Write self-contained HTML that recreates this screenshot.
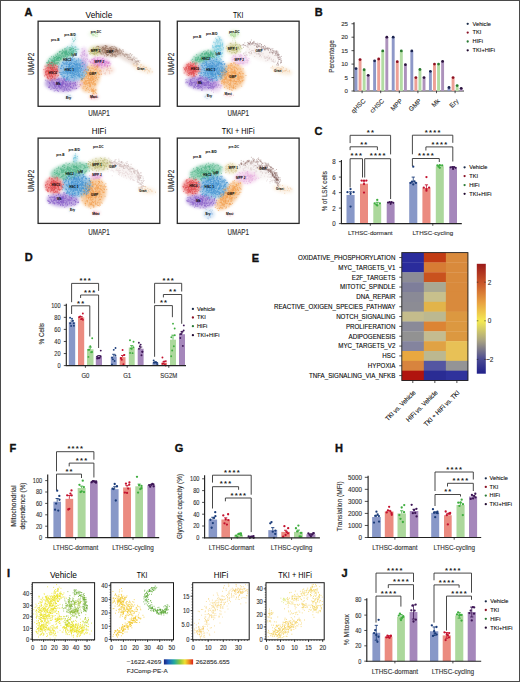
<!DOCTYPE html>
<html><head><meta charset="utf-8"><style>
html,body{margin:0;padding:0;background:#fff;width:520px;height:682px;overflow:hidden;}
svg{display:block;font-family:"Liberation Sans",sans-serif;}
</style></head><body>
<svg width="520" height="682" viewBox="0 0 520 682">
<rect x="0" y="0" width="520" height="682" fill="#fff"/>
<text x="24.60" y="16.30" font-size="11" font-weight="bold" fill="#111" stroke="#111" stroke-width="0.35">A</text>
<defs><filter id="bl" x="-50%" y="-50%" width="200%" height="200%"><feGaussianBlur stdDeviation="1.7"/></filter></defs>
<svg x="38.1" y="21.2" width="121.70000000000002" height="85.1" viewBox="38.1 21.2 121.70000000000002 85.1" overflow="hidden">
<ellipse cx="142.0" cy="68.0" rx="11.9" ry="3.8" transform="rotate(22 142.0 68.0)" fill="#f6e0c4" opacity="0.56" filter="url(#bl)"/>
<ellipse cx="126.0" cy="57.0" rx="13.0" ry="3.8" transform="rotate(30 126.0 57.0)" fill="#c8a898" opacity="0.40" filter="url(#bl)"/>
<ellipse cx="108.0" cy="51.0" rx="13.0" ry="5.6" transform="rotate(8 108.0 51.0)" fill="#c8a898" opacity="0.76" filter="url(#bl)"/>
<ellipse cx="95.0" cy="51.0" rx="6.5" ry="4.9" transform="rotate(0 95.0 51.0)" fill="#d8d4a0" opacity="0.76" filter="url(#bl)"/>
<ellipse cx="105.0" cy="70.0" rx="9.7" ry="4.9" transform="rotate(0 105.0 70.0)" fill="#f4d0c0" opacity="0.48" filter="url(#bl)"/>
<ellipse cx="84.0" cy="60.0" rx="4.3" ry="13.0" transform="rotate(0 84.0 60.0)" fill="#e4c4ec" opacity="0.72" filter="url(#bl)"/>
<ellipse cx="100.0" cy="62.5" rx="10.8" ry="5.4" transform="rotate(5 100.0 62.5)" fill="#e8a8e0" opacity="0.72" filter="url(#bl)"/>
<ellipse cx="90.5" cy="78.0" rx="9.2" ry="15.1" transform="rotate(22 90.5 78.0)" fill="#f6bc80" opacity="0.72" filter="url(#bl)"/>
<ellipse cx="94.0" cy="91.0" rx="3.2" ry="4.3" transform="rotate(0 94.0 91.0)" fill="#f6bc80" opacity="0.48" filter="url(#bl)"/>
<ellipse cx="76.0" cy="84.0" rx="6.5" ry="5.4" transform="rotate(0 76.0 84.0)" fill="#e4c4ec" opacity="0.56" filter="url(#bl)"/>
<ellipse cx="72.0" cy="50.5" rx="7.0" ry="5.4" transform="rotate(-10 72.0 50.5)" fill="#a8dce8" opacity="0.64" filter="url(#bl)"/>
<ellipse cx="54.0" cy="61.5" rx="8.6" ry="5.4" transform="rotate(-35 54.0 61.5)" fill="#78c8a4" opacity="0.76" filter="url(#bl)"/>
<ellipse cx="65.0" cy="54.0" rx="10.8" ry="5.2" transform="rotate(-20 65.0 54.0)" fill="#78c8a4" opacity="0.76" filter="url(#bl)"/>
<ellipse cx="61.0" cy="84.5" rx="16.2" ry="7.3" transform="rotate(5 61.0 84.5)" fill="#a888d8" opacity="0.76" filter="url(#bl)"/>
<ellipse cx="73.0" cy="69.5" rx="14.6" ry="11.9" transform="rotate(0 73.0 69.5)" fill="#78b4e0" opacity="0.76" filter="url(#bl)"/>
<ellipse cx="51.5" cy="71.5" rx="7.6" ry="8.6" transform="rotate(0 51.5 71.5)" fill="#ec7272" opacity="0.76" filter="url(#bl)"/>
<ellipse cx="94.0" cy="97.0" rx="4.9" ry="2.2" transform="rotate(0 94.0 97.0)" fill="#f0b0b8" opacity="0.64" filter="url(#bl)"/>
<ellipse cx="68.5" cy="97.0" rx="3.8" ry="2.4" transform="rotate(0 68.5 97.0)" fill="#d0e0ee" opacity="0.64" filter="url(#bl)"/>
<ellipse cx="74.0" cy="40.0" rx="2.2" ry="6.5" transform="rotate(20 74.0 40.0)" fill="#a8dce8" opacity="0.32" filter="url(#bl)"/>
<ellipse cx="94.0" cy="34.0" rx="5.4" ry="3.2" transform="rotate(0 94.0 34.0)" fill="#d0ecc0" opacity="0.40" filter="url(#bl)"/>
<path d="M147.6 73.0h.1M142.8 66.9h.1M136.4 65.8h.1M137.7 63.6h.1M142.9 68.6h.1M145.4 67.6h.1M142.1 67.9h.1M134.0 65.8h.1M143.1 68.2h.1M148.2 70.9h.1M146.9 69.3h.1M142.4 70.1h.1M145.5 69.6h.1M136.2 66.5h.1M141.9 69.3h.1M142.4 70.2h.1M141.6 68.2h.1M146.1 67.6h.1M140.3 66.4h.1M152.2 71.9h.1M144.9 70.3h.1M141.6 64.9h.1M147.2 69.3h.1M146.5 67.4h.1M138.9 69.1h.1M150.2 68.8h.1M135.2 65.2h.1M145.6 69.8h.1M144.2 67.0h.1M144.3 71.0h.1M140.7 64.8h.1M137.6 67.7h.1M133.2 64.3h.1M137.0 65.7h.1M140.7 67.5h.1M149.4 71.8h.1M148.9 70.5h.1M139.3 67.6h.1M143.6 66.3h.1M144.7 68.0h.1" stroke="#e8b888" stroke-width="0.8" stroke-linecap="round" opacity="0.75"/>
<path d="M128.0 54.5h.1M124.5 56.2h.1M139.6 62.3h.1M135.6 58.2h.1M131.6 59.4h.1M126.7 55.0h.1M128.2 57.5h.1M124.5 55.8h.1M125.3 53.9h.1M125.7 54.5h.1M114.5 49.8h.1M134.0 56.8h.1M120.5 49.9h.1M114.6 50.6h.1M132.2 59.5h.1M128.7 57.1h.1M115.7 51.0h.1M119.4 50.3h.1M120.8 52.6h.1M121.9 53.9h.1M116.6 49.7h.1M115.8 49.8h.1M113.4 50.2h.1M132.5 60.2h.1M129.3 57.2h.1M138.0 60.8h.1M117.5 50.4h.1M126.9 57.8h.1M112.5 54.2h.1M134.0 63.6h.1M123.1 51.5h.1M123.6 54.0h.1M137.8 61.5h.1M136.3 61.9h.1M137.2 60.3h.1M125.0 56.0h.1M117.1 50.0h.1M119.3 52.7h.1M119.1 52.2h.1M135.2 60.6h.1M115.7 55.3h.1M132.3 60.1h.1M132.0 54.5h.1M123.4 51.3h.1M126.5 54.6h.1M132.2 58.8h.1M136.5 63.9h.1M129.2 55.0h.1M120.8 55.7h.1M131.5 55.4h.1M115.2 50.7h.1M115.8 51.6h.1M133.6 58.1h.1M129.0 55.1h.1M127.7 56.4h.1M121.1 50.7h.1M135.1 62.0h.1M133.1 59.1h.1M130.7 57.8h.1M136.4 61.2h.1M137.1 63.1h.1M116.9 53.7h.1M116.2 50.0h.1M138.4 61.8h.1M118.5 51.9h.1M129.9 57.2h.1M137.0 64.6h.1M124.2 54.7h.1M139.9 60.7h.1M115.6 52.8h.1M135.3 62.0h.1M129.8 59.1h.1M120.7 53.0h.1M121.6 51.8h.1M127.4 54.3h.1M122.4 54.7h.1M122.8 49.9h.1M119.6 53.9h.1M126.9 55.3h.1M112.6 50.7h.1M127.7 55.8h.1M128.6 59.4h.1M126.2 54.1h.1M126.0 54.3h.1M138.0 64.4h.1M138.2 61.5h.1M111.7 50.5h.1M121.0 51.7h.1M137.2 61.7h.1M136.8 58.2h.1M134.2 57.9h.1M116.3 51.6h.1M130.6 57.1h.1M116.5 49.8h.1M124.2 54.8h.1M123.5 55.1h.1M121.5 52.2h.1M123.1 53.6h.1M122.5 53.6h.1M120.1 50.5h.1M122.3 52.9h.1M110.5 49.7h.1M127.5 57.9h.1M131.7 60.1h.1M125.5 56.1h.1M130.2 53.8h.1M119.6 51.6h.1M111.0 50.3h.1M116.9 48.0h.1M119.8 49.7h.1M121.7 50.9h.1M130.2 53.7h.1M136.2 61.9h.1M119.5 53.7h.1M134.4 59.6h.1M130.2 59.6h.1M116.6 50.7h.1M138.3 60.7h.1M122.9 49.9h.1M116.4 48.1h.1" stroke="#9a7c70" stroke-width="0.6" stroke-linecap="round" opacity="0.8"/>
<path d="M103.5 46.9h.1M95.0 51.2h.1M113.8 51.4h.1M110.4 48.7h.1M110.4 53.3h.1M116.6 56.3h.1M110.9 51.1h.1M103.3 48.8h.1M111.5 53.0h.1M107.5 55.3h.1M111.8 51.6h.1M106.8 51.0h.1M102.7 47.7h.1M110.3 49.8h.1M105.9 53.9h.1M106.4 54.2h.1M107.4 54.9h.1M111.4 46.9h.1M115.4 51.5h.1M96.3 49.7h.1M109.4 47.8h.1M104.2 51.9h.1M116.0 55.1h.1M114.9 54.9h.1M112.3 53.9h.1M103.5 49.4h.1M102.4 50.2h.1M107.8 50.9h.1M101.8 51.1h.1M105.6 53.2h.1M110.4 47.4h.1M99.4 50.0h.1M104.9 51.8h.1M112.8 51.7h.1M98.4 46.5h.1M111.8 48.8h.1M114.6 51.7h.1M111.4 49.2h.1M106.6 52.3h.1M103.0 48.1h.1M107.7 51.1h.1M103.0 52.1h.1M97.8 52.5h.1M100.0 47.7h.1M116.3 49.6h.1M98.1 49.8h.1M102.9 47.4h.1M104.1 48.5h.1M102.6 47.5h.1M117.8 50.6h.1M114.3 48.2h.1M111.7 48.2h.1M105.0 52.3h.1M105.6 45.5h.1M104.8 50.1h.1M111.8 48.9h.1M106.2 50.9h.1M98.2 49.3h.1M102.9 51.4h.1M107.4 50.5h.1M106.1 48.3h.1M105.4 47.3h.1M108.8 52.8h.1M111.7 50.2h.1M117.7 54.6h.1M102.4 49.8h.1M98.4 49.3h.1M111.8 54.9h.1M106.2 46.0h.1M106.5 54.4h.1M108.4 54.4h.1M112.4 55.7h.1M111.8 49.8h.1M105.6 45.8h.1M120.4 53.8h.1M104.5 48.9h.1M98.6 51.5h.1M109.1 49.5h.1M105.6 49.5h.1M114.4 51.4h.1M116.5 50.0h.1M104.5 49.2h.1M104.8 50.3h.1M113.7 55.0h.1M101.2 53.4h.1M108.0 55.2h.1M107.3 48.7h.1M112.5 53.3h.1M105.3 50.7h.1M108.7 51.9h.1M98.2 46.5h.1M108.2 51.7h.1M105.5 46.0h.1M116.1 51.3h.1M101.2 54.2h.1M114.4 54.6h.1M112.8 53.2h.1M102.2 50.3h.1M109.9 52.9h.1M111.2 48.8h.1M104.5 49.6h.1M107.2 48.6h.1M97.6 46.3h.1M109.8 51.2h.1M112.1 46.6h.1M105.2 52.9h.1M96.7 46.6h.1M97.7 52.7h.1M108.4 49.5h.1M108.9 50.9h.1M113.0 54.8h.1M113.3 52.6h.1M112.2 53.7h.1M115.6 47.2h.1M110.0 51.5h.1M109.0 50.5h.1M107.4 52.2h.1M109.1 51.5h.1M102.1 46.9h.1M104.2 45.8h.1M105.2 48.4h.1M105.4 49.1h.1M103.5 49.1h.1M102.3 48.1h.1M105.9 50.6h.1M104.0 52.6h.1M111.1 56.6h.1M100.0 51.6h.1M106.4 46.6h.1M106.8 46.5h.1M115.1 56.8h.1M115.7 48.0h.1M110.4 51.7h.1M111.0 48.7h.1M115.0 52.8h.1M105.0 51.1h.1M100.3 52.4h.1M109.0 50.8h.1M105.5 50.5h.1M108.9 50.1h.1M113.6 52.3h.1M107.8 48.7h.1M114.8 55.4h.1M112.8 46.8h.1M105.6 53.3h.1M107.8 54.3h.1M105.1 52.7h.1M105.7 50.1h.1M104.6 48.2h.1M117.5 52.0h.1M113.2 48.2h.1M95.8 48.0h.1M110.7 49.5h.1M110.9 53.5h.1M105.4 50.5h.1M103.2 53.2h.1M118.3 53.8h.1M105.3 48.8h.1M106.0 53.1h.1M103.0 54.2h.1M100.7 50.0h.1M115.2 56.7h.1M105.3 52.7h.1M94.9 49.9h.1M114.2 46.4h.1M117.7 50.2h.1M112.5 54.0h.1M110.5 47.4h.1M108.2 48.5h.1M116.2 50.8h.1M102.3 51.9h.1M115.3 51.6h.1M109.5 52.5h.1M105.5 47.5h.1M111.3 50.5h.1M99.6 52.1h.1M110.5 51.7h.1M103.6 49.8h.1M111.4 52.8h.1M103.4 48.0h.1M110.0 51.8h.1M113.5 48.7h.1M112.8 56.3h.1M113.6 52.1h.1M113.8 48.4h.1M104.6 55.9h.1M98.7 46.7h.1M113.1 50.0h.1M105.0 47.6h.1M118.2 50.8h.1M107.0 46.1h.1M112.6 51.6h.1M110.4 55.5h.1M109.3 48.1h.1M101.9 50.4h.1M116.3 49.0h.1M106.6 50.4h.1M112.2 49.3h.1M109.6 53.3h.1M107.8 50.7h.1M111.5 53.0h.1M115.9 49.3h.1M115.4 51.4h.1M101.4 48.6h.1M100.7 49.5h.1M100.7 52.0h.1M105.9 52.8h.1M100.1 49.8h.1M112.0 54.7h.1M117.7 52.2h.1M102.9 49.3h.1M115.3 49.6h.1M119.4 49.0h.1M111.6 49.4h.1M97.5 50.6h.1M100.7 53.1h.1M102.6 50.5h.1M105.1 50.9h.1M103.9 52.6h.1M111.6 51.7h.1M106.5 56.0h.1M104.0 49.3h.1M112.6 51.6h.1M98.3 49.3h.1M106.1 48.1h.1M109.6 48.2h.1M106.9 47.9h.1M117.4 51.6h.1M110.5 52.1h.1M112.2 51.2h.1" stroke="#8a6450" stroke-width="0.8" stroke-linecap="round" opacity="0.75"/>
<path d="M97.3 51.3h.1M91.1 53.1h.1M95.7 50.2h.1M91.5 50.1h.1M96.4 50.8h.1M92.0 50.2h.1M94.3 50.0h.1M94.8 52.8h.1M89.7 51.5h.1M98.3 47.9h.1M94.4 50.1h.1M91.6 53.1h.1M94.0 53.6h.1M96.2 50.4h.1M95.9 50.2h.1M90.1 54.2h.1M96.1 53.6h.1M89.6 53.4h.1M97.5 50.9h.1M88.6 51.2h.1M93.0 50.6h.1M95.2 49.0h.1M94.6 51.0h.1M99.4 50.8h.1M94.6 53.8h.1M90.3 52.4h.1M96.2 49.6h.1M94.3 54.5h.1M93.7 51.6h.1M96.3 53.7h.1M91.0 50.4h.1M96.8 52.9h.1M94.1 54.4h.1M94.8 52.6h.1M92.7 52.9h.1M92.8 53.6h.1M97.6 55.2h.1M93.7 48.4h.1M97.5 51.7h.1M93.4 48.0h.1M97.4 46.6h.1M93.6 53.4h.1M94.2 52.0h.1M96.5 52.3h.1M98.2 52.5h.1M93.9 48.2h.1M94.1 49.5h.1M96.2 53.8h.1M97.3 49.4h.1M95.6 51.0h.1M93.6 53.9h.1M96.8 51.8h.1M92.8 53.6h.1M94.4 50.9h.1M94.2 52.1h.1M95.0 54.9h.1M94.6 50.4h.1M99.3 52.7h.1M97.1 52.2h.1M94.9 51.7h.1M96.6 51.2h.1M93.6 49.7h.1M94.0 49.4h.1M92.4 50.8h.1M97.7 50.3h.1M96.4 48.0h.1M97.3 48.4h.1M97.1 49.3h.1M93.2 48.2h.1M91.2 50.5h.1M92.1 50.5h.1M98.4 49.1h.1M94.0 50.8h.1M93.1 50.9h.1M95.7 53.3h.1M92.8 50.5h.1M94.5 53.7h.1M92.0 51.4h.1M97.3 52.3h.1M92.9 48.7h.1" stroke="#b0ac60" stroke-width="0.8" stroke-linecap="round" opacity="0.75"/>
<path d="M96.7 68.8h.1M103.9 66.6h.1M108.8 70.4h.1M103.9 68.8h.1M107.1 69.4h.1M107.3 68.9h.1M109.8 66.3h.1M100.2 74.1h.1M109.7 73.7h.1M101.4 71.6h.1M109.5 72.1h.1M104.2 73.3h.1M106.9 67.1h.1M110.7 68.4h.1M100.8 72.0h.1M108.7 68.3h.1M106.1 67.0h.1M99.8 71.7h.1M109.8 70.8h.1M111.8 70.8h.1M106.3 70.0h.1M106.9 70.8h.1M100.8 69.9h.1M110.5 68.2h.1M107.7 66.1h.1M105.2 74.1h.1M105.4 72.9h.1M103.3 71.0h.1M106.7 65.1h.1M101.4 74.3h.1" stroke="#e8a898" stroke-width="0.8" stroke-linecap="round" opacity="0.75"/>
<path d="M82.3 67.2h.1M87.4 59.7h.1M86.0 62.2h.1M82.8 63.5h.1M84.9 54.1h.1M83.1 51.9h.1M83.3 59.8h.1M82.0 48.8h.1M85.3 67.6h.1M82.2 60.4h.1M88.2 61.7h.1M81.2 67.6h.1M85.4 68.5h.1M85.5 63.2h.1M86.9 58.4h.1M84.5 53.5h.1M81.7 61.3h.1M84.5 50.5h.1M84.7 66.1h.1M81.5 58.0h.1M87.4 54.9h.1M85.1 64.7h.1M84.4 60.9h.1M85.1 61.7h.1M84.3 51.1h.1M84.5 55.3h.1M86.0 60.7h.1M81.8 52.7h.1M86.1 56.1h.1M83.8 60.4h.1M86.5 55.1h.1M83.2 63.7h.1M85.2 59.1h.1M81.9 56.3h.1M80.8 64.7h.1M87.0 56.2h.1M83.1 51.3h.1M82.6 53.9h.1M84.0 70.4h.1M86.1 65.9h.1M82.1 65.0h.1M82.6 54.7h.1M85.5 59.4h.1M83.4 64.5h.1M81.7 64.1h.1M87.1 59.2h.1M83.0 66.7h.1M81.8 62.2h.1M82.9 61.8h.1M82.4 63.6h.1M85.1 70.5h.1M83.3 62.6h.1M80.5 55.3h.1M84.5 51.8h.1M83.8 54.6h.1M85.0 63.6h.1M83.1 63.9h.1M82.9 60.7h.1M85.0 63.3h.1M85.2 70.2h.1M82.7 59.1h.1M80.3 65.2h.1M81.8 56.4h.1M83.0 62.5h.1M83.4 58.3h.1M84.2 58.0h.1M84.0 54.1h.1M82.9 52.7h.1M85.7 65.4h.1M85.3 62.0h.1M82.8 63.3h.1M81.6 69.0h.1M84.5 69.3h.1M82.6 66.1h.1M87.2 65.9h.1M84.6 66.5h.1M83.1 70.6h.1M81.7 55.4h.1M84.0 55.4h.1M87.5 64.0h.1" stroke="#c898d8" stroke-width="0.8" stroke-linecap="round" opacity="0.75"/>
<path d="M96.0 66.4h.1M106.8 62.1h.1M107.5 66.1h.1M97.6 60.9h.1M101.3 65.5h.1M107.5 66.9h.1M98.0 57.8h.1M91.3 65.5h.1M105.0 65.9h.1M100.0 62.7h.1M102.3 63.9h.1M100.6 60.1h.1M93.1 62.3h.1M98.9 66.0h.1M95.1 57.1h.1M90.2 61.6h.1M108.4 62.4h.1M96.4 63.1h.1M107.4 65.9h.1M104.2 65.2h.1M98.5 62.6h.1M101.7 67.2h.1M89.1 60.2h.1M101.9 62.1h.1M99.4 61.8h.1M95.1 63.3h.1M106.5 62.2h.1M101.9 65.5h.1M96.8 62.0h.1M93.2 65.9h.1M108.6 62.7h.1M109.8 65.5h.1M90.8 62.9h.1M101.1 63.9h.1M103.5 61.7h.1M105.6 63.8h.1M109.5 63.0h.1M103.2 58.2h.1M97.1 60.3h.1M104.8 61.3h.1M105.9 61.7h.1M104.9 61.4h.1M93.9 63.5h.1M98.7 63.7h.1M92.0 59.2h.1M97.8 67.3h.1M102.4 58.5h.1M101.9 59.5h.1M104.7 65.1h.1M110.7 63.9h.1M97.3 64.3h.1M93.4 60.8h.1M95.1 60.6h.1M93.9 58.3h.1M94.4 63.0h.1M100.2 62.3h.1M102.2 64.6h.1M101.9 67.9h.1M101.3 63.6h.1M97.3 65.0h.1M104.3 60.1h.1M101.7 62.9h.1M94.0 58.6h.1M93.9 60.9h.1M98.6 61.7h.1M99.7 63.5h.1M98.0 66.3h.1M99.6 64.2h.1M98.8 65.2h.1M99.9 60.4h.1M100.9 61.7h.1M95.0 67.3h.1M101.8 61.6h.1M95.5 63.0h.1M100.0 61.9h.1M96.4 66.0h.1M101.1 62.1h.1M93.9 60.0h.1M103.8 60.9h.1M103.3 62.5h.1M101.9 63.5h.1M97.9 61.6h.1M99.5 64.1h.1M99.6 60.7h.1M100.6 62.4h.1M101.3 62.5h.1M99.6 65.6h.1M108.4 63.5h.1M107.7 65.5h.1M105.9 63.7h.1M100.9 64.6h.1M95.2 62.2h.1M94.2 64.3h.1M100.9 64.1h.1M98.5 60.4h.1M104.9 61.8h.1M98.9 62.5h.1M102.3 62.9h.1M95.0 59.4h.1M105.1 62.2h.1M99.0 60.2h.1M104.5 64.1h.1M97.7 58.0h.1M109.1 61.9h.1M94.3 60.8h.1M94.3 62.0h.1M97.5 59.3h.1M103.6 60.7h.1M90.7 62.5h.1M97.5 59.5h.1M91.8 60.0h.1M97.1 61.0h.1M97.2 65.4h.1M105.2 63.7h.1M102.9 61.6h.1M92.6 63.2h.1M107.0 61.4h.1M96.7 60.5h.1M93.3 63.3h.1M94.3 65.5h.1M108.3 63.4h.1M100.0 60.4h.1M104.5 63.1h.1M92.8 59.5h.1M102.4 61.5h.1M102.1 63.3h.1M107.2 62.9h.1M105.0 65.7h.1M106.7 62.2h.1M99.2 60.9h.1M100.9 59.6h.1M95.8 61.1h.1M98.4 64.9h.1M94.6 61.6h.1M101.4 61.9h.1M94.8 59.9h.1M97.6 60.9h.1M97.2 63.3h.1M100.0 57.3h.1M107.8 63.2h.1M97.7 65.1h.1M99.5 61.9h.1M95.4 64.4h.1M104.4 60.7h.1M96.9 65.3h.1M96.5 61.1h.1M96.2 61.6h.1M104.3 63.0h.1M104.8 64.4h.1M89.9 61.6h.1" stroke="#d070c8" stroke-width="0.8" stroke-linecap="round" opacity="0.75"/>
<path d="M94.8 67.2h.1M93.7 78.9h.1M87.2 80.6h.1M92.4 84.2h.1M88.5 76.9h.1M90.7 78.3h.1M94.8 84.4h.1M92.2 76.4h.1M95.2 80.4h.1M89.7 78.9h.1M93.1 79.3h.1M89.4 83.6h.1M88.3 75.3h.1M89.0 82.6h.1M94.0 75.8h.1M87.4 73.9h.1M86.2 83.0h.1M92.8 79.4h.1M89.7 67.8h.1M89.4 82.2h.1M92.6 77.0h.1M97.9 66.1h.1M91.1 89.6h.1M90.6 79.8h.1M87.3 83.5h.1M88.4 72.8h.1M95.8 69.4h.1M91.2 81.8h.1M91.8 74.8h.1M98.8 77.3h.1M89.0 83.5h.1M87.7 84.8h.1M89.8 79.7h.1M88.7 82.3h.1M85.6 82.8h.1M97.3 72.9h.1M88.1 67.0h.1M85.6 81.2h.1M85.8 90.3h.1M100.7 70.6h.1M89.8 75.4h.1M94.8 85.6h.1M96.3 74.2h.1M101.4 74.1h.1M93.1 71.8h.1M86.3 78.2h.1M85.2 81.0h.1M92.4 79.2h.1M90.1 86.3h.1M97.8 72.3h.1M90.7 84.8h.1M90.0 74.9h.1M93.5 84.2h.1M87.3 87.5h.1M89.6 90.7h.1M86.4 83.8h.1M84.4 70.7h.1M99.6 74.4h.1M90.8 75.5h.1M89.4 86.2h.1M97.2 79.6h.1M89.5 84.2h.1M95.8 78.0h.1M99.6 70.8h.1M95.2 69.5h.1M90.8 72.1h.1M93.1 80.3h.1M89.3 83.0h.1M94.4 74.1h.1M86.0 80.3h.1M90.6 77.2h.1M91.4 80.7h.1M80.8 85.7h.1M90.8 82.3h.1M85.8 84.5h.1M96.4 74.9h.1M96.4 75.0h.1M81.0 80.5h.1M88.0 72.8h.1M87.0 76.0h.1M88.7 78.5h.1M88.1 89.3h.1M91.0 82.0h.1M90.3 84.1h.1M93.3 81.3h.1M88.4 69.9h.1M92.5 76.4h.1M90.3 74.0h.1M84.8 84.0h.1M96.9 71.0h.1M91.3 78.2h.1M85.9 84.1h.1M91.6 79.0h.1M84.6 82.8h.1M90.7 80.2h.1M83.9 86.6h.1M87.3 67.0h.1M87.8 73.1h.1M88.7 78.7h.1M94.3 83.8h.1M91.4 77.2h.1M89.9 83.8h.1M83.0 88.2h.1M88.2 83.5h.1M85.4 86.2h.1M93.7 81.7h.1M93.8 77.0h.1M83.9 84.0h.1M87.1 72.7h.1M88.4 70.0h.1M86.7 82.8h.1M84.8 81.2h.1M85.4 69.6h.1M85.3 80.9h.1M86.5 88.6h.1M86.3 88.7h.1M94.3 81.7h.1M86.7 71.5h.1M98.9 74.7h.1M87.4 73.3h.1M95.2 80.7h.1M86.1 71.5h.1M90.1 86.5h.1M95.2 83.8h.1M94.9 72.5h.1M91.9 68.3h.1M88.9 80.4h.1M93.1 72.0h.1M90.3 84.9h.1M89.9 85.5h.1M93.3 79.4h.1M92.1 76.8h.1M90.4 70.5h.1M91.3 82.4h.1M94.1 79.1h.1M88.9 92.4h.1M89.5 73.2h.1M87.5 74.1h.1M84.8 78.2h.1M90.0 86.9h.1M96.5 77.6h.1M93.3 73.2h.1M90.5 78.7h.1M92.6 78.4h.1M83.7 82.8h.1M93.6 68.8h.1M82.0 79.7h.1M81.7 79.5h.1M95.0 83.9h.1M92.2 83.0h.1M87.6 78.5h.1M81.6 79.0h.1M92.6 80.0h.1M95.2 78.6h.1M80.1 84.4h.1M92.5 74.2h.1M89.4 74.8h.1M94.6 70.2h.1M91.9 75.9h.1M93.9 77.0h.1M95.3 73.3h.1M92.7 76.6h.1M93.7 82.1h.1M95.7 76.5h.1M88.2 76.9h.1M87.2 74.6h.1M98.2 73.1h.1M88.1 77.6h.1M89.5 74.2h.1M93.2 74.2h.1M81.2 78.7h.1M91.2 80.4h.1M92.2 80.1h.1M86.4 81.1h.1M89.9 79.0h.1M86.0 76.8h.1M92.5 72.4h.1M88.6 74.0h.1M92.2 74.0h.1M86.0 76.7h.1M84.9 78.2h.1M87.7 75.4h.1M86.6 72.6h.1M92.2 72.1h.1M88.4 72.6h.1M86.3 77.0h.1M88.2 75.9h.1M88.9 82.4h.1M89.1 74.3h.1M97.7 64.8h.1M93.0 72.3h.1M94.7 77.3h.1M84.4 83.3h.1M90.6 71.5h.1M97.3 66.3h.1M88.0 82.2h.1M83.2 82.1h.1M90.7 74.0h.1M80.4 84.4h.1M96.6 77.9h.1M96.8 66.4h.1M89.8 80.5h.1M89.2 72.7h.1M91.8 72.4h.1M82.0 80.1h.1M92.4 83.0h.1M90.6 85.7h.1M92.0 74.4h.1M84.7 79.3h.1M89.6 68.7h.1M89.6 81.9h.1M93.1 78.2h.1M92.7 78.1h.1M89.4 75.5h.1M91.1 83.3h.1M96.1 68.9h.1M88.3 80.9h.1M87.7 80.5h.1M87.9 85.7h.1M81.2 75.4h.1M92.9 83.9h.1M89.1 75.8h.1M88.0 80.2h.1M94.9 75.4h.1M93.4 82.6h.1M83.4 72.3h.1M91.7 73.5h.1M91.0 77.8h.1M90.9 76.0h.1M93.1 74.6h.1M97.2 67.5h.1M92.0 75.0h.1M88.3 79.2h.1M85.4 74.4h.1M90.7 74.4h.1M86.2 81.3h.1M93.2 71.3h.1M84.7 82.7h.1M90.0 80.5h.1M90.0 79.4h.1M90.9 70.9h.1M89.0 70.8h.1M95.7 84.7h.1M91.0 77.4h.1M82.3 80.3h.1M81.1 81.8h.1M92.2 68.2h.1M98.7 74.0h.1M89.9 76.5h.1M83.6 78.5h.1" stroke="#f09238" stroke-width="0.8" stroke-linecap="round" opacity="0.75"/>
<path d="M92.0 90.6h.1M92.3 94.1h.1M94.1 93.9h.1M93.2 91.4h.1M94.8 91.1h.1M93.6 93.2h.1M94.6 91.1h.1M92.5 91.9h.1M93.5 90.5h.1M91.8 90.3h.1M96.0 90.0h.1M92.5 90.4h.1M95.6 89.7h.1M91.6 91.5h.1M93.5 91.3h.1M91.5 88.8h.1M93.5 91.7h.1M96.6 93.7h.1M95.7 92.9h.1M95.5 92.3h.1M94.9 90.2h.1M93.3 93.6h.1M92.3 89.9h.1M93.7 91.4h.1M93.0 90.1h.1M92.8 89.5h.1M92.2 91.3h.1M93.9 92.2h.1M93.5 88.9h.1M93.2 90.4h.1" stroke="#f09238" stroke-width="0.8" stroke-linecap="round" opacity="0.75"/>
<path d="M71.6 83.8h.1M76.3 80.3h.1M72.1 86.0h.1M73.2 82.4h.1M74.2 82.4h.1M77.6 84.5h.1M82.2 83.1h.1M77.1 82.3h.1M78.8 80.3h.1M73.5 83.5h.1M81.9 84.0h.1M71.4 85.4h.1M79.2 82.3h.1M71.0 83.0h.1M75.2 83.4h.1M75.5 84.1h.1M74.6 81.0h.1M79.5 86.5h.1M72.6 81.8h.1M73.4 78.7h.1M72.1 85.1h.1M72.1 83.4h.1M75.2 82.5h.1M77.4 84.4h.1M79.7 84.8h.1M74.2 88.1h.1M76.9 85.2h.1M76.9 83.2h.1M73.2 87.1h.1M73.8 83.2h.1M78.6 86.5h.1M76.1 88.9h.1M80.1 84.5h.1M75.3 86.8h.1M71.0 85.8h.1M78.0 87.9h.1M80.2 84.8h.1M77.4 81.6h.1M77.6 82.1h.1M72.0 88.3h.1" stroke="#c898d8" stroke-width="0.8" stroke-linecap="round" opacity="0.75"/>
<path d="M77.6 49.2h.1M68.4 55.0h.1M71.3 52.2h.1M72.4 54.3h.1M75.8 49.4h.1M76.2 52.2h.1M76.0 47.2h.1M74.8 50.0h.1M72.2 46.6h.1M78.8 49.2h.1M72.8 46.6h.1M71.5 51.1h.1M71.9 47.7h.1M73.0 49.3h.1M74.4 47.2h.1M75.3 47.3h.1M68.7 52.3h.1M74.1 51.2h.1M70.1 50.1h.1M69.6 53.8h.1M65.9 48.6h.1M68.5 52.4h.1M67.6 53.3h.1M73.2 51.3h.1M71.4 54.0h.1M70.4 49.5h.1M72.0 53.9h.1M72.3 55.2h.1M76.9 52.4h.1M75.5 53.2h.1M72.5 50.1h.1M67.5 46.6h.1M72.0 47.7h.1M71.6 48.5h.1M72.7 47.9h.1M72.7 50.3h.1M70.4 50.1h.1M65.9 51.8h.1M72.2 51.1h.1M72.7 47.9h.1M76.5 51.6h.1M73.0 49.7h.1M69.5 49.4h.1M73.2 50.5h.1M74.7 50.6h.1M71.1 53.6h.1M66.9 48.0h.1M73.0 49.1h.1M66.8 47.7h.1M72.6 53.8h.1M76.5 49.4h.1M70.8 48.6h.1M78.0 49.2h.1M71.1 52.6h.1M75.7 49.9h.1M75.4 46.7h.1M73.7 51.7h.1M73.6 51.9h.1M72.8 51.8h.1M65.0 49.9h.1" stroke="#70c8c0" stroke-width="0.8" stroke-linecap="round" opacity="0.75"/>
<path d="M55.2 57.3h.1M54.0 67.6h.1M54.6 61.9h.1M57.7 64.2h.1M52.0 60.4h.1M56.9 63.7h.1M48.0 65.3h.1M52.9 62.7h.1M56.6 60.6h.1M48.5 64.6h.1M53.5 61.7h.1M57.0 58.4h.1M51.7 62.6h.1M55.1 62.9h.1M46.4 62.7h.1M55.1 63.6h.1M54.2 62.1h.1M59.9 57.7h.1M54.9 60.7h.1M57.9 60.3h.1M54.2 63.5h.1M54.8 59.5h.1M59.4 64.0h.1M48.9 61.8h.1M53.3 61.3h.1M54.7 60.9h.1M56.1 63.4h.1M55.8 60.3h.1M55.8 60.4h.1M54.9 60.2h.1M51.7 62.6h.1M56.7 59.7h.1M55.6 64.2h.1M55.6 57.7h.1M51.2 63.0h.1M57.1 62.5h.1M50.4 68.1h.1M54.5 61.8h.1M57.1 60.2h.1M56.1 63.1h.1M56.3 56.5h.1M47.3 63.0h.1M54.5 60.4h.1M52.6 60.9h.1M52.0 64.5h.1M54.3 62.2h.1M57.9 63.3h.1M60.1 55.5h.1M58.5 58.9h.1M57.1 62.8h.1M51.9 62.6h.1M58.1 60.5h.1M60.8 58.6h.1M54.3 61.0h.1M53.4 56.4h.1M58.7 59.2h.1M52.1 63.1h.1M54.1 57.9h.1M58.3 57.6h.1M54.5 60.4h.1M53.4 64.8h.1M50.8 63.5h.1M54.0 57.8h.1M54.7 58.3h.1M56.4 58.8h.1M58.2 58.4h.1M52.1 65.8h.1M59.3 60.7h.1M47.7 62.7h.1M57.7 60.4h.1M52.7 61.8h.1M51.5 56.7h.1M48.3 61.8h.1M56.9 58.4h.1M46.9 66.0h.1M51.8 60.8h.1M48.0 63.0h.1M54.3 59.9h.1M58.4 62.5h.1M50.6 59.1h.1M50.9 63.9h.1M56.2 59.4h.1M54.1 62.1h.1M59.0 60.2h.1M51.9 61.1h.1M53.0 60.3h.1M52.2 65.9h.1M53.1 58.9h.1M53.8 58.4h.1M48.5 60.4h.1M49.4 63.2h.1M54.6 60.7h.1M54.9 60.9h.1M54.1 64.9h.1M48.9 62.0h.1M60.9 57.3h.1M52.7 67.3h.1M53.5 61.2h.1M50.6 63.6h.1M56.3 59.8h.1M52.9 63.4h.1M58.1 58.7h.1M52.0 61.7h.1M54.3 59.4h.1M57.7 57.2h.1M57.2 58.7h.1M54.7 57.5h.1M51.8 60.0h.1M51.3 63.2h.1M52.9 68.2h.1M60.7 59.5h.1M53.1 60.3h.1M49.5 67.1h.1M50.0 64.1h.1M52.0 62.9h.1M59.3 57.5h.1M54.6 63.8h.1M49.5 58.7h.1M51.1 62.8h.1M52.8 65.3h.1" stroke="#3aa878" stroke-width="0.8" stroke-linecap="round" opacity="0.75"/>
<path d="M69.7 49.7h.1M65.3 54.4h.1M62.4 53.3h.1M66.6 52.3h.1M73.4 50.8h.1M65.1 54.4h.1M65.6 52.7h.1M68.3 54.8h.1M66.3 54.5h.1M58.1 55.4h.1M65.1 53.1h.1M70.3 53.0h.1M64.3 52.5h.1M62.9 54.1h.1M71.7 48.5h.1M69.0 51.6h.1M73.3 53.3h.1M61.2 56.2h.1M58.9 58.0h.1M63.4 51.9h.1M65.2 55.4h.1M66.7 53.2h.1M70.6 55.2h.1M65.9 52.6h.1M66.8 56.9h.1M70.6 49.8h.1M64.9 51.9h.1M66.1 52.5h.1M61.2 57.1h.1M64.4 53.6h.1M69.4 53.5h.1M72.2 56.0h.1M59.5 57.2h.1M57.4 59.0h.1M73.2 48.5h.1M71.2 53.5h.1M65.0 48.4h.1M59.7 54.9h.1M65.4 54.2h.1M68.9 52.9h.1M63.3 52.1h.1M61.2 54.8h.1M75.1 49.4h.1M65.4 56.4h.1M69.2 54.0h.1M66.7 57.5h.1M63.4 58.2h.1M72.5 51.9h.1M62.0 53.5h.1M64.6 49.1h.1M70.3 49.9h.1M59.6 57.2h.1M64.6 51.9h.1M70.2 49.1h.1M61.0 51.4h.1M73.6 52.3h.1M58.7 57.6h.1M61.4 53.1h.1M62.6 49.9h.1M65.9 53.7h.1M71.3 49.5h.1M57.6 54.2h.1M62.9 56.9h.1M75.9 51.5h.1M66.1 50.7h.1M57.4 53.7h.1M69.0 55.4h.1M62.9 51.4h.1M68.5 52.4h.1M60.2 51.7h.1M63.0 55.5h.1M68.0 55.2h.1M75.2 49.8h.1M69.9 50.0h.1M58.2 56.4h.1M61.8 56.7h.1M62.4 50.4h.1M64.3 52.7h.1M62.0 53.6h.1M65.1 55.9h.1M67.4 53.2h.1M59.8 51.9h.1M57.3 57.8h.1M66.9 53.6h.1M65.5 52.8h.1M72.0 52.3h.1M69.9 52.9h.1M65.5 52.6h.1M69.2 47.8h.1M71.2 51.2h.1M65.8 52.4h.1M55.7 55.1h.1M66.5 52.3h.1M66.5 51.2h.1M56.5 56.7h.1M62.3 53.0h.1M70.2 47.5h.1M65.3 53.1h.1M71.2 52.1h.1M66.8 54.0h.1M65.8 53.1h.1M64.9 56.2h.1M65.2 51.2h.1M67.3 56.8h.1M65.0 51.0h.1M61.0 58.4h.1M69.6 53.8h.1M62.6 53.0h.1M60.4 58.7h.1M69.4 58.0h.1M67.6 54.5h.1M62.1 53.9h.1M66.7 51.3h.1M70.7 54.6h.1M59.6 57.5h.1M66.4 54.1h.1M64.4 57.2h.1M66.5 55.1h.1M66.3 51.9h.1M60.9 59.7h.1M73.1 51.0h.1M71.2 55.1h.1M72.9 53.6h.1M65.0 55.8h.1M62.9 55.4h.1M59.3 51.9h.1M59.5 52.0h.1M67.5 54.8h.1M66.6 51.5h.1M63.8 51.1h.1M67.4 54.6h.1M73.2 48.5h.1M64.2 54.0h.1M66.0 49.9h.1M66.2 59.2h.1M72.0 53.2h.1M62.6 52.6h.1M65.7 52.2h.1M63.4 56.5h.1M65.5 51.6h.1" stroke="#3aa878" stroke-width="0.8" stroke-linecap="round" opacity="0.75"/>
<path d="M51.5 80.9h.1M72.9 83.6h.1M59.6 87.5h.1M72.8 88.3h.1M64.1 82.8h.1M54.2 84.5h.1M60.6 85.3h.1M66.5 90.0h.1M62.7 80.5h.1M65.8 82.0h.1M59.0 83.4h.1M66.4 88.7h.1M65.9 81.7h.1M69.1 83.6h.1M49.7 86.7h.1M75.4 82.3h.1M58.4 82.3h.1M57.2 88.2h.1M67.1 85.7h.1M62.6 82.1h.1M57.4 81.9h.1M65.3 87.2h.1M58.2 86.7h.1M54.2 91.0h.1M53.3 82.0h.1M60.2 87.2h.1M63.3 81.8h.1M65.1 87.6h.1M65.6 81.4h.1M68.1 91.3h.1M70.5 86.4h.1M67.5 84.5h.1M54.7 83.5h.1M57.8 85.1h.1M52.7 80.2h.1M61.7 84.9h.1M61.1 87.7h.1M50.0 85.7h.1M59.1 84.2h.1M69.0 85.6h.1M67.2 90.4h.1M61.2 78.4h.1M57.3 82.6h.1M62.9 81.9h.1M62.0 85.4h.1M57.0 79.6h.1M55.0 86.5h.1M55.7 88.0h.1M56.0 84.2h.1M57.8 84.1h.1M63.5 81.4h.1M54.1 79.0h.1M69.6 84.9h.1M70.4 87.5h.1M58.9 82.2h.1M62.3 81.9h.1M60.7 85.9h.1M52.1 79.8h.1M59.1 81.6h.1M60.2 85.5h.1M63.4 87.0h.1M61.5 85.5h.1M60.1 84.7h.1M60.4 84.4h.1M58.4 85.3h.1M66.7 89.5h.1M72.5 88.1h.1M56.9 79.7h.1M49.4 82.4h.1M62.1 88.0h.1M61.7 84.6h.1M51.9 86.1h.1M75.1 84.3h.1M76.5 88.4h.1M54.7 86.1h.1M62.7 85.9h.1M51.9 85.0h.1M68.0 81.1h.1M64.2 89.1h.1M63.6 82.4h.1M59.3 86.9h.1M65.2 84.5h.1M56.4 81.7h.1M60.0 80.4h.1M63.3 91.3h.1M59.5 84.2h.1M61.7 86.6h.1M58.9 86.1h.1M55.1 80.3h.1M56.5 85.8h.1M56.4 81.6h.1M63.3 77.9h.1M55.8 90.4h.1M48.4 87.2h.1M56.6 82.2h.1M57.6 90.8h.1M56.7 84.3h.1M57.5 83.3h.1M66.3 86.0h.1M62.0 82.3h.1M62.5 83.9h.1M60.6 84.7h.1M57.5 79.8h.1M64.5 78.7h.1M67.7 83.1h.1M53.9 87.3h.1M56.1 84.3h.1M54.1 85.3h.1M63.4 83.8h.1M59.8 79.1h.1M69.5 83.0h.1M60.1 82.7h.1M62.8 83.9h.1M58.2 83.2h.1M62.0 89.8h.1M52.2 87.2h.1M61.5 86.0h.1M55.6 87.4h.1M67.1 78.7h.1M56.7 83.3h.1M49.7 83.4h.1M61.5 82.8h.1M70.5 84.6h.1M67.1 85.1h.1M62.3 83.6h.1M56.3 88.8h.1M68.9 89.1h.1M56.1 82.6h.1M62.2 83.4h.1M65.0 90.3h.1M56.9 82.7h.1M49.3 87.6h.1M62.2 85.7h.1M56.0 84.1h.1M58.9 82.0h.1M64.5 89.2h.1M70.2 84.2h.1M61.5 80.1h.1M58.8 85.3h.1M56.4 83.7h.1M53.9 82.4h.1M52.0 82.1h.1M45.3 80.2h.1M57.5 83.6h.1M70.5 81.6h.1M55.3 86.7h.1M54.2 82.6h.1M76.6 88.3h.1M75.9 85.4h.1M50.2 84.7h.1M53.9 84.6h.1M63.6 86.6h.1M54.9 84.4h.1M63.3 89.2h.1M57.6 90.5h.1M65.4 86.2h.1M56.3 85.2h.1M65.8 81.5h.1M65.6 85.8h.1M59.2 81.6h.1M59.2 86.6h.1M73.5 86.0h.1M58.2 86.5h.1M67.8 87.6h.1M62.3 84.4h.1M52.4 83.8h.1M53.6 82.8h.1M70.2 83.3h.1M60.1 84.4h.1M58.3 82.4h.1M62.1 83.8h.1M63.4 83.2h.1M63.7 82.9h.1M64.3 86.9h.1M49.5 83.4h.1M58.2 84.1h.1M74.7 83.6h.1M59.6 85.1h.1M65.4 84.3h.1M54.5 88.4h.1M73.8 82.9h.1M64.8 80.4h.1M63.1 82.4h.1M65.4 83.5h.1M69.8 89.4h.1M73.6 85.3h.1M58.8 83.3h.1M56.4 83.7h.1M53.7 83.0h.1M66.7 88.3h.1M64.5 79.6h.1M67.5 83.7h.1M65.8 84.6h.1M49.1 87.3h.1M67.3 86.8h.1M66.1 85.1h.1M51.8 88.8h.1M58.7 83.2h.1M65.1 79.3h.1M59.2 86.3h.1M62.0 87.6h.1M62.4 84.8h.1M64.2 88.2h.1M63.0 84.5h.1M64.0 80.8h.1M60.1 81.9h.1M62.0 84.3h.1M68.7 84.9h.1M58.5 91.3h.1M53.6 83.9h.1M58.1 87.6h.1M60.7 88.6h.1M55.5 85.1h.1M65.3 84.9h.1M63.7 79.5h.1M64.8 83.9h.1M75.3 82.6h.1M75.4 85.1h.1M47.0 80.9h.1M63.1 86.2h.1M68.1 89.1h.1M65.8 84.4h.1M70.7 90.7h.1M63.9 83.5h.1M66.9 85.6h.1M60.8 84.9h.1M69.2 90.3h.1M68.5 86.6h.1M59.0 79.0h.1M59.4 86.1h.1M54.6 85.4h.1M55.0 84.9h.1M66.4 85.1h.1M66.4 81.7h.1M61.8 83.2h.1M61.5 84.5h.1M62.5 82.1h.1M58.3 78.3h.1M62.9 91.2h.1M57.6 82.7h.1M61.5 86.0h.1M66.6 83.2h.1M58.7 85.7h.1M64.5 80.7h.1M64.2 90.6h.1M48.2 82.0h.1M59.1 80.8h.1M50.7 89.3h.1M62.3 86.1h.1M68.5 81.1h.1M70.3 83.2h.1M68.9 85.2h.1M71.0 87.3h.1M60.6 87.9h.1M56.3 86.3h.1M51.0 83.1h.1M75.0 88.8h.1M53.6 88.4h.1M58.7 85.7h.1M58.3 86.4h.1M56.9 88.9h.1M59.1 82.3h.1M58.5 79.7h.1M65.8 88.8h.1M71.1 87.1h.1M59.6 88.9h.1M72.0 83.4h.1M52.1 82.1h.1M60.8 88.3h.1M69.1 86.5h.1" stroke="#7a4cc0" stroke-width="0.8" stroke-linecap="round" opacity="0.75"/>
<path d="M80.8 68.2h.1M72.5 57.6h.1M69.7 68.3h.1M81.0 69.1h.1M70.8 70.4h.1M70.8 59.0h.1M68.8 68.8h.1M71.8 66.1h.1M70.1 72.8h.1M63.4 68.2h.1M69.2 68.3h.1M73.5 73.4h.1M65.5 60.5h.1M74.3 70.2h.1M68.3 68.4h.1M67.6 77.2h.1M84.5 75.8h.1M65.3 73.4h.1M75.3 70.0h.1M72.1 68.1h.1M69.2 65.9h.1M76.8 65.9h.1M68.8 72.5h.1M66.8 62.4h.1M68.9 71.2h.1M69.5 66.5h.1M77.6 68.7h.1M69.2 80.0h.1M64.6 71.0h.1M72.0 65.8h.1M70.3 70.0h.1M71.4 61.9h.1M74.6 73.9h.1M63.4 59.8h.1M62.7 76.0h.1M72.3 65.6h.1M74.0 69.1h.1M72.1 75.9h.1M78.8 67.6h.1M81.4 75.1h.1M71.4 67.1h.1M70.5 64.4h.1M71.0 64.3h.1M70.4 71.7h.1M80.4 72.2h.1M77.8 75.6h.1M74.9 75.8h.1M79.1 65.8h.1M78.1 67.4h.1M80.0 76.0h.1M63.8 72.8h.1M66.6 66.7h.1M69.9 72.4h.1M77.5 69.3h.1M59.2 72.3h.1M69.1 66.3h.1M74.7 68.0h.1M79.9 67.4h.1M67.1 58.9h.1M60.6 68.3h.1M77.3 63.9h.1M77.3 67.3h.1M78.8 76.7h.1M76.1 64.4h.1M80.0 70.6h.1M73.4 71.6h.1M77.7 75.9h.1M64.2 76.2h.1M74.7 76.9h.1M72.4 74.0h.1M79.5 76.8h.1M71.0 77.5h.1M69.8 63.0h.1M67.6 62.4h.1M82.5 74.9h.1M60.7 68.3h.1M74.8 70.7h.1M69.5 65.7h.1M78.7 69.1h.1M67.1 71.0h.1M68.6 68.1h.1M78.2 68.4h.1M66.5 78.1h.1M74.4 68.6h.1M79.5 68.5h.1M66.5 77.9h.1M73.8 70.6h.1M74.2 69.3h.1M67.3 64.1h.1M61.9 74.4h.1M73.6 68.4h.1M63.2 62.1h.1M70.3 71.3h.1M71.9 69.0h.1M67.1 73.8h.1M75.0 76.6h.1M76.6 64.0h.1M68.8 68.6h.1M80.6 69.8h.1M73.0 77.3h.1M79.0 73.1h.1M61.2 68.5h.1M86.4 73.2h.1M81.6 79.6h.1M78.4 58.8h.1M75.5 68.5h.1M67.2 75.1h.1M68.2 76.6h.1M76.1 66.8h.1M67.4 79.6h.1M71.7 71.5h.1M72.9 64.9h.1M70.8 68.5h.1M61.6 65.5h.1M67.0 71.3h.1M74.0 62.8h.1M68.9 70.0h.1M67.5 60.2h.1M78.8 69.5h.1M70.8 66.9h.1M75.3 67.2h.1M73.3 75.6h.1M82.5 78.6h.1M66.3 69.3h.1M64.4 63.7h.1M63.6 67.3h.1M70.0 64.1h.1M72.3 72.3h.1M69.6 64.9h.1M78.2 68.2h.1M74.5 63.7h.1M76.8 74.0h.1M66.0 63.6h.1M70.2 72.7h.1M78.0 75.6h.1M66.8 58.8h.1M67.0 69.8h.1M75.9 62.1h.1M72.6 67.5h.1M76.0 64.6h.1M71.7 67.6h.1M74.7 69.5h.1M75.6 70.6h.1M78.5 64.2h.1M63.7 73.0h.1M69.7 65.1h.1M67.7 72.3h.1M61.7 74.3h.1M69.9 69.5h.1M82.9 70.0h.1M79.9 77.0h.1M69.2 67.3h.1M82.1 72.9h.1M67.0 69.1h.1M76.1 62.3h.1M66.5 61.4h.1M71.1 70.0h.1M71.9 68.7h.1M74.9 71.6h.1M72.6 77.5h.1M80.9 66.3h.1M57.7 69.6h.1M82.8 78.1h.1M69.9 66.3h.1M73.5 66.1h.1M66.7 66.2h.1M75.2 74.4h.1M69.5 66.2h.1M77.7 72.1h.1M64.2 76.5h.1M58.4 66.0h.1M81.1 77.4h.1M72.1 71.9h.1M73.6 63.6h.1M71.0 67.6h.1M79.6 68.3h.1M73.8 69.4h.1M70.9 75.5h.1M69.9 72.3h.1M81.4 68.6h.1M80.5 66.9h.1M75.2 61.8h.1M79.8 76.0h.1M72.8 60.8h.1M70.9 69.6h.1M74.8 70.2h.1M63.0 73.2h.1M61.2 72.7h.1M79.6 64.4h.1M65.8 64.2h.1M69.9 72.2h.1M77.4 67.2h.1M76.8 63.6h.1M72.2 59.8h.1M82.6 62.5h.1M67.0 78.7h.1M79.6 63.7h.1M75.0 64.3h.1M68.9 79.0h.1M69.5 65.0h.1M67.5 60.1h.1M68.3 66.8h.1M76.1 61.4h.1M77.6 66.0h.1M82.6 66.3h.1M73.0 58.9h.1M60.6 72.4h.1M71.0 68.4h.1M73.2 73.1h.1M77.2 73.6h.1M61.4 66.6h.1M76.0 65.0h.1M69.7 60.8h.1M65.7 80.5h.1M73.7 68.9h.1M77.1 65.2h.1M75.3 69.0h.1M77.5 64.0h.1M71.7 75.8h.1M76.6 64.5h.1M59.5 72.6h.1M75.6 66.2h.1M66.2 69.1h.1M74.6 72.9h.1M76.1 71.6h.1M68.5 71.5h.1M72.5 67.1h.1M69.1 68.0h.1M73.5 68.6h.1M71.7 72.3h.1M66.6 72.8h.1M79.8 66.3h.1M76.1 70.2h.1M75.1 65.2h.1M63.4 71.3h.1M60.8 74.4h.1M78.2 70.2h.1M77.8 71.1h.1M74.6 69.4h.1M68.4 68.4h.1M72.8 66.2h.1M72.7 62.8h.1M75.7 69.0h.1M58.3 67.7h.1M66.0 68.7h.1M84.2 64.7h.1M74.4 64.0h.1M70.4 73.5h.1M75.7 69.1h.1M79.3 75.3h.1M62.6 62.6h.1M67.7 74.5h.1M73.5 66.1h.1M70.9 64.0h.1M79.1 71.0h.1M72.3 59.7h.1M68.7 61.4h.1M69.0 73.0h.1M67.2 73.0h.1M66.5 79.7h.1M71.8 66.5h.1M78.2 74.1h.1M66.2 63.1h.1M65.0 72.7h.1M68.6 66.7h.1M75.1 64.7h.1M75.6 71.8h.1M68.4 64.5h.1M80.8 60.2h.1M74.3 79.0h.1M69.4 63.1h.1M77.1 69.4h.1M66.9 72.2h.1M71.8 77.1h.1M77.8 64.5h.1M77.6 71.6h.1M71.6 63.5h.1M77.9 70.7h.1M67.2 68.6h.1M74.8 74.7h.1M83.8 76.9h.1M69.7 75.1h.1M65.7 68.7h.1M76.4 68.0h.1M69.1 69.6h.1M82.8 72.7h.1M67.4 77.3h.1M71.2 69.6h.1M74.4 70.1h.1M66.9 66.9h.1M71.5 74.0h.1M60.7 74.1h.1M82.8 63.0h.1M72.9 66.7h.1M64.3 76.9h.1M76.1 78.0h.1M82.6 75.9h.1M72.7 73.7h.1M76.2 68.9h.1M77.6 66.8h.1M72.3 72.5h.1M79.2 71.4h.1M67.5 71.1h.1M87.2 70.0h.1M78.2 63.0h.1M75.5 71.9h.1M68.9 69.8h.1M72.1 73.3h.1M74.2 61.4h.1M63.5 63.6h.1M69.4 64.1h.1M66.0 70.6h.1M71.7 71.0h.1M78.3 72.8h.1M71.3 63.2h.1M65.9 80.0h.1M77.8 71.3h.1M78.7 65.4h.1M70.3 70.0h.1M64.1 64.4h.1M74.7 67.2h.1M61.8 65.1h.1M75.3 68.0h.1M82.0 78.9h.1M67.8 73.4h.1M72.5 65.7h.1M78.2 75.1h.1M80.8 74.2h.1M79.3 74.6h.1M68.7 65.0h.1M67.5 73.0h.1M78.8 59.9h.1M62.4 72.2h.1M66.3 71.8h.1M66.4 64.3h.1M65.6 71.2h.1M76.9 65.7h.1M70.4 67.3h.1M75.0 69.3h.1M73.8 66.2h.1M72.7 69.1h.1M72.1 70.9h.1M64.7 73.1h.1M81.5 70.3h.1M61.8 76.0h.1M71.7 70.3h.1M73.9 80.7h.1M66.3 70.0h.1M70.8 73.7h.1M78.6 75.0h.1M75.4 71.8h.1M76.0 72.7h.1M76.5 67.2h.1M74.8 63.5h.1M72.8 69.6h.1M68.6 71.5h.1M63.3 77.0h.1M74.6 58.8h.1M79.3 73.7h.1M78.1 60.9h.1M76.0 64.2h.1M78.6 74.3h.1M62.6 65.7h.1M63.3 78.2h.1M81.0 63.1h.1M78.3 72.3h.1M66.4 71.6h.1M69.8 64.2h.1M71.8 70.4h.1M80.5 71.4h.1M70.8 73.1h.1M75.7 69.8h.1M76.3 75.1h.1M73.9 75.6h.1M72.9 67.3h.1M65.1 62.8h.1M73.8 71.0h.1M68.0 64.0h.1M80.5 65.4h.1M73.4 68.8h.1M68.6 70.2h.1M74.1 71.4h.1M79.3 67.7h.1M76.4 60.4h.1M75.0 65.1h.1M73.8 63.5h.1M82.3 66.2h.1M69.0 73.5h.1M85.8 69.7h.1M70.0 67.3h.1M70.3 73.1h.1M76.8 69.6h.1M72.6 77.2h.1M88.5 70.0h.1M65.0 60.8h.1M71.2 76.0h.1M75.8 68.1h.1M76.4 71.0h.1M74.2 72.8h.1M76.9 70.1h.1M67.5 71.3h.1M65.5 71.6h.1M70.6 62.5h.1M79.6 65.5h.1M73.3 75.5h.1M64.9 69.8h.1M82.3 66.5h.1M76.6 68.3h.1M69.6 66.2h.1M73.6 69.6h.1M70.0 72.0h.1M72.1 70.9h.1M78.0 70.3h.1M71.8 63.3h.1M70.4 57.5h.1M64.0 69.5h.1M75.0 74.4h.1M72.9 59.8h.1M75.7 72.3h.1M65.9 70.9h.1M62.8 62.2h.1M73.1 72.0h.1M78.0 72.0h.1M70.6 71.5h.1M76.1 65.0h.1M73.0 74.0h.1M80.1 64.3h.1M74.3 66.9h.1M76.4 74.4h.1M69.4 70.2h.1M73.9 71.6h.1M76.5 70.9h.1M73.2 74.2h.1M66.1 66.7h.1M70.6 71.2h.1M69.0 64.4h.1M69.3 64.9h.1M74.4 74.3h.1M76.1 73.0h.1M77.3 68.4h.1" stroke="#2f86cc" stroke-width="0.8" stroke-linecap="round" opacity="0.75"/>
<path d="M45.0 66.2h.1M49.0 73.5h.1M53.0 72.8h.1M55.1 69.5h.1M51.0 72.6h.1M51.0 69.4h.1M45.6 71.5h.1M53.7 64.0h.1M51.4 73.8h.1M53.7 73.9h.1M50.2 73.7h.1M54.1 74.4h.1M49.9 72.5h.1M52.1 69.9h.1M48.9 74.0h.1M47.7 74.9h.1M46.8 70.9h.1M51.3 69.7h.1M55.7 70.5h.1M51.6 68.8h.1M45.6 72.7h.1M49.7 76.2h.1M54.5 68.0h.1M46.1 70.6h.1M53.9 70.0h.1M57.2 70.4h.1M49.8 73.0h.1M51.3 75.6h.1M50.5 67.6h.1M52.9 72.0h.1M52.8 70.9h.1M57.8 66.4h.1M47.6 67.7h.1M55.5 65.4h.1M50.1 65.0h.1M53.8 70.1h.1M46.6 75.1h.1M50.1 67.8h.1M52.6 71.5h.1M52.3 73.6h.1M57.5 71.1h.1M44.4 75.9h.1M49.3 75.8h.1M50.8 67.9h.1M49.4 62.9h.1M47.9 77.1h.1M58.4 75.3h.1M48.3 72.3h.1M53.0 71.0h.1M49.5 73.7h.1M46.5 73.0h.1M56.8 68.0h.1M47.9 70.8h.1M51.8 75.2h.1M48.4 72.3h.1M51.0 71.4h.1M53.6 65.2h.1M51.9 69.7h.1M51.1 74.3h.1M47.3 77.4h.1M56.6 72.9h.1M49.0 73.9h.1M47.9 64.9h.1M54.8 69.8h.1M47.6 71.2h.1M55.7 73.2h.1M51.1 62.5h.1M52.5 76.5h.1M52.2 68.9h.1M50.8 75.6h.1M48.6 64.5h.1M50.2 76.8h.1M53.1 67.8h.1M50.3 67.1h.1M48.2 71.2h.1M57.3 71.2h.1M50.7 71.2h.1M48.4 78.6h.1M57.6 76.0h.1M50.1 72.1h.1M45.4 72.8h.1M55.4 72.9h.1M50.1 67.5h.1M50.2 76.8h.1M49.8 70.9h.1M56.9 66.6h.1M43.8 69.6h.1M50.8 70.8h.1M56.3 69.4h.1M51.9 72.2h.1M51.5 67.6h.1M55.0 75.9h.1M45.3 69.0h.1M48.4 68.9h.1M52.7 71.1h.1M57.4 71.1h.1M51.4 78.5h.1M48.6 67.0h.1M53.6 69.1h.1M53.3 66.8h.1M55.6 73.9h.1M52.2 70.3h.1M54.2 67.7h.1M48.6 70.4h.1M51.7 69.3h.1M48.2 71.9h.1M49.2 70.7h.1M50.9 71.3h.1M48.2 67.7h.1M53.4 74.2h.1M45.3 74.2h.1M56.2 71.2h.1M52.2 67.7h.1M56.4 71.3h.1M53.6 72.9h.1M52.3 76.9h.1M49.4 75.0h.1M51.7 69.7h.1M54.0 72.0h.1M49.9 69.1h.1M55.4 69.4h.1M47.5 70.1h.1M56.1 73.6h.1M46.8 68.2h.1M47.8 78.7h.1M46.2 74.7h.1M56.1 71.5h.1M53.5 70.4h.1M52.1 71.5h.1M47.2 77.1h.1M52.5 77.3h.1M52.3 68.7h.1M55.1 68.2h.1M48.6 73.5h.1M54.7 78.2h.1M52.5 69.0h.1M53.3 72.3h.1M48.9 73.9h.1M57.0 68.9h.1M55.1 78.9h.1M46.5 71.5h.1M53.4 70.1h.1M54.4 71.4h.1M50.0 73.9h.1M49.9 65.3h.1M51.8 74.3h.1M57.8 71.3h.1M50.7 78.8h.1M50.4 67.4h.1M56.8 69.1h.1M50.1 80.2h.1M47.6 76.9h.1M47.9 71.8h.1M52.8 76.1h.1M48.5 70.9h.1M52.0 76.5h.1M47.6 73.8h.1M52.1 62.3h.1M46.8 71.1h.1M53.5 73.0h.1M48.1 74.7h.1M52.5 76.2h.1M51.3 65.2h.1M54.4 67.2h.1M51.6 65.8h.1M55.4 75.0h.1M50.2 68.5h.1M52.4 67.8h.1M55.9 65.0h.1M46.0 74.9h.1" stroke="#d8343a" stroke-width="0.8" stroke-linecap="round" opacity="0.75"/>
<path d="M94.0 97.6h.1M94.6 96.7h.1M92.5 95.5h.1M92.3 97.0h.1M96.2 97.2h.1M92.0 97.6h.1M94.5 97.8h.1M94.1 97.6h.1M91.6 98.7h.1M96.0 96.1h.1M92.6 95.8h.1M91.9 96.5h.1M93.0 96.1h.1M93.4 97.7h.1M91.1 98.0h.1M97.8 97.4h.1" stroke="#e05060" stroke-width="0.8" stroke-linecap="round" opacity="0.75"/>
<path d="M69.3 95.4h.1M68.0 96.5h.1M67.9 97.5h.1M66.6 97.0h.1M65.5 98.1h.1M68.0 97.7h.1M67.2 97.7h.1M67.7 97.0h.1M70.9 98.3h.1M67.9 97.4h.1M68.0 95.0h.1M70.3 95.3h.1M66.5 97.3h.1M71.1 97.9h.1" stroke="#a0c0dc" stroke-width="0.8" stroke-linecap="round" opacity="0.75"/>
<path d="M75.4 39.4h.1M75.0 37.2h.1M74.9 38.7h.1M74.3 40.9h.1M73.3 41.7h.1M72.4 39.5h.1M72.3 38.2h.1M74.0 40.4h.1M72.0 43.9h.1M73.9 40.6h.1M71.4 45.7h.1M73.3 41.6h.1" stroke="#70c8c0" stroke-width="0.8" stroke-linecap="round" opacity="0.75"/>
<path d="M93.1 35.7h.1M95.0 31.9h.1M95.8 32.8h.1M94.4 35.0h.1M97.2 34.7h.1M92.9 35.2h.1M93.4 34.3h.1M92.8 34.5h.1M97.0 36.6h.1M95.6 36.1h.1M91.8 34.3h.1M97.0 33.7h.1M95.5 33.5h.1M92.2 33.7h.1" stroke="#98d080" stroke-width="0.8" stroke-linecap="round" opacity="0.75"/>
<text x="51.00" y="41.00" font-size="3.2" font-weight="bold" fill="#000">pro-B</text>
<text x="64.20" y="35.80" font-size="3.2" font-weight="bold" fill="#000">pre-B/D</text>
<text x="90.80" y="32.90" font-size="3.2" font-weight="bold" fill="#000">pre-DC</text>
<text x="71.50" y="55.50" font-size="3.2" font-weight="bold" fill="#000">lyM</text>
<text x="63.00" y="60.60" font-size="3.2" font-weight="bold" fill="#000">HSC2</text>
<text x="90.80" y="51.80" font-size="3.2" font-weight="bold" fill="#000">MPP 1</text>
<text x="106.00" y="53.40" font-size="3.2" font-weight="bold" fill="#000">GMP</text>
<text x="94.60" y="63.00" font-size="3.2" font-weight="bold" fill="#000">MPP 2</text>
<text x="64.60" y="70.60" font-size="3.2" font-weight="bold" fill="#000">HSC 1</text>
<text x="48.50" y="73.70" font-size="3.2" font-weight="bold" fill="#000">HSC0</text>
<text x="56.00" y="84.50" font-size="3.2" font-weight="bold" fill="#000">Mk</text>
<text x="89.00" y="75.00" font-size="3.2" font-weight="bold" fill="#000">GMP</text>
<text x="137.00" y="70.00" font-size="3.2" font-weight="bold" fill="#000">Gran</text>
<text x="66.00" y="99.00" font-size="3.2" font-weight="bold" fill="#000">Ery</text>
<text x="90.00" y="97.50" font-size="3.2" font-weight="bold" fill="#000">Mast</text>
</svg>
<rect x="38.10" y="21.20" width="121.70" height="85.10" fill="none" stroke="#2a2a2a" stroke-width="1.3"/>
<text x="98.95" y="17.50" font-size="8.6" text-anchor="middle" font-weight="normal" textLength="26.80" lengthAdjust="spacingAndGlyphs">Vehicle</text>
<text x="98.95" y="116.30" font-size="8.6" text-anchor="middle" fill="#333" stroke="#333" stroke-width="0.155" textLength="21.60" lengthAdjust="spacingAndGlyphs">UMAP1</text>
<text x="33.90" y="63.75" font-size="8.6" text-anchor="middle" fill="#333" stroke="#333" stroke-width="0.155" textLength="22.30" lengthAdjust="spacingAndGlyphs" transform="rotate(-90 33.90 63.75)">UMAP2</text>
<svg x="177.3" y="21.2" width="121.80000000000001" height="85.1" viewBox="177.3 21.2 121.80000000000001 85.1" overflow="hidden">
<ellipse cx="282.0" cy="70.5" rx="10.8" ry="3.8" transform="rotate(15 282.0 70.5)" fill="#f6e0c4" opacity="0.56" filter="url(#bl)"/>
<ellipse cx="262.0" cy="53.0" rx="17.3" ry="7.6" transform="rotate(20 262.0 53.0)" fill="#ece0dc" opacity="0.36" filter="url(#bl)"/>
<ellipse cx="234.0" cy="34.0" rx="5.4" ry="4.3" transform="rotate(0 234.0 34.0)" fill="#d0ecc0" opacity="0.56" filter="url(#bl)"/>
<ellipse cx="233.5" cy="48.5" rx="7.6" ry="5.9" transform="rotate(0 233.5 48.5)" fill="#d8d4a0" opacity="0.68" filter="url(#bl)"/>
<ellipse cx="240.0" cy="60.0" rx="9.7" ry="5.4" transform="rotate(10 240.0 60.0)" fill="#eec4e8" opacity="0.56" filter="url(#bl)"/>
<ellipse cx="232.0" cy="76.5" rx="13.0" ry="13.5" transform="rotate(15 232.0 76.5)" fill="#f6bc80" opacity="0.76" filter="url(#bl)"/>
<ellipse cx="218.0" cy="50.0" rx="5.9" ry="13.0" transform="rotate(5 218.0 50.0)" fill="#a8dce8" opacity="0.72" filter="url(#bl)"/>
<ellipse cx="204.0" cy="57.0" rx="13.0" ry="5.4" transform="rotate(-20 204.0 57.0)" fill="#78c8a4" opacity="0.76" filter="url(#bl)"/>
<ellipse cx="216.0" cy="86.0" rx="6.5" ry="6.5" transform="rotate(0 216.0 86.0)" fill="#e4c4ec" opacity="0.56" filter="url(#bl)"/>
<ellipse cx="202.0" cy="83.0" rx="16.2" ry="7.0" transform="rotate(5 202.0 83.0)" fill="#a888d8" opacity="0.76" filter="url(#bl)"/>
<ellipse cx="212.5" cy="69.5" rx="14.0" ry="11.3" transform="rotate(0 212.5 69.5)" fill="#78b4e0" opacity="0.76" filter="url(#bl)"/>
<ellipse cx="191.8" cy="69.4" rx="8.1" ry="7.3" transform="rotate(0 191.8 69.4)" fill="#ec7272" opacity="0.76" filter="url(#bl)"/>
<ellipse cx="228.5" cy="95.0" rx="4.9" ry="2.4" transform="rotate(0 228.5 95.0)" fill="#f4d8dc" opacity="0.48" filter="url(#bl)"/>
<ellipse cx="208.0" cy="96.0" rx="4.3" ry="2.7" transform="rotate(0 208.0 96.0)" fill="#d0e0f0" opacity="0.56" filter="url(#bl)"/>
<path d="M283.8 71.3h.1M286.7 69.2h.1M280.3 68.7h.1M277.2 67.7h.1M279.7 69.4h.1M277.4 70.0h.1M287.9 71.4h.1M278.3 70.0h.1M283.1 70.9h.1M277.8 69.7h.1M273.9 71.0h.1M276.0 68.5h.1M282.0 70.9h.1M280.6 71.0h.1M280.9 69.2h.1M289.3 70.4h.1M282.0 66.6h.1M283.5 67.7h.1M284.8 71.0h.1M282.9 67.9h.1M276.1 69.5h.1M271.0 67.8h.1M272.9 68.0h.1M275.2 71.7h.1M286.6 70.6h.1M272.5 66.3h.1M281.6 68.3h.1M282.4 72.2h.1M281.4 69.3h.1M285.4 70.6h.1M285.7 70.7h.1M289.5 71.8h.1M276.2 68.9h.1M278.8 67.7h.1M280.5 71.2h.1M280.8 69.7h.1M286.0 68.9h.1M284.8 70.6h.1M282.1 69.9h.1M280.1 68.8h.1" stroke="#e8b888" stroke-width="0.8" stroke-linecap="round" opacity="0.75"/>
<path d="M253.5 42.7h.1M267.0 48.1h.1M253.4 41.8h.1M276.3 53.0h.1M250.4 42.4h.1M280.8 62.4h.1M243.4 47.3h.1M250.7 44.9h.1M263.9 47.6h.1M250.8 43.4h.1M270.6 49.9h.1M259.4 45.8h.1M277.1 51.1h.1M278.1 52.1h.1M264.4 49.9h.1M258.2 45.9h.1M280.6 59.9h.1M259.7 46.6h.1M278.4 64.1h.1M263.3 47.3h.1M249.5 43.4h.1M251.6 44.1h.1M268.8 48.3h.1M277.8 65.2h.1M252.6 42.6h.1M277.8 54.3h.1M261.7 47.1h.1M243.6 45.1h.1M275.4 53.5h.1M251.2 43.6h.1M265.3 49.0h.1M272.5 53.9h.1M278.3 61.1h.1M265.6 48.4h.1M260.8 47.0h.1M247.3 42.8h.1M267.9 47.9h.1M257.1 44.3h.1M243.2 44.4h.1M257.6 43.2h.1M242.0 45.4h.1M265.2 49.9h.1M245.7 45.4h.1M281.1 62.3h.1M250.4 42.0h.1M263.7 46.5h.1M248.6 43.9h.1M276.9 55.0h.1M275.9 52.5h.1M277.4 52.8h.1M256.6 46.6h.1M253.5 43.8h.1M279.7 59.3h.1M278.4 57.8h.1M264.8 49.6h.1M275.0 51.1h.1M279.4 56.8h.1M278.4 65.0h.1M248.0 45.7h.1M277.4 63.0h.1M256.4 46.5h.1M272.1 52.6h.1M244.7 42.9h.1M278.1 54.5h.1M274.9 55.5h.1M263.2 46.5h.1M278.0 62.1h.1M249.0 43.4h.1M270.4 49.5h.1M264.5 48.8h.1M276.7 51.9h.1M265.3 47.7h.1M275.2 51.6h.1M279.3 59.4h.1M259.1 43.7h.1M273.0 51.1h.1M276.3 51.4h.1M281.4 56.4h.1M273.4 51.3h.1M281.6 60.5h.1M278.0 55.9h.1M270.2 52.1h.1M248.0 42.4h.1M253.0 43.1h.1M252.7 42.5h.1M240.2 45.4h.1M272.6 50.0h.1M272.7 52.7h.1M266.1 48.6h.1M277.7 55.5h.1M276.1 55.7h.1M278.3 54.2h.1M249.1 44.0h.1M257.8 44.7h.1M277.3 63.8h.1M257.5 47.4h.1M255.8 43.7h.1M267.6 48.8h.1M277.9 58.2h.1M277.2 54.0h.1M280.3 58.1h.1M257.9 46.2h.1M277.2 54.4h.1M252.5 43.5h.1M256.0 44.0h.1M277.5 57.0h.1M258.4 45.8h.1M249.3 43.3h.1M281.1 58.9h.1M272.8 50.6h.1M247.3 44.7h.1M272.6 52.8h.1M278.2 57.4h.1M269.5 52.3h.1M260.3 43.6h.1M264.4 45.5h.1M276.2 50.7h.1M279.3 57.7h.1M254.6 43.2h.1M258.7 46.7h.1M277.7 63.4h.1M281.1 62.6h.1M249.7 43.7h.1M261.3 44.6h.1M275.6 54.4h.1M254.2 42.2h.1M255.2 43.8h.1M257.6 44.8h.1M249.5 44.2h.1M261.7 48.3h.1M254.1 45.3h.1M256.4 47.1h.1M247.0 46.4h.1M262.3 46.6h.1M267.1 47.9h.1M276.3 53.1h.1M276.4 64.8h.1M269.8 52.9h.1M268.5 49.3h.1M280.4 63.2h.1M262.0 48.5h.1M248.0 47.2h.1M250.4 42.7h.1M280.7 61.0h.1M278.6 55.2h.1M258.9 46.4h.1M275.9 53.6h.1M274.8 52.1h.1M252.1 43.6h.1M248.6 43.3h.1M254.0 41.3h.1M265.4 46.4h.1M248.4 43.3h.1M248.7 44.2h.1M245.3 45.7h.1M272.8 48.5h.1M272.2 52.7h.1M252.1 44.5h.1M271.5 52.0h.1M255.0 45.2h.1M261.4 44.5h.1M267.2 49.7h.1M278.2 53.8h.1M273.9 50.7h.1M243.1 44.5h.1M250.0 41.7h.1M271.0 48.7h.1M266.4 48.7h.1M279.4 54.8h.1M244.5 45.3h.1M270.8 50.8h.1M281.4 61.8h.1M263.5 48.7h.1M278.2 55.4h.1M278.8 59.4h.1M261.2 45.6h.1M274.0 52.9h.1M255.9 43.6h.1M256.5 45.1h.1M267.3 48.5h.1M276.7 51.9h.1M261.8 47.9h.1M264.1 48.9h.1M264.8 49.4h.1M268.5 50.4h.1M270.8 49.6h.1M269.2 48.3h.1M273.3 52.8h.1M278.7 57.2h.1M279.7 59.5h.1M257.1 47.2h.1M257.0 46.1h.1M280.4 57.0h.1M249.8 44.9h.1M261.3 47.0h.1M278.8 59.2h.1M278.7 54.9h.1M259.2 44.0h.1M251.3 40.0h.1M269.1 48.5h.1" stroke="#907070" stroke-width="0.6" stroke-linecap="round" opacity="0.85"/>
<path d="M250.3 53.7h.1M265.8 58.4h.1M251.7 53.9h.1M254.0 52.5h.1M249.8 55.2h.1M272.4 61.2h.1M267.0 57.6h.1M255.2 52.4h.1M256.6 53.8h.1M260.9 52.8h.1M251.5 53.5h.1M247.4 55.1h.1M258.5 53.1h.1M274.8 62.3h.1M244.2 52.8h.1M246.0 56.1h.1M259.6 53.1h.1M255.8 51.2h.1M246.0 52.7h.1M271.4 59.0h.1M267.5 60.1h.1M241.2 57.4h.1M239.5 49.6h.1M266.3 57.0h.1M259.0 53.6h.1M256.7 51.8h.1M240.1 52.3h.1M268.9 58.1h.1M273.1 60.8h.1M269.5 57.6h.1M273.8 61.9h.1M244.5 55.5h.1M240.7 56.0h.1M251.5 52.3h.1M258.0 54.0h.1M273.5 61.8h.1M254.7 56.5h.1M259.6 55.0h.1M259.8 52.1h.1M264.9 58.2h.1M246.2 54.3h.1M267.8 57.0h.1M261.3 56.9h.1M256.8 54.0h.1M249.6 49.3h.1M269.0 58.9h.1M254.8 48.9h.1M258.3 53.8h.1M250.2 51.5h.1M267.8 60.1h.1M259.1 54.5h.1M273.5 59.6h.1M261.3 52.5h.1M264.7 56.3h.1M260.9 54.3h.1M275.4 61.1h.1M263.0 53.4h.1M255.1 50.7h.1M245.9 51.8h.1M251.4 52.6h.1M265.9 60.9h.1M259.4 56.4h.1M270.0 57.1h.1M264.0 57.0h.1M260.5 55.8h.1M252.6 50.5h.1M248.9 52.3h.1M243.5 53.4h.1M271.7 61.0h.1M244.5 55.2h.1M267.2 57.9h.1M261.7 51.1h.1M269.7 58.4h.1M249.0 52.6h.1M253.5 50.8h.1M265.0 57.9h.1M258.1 53.5h.1M271.1 59.4h.1M251.4 50.7h.1M248.8 52.6h.1M269.0 58.8h.1M246.1 54.7h.1M255.0 53.1h.1M268.2 55.8h.1M262.9 55.0h.1M249.3 53.2h.1M245.1 53.3h.1M246.0 55.4h.1M243.3 54.0h.1M260.5 55.3h.1" stroke="#c0a4a4" stroke-width="0.6" stroke-linecap="round" opacity="0.7"/>
<path d="M240.7 51.5h.1M236.1 49.5h.1M234.2 39.9h.1M234.0 37.6h.1M238.4 47.9h.1M239.5 49.9h.1M232.6 38.9h.1M235.3 40.7h.1M238.8 48.2h.1M235.6 44.0h.1M237.7 45.3h.1M240.0 49.2h.1M233.9 37.9h.1M242.3 48.6h.1M235.2 48.0h.1M238.4 48.3h.1M234.8 38.4h.1M239.1 45.2h.1M233.6 36.3h.1M236.5 46.4h.1M231.2 36.6h.1M234.8 37.1h.1M235.6 41.8h.1M232.6 40.7h.1M238.8 46.1h.1M236.8 44.2h.1M235.7 42.6h.1M234.2 44.4h.1M237.3 50.4h.1M236.9 46.6h.1" stroke="#b8d890" stroke-width="0.6" stroke-linecap="round" opacity="0.7"/>
<path d="M237.5 33.2h.1M237.7 34.8h.1M232.1 35.5h.1M234.2 32.6h.1M233.6 36.5h.1M234.9 33.5h.1M236.0 31.2h.1M235.6 36.6h.1M231.2 31.8h.1M231.9 33.6h.1M232.2 34.0h.1M231.5 34.6h.1M235.4 34.9h.1M232.6 35.7h.1M230.2 32.7h.1M233.8 36.5h.1M233.1 35.2h.1M238.3 32.4h.1M234.7 35.0h.1M235.7 35.0h.1M233.7 34.1h.1M230.6 35.4h.1M234.8 32.9h.1M238.5 34.0h.1M232.4 35.2h.1M235.1 35.3h.1M233.8 35.5h.1M234.3 36.4h.1M234.8 32.4h.1M231.5 35.2h.1M236.3 31.1h.1M235.5 33.9h.1M234.7 32.4h.1M231.3 32.9h.1M232.0 33.2h.1M234.3 34.1h.1M238.7 32.2h.1M232.9 34.2h.1M235.6 32.0h.1M230.5 34.5h.1" stroke="#98d080" stroke-width="0.8" stroke-linecap="round" opacity="0.75"/>
<path d="M234.8 50.1h.1M235.8 44.4h.1M237.2 48.2h.1M240.7 47.5h.1M226.1 48.2h.1M234.2 49.4h.1M234.3 47.1h.1M227.8 48.1h.1M232.4 46.7h.1M233.7 47.7h.1M226.6 46.3h.1M230.7 47.8h.1M239.1 48.4h.1M235.4 42.8h.1M237.7 47.1h.1M235.4 45.6h.1M233.4 50.7h.1M233.4 49.1h.1M230.9 46.6h.1M234.5 48.0h.1M234.0 46.7h.1M232.2 50.5h.1M238.4 47.4h.1M231.3 48.9h.1M236.7 49.3h.1M237.2 48.0h.1M230.2 43.4h.1M236.4 49.2h.1M231.3 49.5h.1M229.6 51.3h.1M237.1 51.7h.1M232.0 52.4h.1M236.4 52.8h.1M227.7 51.0h.1M238.0 47.8h.1M236.8 48.8h.1M238.5 47.9h.1M233.7 45.4h.1M240.6 46.3h.1M230.0 46.1h.1M233.8 48.7h.1M235.0 52.7h.1M236.9 44.6h.1M234.2 48.1h.1M236.1 48.9h.1M238.1 48.9h.1M240.3 46.0h.1M237.6 51.0h.1M231.1 45.0h.1M231.3 49.6h.1M239.2 44.6h.1M232.6 45.1h.1M236.3 49.0h.1M233.7 50.5h.1M234.6 52.5h.1M232.6 47.0h.1M233.6 48.4h.1M238.0 47.5h.1M231.8 46.7h.1M230.9 43.3h.1M234.0 49.9h.1M234.1 46.5h.1M236.7 50.5h.1M234.4 50.3h.1M233.2 49.6h.1M235.4 45.3h.1M231.8 46.6h.1M234.5 48.5h.1M232.9 49.6h.1M228.4 49.1h.1M231.0 46.9h.1M238.3 47.6h.1M237.2 48.4h.1M232.5 47.5h.1M228.6 47.6h.1M234.0 52.3h.1M236.1 50.8h.1M230.4 46.5h.1M234.8 50.0h.1M229.9 51.3h.1M231.4 49.3h.1M231.9 50.5h.1M236.5 51.3h.1M230.4 48.9h.1M241.3 48.6h.1M235.2 48.9h.1M231.8 53.2h.1M238.9 46.7h.1M235.3 53.6h.1M235.2 48.8h.1" stroke="#b0ac60" stroke-width="0.8" stroke-linecap="round" opacity="0.75"/>
<path d="M244.0 62.8h.1M235.2 57.2h.1M247.2 59.9h.1M240.2 58.5h.1M248.9 58.5h.1M241.0 59.3h.1M239.3 56.9h.1M236.7 59.0h.1M241.9 55.8h.1M240.8 58.0h.1M240.0 58.9h.1M239.6 59.4h.1M242.1 60.4h.1M233.6 59.6h.1M233.1 56.3h.1M248.2 60.6h.1M239.0 60.7h.1M243.0 59.3h.1M241.3 55.2h.1M241.2 61.7h.1M232.1 60.9h.1M238.5 63.2h.1M243.3 58.8h.1M237.5 58.6h.1M243.3 58.4h.1M233.5 59.2h.1M235.9 63.5h.1M235.3 59.9h.1M239.6 56.2h.1M238.6 54.7h.1M242.1 57.9h.1M235.2 55.2h.1M245.9 62.3h.1M235.6 58.8h.1M242.4 61.9h.1M240.9 54.9h.1M247.5 61.0h.1M246.6 57.9h.1M242.9 63.9h.1M245.6 57.9h.1M238.2 63.6h.1M236.1 61.0h.1M239.8 56.2h.1M243.7 63.4h.1M242.7 61.1h.1M245.3 55.9h.1M239.1 64.2h.1M241.7 63.0h.1M238.8 60.7h.1M234.6 60.4h.1M241.4 59.3h.1M239.9 60.2h.1M240.6 62.0h.1M240.6 63.0h.1M235.0 58.7h.1M244.3 61.4h.1M233.8 58.3h.1M232.1 57.7h.1M243.7 62.3h.1M241.5 58.9h.1M242.3 63.5h.1M243.0 63.0h.1M241.8 61.5h.1M235.4 63.0h.1M235.7 57.0h.1M237.2 57.7h.1M246.0 60.5h.1M239.0 59.1h.1M239.4 63.3h.1M246.8 60.1h.1M247.3 62.8h.1M240.8 63.5h.1M240.4 60.9h.1M241.2 57.3h.1M234.9 56.7h.1M236.4 57.9h.1M237.1 62.3h.1M239.7 61.9h.1M241.9 58.2h.1M239.4 56.1h.1M232.2 59.6h.1M239.8 60.2h.1M244.9 57.4h.1M240.2 54.4h.1M235.8 60.7h.1M233.7 55.5h.1M237.8 63.8h.1M243.4 60.1h.1M242.6 60.6h.1M238.3 58.3h.1" stroke="#e0a8dc" stroke-width="0.8" stroke-linecap="round" opacity="0.75"/>
<path d="M234.6 76.3h.1M237.2 74.2h.1M237.3 75.1h.1M237.1 84.1h.1M235.1 72.9h.1M224.6 75.0h.1M233.9 72.0h.1M226.4 71.8h.1M226.8 70.8h.1M226.1 77.6h.1M229.4 75.4h.1M222.5 80.8h.1M231.6 74.0h.1M225.6 78.5h.1M235.6 73.3h.1M242.7 73.4h.1M238.5 79.2h.1M224.5 72.6h.1M235.7 74.7h.1M232.6 75.9h.1M235.3 73.0h.1M242.0 81.1h.1M240.8 77.1h.1M234.6 70.8h.1M229.7 85.5h.1M234.8 72.5h.1M227.8 79.0h.1M227.7 88.3h.1M233.2 76.9h.1M233.5 87.3h.1M224.3 69.8h.1M231.1 63.5h.1M231.1 75.6h.1M235.8 81.5h.1M234.7 81.0h.1M241.0 76.8h.1M225.9 78.1h.1M237.0 80.9h.1M234.9 83.5h.1M235.9 71.5h.1M232.0 65.1h.1M238.1 74.7h.1M229.6 89.4h.1M227.4 75.3h.1M230.2 64.2h.1M237.8 77.4h.1M230.4 81.0h.1M229.7 80.2h.1M240.3 74.3h.1M234.2 78.0h.1M223.8 84.1h.1M231.5 80.6h.1M234.4 76.2h.1M224.9 74.6h.1M224.6 83.8h.1M235.5 73.7h.1M228.1 82.5h.1M223.6 75.4h.1M234.3 71.3h.1M238.6 75.7h.1M237.7 79.2h.1M228.6 74.8h.1M239.2 72.4h.1M227.5 74.6h.1M234.2 80.9h.1M228.4 67.9h.1M231.8 74.9h.1M236.0 67.8h.1M230.9 69.0h.1M227.5 71.9h.1M222.7 71.0h.1M230.1 65.9h.1M227.1 83.4h.1M230.6 84.6h.1M238.9 79.1h.1M233.7 62.9h.1M220.0 74.5h.1M232.0 77.5h.1M227.5 73.3h.1M224.5 79.8h.1M235.6 64.6h.1M226.7 82.7h.1M227.8 68.2h.1M227.3 71.6h.1M232.7 75.5h.1M233.7 73.2h.1M233.4 85.7h.1M226.5 76.7h.1M233.4 77.9h.1M231.0 79.1h.1M231.7 72.3h.1M226.4 79.6h.1M231.9 65.0h.1M230.1 72.7h.1M235.2 83.7h.1M223.9 82.1h.1M231.5 86.0h.1M228.0 79.5h.1M233.6 86.8h.1M224.8 74.4h.1M233.0 75.5h.1M227.4 73.7h.1M229.4 87.9h.1M230.6 82.8h.1M228.8 77.1h.1M231.7 76.9h.1M223.9 74.3h.1M234.0 79.3h.1M223.8 72.5h.1M230.9 75.2h.1M225.3 78.8h.1M222.8 81.2h.1M232.6 73.9h.1M222.7 76.2h.1M236.4 68.4h.1M241.8 77.6h.1M221.5 81.3h.1M227.5 69.6h.1M225.4 68.7h.1M232.1 69.6h.1M235.1 70.7h.1M234.8 62.9h.1M228.9 75.0h.1M236.0 75.1h.1M232.0 78.4h.1M226.1 78.1h.1M234.4 73.5h.1M222.9 81.8h.1M237.7 79.0h.1M235.7 86.4h.1M230.2 79.4h.1M234.3 80.0h.1M231.9 73.4h.1M235.9 78.7h.1M240.4 81.5h.1M234.4 69.2h.1M230.8 77.8h.1M232.2 71.9h.1M230.1 85.8h.1M224.6 77.6h.1M223.1 79.8h.1M230.6 75.9h.1M234.9 73.0h.1M226.6 81.0h.1M225.4 68.7h.1M235.1 81.6h.1M228.5 70.5h.1M229.6 87.4h.1M240.7 76.7h.1M228.9 74.9h.1M221.6 75.2h.1M227.9 81.8h.1M226.8 76.9h.1M229.3 72.2h.1M243.2 73.7h.1M230.7 78.4h.1M242.1 80.9h.1M229.0 77.2h.1M240.8 82.2h.1M232.0 90.5h.1M225.1 81.8h.1M225.2 82.4h.1M233.9 81.0h.1M233.1 78.4h.1M243.7 80.2h.1M230.3 79.8h.1M237.0 79.0h.1M236.8 81.7h.1M228.4 76.5h.1M239.1 72.7h.1M233.5 72.1h.1M232.9 66.9h.1M233.6 72.8h.1M238.6 76.0h.1M241.7 86.2h.1M224.5 87.4h.1M232.0 78.9h.1M224.9 73.9h.1M230.2 67.8h.1M223.6 82.6h.1M228.9 75.3h.1M228.1 72.4h.1M229.0 74.6h.1M230.7 81.2h.1M231.6 75.2h.1M226.1 78.2h.1M234.7 74.9h.1M221.7 72.7h.1M229.9 83.5h.1M229.2 80.7h.1M239.9 83.4h.1M228.3 65.4h.1M228.2 76.1h.1M228.2 73.7h.1M221.2 71.8h.1M237.5 69.7h.1M232.3 74.9h.1M232.4 77.3h.1M225.0 76.9h.1M242.3 80.6h.1M223.8 71.2h.1M242.2 76.9h.1M234.1 67.8h.1M222.6 72.3h.1M234.3 71.8h.1M234.0 73.6h.1M220.0 70.3h.1M231.1 89.6h.1M222.4 75.0h.1M232.7 78.4h.1M229.8 84.6h.1M239.1 73.2h.1M226.6 74.2h.1M222.8 74.0h.1M236.7 73.3h.1M230.9 70.9h.1M231.4 78.5h.1M224.2 79.4h.1M225.8 74.4h.1M234.6 70.1h.1M231.2 68.6h.1M237.4 76.1h.1M221.8 77.7h.1M226.3 86.0h.1M229.7 79.2h.1M225.5 72.4h.1M229.2 80.6h.1M238.9 78.2h.1M232.1 70.0h.1M227.9 73.8h.1M234.7 87.9h.1M231.2 71.3h.1M224.7 79.1h.1M238.5 81.8h.1M240.9 78.6h.1M229.0 76.4h.1M225.1 72.6h.1M231.3 63.6h.1M230.9 79.2h.1M239.4 76.9h.1M239.4 72.8h.1M239.7 73.5h.1M233.0 67.7h.1M242.0 76.0h.1M238.2 77.1h.1M232.0 80.7h.1M224.3 76.7h.1M231.3 69.6h.1M238.1 76.7h.1M239.0 78.8h.1M230.6 72.1h.1M232.9 72.5h.1M238.2 74.2h.1M240.3 76.1h.1M232.4 72.3h.1M234.8 84.1h.1M235.6 88.7h.1M243.1 68.8h.1M234.2 70.7h.1M231.1 74.6h.1M236.5 82.8h.1M233.1 71.4h.1M233.7 77.1h.1M227.9 80.9h.1M240.8 73.3h.1M241.0 71.6h.1M231.6 65.9h.1M231.0 87.0h.1M225.8 70.3h.1M225.6 75.0h.1M240.2 69.0h.1M233.0 88.8h.1M230.1 75.4h.1M238.2 65.2h.1M225.7 77.6h.1M230.5 80.3h.1M226.3 73.5h.1M229.1 67.9h.1M232.8 87.1h.1M225.9 76.9h.1M233.1 85.0h.1M230.2 65.8h.1M235.7 72.1h.1M225.0 72.1h.1M231.2 76.9h.1M233.8 63.2h.1M218.5 75.3h.1M238.6 81.0h.1M224.0 79.9h.1M224.1 82.3h.1M232.1 81.6h.1M226.0 78.4h.1M224.8 73.8h.1M235.5 83.2h.1M235.1 67.3h.1M240.1 76.3h.1M221.5 83.2h.1M236.9 84.2h.1M233.4 81.2h.1M237.2 64.9h.1M228.5 72.5h.1M226.9 75.6h.1M230.5 80.5h.1M245.9 75.5h.1M233.6 88.4h.1M234.5 66.8h.1M229.8 83.9h.1M237.9 68.9h.1M234.0 76.2h.1M227.9 80.8h.1M243.3 77.1h.1M228.8 66.3h.1M235.2 73.7h.1M233.6 83.0h.1M222.0 83.2h.1M228.7 76.4h.1M224.5 81.1h.1M230.8 75.8h.1M235.1 72.5h.1M239.4 80.5h.1M230.2 68.2h.1M232.8 77.4h.1M232.8 69.1h.1M239.3 79.0h.1M236.8 81.5h.1M232.1 72.0h.1M222.9 79.8h.1M228.5 84.4h.1M239.6 82.0h.1M230.8 83.0h.1M242.1 78.8h.1M233.5 87.5h.1M225.4 79.3h.1M230.3 80.0h.1M237.9 77.5h.1M232.0 87.7h.1M235.7 81.6h.1M232.9 77.9h.1M238.9 77.6h.1M230.9 73.2h.1" stroke="#f09238" stroke-width="0.8" stroke-linecap="round" opacity="0.75"/>
<path d="M217.2 51.5h.1M218.2 49.4h.1M218.3 54.7h.1M218.2 51.2h.1M214.6 50.8h.1M220.7 45.6h.1M218.8 55.7h.1M218.3 51.4h.1M213.4 57.0h.1M216.3 46.9h.1M218.5 46.7h.1M213.0 48.0h.1M213.7 47.3h.1M219.4 60.9h.1M219.1 54.5h.1M213.5 42.2h.1M219.3 53.5h.1M218.7 45.6h.1M216.4 52.2h.1M222.9 49.8h.1M220.1 46.7h.1M221.5 54.7h.1M216.9 46.3h.1M220.2 50.5h.1M222.1 46.6h.1M216.6 41.8h.1M216.2 62.1h.1M211.6 51.8h.1M215.3 43.9h.1M215.7 52.5h.1M217.3 55.7h.1M220.2 46.9h.1M217.8 52.6h.1M218.0 36.3h.1M216.5 51.5h.1M219.4 38.5h.1M215.1 53.5h.1M215.2 55.1h.1M215.7 38.2h.1M216.1 45.5h.1M219.4 46.4h.1M212.6 45.6h.1M221.6 40.0h.1M214.3 48.1h.1M218.8 45.6h.1M223.0 48.1h.1M214.3 50.3h.1M218.5 49.7h.1M216.1 62.0h.1M221.8 53.1h.1M217.0 54.2h.1M220.0 51.7h.1M214.8 56.2h.1M220.1 42.7h.1M219.4 56.2h.1M220.0 48.2h.1M217.7 46.0h.1M216.3 57.0h.1M220.3 43.7h.1M218.6 57.4h.1M221.9 53.5h.1M215.9 47.9h.1M216.6 45.8h.1M214.3 50.1h.1M218.9 46.3h.1M223.4 47.8h.1M219.2 62.4h.1M216.4 61.4h.1M218.2 61.7h.1M220.8 44.5h.1M216.8 40.8h.1M216.7 45.8h.1M219.9 37.2h.1M212.9 46.9h.1M215.6 54.8h.1M217.4 45.2h.1M220.1 39.8h.1M218.3 55.9h.1M220.9 45.3h.1M222.6 52.9h.1M218.7 56.2h.1M222.3 44.5h.1M218.1 48.9h.1M217.8 53.0h.1M219.9 49.7h.1M219.6 58.2h.1M219.7 40.8h.1M212.6 47.0h.1M217.5 49.0h.1M218.2 49.4h.1M221.6 50.0h.1M216.9 46.7h.1M220.1 45.8h.1M217.2 49.0h.1M216.5 39.6h.1M214.9 42.5h.1M215.1 46.5h.1M219.2 46.8h.1M213.6 56.4h.1M218.8 36.9h.1M218.2 41.1h.1M217.0 46.6h.1M219.7 39.2h.1M217.8 55.8h.1M213.6 53.7h.1M219.1 51.5h.1M222.6 45.6h.1M216.4 51.8h.1M219.6 50.2h.1M219.0 48.5h.1M219.3 47.0h.1M219.0 46.0h.1M217.5 40.0h.1M216.0 49.3h.1M215.9 49.9h.1M221.1 49.0h.1M216.0 47.5h.1M212.2 54.6h.1M222.6 43.1h.1M220.2 50.7h.1M221.8 56.6h.1M220.2 58.6h.1M218.3 53.8h.1M214.4 61.1h.1M217.7 53.9h.1M218.8 45.5h.1M215.5 46.5h.1M217.7 43.2h.1M217.9 53.1h.1M219.4 46.5h.1M217.2 57.8h.1M220.6 48.4h.1M216.5 54.8h.1M211.8 53.1h.1M215.3 46.2h.1M216.6 54.9h.1M213.0 52.8h.1M222.7 44.0h.1M216.8 55.0h.1M216.7 50.4h.1M216.0 52.3h.1M216.9 49.2h.1M214.9 58.6h.1M215.8 59.2h.1M216.2 59.7h.1M218.0 42.2h.1M216.0 50.9h.1M220.2 54.6h.1M214.2 59.3h.1M218.7 51.7h.1" stroke="#58bcd8" stroke-width="0.8" stroke-linecap="round" opacity="0.75"/>
<path d="M201.3 60.9h.1M202.2 53.9h.1M204.3 58.0h.1M202.2 56.5h.1M204.6 53.2h.1M208.4 53.7h.1M196.5 60.7h.1M213.7 56.7h.1M196.1 57.6h.1M208.5 56.3h.1M207.6 57.6h.1M195.7 64.1h.1M197.1 60.2h.1M199.3 60.0h.1M212.2 55.7h.1M200.2 58.5h.1M203.9 56.5h.1M208.5 53.1h.1M206.6 53.4h.1M209.1 57.4h.1M206.5 59.4h.1M212.7 54.1h.1M205.0 53.4h.1M200.1 61.7h.1M208.4 53.8h.1M204.8 54.8h.1M211.0 52.7h.1M212.1 54.1h.1M198.9 61.5h.1M208.4 57.0h.1M210.4 53.4h.1M195.5 59.9h.1M206.6 57.0h.1M200.1 59.8h.1M197.2 60.1h.1M208.4 56.5h.1M206.4 52.1h.1M202.6 56.9h.1M202.4 56.6h.1M205.8 58.3h.1M209.2 54.9h.1M203.4 58.3h.1M196.1 62.2h.1M201.5 60.2h.1M206.8 57.0h.1M213.2 56.8h.1M206.9 53.5h.1M198.6 57.8h.1M201.9 56.0h.1M199.8 62.0h.1M204.0 57.0h.1M192.9 61.5h.1M207.5 58.3h.1M192.5 59.3h.1M213.1 54.1h.1M212.4 56.0h.1M211.0 53.0h.1M208.6 55.6h.1M192.5 62.2h.1M200.4 59.1h.1M202.4 53.2h.1M211.7 53.8h.1M203.6 51.7h.1M204.8 57.4h.1M206.3 52.8h.1M210.2 51.0h.1M207.7 57.1h.1M207.4 53.0h.1M205.0 51.0h.1M208.3 55.6h.1M207.9 56.4h.1M195.6 63.9h.1M206.3 59.2h.1M200.6 55.8h.1M208.1 56.6h.1M203.5 58.8h.1M207.3 56.1h.1M198.0 57.4h.1M195.5 58.0h.1M207.8 59.0h.1M200.9 59.1h.1M206.7 60.2h.1M204.9 54.6h.1M208.1 50.0h.1M202.4 58.4h.1M207.5 54.8h.1M209.6 54.8h.1M197.8 59.2h.1M209.1 56.3h.1M210.1 56.4h.1M210.6 57.0h.1M191.2 60.2h.1M206.2 52.9h.1M204.7 54.2h.1M205.9 52.9h.1M208.0 50.8h.1M196.6 54.7h.1M197.4 59.7h.1M205.3 58.9h.1M198.7 58.1h.1M209.2 55.2h.1M212.3 56.3h.1M201.7 53.6h.1M194.0 56.8h.1M206.8 53.3h.1M211.0 53.7h.1M200.4 59.5h.1M198.1 56.8h.1M202.5 60.3h.1M194.9 63.0h.1M205.8 57.1h.1M196.9 59.5h.1M210.2 55.3h.1M206.9 57.2h.1M204.0 56.5h.1M206.7 59.0h.1M206.9 51.7h.1M197.2 59.2h.1M205.6 53.3h.1M204.4 54.1h.1M214.4 57.4h.1M206.8 59.4h.1M200.1 55.6h.1M202.9 58.1h.1M202.0 58.1h.1M197.8 58.5h.1M209.2 56.2h.1M200.0 59.2h.1M208.3 54.8h.1M205.5 56.8h.1M209.9 56.0h.1M210.2 55.2h.1M207.6 54.8h.1M201.0 55.0h.1M207.6 58.2h.1M210.1 55.1h.1M206.5 56.9h.1M199.0 59.5h.1M205.7 57.8h.1M208.6 54.8h.1M210.6 55.1h.1M206.8 54.7h.1M209.8 54.7h.1M204.1 58.0h.1M203.6 60.4h.1M203.5 59.7h.1M201.9 54.7h.1M206.3 56.7h.1M205.8 55.1h.1M198.1 61.7h.1M210.6 54.1h.1M202.7 53.8h.1M205.1 53.8h.1M206.5 59.3h.1M201.3 56.9h.1M198.2 57.5h.1M199.9 60.6h.1M201.0 60.0h.1M208.9 55.0h.1M203.5 57.2h.1M202.8 62.1h.1M195.4 60.0h.1M210.7 52.4h.1M214.2 51.6h.1M207.3 59.4h.1M212.1 54.6h.1M210.6 52.1h.1M208.8 53.0h.1M204.0 55.1h.1M203.9 58.2h.1M211.7 57.6h.1M212.6 56.6h.1M204.6 61.9h.1M205.6 56.3h.1M196.0 58.1h.1M202.9 57.6h.1M195.2 60.2h.1M200.6 58.0h.1M202.7 57.3h.1M207.0 58.1h.1" stroke="#3aa878" stroke-width="0.8" stroke-linecap="round" opacity="0.75"/>
<path d="M213.1 86.3h.1M217.4 87.1h.1M215.9 83.4h.1M219.7 81.5h.1M211.7 85.9h.1M212.4 89.4h.1M220.1 85.3h.1M211.4 90.9h.1M221.0 86.2h.1M218.1 85.4h.1M215.1 84.9h.1M217.7 87.0h.1M217.0 87.4h.1M213.2 83.7h.1M217.5 81.9h.1M218.7 85.6h.1M209.6 84.7h.1M213.5 92.3h.1M213.6 88.3h.1M214.8 86.9h.1M213.2 89.8h.1M218.2 82.9h.1M219.7 87.4h.1M213.6 82.6h.1M215.9 87.1h.1M213.7 85.6h.1M218.7 80.7h.1M220.7 88.0h.1M213.0 87.0h.1M210.2 87.6h.1M218.8 84.4h.1M221.3 85.2h.1M214.5 82.6h.1M215.2 82.2h.1M216.5 83.9h.1M213.9 87.1h.1M220.7 86.0h.1M214.3 84.6h.1M217.9 81.5h.1M216.4 82.0h.1" stroke="#c898d8" stroke-width="0.8" stroke-linecap="round" opacity="0.75"/>
<path d="M197.9 87.1h.1M201.3 87.0h.1M205.8 79.7h.1M211.5 79.2h.1M194.7 83.1h.1M200.3 86.5h.1M213.8 87.2h.1M202.0 84.3h.1M206.3 85.7h.1M196.6 86.5h.1M199.1 84.7h.1M193.2 82.8h.1M194.7 82.1h.1M194.3 86.3h.1M191.1 84.2h.1M191.0 85.6h.1M213.8 83.7h.1M202.0 81.9h.1M197.9 78.0h.1M208.6 88.3h.1M209.8 77.1h.1M197.9 83.7h.1M202.3 83.5h.1M195.5 85.3h.1M210.3 87.8h.1M198.1 84.8h.1M206.9 78.8h.1M191.6 79.8h.1M209.4 87.5h.1M192.8 80.2h.1M198.0 85.8h.1M208.7 85.6h.1M192.4 82.8h.1M191.7 82.3h.1M207.5 87.4h.1M202.0 77.3h.1M204.5 85.4h.1M199.5 78.4h.1M195.4 87.8h.1M196.5 83.4h.1M196.9 83.0h.1M200.7 78.7h.1M212.1 79.5h.1M201.7 81.7h.1M198.2 86.1h.1M198.0 81.3h.1M208.7 81.0h.1M200.1 76.1h.1M201.6 85.1h.1M198.8 81.9h.1M204.0 83.3h.1M205.4 77.2h.1M195.5 84.9h.1M196.3 81.3h.1M197.9 85.4h.1M200.8 87.9h.1M198.6 82.2h.1M211.8 87.0h.1M187.3 82.4h.1M200.4 78.6h.1M201.3 87.4h.1M189.7 83.0h.1M198.2 84.1h.1M189.8 83.7h.1M201.3 82.5h.1M199.3 82.5h.1M190.6 79.5h.1M205.2 82.4h.1M201.2 81.4h.1M196.3 79.4h.1M206.6 83.7h.1M191.6 84.6h.1M208.0 83.3h.1M199.7 87.7h.1M192.2 83.4h.1M209.8 79.3h.1M195.5 83.8h.1M198.7 78.6h.1M197.9 79.4h.1M201.5 80.6h.1M205.1 80.2h.1M199.9 83.3h.1M206.9 79.7h.1M197.8 80.4h.1M210.4 85.3h.1M197.1 82.4h.1M202.8 82.3h.1M212.7 78.3h.1M208.6 82.4h.1M189.2 84.3h.1M214.6 86.3h.1M212.4 84.3h.1M209.8 84.7h.1M199.9 78.9h.1M198.0 84.6h.1M207.0 84.9h.1M203.1 85.4h.1M205.6 84.7h.1M199.1 83.6h.1M201.2 80.2h.1M204.0 79.0h.1M200.1 77.6h.1M194.6 86.2h.1M216.0 85.7h.1M199.5 75.5h.1M199.3 84.3h.1M201.6 80.9h.1M207.0 81.4h.1M204.0 82.2h.1M198.2 88.4h.1M212.5 86.3h.1M194.2 84.9h.1M204.3 85.4h.1M210.9 80.1h.1M204.3 84.1h.1M205.7 84.7h.1M199.8 86.7h.1M209.6 85.5h.1M193.2 78.1h.1M191.5 82.8h.1M205.3 85.5h.1M203.1 82.5h.1M186.0 79.7h.1M206.4 82.4h.1M210.4 83.7h.1M211.0 88.1h.1M211.8 88.3h.1M201.1 83.8h.1M208.6 88.3h.1M212.6 81.2h.1M198.0 79.8h.1M199.3 85.7h.1M205.6 84.1h.1M201.9 90.2h.1M207.2 82.1h.1M206.0 82.8h.1M200.2 81.5h.1M201.4 78.0h.1M194.9 77.2h.1M186.2 81.9h.1M200.5 77.8h.1M202.6 88.8h.1M204.6 82.9h.1M191.1 83.7h.1M207.3 77.9h.1M198.3 86.0h.1M202.9 83.5h.1M203.3 82.4h.1M208.0 85.1h.1M218.7 84.9h.1M204.9 83.5h.1M194.5 82.4h.1M202.6 76.5h.1M208.4 84.9h.1M202.0 85.0h.1M213.6 86.8h.1M198.7 85.4h.1M207.9 81.5h.1M204.3 84.6h.1M200.2 83.7h.1M198.5 80.0h.1M198.8 79.5h.1M202.3 78.7h.1M208.6 87.2h.1M190.6 81.0h.1M212.2 85.7h.1M215.0 82.3h.1M199.5 81.0h.1M194.5 78.8h.1M201.8 90.0h.1M201.3 84.1h.1M185.8 82.8h.1M200.5 80.5h.1M189.0 85.9h.1M209.7 82.3h.1M196.0 82.7h.1M195.3 76.3h.1M194.3 87.5h.1M190.5 82.0h.1M201.0 78.3h.1M206.8 84.1h.1M210.3 86.9h.1M203.4 84.3h.1M208.4 83.8h.1M204.9 80.4h.1M195.9 82.1h.1M199.0 87.9h.1M211.5 83.9h.1M208.2 82.5h.1M191.3 82.4h.1M200.6 84.9h.1M202.3 82.8h.1M202.7 86.8h.1M204.0 83.6h.1M211.7 79.6h.1M207.8 78.8h.1M193.6 86.2h.1M197.9 85.1h.1M202.1 83.1h.1M206.2 78.0h.1M206.5 80.6h.1M199.3 78.6h.1M200.6 86.4h.1M212.3 87.8h.1M201.5 82.0h.1M199.1 77.8h.1M210.6 83.5h.1M201.5 83.2h.1M203.6 77.9h.1M202.5 84.2h.1M190.8 85.3h.1M197.3 86.5h.1M200.3 80.9h.1M198.4 81.8h.1M205.0 79.7h.1M208.6 81.5h.1M195.3 84.5h.1M189.6 84.0h.1M201.5 83.5h.1M199.6 81.3h.1M205.7 85.8h.1M196.6 82.9h.1M207.6 82.0h.1M207.3 82.1h.1M216.2 84.8h.1M200.4 83.4h.1M192.7 78.3h.1M192.5 85.0h.1M208.0 83.4h.1M197.8 88.6h.1M211.1 86.5h.1M190.0 80.8h.1M190.4 81.3h.1M213.5 88.0h.1M190.8 81.1h.1M202.9 79.2h.1M210.2 79.8h.1M201.8 84.4h.1M200.1 75.9h.1M198.4 85.1h.1M199.8 81.9h.1M193.4 82.3h.1M204.9 87.7h.1M195.0 81.0h.1M199.2 81.7h.1M208.0 81.9h.1M193.5 88.0h.1M205.3 78.0h.1M213.3 82.9h.1M210.7 85.3h.1" stroke="#7a4cc0" stroke-width="0.8" stroke-linecap="round" opacity="0.75"/>
<path d="M204.5 70.3h.1M210.2 59.9h.1M219.6 69.6h.1M207.8 70.3h.1M213.9 68.9h.1M211.7 70.5h.1M209.7 70.5h.1M220.0 67.6h.1M216.4 77.2h.1M204.3 68.8h.1M222.2 61.8h.1M213.7 78.5h.1M208.9 71.6h.1M210.7 63.4h.1M212.4 75.9h.1M205.5 73.5h.1M213.4 60.6h.1M211.3 74.3h.1M217.2 69.1h.1M207.2 74.2h.1M219.6 74.4h.1M209.9 66.5h.1M210.0 77.1h.1M215.6 68.6h.1M210.2 59.1h.1M212.4 72.9h.1M219.5 68.3h.1M209.3 63.6h.1M211.3 69.0h.1M215.0 70.4h.1M214.2 67.9h.1M210.1 71.5h.1M206.2 63.6h.1M215.9 61.3h.1M213.0 66.1h.1M201.4 73.4h.1M207.1 68.2h.1M214.5 68.6h.1M205.6 62.5h.1M213.6 67.9h.1M208.3 66.5h.1M211.4 68.1h.1M205.1 70.7h.1M211.8 73.7h.1M211.8 62.7h.1M207.1 73.3h.1M206.2 64.5h.1M216.0 69.1h.1M204.1 70.3h.1M216.1 72.4h.1M215.4 74.2h.1M211.2 71.3h.1M209.3 61.1h.1M213.1 72.6h.1M207.9 77.1h.1M220.0 75.0h.1M217.3 68.2h.1M213.6 76.4h.1M214.9 66.6h.1M218.9 71.5h.1M209.7 71.1h.1M213.3 67.7h.1M209.7 66.0h.1M217.4 72.8h.1M207.7 72.5h.1M207.6 65.1h.1M210.8 72.7h.1M202.2 63.6h.1M215.2 66.2h.1M209.9 65.2h.1M211.0 68.0h.1M213.1 64.1h.1M212.4 58.6h.1M221.1 76.8h.1M217.0 68.5h.1M205.2 60.8h.1M221.7 71.5h.1M209.8 75.1h.1M215.5 74.2h.1M216.6 66.9h.1M209.5 71.0h.1M209.5 72.1h.1M208.3 73.8h.1M203.6 68.2h.1M211.6 68.8h.1M218.7 63.8h.1M210.3 65.2h.1M217.2 70.3h.1M218.5 67.4h.1M207.1 70.1h.1M220.6 70.4h.1M222.8 74.1h.1M209.6 68.3h.1M212.9 71.2h.1M215.3 73.2h.1M207.6 73.0h.1M216.4 76.7h.1M216.7 65.5h.1M212.4 65.4h.1M211.4 66.4h.1M221.0 59.7h.1M211.4 73.5h.1M211.2 64.9h.1M207.2 66.4h.1M220.7 66.4h.1M218.0 64.9h.1M202.0 65.2h.1M218.9 62.5h.1M204.0 72.5h.1M212.1 66.0h.1M219.0 74.5h.1M211.9 78.0h.1M222.4 70.2h.1M213.7 69.8h.1M215.4 73.7h.1M218.7 74.6h.1M218.4 64.1h.1M216.8 80.1h.1M219.0 68.6h.1M221.2 67.9h.1M214.2 69.5h.1M217.4 79.9h.1M210.8 57.4h.1M209.5 66.4h.1M212.8 68.2h.1M209.2 73.6h.1M213.8 64.1h.1M214.7 71.6h.1M215.0 74.4h.1M212.2 69.5h.1M221.2 68.2h.1M211.8 76.7h.1M216.2 69.5h.1M217.0 71.3h.1M199.9 64.0h.1M209.5 68.9h.1M210.3 66.5h.1M204.8 65.8h.1M209.0 65.9h.1M205.9 67.7h.1M212.2 66.6h.1M208.8 57.8h.1M208.0 71.4h.1M212.4 74.1h.1M206.8 65.1h.1M215.8 74.7h.1M213.1 73.2h.1M206.0 75.6h.1M208.0 70.8h.1M216.7 70.1h.1M205.0 65.1h.1M213.2 74.0h.1M211.1 67.4h.1M206.5 65.5h.1M210.7 76.1h.1M217.5 73.9h.1M209.8 72.0h.1M200.2 75.1h.1M216.6 64.2h.1M216.0 61.7h.1M207.9 69.9h.1M210.9 74.7h.1M219.2 73.9h.1M202.8 69.7h.1M226.5 71.8h.1M208.0 63.9h.1M209.3 77.4h.1M215.4 75.2h.1M213.3 76.5h.1M225.0 75.0h.1M221.6 66.1h.1M216.9 71.8h.1M216.9 73.6h.1M214.1 68.0h.1M217.7 72.3h.1M208.0 69.6h.1M201.3 72.3h.1M206.1 70.6h.1M210.8 61.5h.1M200.5 73.0h.1M212.7 61.1h.1M208.7 68.2h.1M211.6 60.8h.1M205.9 64.9h.1M202.9 67.2h.1M212.2 75.4h.1M224.8 63.6h.1M212.1 68.9h.1M210.3 70.1h.1M220.0 64.8h.1M212.2 62.4h.1M218.2 74.1h.1M214.2 66.2h.1M212.6 66.8h.1M211.6 75.2h.1M218.4 71.2h.1M204.6 68.7h.1M221.7 63.9h.1M212.5 80.8h.1M201.9 65.5h.1M218.0 72.6h.1M208.2 74.7h.1M214.4 68.3h.1M211.6 72.0h.1M212.7 63.3h.1M204.0 68.6h.1M215.3 76.0h.1M203.2 63.3h.1M213.9 75.5h.1M209.9 69.7h.1M213.6 66.1h.1M211.8 65.5h.1M216.9 71.4h.1M212.1 65.5h.1M212.7 74.8h.1M208.4 59.8h.1M209.8 67.0h.1M210.4 69.7h.1M206.3 62.6h.1M213.0 70.7h.1M206.8 61.4h.1M213.7 69.0h.1M220.8 63.9h.1M213.1 71.1h.1M213.6 68.2h.1M206.9 71.4h.1M209.2 68.3h.1M202.4 67.0h.1M210.6 70.7h.1M207.9 66.7h.1M217.5 67.6h.1M215.9 75.0h.1M210.6 70.9h.1M208.1 66.9h.1M215.6 68.2h.1M218.4 73.6h.1M207.9 58.5h.1M201.5 69.8h.1M206.0 72.8h.1M212.7 68.1h.1M210.5 63.6h.1M212.7 63.6h.1M222.2 71.0h.1M221.3 70.4h.1M218.5 65.2h.1M204.3 74.8h.1M216.3 80.4h.1M226.4 71.4h.1M225.7 72.1h.1M205.3 72.5h.1M209.0 77.6h.1M216.2 68.9h.1M208.9 68.8h.1M212.9 67.7h.1M210.3 72.7h.1M212.1 65.9h.1M221.4 63.3h.1M220.0 63.4h.1M211.7 65.1h.1M212.9 74.0h.1M224.2 69.0h.1M214.8 72.9h.1M208.5 64.4h.1M212.3 72.3h.1M212.2 74.1h.1M212.1 74.0h.1M204.1 63.5h.1M207.4 67.3h.1M213.7 71.3h.1M216.9 69.4h.1M208.3 66.0h.1M220.5 73.9h.1M210.9 68.7h.1M204.2 59.9h.1M207.7 73.7h.1M222.5 67.3h.1M217.2 65.0h.1M214.0 65.0h.1M215.1 73.3h.1M212.5 73.6h.1M215.0 68.8h.1M212.7 65.2h.1M204.5 65.6h.1M213.6 67.8h.1M210.9 71.6h.1M218.8 63.4h.1M217.3 64.0h.1M219.3 72.0h.1M213.7 68.3h.1M218.9 66.2h.1M210.7 67.7h.1M222.9 68.6h.1M201.1 65.8h.1M208.2 72.9h.1M211.6 72.2h.1M212.6 62.6h.1M206.1 61.8h.1M205.7 71.8h.1M207.5 69.2h.1M221.3 64.2h.1M211.7 73.3h.1M215.6 66.3h.1M208.2 70.9h.1M208.9 69.8h.1M211.4 71.7h.1M206.3 64.1h.1M210.6 80.4h.1M211.1 78.3h.1M212.0 66.9h.1M201.3 75.9h.1M210.9 68.3h.1M219.1 72.6h.1M222.4 64.6h.1M217.7 68.5h.1M214.8 78.5h.1M198.7 73.4h.1M210.1 65.4h.1M214.2 69.1h.1M226.7 66.3h.1M209.8 67.7h.1M213.1 71.1h.1M210.1 69.4h.1M216.0 63.9h.1M216.8 66.3h.1M204.7 70.7h.1M215.5 69.8h.1M209.4 67.1h.1M219.5 62.3h.1M212.8 76.0h.1M211.5 66.5h.1M211.8 68.1h.1M221.3 69.7h.1M204.6 73.2h.1M221.1 77.9h.1M203.5 75.3h.1M216.3 66.6h.1M214.7 74.5h.1M208.8 70.7h.1M216.8 59.4h.1M224.5 64.5h.1M210.3 74.4h.1M212.5 78.9h.1M216.8 65.9h.1M211.2 68.7h.1M220.9 71.4h.1M211.4 74.5h.1M216.7 59.7h.1M210.7 71.8h.1M221.9 78.4h.1M208.0 69.9h.1M224.1 63.8h.1M216.4 78.4h.1M213.9 71.7h.1M215.2 77.0h.1M206.4 70.9h.1M212.7 66.0h.1M214.0 61.1h.1M212.0 70.7h.1M210.9 73.9h.1M213.8 69.9h.1M212.5 69.3h.1M213.8 69.4h.1M208.5 75.5h.1M215.7 67.2h.1M211.2 67.1h.1M212.6 66.8h.1M203.3 72.6h.1M209.3 79.5h.1M216.0 70.2h.1M206.8 63.5h.1M209.3 65.1h.1M205.7 75.2h.1M206.7 69.7h.1M215.2 77.4h.1M214.3 65.0h.1M207.8 74.1h.1M220.7 79.3h.1M222.2 71.9h.1M218.0 61.7h.1M216.6 70.9h.1M224.1 69.6h.1M221.9 75.5h.1M207.1 75.9h.1M217.5 68.7h.1M211.7 67.1h.1M218.9 70.6h.1M219.4 76.2h.1M208.1 68.1h.1M218.0 73.3h.1M217.5 62.8h.1M217.0 65.0h.1M215.3 65.6h.1M218.8 69.3h.1M220.8 62.8h.1M207.5 66.6h.1M213.1 75.0h.1M218.9 63.8h.1M209.1 65.2h.1M208.5 77.3h.1M214.4 71.4h.1M198.4 65.9h.1M216.2 69.5h.1M207.0 67.1h.1M214.3 63.0h.1M210.8 68.9h.1M210.2 73.3h.1M207.9 70.1h.1M225.0 70.4h.1M206.1 70.9h.1M212.7 71.5h.1M213.1 78.7h.1M220.9 63.3h.1M223.6 61.5h.1M206.6 68.3h.1M220.8 77.0h.1M205.2 74.0h.1M213.8 74.6h.1M219.1 70.3h.1M218.2 73.3h.1M222.1 68.3h.1M211.0 71.5h.1M220.3 73.9h.1M211.4 76.9h.1M214.9 77.7h.1M210.2 58.4h.1M213.6 63.2h.1M214.8 64.7h.1M214.6 70.6h.1M217.2 73.1h.1M199.0 72.7h.1M216.4 57.9h.1M213.4 71.0h.1M206.1 67.6h.1M203.7 61.8h.1M210.7 61.9h.1M223.1 71.3h.1M224.9 72.8h.1M210.3 73.7h.1M208.8 77.9h.1M215.5 69.5h.1" stroke="#2f86cc" stroke-width="0.8" stroke-linecap="round" opacity="0.75"/>
<path d="M190.4 69.3h.1M193.9 71.3h.1M198.5 69.1h.1M200.2 69.5h.1M191.3 69.3h.1M189.1 67.3h.1M194.0 71.6h.1M185.8 68.6h.1M194.5 75.7h.1M191.3 69.8h.1M195.3 69.1h.1M194.8 73.0h.1M192.1 66.3h.1M190.7 74.0h.1M190.4 65.3h.1M188.9 64.2h.1M192.4 65.3h.1M194.7 70.7h.1M188.0 66.5h.1M193.5 75.0h.1M199.8 71.5h.1M192.1 76.9h.1M189.9 68.4h.1M192.7 72.0h.1M195.4 70.5h.1M190.2 69.3h.1M188.7 73.5h.1M193.9 63.9h.1M195.2 70.5h.1M190.3 71.8h.1M196.6 68.6h.1M190.0 67.3h.1M187.1 74.9h.1M188.6 63.8h.1M190.7 68.9h.1M193.8 68.8h.1M192.6 72.8h.1M188.2 66.1h.1M186.0 69.4h.1M194.0 70.4h.1M189.5 74.7h.1M189.1 69.3h.1M191.0 66.4h.1M192.5 67.5h.1M198.3 70.2h.1M196.6 74.5h.1M188.5 67.2h.1M197.9 71.7h.1M197.0 70.0h.1M188.9 73.4h.1M195.7 71.5h.1M190.8 69.9h.1M194.4 69.6h.1M190.9 69.1h.1M193.5 70.6h.1M193.5 73.0h.1M193.5 71.1h.1M194.3 73.8h.1M183.7 67.7h.1M191.1 68.3h.1M195.3 68.5h.1M185.3 70.2h.1M192.0 68.2h.1M187.2 65.1h.1M192.2 68.7h.1M187.9 68.7h.1M193.2 68.8h.1M189.8 72.6h.1M189.0 68.7h.1M193.8 74.5h.1M194.9 68.2h.1M188.6 67.6h.1M195.7 67.6h.1M190.1 64.9h.1M193.0 69.2h.1M184.3 68.7h.1M190.9 70.0h.1M187.9 72.3h.1M194.0 68.8h.1M192.2 72.2h.1M193.4 72.6h.1M194.4 66.3h.1M189.5 69.9h.1M192.1 67.5h.1M191.1 68.5h.1M185.9 67.4h.1M191.4 72.6h.1M190.9 63.9h.1M192.4 65.8h.1M196.0 67.9h.1M190.2 70.4h.1M191.6 65.7h.1M190.4 72.5h.1M190.3 62.4h.1M195.0 67.9h.1M191.9 74.2h.1M194.8 63.2h.1M191.6 72.9h.1M189.1 68.6h.1M196.0 71.2h.1M191.6 73.8h.1M190.1 73.2h.1M193.3 68.6h.1M191.6 70.1h.1M186.9 64.4h.1M192.4 71.1h.1M188.0 65.1h.1M195.7 65.8h.1M193.5 72.6h.1M185.9 67.6h.1M196.8 63.1h.1M196.7 67.2h.1M189.5 66.5h.1M190.8 66.3h.1M194.3 67.7h.1M188.4 68.9h.1M186.3 68.8h.1M191.7 73.2h.1M186.4 67.7h.1M186.8 66.3h.1M195.0 71.7h.1M184.5 69.4h.1M190.1 67.6h.1M191.7 71.2h.1M192.7 71.9h.1M190.1 66.3h.1M195.1 66.7h.1M193.5 64.7h.1M194.8 67.6h.1M188.4 75.4h.1M189.3 66.6h.1M193.0 67.3h.1M193.2 73.7h.1M193.0 66.1h.1M196.8 69.5h.1M195.9 66.6h.1M195.1 69.7h.1M194.9 69.3h.1M191.0 67.6h.1M189.0 66.3h.1M192.9 73.2h.1M191.3 74.6h.1M192.2 70.9h.1M193.9 76.4h.1M193.5 70.8h.1M191.1 65.1h.1M185.6 71.0h.1M198.4 68.0h.1M193.6 75.7h.1M197.9 68.1h.1M184.1 73.0h.1M192.8 63.8h.1M188.6 70.2h.1M193.4 66.7h.1M193.7 71.0h.1M191.7 68.4h.1M196.8 71.9h.1M190.4 69.8h.1M195.0 71.8h.1M192.5 68.1h.1M192.0 69.3h.1M194.9 68.6h.1M187.9 71.3h.1M189.3 71.0h.1M187.5 70.2h.1M188.4 68.0h.1M193.9 73.6h.1M193.6 69.7h.1M189.4 73.0h.1M190.9 65.6h.1" stroke="#d8343a" stroke-width="0.8" stroke-linecap="round" opacity="0.75"/>
<path d="M226.6 94.6h.1M233.3 95.3h.1M223.7 94.9h.1M227.4 95.5h.1M230.0 96.2h.1M231.4 95.4h.1M226.5 95.4h.1M230.7 94.3h.1" stroke="#e8a0a8" stroke-width="0.8" stroke-linecap="round" opacity="0.75"/>
<path d="M204.9 97.0h.1M209.1 95.7h.1M207.0 94.0h.1M206.9 95.5h.1M207.3 94.8h.1M206.6 94.9h.1M205.5 96.3h.1M207.7 94.7h.1M208.0 95.8h.1M210.5 96.9h.1M207.0 98.6h.1M205.1 96.8h.1" stroke="#a0c0e0" stroke-width="0.8" stroke-linecap="round" opacity="0.75"/>
<text x="193.00" y="37.50" font-size="3.2" font-weight="bold" fill="#000">pre-B</text>
<text x="206.00" y="34.50" font-size="3.2" font-weight="bold" fill="#000">pre-B/D</text>
<text x="229.00" y="32.50" font-size="3.2" font-weight="bold" fill="#000">pre-DC</text>
<text x="215.40" y="54.50" font-size="3.2" font-weight="bold" fill="#000">lyM</text>
<text x="201.50" y="60.20" font-size="3.2" font-weight="bold" fill="#000">HSC2</text>
<text x="227.70" y="49.80" font-size="3.2" font-weight="bold" fill="#000">MPP 1</text>
<text x="255.40" y="52.20" font-size="3.2" font-weight="bold" fill="#000">GMP</text>
<text x="234.60" y="61.00" font-size="3.2" font-weight="bold" fill="#000">MPP 2</text>
<text x="206.00" y="71.40" font-size="3.2" font-weight="bold" fill="#000">HSC 1</text>
<text x="190.80" y="69.80" font-size="3.2" font-weight="bold" fill="#000">HSC0</text>
<text x="197.70" y="83.70" font-size="3.2" font-weight="bold" fill="#000">Mk</text>
<text x="229.00" y="78.30" font-size="3.2" font-weight="bold" fill="#000">GMP</text>
<text x="274.00" y="72.00" font-size="3.2" font-weight="bold" fill="#000">Gran</text>
<text x="207.00" y="97.00" font-size="3.2" font-weight="bold" fill="#000">Ery</text>
<text x="224.60" y="95.00" font-size="3.2" font-weight="bold" fill="#000">Mast</text>
</svg>
<rect x="177.30" y="21.20" width="121.80" height="85.10" fill="none" stroke="#2a2a2a" stroke-width="1.3"/>
<text x="238.20" y="17.50" font-size="8.6" text-anchor="middle" font-weight="normal" textLength="10.50" lengthAdjust="spacingAndGlyphs">TKI</text>
<text x="238.20" y="116.30" font-size="8.6" text-anchor="middle" fill="#333" stroke="#333" stroke-width="0.155" textLength="21.60" lengthAdjust="spacingAndGlyphs">UMAP1</text>
<text x="174.00" y="63.75" font-size="8.6" text-anchor="middle" fill="#333" stroke="#333" stroke-width="0.155" textLength="22.30" lengthAdjust="spacingAndGlyphs" transform="rotate(-90 174.00 63.75)">UMAP2</text>
<svg x="38.1" y="138.1" width="121.70000000000002" height="85.30000000000001" viewBox="38.1 138.1 121.70000000000002 85.30000000000001" overflow="hidden">
<ellipse cx="147.0" cy="190.5" rx="9.7" ry="3.5" transform="rotate(10 147.0 190.5)" fill="#f6e0c4" opacity="0.48" filter="url(#bl)"/>
<ellipse cx="126.0" cy="171.0" rx="16.2" ry="6.5" transform="rotate(25 126.0 171.0)" fill="#ece0dc" opacity="0.36" filter="url(#bl)"/>
<ellipse cx="99.5" cy="164.5" rx="11.9" ry="6.5" transform="rotate(-5 99.5 164.5)" fill="#d8d4a0" opacity="0.72" filter="url(#bl)"/>
<ellipse cx="96.0" cy="176.5" rx="6.5" ry="3.2" transform="rotate(0 96.0 176.5)" fill="#e8a8e0" opacity="0.56" filter="url(#bl)"/>
<ellipse cx="93.5" cy="193.0" rx="12.4" ry="15.1" transform="rotate(25 93.5 193.0)" fill="#f6bc80" opacity="0.76" filter="url(#bl)"/>
<ellipse cx="75.5" cy="159.0" rx="2.7" ry="5.4" transform="rotate(0 75.5 159.0)" fill="#a8dce8" opacity="0.64" filter="url(#bl)"/>
<ellipse cx="70.0" cy="171.0" rx="20.0" ry="8.1" transform="rotate(-12 70.0 171.0)" fill="#78c8a4" opacity="0.76" filter="url(#bl)"/>
<ellipse cx="63.0" cy="200.0" rx="16.2" ry="7.0" transform="rotate(3 63.0 200.0)" fill="#a888d8" opacity="0.76" filter="url(#bl)"/>
<ellipse cx="76.7" cy="185.0" rx="14.6" ry="11.9" transform="rotate(0 76.7 185.0)" fill="#78b4e0" opacity="0.76" filter="url(#bl)"/>
<ellipse cx="54.0" cy="185.3" rx="9.2" ry="8.4" transform="rotate(0 54.0 185.3)" fill="#ec7272" opacity="0.76" filter="url(#bl)"/>
<ellipse cx="96.0" cy="213.0" rx="4.3" ry="1.9" transform="rotate(0 96.0 213.0)" fill="#f0b0b8" opacity="0.56" filter="url(#bl)"/>
<ellipse cx="71.5" cy="210.0" rx="3.2" ry="2.2" transform="rotate(0 71.5 210.0)" fill="#d8e4ee" opacity="0.48" filter="url(#bl)"/>
<path d="M147.1 192.5h.1M142.6 191.3h.1M145.9 189.9h.1M155.4 192.2h.1M146.6 191.6h.1M152.0 191.3h.1M149.9 189.4h.1M145.5 189.5h.1M141.5 187.1h.1M139.9 188.9h.1M146.3 189.9h.1M147.7 188.4h.1M146.6 190.8h.1M150.6 189.8h.1M145.8 187.0h.1M145.4 186.6h.1M140.4 191.1h.1M148.5 190.3h.1M148.9 191.7h.1M151.7 191.0h.1M144.5 189.1h.1M142.6 189.7h.1M143.2 191.6h.1M139.0 187.3h.1M143.4 186.5h.1" stroke="#e8b888" stroke-width="0.8" stroke-linecap="round" opacity="0.75"/>
<path d="M143.3 181.5h.1M118.8 159.2h.1M138.4 182.7h.1M119.2 161.0h.1M124.6 165.7h.1M145.5 189.3h.1M127.8 167.8h.1M140.1 177.2h.1M138.1 172.4h.1M127.1 161.7h.1M132.5 168.8h.1M111.3 162.1h.1M115.4 164.3h.1M119.0 163.7h.1M126.4 163.9h.1M123.4 166.5h.1M134.5 171.3h.1M137.6 171.0h.1M127.6 165.7h.1M124.3 164.3h.1M134.5 170.1h.1M136.4 171.0h.1M138.4 173.0h.1M128.6 166.3h.1M138.0 174.7h.1M108.8 158.2h.1M117.5 164.4h.1M121.9 166.2h.1M123.9 165.0h.1M125.5 165.6h.1M133.4 168.9h.1M119.0 162.0h.1M114.4 164.0h.1M112.2 163.9h.1M137.1 181.9h.1M114.7 165.0h.1M139.6 183.3h.1M112.6 162.4h.1M140.8 178.3h.1M122.0 161.8h.1M139.7 180.0h.1M122.1 163.1h.1M122.5 166.4h.1M127.8 166.1h.1M111.7 160.7h.1M138.7 189.2h.1M142.0 187.8h.1M139.3 178.8h.1M120.9 165.5h.1M110.0 161.5h.1M144.0 180.5h.1M141.1 172.8h.1M140.7 183.5h.1M139.8 177.9h.1M135.0 173.0h.1M140.4 184.3h.1M121.2 162.2h.1M139.3 179.1h.1M132.6 168.6h.1M143.0 177.0h.1M142.9 180.2h.1M142.0 182.3h.1M118.8 163.7h.1M129.6 167.9h.1M111.3 162.9h.1M114.8 161.8h.1M110.5 162.4h.1M121.2 167.0h.1M133.5 171.8h.1M125.0 166.7h.1M137.8 175.9h.1M114.8 164.6h.1M137.7 180.3h.1M134.1 172.5h.1M130.0 166.8h.1M136.4 174.9h.1M131.9 168.9h.1M124.3 168.5h.1M138.9 188.0h.1M139.9 180.5h.1M114.9 160.1h.1M141.6 180.5h.1M138.0 175.8h.1M135.3 171.0h.1M140.6 178.0h.1M113.6 161.7h.1M109.6 161.3h.1M138.9 178.0h.1M139.1 184.4h.1M110.0 160.0h.1M140.6 177.3h.1M143.1 185.8h.1M133.9 169.1h.1M116.6 165.3h.1M137.9 178.0h.1M125.2 167.9h.1M107.1 162.4h.1M127.1 165.6h.1M137.7 171.7h.1M128.8 169.4h.1M141.4 184.2h.1M141.0 175.6h.1M128.2 166.1h.1M121.3 166.3h.1M123.0 167.6h.1M141.2 188.7h.1M128.5 164.7h.1M120.7 164.4h.1M129.1 168.9h.1M123.4 168.5h.1M116.9 162.6h.1M131.4 171.9h.1M138.4 179.2h.1M139.5 174.2h.1M140.7 175.6h.1M119.2 166.2h.1M140.6 172.9h.1M120.0 164.9h.1M115.9 159.5h.1M140.8 187.3h.1M120.1 166.2h.1M115.0 164.3h.1M120.2 166.3h.1M138.8 173.9h.1M126.9 167.2h.1M135.9 170.4h.1M133.6 170.8h.1M139.8 175.9h.1M144.6 186.5h.1M125.8 162.9h.1M120.7 162.2h.1M139.9 182.2h.1M141.1 184.4h.1M111.7 162.6h.1M137.3 173.4h.1M115.1 160.9h.1M118.6 161.2h.1M114.8 162.2h.1M123.0 162.8h.1M131.7 168.5h.1M122.9 165.4h.1M138.3 173.2h.1M138.0 177.5h.1M126.1 165.7h.1M131.0 171.9h.1M123.5 167.2h.1M132.6 168.1h.1M141.6 182.1h.1M115.1 164.5h.1M139.1 177.0h.1M127.1 163.4h.1M138.3 176.2h.1M127.2 168.4h.1M133.9 171.7h.1M143.2 178.7h.1M142.6 182.7h.1M130.6 168.8h.1M141.9 185.6h.1M138.2 182.0h.1M141.7 175.9h.1M134.7 173.4h.1M129.9 169.8h.1M107.2 162.2h.1M124.3 165.4h.1M143.0 185.7h.1M137.3 172.4h.1M121.1 164.5h.1M139.9 188.2h.1M140.1 177.2h.1M137.4 170.0h.1M137.1 179.1h.1M142.8 183.6h.1M138.5 177.1h.1M111.1 162.8h.1M112.9 162.8h.1M129.9 170.9h.1M119.3 165.4h.1M128.2 169.9h.1M137.2 176.9h.1M130.8 168.7h.1M108.9 165.1h.1M113.7 163.0h.1M118.9 164.6h.1M116.9 163.0h.1M115.4 162.8h.1M107.3 162.7h.1M139.7 175.5h.1M131.0 167.1h.1M120.1 164.3h.1M114.7 161.6h.1M116.7 163.5h.1M121.4 162.2h.1M141.1 186.4h.1M121.5 161.7h.1M126.3 166.9h.1M142.2 186.6h.1M110.4 162.7h.1M112.2 163.0h.1M142.4 188.3h.1M131.1 164.3h.1" stroke="#b09090" stroke-width="0.6" stroke-linecap="round" opacity="0.75"/>
<path d="M138.0 179.5h.1M128.0 174.6h.1M118.9 170.5h.1M119.5 175.0h.1M137.5 181.9h.1M132.0 174.2h.1M134.6 180.5h.1M116.9 168.3h.1M119.2 173.8h.1M126.7 172.9h.1M125.6 176.1h.1M107.4 169.0h.1M130.4 176.5h.1M131.2 174.7h.1M130.5 179.6h.1M129.8 178.0h.1M108.0 171.8h.1M112.1 168.8h.1M111.4 167.7h.1M113.0 170.9h.1M128.0 174.7h.1M137.6 182.1h.1M122.4 170.1h.1M131.0 176.8h.1M118.3 171.8h.1M118.3 170.1h.1M116.3 169.7h.1M123.8 177.0h.1M125.3 172.3h.1M133.0 180.5h.1M125.5 175.5h.1M127.4 173.5h.1M122.1 174.8h.1M110.9 170.8h.1M108.9 167.7h.1M120.3 170.6h.1M112.2 175.8h.1M118.7 172.1h.1M118.5 174.5h.1M134.7 172.1h.1M129.6 173.9h.1M125.9 171.4h.1M133.2 179.7h.1M126.0 172.5h.1M119.4 170.8h.1M112.4 167.4h.1M124.3 173.4h.1M130.7 178.6h.1M119.6 168.6h.1M119.5 172.3h.1M122.7 173.2h.1M129.9 171.6h.1M138.8 178.4h.1M113.7 171.9h.1M123.1 173.5h.1M133.5 180.2h.1M135.5 176.9h.1M117.0 170.5h.1M111.3 169.0h.1M116.0 170.3h.1M126.3 178.1h.1M132.7 177.0h.1M117.4 170.3h.1M122.0 172.6h.1M112.1 170.5h.1M131.3 178.1h.1M108.7 169.7h.1M132.2 173.7h.1M119.2 173.3h.1M128.5 176.9h.1M125.4 175.4h.1M107.8 164.9h.1M132.5 179.3h.1M137.1 176.5h.1M120.5 172.6h.1M112.7 164.4h.1M123.9 175.2h.1M123.6 171.1h.1M137.9 180.9h.1M121.5 176.0h.1" stroke="#d0b4b8" stroke-width="0.6" stroke-linecap="round" opacity="0.6"/>
<path d="M104.9 157.9h.1M98.4 164.1h.1M93.2 163.3h.1M95.1 165.1h.1M95.9 158.4h.1M106.2 166.6h.1M95.2 167.5h.1M97.1 163.2h.1M102.5 163.3h.1M92.2 168.9h.1M97.9 166.8h.1M97.5 167.4h.1M99.1 166.1h.1M103.1 165.2h.1M100.3 165.6h.1M90.5 164.5h.1M103.3 160.6h.1M99.7 164.2h.1M103.5 165.2h.1M95.2 165.1h.1M97.8 164.4h.1M107.3 169.0h.1M95.6 161.0h.1M100.7 165.2h.1M99.5 162.6h.1M103.7 169.3h.1M100.7 163.7h.1M106.0 163.0h.1M97.7 165.6h.1M99.1 166.1h.1M101.4 165.6h.1M92.7 170.4h.1M102.7 165.1h.1M103.6 163.9h.1M91.0 165.7h.1M99.1 165.1h.1M94.7 169.0h.1M100.6 160.6h.1M92.9 165.9h.1M93.3 166.4h.1M101.2 162.6h.1M88.6 161.5h.1M101.4 162.8h.1M109.6 162.3h.1M101.8 166.4h.1M100.1 165.4h.1M105.0 163.6h.1M101.3 163.3h.1M110.6 164.1h.1M96.6 161.4h.1M99.6 163.2h.1M93.7 164.2h.1M104.3 167.3h.1M96.9 167.9h.1M96.3 166.7h.1M95.1 168.1h.1M105.9 159.6h.1M99.3 166.1h.1M90.6 165.3h.1M95.5 168.5h.1M93.6 166.0h.1M88.4 164.3h.1M106.2 163.6h.1M92.5 166.6h.1M104.8 165.4h.1M104.6 159.8h.1M109.7 165.8h.1M97.1 166.3h.1M88.5 163.6h.1M89.7 167.9h.1M98.0 161.9h.1M97.8 168.0h.1M95.4 166.6h.1M92.6 160.1h.1M96.8 163.9h.1M100.7 167.2h.1M97.1 163.6h.1M103.8 165.4h.1M99.3 165.2h.1M87.4 163.9h.1M90.7 164.2h.1M104.0 159.0h.1M104.4 162.4h.1M98.2 163.2h.1M103.2 162.2h.1M88.2 166.5h.1M98.9 166.5h.1M102.5 160.6h.1M100.7 164.8h.1M99.1 164.8h.1M101.1 162.7h.1M98.9 167.5h.1M93.7 164.8h.1M93.7 161.8h.1M97.3 165.2h.1M107.8 163.2h.1M104.8 165.7h.1M100.2 164.6h.1M93.8 165.4h.1M107.3 160.3h.1M96.9 167.5h.1M89.4 162.3h.1M101.4 167.2h.1M106.4 166.2h.1M92.4 164.5h.1M103.0 165.3h.1M89.0 166.6h.1M95.1 164.3h.1M107.5 163.3h.1M95.8 164.5h.1M96.5 170.9h.1M104.3 166.8h.1M95.6 162.9h.1M100.3 157.9h.1M104.8 160.2h.1M100.1 165.5h.1M95.3 165.9h.1M103.8 169.8h.1M102.1 169.7h.1M102.0 163.7h.1M104.1 162.5h.1M100.5 166.3h.1M105.8 164.8h.1M91.8 169.1h.1M100.4 163.5h.1M95.2 166.6h.1M101.5 166.4h.1M99.2 169.1h.1M98.2 165.8h.1M100.9 167.6h.1M95.6 163.9h.1M98.1 162.6h.1M95.6 161.2h.1M104.0 168.6h.1M94.3 167.3h.1M93.0 162.6h.1M97.8 165.0h.1M101.5 158.5h.1M92.3 165.4h.1M98.7 171.0h.1M97.8 162.7h.1M96.1 165.0h.1M98.2 161.9h.1M98.4 160.6h.1M104.9 166.3h.1M103.0 161.4h.1M88.8 164.0h.1M93.6 166.2h.1M90.4 162.5h.1M100.3 165.7h.1" stroke="#b0ac60" stroke-width="0.8" stroke-linecap="round" opacity="0.75"/>
<path d="M96.3 174.6h.1M93.9 179.5h.1M98.8 175.3h.1M101.7 176.3h.1M96.0 175.3h.1M100.5 176.7h.1M95.7 175.1h.1M92.2 176.8h.1M96.0 178.8h.1M93.3 175.9h.1M98.9 177.7h.1M94.0 178.7h.1M97.4 177.8h.1M97.0 177.9h.1M94.7 176.2h.1M99.2 177.1h.1M97.1 178.2h.1M96.7 177.1h.1M89.4 175.7h.1M98.4 175.2h.1M95.1 176.8h.1M95.6 177.8h.1M97.4 176.2h.1M99.2 176.0h.1M93.9 177.0h.1M97.9 176.3h.1M92.8 175.7h.1M96.7 177.5h.1M101.3 176.3h.1M95.3 173.3h.1M99.8 177.9h.1M96.0 175.4h.1M93.6 178.8h.1M98.3 178.4h.1M95.6 178.3h.1M91.8 178.7h.1M95.9 174.7h.1M94.8 175.0h.1M96.8 175.4h.1M92.2 176.0h.1" stroke="#dc98d8" stroke-width="0.8" stroke-linecap="round" opacity="0.75"/>
<path d="M91.7 193.7h.1M93.4 202.6h.1M90.8 204.4h.1M102.2 186.9h.1M91.8 193.9h.1M87.1 185.6h.1M97.5 192.4h.1M96.5 185.5h.1M95.0 189.3h.1M87.3 186.9h.1M92.1 189.6h.1M95.1 202.0h.1M96.7 191.7h.1M95.6 194.1h.1M97.5 187.4h.1M91.9 188.4h.1M93.6 192.6h.1M87.4 201.9h.1M93.5 194.7h.1M89.2 190.2h.1M96.1 193.6h.1M97.9 187.8h.1M98.4 187.4h.1M93.5 187.0h.1M91.2 200.3h.1M97.6 188.1h.1M91.1 199.8h.1M95.8 197.9h.1M89.3 186.7h.1M91.4 188.3h.1M94.6 193.8h.1M90.0 195.7h.1M90.8 189.2h.1M98.0 184.7h.1M93.2 182.1h.1M88.5 189.6h.1M91.8 194.8h.1M98.5 186.6h.1M99.2 206.0h.1M89.2 185.7h.1M90.4 193.1h.1M96.7 194.5h.1M95.5 200.2h.1M89.3 191.8h.1M99.7 192.2h.1M99.1 196.3h.1M101.5 197.1h.1M105.9 186.5h.1M99.6 199.3h.1M88.4 198.8h.1M89.7 197.5h.1M95.3 201.9h.1M93.1 195.8h.1M96.9 185.1h.1M97.7 185.8h.1M92.9 190.4h.1M93.8 184.9h.1M94.1 193.1h.1M98.8 200.3h.1M99.8 192.3h.1M95.6 184.4h.1M86.9 195.4h.1M92.9 191.6h.1M86.0 201.4h.1M89.9 200.0h.1M90.5 198.9h.1M92.4 182.2h.1M100.1 193.7h.1M92.3 199.1h.1M96.3 196.4h.1M89.4 185.7h.1M91.8 197.1h.1M95.1 196.5h.1M89.5 191.1h.1M101.1 189.9h.1M87.9 197.3h.1M100.5 199.4h.1M96.3 187.0h.1M95.2 187.7h.1M92.1 197.8h.1M92.0 202.3h.1M91.9 182.6h.1M97.5 202.9h.1M88.1 191.5h.1M88.0 190.3h.1M92.3 199.8h.1M92.2 182.7h.1M97.4 192.3h.1M104.1 189.2h.1M95.4 204.1h.1M96.5 192.1h.1M85.2 203.7h.1M99.9 191.4h.1M94.1 197.5h.1M98.8 188.4h.1M88.3 198.2h.1M98.1 192.6h.1M88.7 197.7h.1M98.1 194.2h.1M99.7 204.2h.1M91.5 197.6h.1M97.8 192.9h.1M98.9 191.5h.1M90.4 196.6h.1M88.1 187.9h.1M86.4 195.2h.1M85.2 203.2h.1M103.5 192.4h.1M95.4 191.2h.1M91.5 197.3h.1M106.7 189.6h.1M91.6 190.7h.1M91.5 193.2h.1M98.2 191.8h.1M90.7 208.3h.1M86.6 200.3h.1M98.3 205.5h.1M88.0 194.7h.1M92.8 184.1h.1M92.0 196.3h.1M92.8 191.9h.1M98.8 190.3h.1M93.4 199.0h.1M95.2 198.2h.1M89.2 188.9h.1M89.2 196.5h.1M84.0 189.7h.1M83.3 193.3h.1M90.7 192.1h.1M93.3 206.1h.1M88.0 191.4h.1M84.0 187.1h.1M88.0 195.6h.1M92.7 193.5h.1M88.7 188.3h.1M87.7 190.5h.1M84.6 190.9h.1M97.4 205.1h.1M93.0 205.0h.1M92.2 195.5h.1M85.3 185.4h.1M104.5 185.1h.1M95.3 193.5h.1M90.7 194.2h.1M96.9 186.1h.1M98.4 181.5h.1M101.4 196.6h.1M100.8 189.5h.1M100.1 204.0h.1M94.7 195.3h.1M97.6 189.4h.1M93.5 191.4h.1M91.0 203.7h.1M98.7 197.6h.1M97.6 192.9h.1M95.8 181.8h.1M90.5 182.6h.1M93.7 191.8h.1M92.4 201.4h.1M97.5 193.8h.1M92.0 190.2h.1M99.4 188.9h.1M86.4 188.1h.1M95.4 203.3h.1M102.3 182.5h.1M90.6 197.2h.1M93.7 207.4h.1M87.6 193.2h.1M86.1 188.0h.1M89.1 197.3h.1M99.5 182.5h.1M91.8 195.1h.1M103.2 192.1h.1M90.8 187.3h.1M99.7 193.8h.1M92.7 196.1h.1M86.1 198.0h.1M92.8 185.7h.1M93.1 184.0h.1M91.3 185.9h.1M88.0 189.1h.1M96.8 190.2h.1M96.9 188.2h.1M95.6 191.5h.1M87.6 191.0h.1M94.6 188.5h.1M91.7 196.3h.1M88.6 186.9h.1M96.8 194.5h.1M86.0 192.3h.1M87.4 201.1h.1M100.6 185.7h.1M99.1 195.7h.1M91.9 192.4h.1M97.1 188.1h.1M87.5 200.6h.1M90.0 186.8h.1M100.3 188.9h.1M91.5 194.4h.1M89.7 188.8h.1M89.4 189.5h.1M94.9 193.8h.1M93.7 195.9h.1M100.7 188.2h.1M89.4 203.2h.1M93.1 190.7h.1M95.7 188.4h.1M96.4 194.3h.1M90.4 197.3h.1M103.9 187.0h.1M91.7 190.1h.1M84.2 193.9h.1M102.1 203.2h.1M105.8 183.7h.1M95.1 183.6h.1M97.9 194.1h.1M91.2 195.6h.1M92.7 205.1h.1M97.9 202.2h.1M81.3 196.9h.1M98.5 183.6h.1M95.1 191.9h.1M90.2 198.8h.1M84.6 193.8h.1M103.0 188.7h.1M102.7 192.1h.1M86.9 197.1h.1M98.8 181.3h.1M88.1 195.8h.1M92.1 188.7h.1M93.6 193.0h.1M92.7 185.5h.1M92.2 201.8h.1M101.3 189.8h.1M105.4 187.0h.1M93.7 205.6h.1M96.8 186.8h.1M91.4 202.8h.1M90.8 204.4h.1M87.3 183.6h.1M88.8 195.9h.1M102.3 190.7h.1M86.1 196.4h.1M85.0 193.4h.1M89.5 190.5h.1M105.0 196.3h.1M96.1 188.0h.1M91.9 204.0h.1M100.7 186.3h.1M90.8 203.7h.1M88.9 189.8h.1M90.4 187.1h.1M92.3 182.1h.1M96.2 193.8h.1M93.0 184.3h.1M94.9 192.1h.1M99.4 185.4h.1M90.9 188.4h.1M92.6 189.8h.1M89.9 190.4h.1M104.3 192.2h.1M84.0 190.8h.1M86.4 195.9h.1M94.0 206.2h.1M99.3 182.7h.1M99.1 202.8h.1M99.9 196.7h.1M91.6 192.3h.1M81.0 194.8h.1M92.1 187.6h.1M98.0 188.4h.1M99.5 191.1h.1M96.1 196.8h.1M95.3 190.0h.1M85.2 184.9h.1M90.9 188.0h.1M99.5 181.4h.1M89.1 185.7h.1M88.4 197.7h.1M96.9 194.7h.1M89.7 204.8h.1M92.8 197.1h.1M95.6 189.3h.1M99.6 194.7h.1M104.5 189.6h.1M90.9 204.9h.1M89.3 193.8h.1M100.0 199.5h.1M90.3 189.1h.1M96.9 190.2h.1M91.0 192.9h.1M82.1 200.7h.1M90.5 191.6h.1M89.9 202.4h.1M85.5 205.2h.1M101.0 202.3h.1M90.3 181.6h.1M91.4 194.3h.1M93.3 202.5h.1M95.8 194.7h.1M101.6 181.3h.1M104.1 186.4h.1M85.5 183.9h.1M94.9 184.3h.1M92.2 193.2h.1M95.6 197.1h.1M90.6 192.6h.1M100.9 194.6h.1M99.1 179.3h.1M89.0 206.8h.1M98.1 193.5h.1M96.3 204.1h.1M104.1 189.1h.1M85.4 194.9h.1M95.0 197.4h.1M83.6 194.6h.1M100.1 205.4h.1M88.8 205.1h.1M84.7 191.1h.1M85.5 203.4h.1M98.0 205.2h.1M92.5 191.0h.1M98.7 193.0h.1M96.2 196.8h.1M97.3 195.8h.1M90.8 180.6h.1M101.3 185.7h.1M89.0 194.8h.1M94.1 201.3h.1M91.3 204.1h.1" stroke="#f09238" stroke-width="0.8" stroke-linecap="round" opacity="0.75"/>
<path d="M74.8 162.0h.1M73.8 158.0h.1M76.0 160.6h.1M75.2 157.4h.1M73.4 158.3h.1M75.2 157.5h.1M73.9 158.6h.1M73.7 159.8h.1M77.4 156.6h.1M75.8 157.7h.1M75.0 155.6h.1M75.6 158.9h.1M74.1 161.8h.1M74.4 157.6h.1M74.0 160.2h.1M77.0 158.7h.1M75.8 156.9h.1M75.1 155.7h.1M75.4 153.9h.1M74.8 157.8h.1" stroke="#58bcd8" stroke-width="0.8" stroke-linecap="round" opacity="0.75"/>
<path d="M66.1 172.2h.1M73.5 177.5h.1M64.1 164.8h.1M72.6 172.0h.1M62.9 175.6h.1M67.5 168.4h.1M68.0 166.4h.1M67.5 178.1h.1M81.3 170.9h.1M71.2 171.8h.1M59.3 173.9h.1M62.8 170.1h.1M83.7 165.2h.1M70.6 171.2h.1M78.8 168.2h.1M74.8 171.5h.1M67.8 169.2h.1M61.3 177.0h.1M63.0 177.0h.1M84.8 165.7h.1M60.4 169.2h.1M66.3 176.9h.1M62.0 168.6h.1M55.0 174.6h.1M75.2 175.7h.1M72.4 170.4h.1M85.2 171.3h.1M66.9 171.0h.1M69.2 170.8h.1M73.9 167.5h.1M86.4 163.8h.1M76.6 172.5h.1M79.8 174.2h.1M73.1 171.2h.1M84.4 173.0h.1M70.8 174.2h.1M59.5 174.8h.1M65.2 175.7h.1M73.9 168.0h.1M79.2 175.5h.1M63.8 179.7h.1M73.1 167.0h.1M68.2 172.9h.1M76.2 166.7h.1M67.3 173.6h.1M74.3 177.8h.1M78.6 172.7h.1M61.6 169.5h.1M60.9 172.9h.1M77.4 176.1h.1M78.7 166.2h.1M71.5 179.1h.1M72.1 172.8h.1M56.9 168.6h.1M65.9 171.1h.1M75.2 169.6h.1M72.7 164.2h.1M86.4 170.9h.1M69.0 171.5h.1M73.3 161.7h.1M79.8 170.2h.1M76.2 167.7h.1M66.1 178.1h.1M79.8 162.9h.1M67.9 169.0h.1M64.5 167.5h.1M58.5 174.0h.1M68.4 173.7h.1M77.0 167.6h.1M56.4 173.5h.1M67.6 173.3h.1M62.8 178.8h.1M68.7 179.6h.1M65.1 179.7h.1M75.0 173.7h.1M73.9 171.8h.1M61.4 172.3h.1M63.7 171.7h.1M67.7 174.6h.1M72.8 169.5h.1M55.4 177.9h.1M63.5 171.1h.1M74.3 170.0h.1M71.2 171.3h.1M54.0 177.2h.1M69.1 174.3h.1M70.8 169.4h.1M83.4 168.8h.1M79.9 171.4h.1M78.4 173.3h.1M75.2 166.5h.1M69.2 176.5h.1M68.8 170.0h.1M71.3 174.4h.1M62.7 172.4h.1M65.7 169.4h.1M76.6 167.6h.1M71.0 172.3h.1M74.8 171.9h.1M76.4 167.0h.1M84.8 166.5h.1M71.2 174.2h.1M63.0 172.4h.1M66.9 173.8h.1M72.1 176.9h.1M61.7 170.3h.1M57.9 174.5h.1M69.1 170.4h.1M74.9 166.4h.1M69.6 167.5h.1M79.7 169.6h.1M62.1 174.0h.1M80.3 171.7h.1M70.9 177.3h.1M62.5 172.0h.1M73.8 166.5h.1M76.6 171.2h.1M79.3 170.3h.1M66.6 169.9h.1M70.9 173.4h.1M61.8 176.7h.1M80.5 169.4h.1M58.6 176.0h.1M73.5 166.8h.1M63.9 170.5h.1M58.0 175.1h.1M80.6 170.2h.1M64.2 172.2h.1M71.6 177.8h.1M67.0 173.7h.1M68.6 175.9h.1M63.7 174.5h.1M67.7 173.9h.1M57.7 173.5h.1M80.8 171.4h.1M74.3 169.3h.1M66.6 168.4h.1M85.2 172.8h.1M82.6 164.7h.1M56.8 171.8h.1M58.5 167.2h.1M74.2 167.5h.1M73.9 174.8h.1M62.5 170.7h.1M80.1 163.1h.1M64.8 167.7h.1M67.5 169.2h.1M71.3 168.9h.1M79.8 165.9h.1M69.5 173.6h.1M61.3 170.3h.1M68.3 169.7h.1M76.2 166.8h.1M56.7 176.1h.1M61.8 170.2h.1M68.2 175.5h.1M76.9 170.1h.1M71.7 168.9h.1M85.8 171.5h.1M62.9 175.9h.1M57.1 170.6h.1M64.7 178.1h.1M87.6 167.3h.1M66.4 176.8h.1M66.2 177.8h.1M62.0 176.4h.1M64.0 178.8h.1M70.5 168.4h.1M71.0 173.3h.1M81.7 173.3h.1M76.1 168.4h.1M70.8 167.7h.1M71.6 166.2h.1M65.5 172.3h.1M60.9 168.1h.1M69.5 172.2h.1M76.2 171.3h.1M84.9 167.7h.1M81.2 164.7h.1M76.5 172.4h.1M86.3 165.2h.1M86.7 167.1h.1M65.0 165.8h.1M77.8 167.3h.1M77.8 170.0h.1M77.2 169.7h.1M63.5 170.7h.1M70.4 172.6h.1M63.9 175.9h.1M76.5 170.9h.1M89.3 171.0h.1M60.2 168.9h.1M70.2 170.7h.1M76.3 167.7h.1M63.1 169.7h.1M69.1 167.9h.1M69.4 174.0h.1M67.6 167.3h.1M75.4 172.8h.1M61.7 171.2h.1M54.6 170.2h.1M58.6 168.1h.1M65.5 179.3h.1M80.0 167.2h.1M73.8 170.4h.1M69.3 163.5h.1M67.4 167.1h.1M65.6 171.5h.1M74.5 175.1h.1M76.8 165.1h.1M66.5 174.0h.1M66.0 163.1h.1M76.0 167.0h.1M68.0 164.4h.1M60.2 177.6h.1M65.8 173.6h.1M84.5 167.9h.1M69.8 169.9h.1M77.6 170.7h.1M75.0 175.9h.1M75.4 174.6h.1M61.8 171.6h.1M75.3 166.6h.1M56.5 173.4h.1M65.5 173.3h.1M84.1 166.1h.1M59.6 171.9h.1M64.0 170.1h.1M80.6 170.9h.1M73.1 169.3h.1M78.6 168.7h.1M85.5 167.6h.1M69.7 173.7h.1M73.1 165.6h.1M54.4 172.5h.1M76.2 163.1h.1M67.4 178.5h.1M81.0 167.2h.1M75.9 169.9h.1M63.8 169.0h.1M80.7 166.0h.1M68.0 169.3h.1M55.7 173.1h.1M86.0 163.5h.1M70.0 175.5h.1M73.9 170.0h.1M75.4 170.9h.1M68.4 168.0h.1M64.1 165.3h.1M70.7 169.8h.1M62.6 166.2h.1M63.2 165.1h.1M74.2 165.3h.1M76.8 166.0h.1M76.2 171.7h.1M77.2 168.0h.1M52.2 176.2h.1M62.4 166.4h.1M59.6 174.1h.1M75.6 171.0h.1M76.9 173.5h.1M66.5 171.5h.1M67.0 170.3h.1M68.5 171.9h.1M65.1 172.4h.1M77.7 168.0h.1M73.9 166.5h.1M63.3 178.9h.1M69.2 175.7h.1M68.9 170.0h.1M74.7 167.1h.1M75.4 172.0h.1M69.8 168.6h.1M75.1 168.0h.1M63.7 166.9h.1M71.5 175.3h.1M64.6 170.0h.1M57.3 172.6h.1M77.0 168.7h.1M75.8 173.8h.1" stroke="#3aa878" stroke-width="0.8" stroke-linecap="round" opacity="0.75"/>
<path d="M56.0 197.5h.1M67.4 199.1h.1M54.6 199.4h.1M65.5 203.5h.1M56.0 200.6h.1M68.2 199.8h.1M65.8 200.8h.1M55.0 199.5h.1M75.5 204.6h.1M74.4 200.4h.1M71.4 198.2h.1M61.1 201.8h.1M61.5 201.7h.1M61.4 200.7h.1M78.4 202.6h.1M71.2 195.6h.1M58.0 202.6h.1M50.4 197.8h.1M59.8 203.5h.1M49.4 197.4h.1M62.6 200.2h.1M50.0 203.2h.1M67.6 204.3h.1M66.9 202.1h.1M60.6 198.8h.1M53.4 200.7h.1M53.2 203.0h.1M66.6 198.0h.1M64.1 194.6h.1M54.9 197.1h.1M51.9 197.2h.1M61.0 197.5h.1M56.3 195.5h.1M47.4 200.8h.1M59.1 203.6h.1M53.8 197.7h.1M67.2 204.6h.1M69.8 203.0h.1M51.9 200.9h.1M64.7 207.2h.1M54.2 200.2h.1M77.3 202.4h.1M63.7 202.6h.1M61.0 202.1h.1M61.4 202.5h.1M56.1 199.0h.1M64.1 192.5h.1M69.7 199.0h.1M58.3 194.9h.1M62.0 196.7h.1M67.2 205.3h.1M59.3 197.3h.1M61.7 198.9h.1M66.7 193.4h.1M66.6 199.9h.1M58.6 194.5h.1M69.3 203.8h.1M64.8 202.2h.1M69.0 200.8h.1M69.0 196.8h.1M71.2 205.6h.1M71.8 197.6h.1M60.6 201.6h.1M56.2 200.8h.1M62.0 204.8h.1M59.3 197.9h.1M66.9 203.6h.1M60.5 195.2h.1M53.2 194.1h.1M63.6 196.5h.1M63.0 195.2h.1M60.5 201.5h.1M54.3 203.1h.1M63.2 197.2h.1M60.2 199.5h.1M56.4 197.6h.1M65.0 193.7h.1M68.3 200.1h.1M61.8 201.7h.1M73.8 197.6h.1M76.3 199.5h.1M54.6 203.9h.1M58.7 202.1h.1M52.5 201.7h.1M58.9 203.6h.1M51.0 197.0h.1M55.3 200.2h.1M55.2 198.4h.1M62.7 198.4h.1M63.9 200.9h.1M50.4 202.6h.1M54.5 196.8h.1M75.9 198.3h.1M61.5 202.1h.1M57.8 199.2h.1M60.5 199.1h.1M53.6 202.8h.1M62.8 201.8h.1M63.1 197.9h.1M71.5 197.8h.1M70.2 197.8h.1M57.2 199.9h.1M63.5 201.3h.1M71.6 198.8h.1M48.5 195.7h.1M62.5 197.5h.1M60.5 204.5h.1M60.8 197.8h.1M62.8 203.9h.1M75.5 202.8h.1M60.7 198.3h.1M54.3 197.5h.1M69.6 202.2h.1M65.3 196.7h.1M62.3 197.6h.1M74.1 200.5h.1M62.0 199.8h.1M62.7 200.1h.1M58.6 200.5h.1M63.1 202.8h.1M66.7 202.3h.1M59.0 199.7h.1M71.4 203.5h.1M51.0 199.5h.1M63.7 198.3h.1M73.8 204.1h.1M66.5 197.0h.1M64.6 200.2h.1M66.9 195.4h.1M54.9 203.1h.1M63.3 199.7h.1M73.8 195.6h.1M53.4 201.1h.1M72.8 204.3h.1M59.1 197.0h.1M67.4 200.9h.1M49.0 203.5h.1M48.2 200.4h.1M65.1 202.4h.1M63.4 202.7h.1M65.2 197.1h.1M57.9 204.2h.1M48.4 201.4h.1M58.6 194.0h.1M56.2 201.1h.1M72.2 199.0h.1M60.1 199.9h.1M69.6 196.9h.1M59.1 200.8h.1M51.4 200.3h.1M62.2 202.5h.1M54.3 199.3h.1M65.7 200.2h.1M54.5 203.2h.1M62.0 200.3h.1M63.1 202.1h.1M63.6 197.7h.1M69.2 200.0h.1M63.6 200.6h.1M54.0 199.7h.1M65.4 195.4h.1M60.6 199.6h.1M68.1 199.2h.1M63.3 202.0h.1M53.8 197.0h.1M60.6 202.2h.1M73.0 200.8h.1M62.2 198.4h.1M63.4 205.4h.1M62.1 198.2h.1M74.9 200.2h.1M61.7 197.1h.1M70.9 199.7h.1M65.5 198.4h.1M66.4 201.8h.1M74.2 205.2h.1M54.8 198.6h.1M56.9 202.5h.1M51.8 201.4h.1M49.8 202.6h.1M71.8 195.1h.1M63.1 198.0h.1M50.2 202.3h.1M56.8 203.0h.1M66.1 206.1h.1M59.3 202.5h.1M64.4 198.8h.1M70.9 200.6h.1M59.5 200.4h.1M52.8 203.0h.1M75.8 195.8h.1M63.9 198.8h.1M57.4 202.4h.1M75.8 201.7h.1M60.4 205.4h.1M60.5 197.6h.1M58.4 202.7h.1M63.4 200.5h.1M58.2 200.9h.1M62.3 205.7h.1M62.8 196.6h.1M75.5 201.5h.1M62.6 201.5h.1M63.6 193.0h.1M62.4 204.1h.1M70.0 197.8h.1M60.4 201.4h.1M78.5 202.0h.1M64.9 198.2h.1M60.1 198.2h.1M63.0 196.8h.1M60.1 196.1h.1M71.3 202.5h.1M61.7 199.1h.1M68.8 200.9h.1M48.9 201.4h.1M61.7 197.4h.1M49.3 201.4h.1M54.1 200.0h.1M62.3 198.2h.1M54.2 200.5h.1M52.6 197.4h.1M61.7 203.6h.1M59.6 200.2h.1M55.9 198.4h.1M57.3 202.3h.1M58.8 201.7h.1M69.8 199.4h.1M65.3 204.8h.1M70.0 200.5h.1" stroke="#7a4cc0" stroke-width="0.8" stroke-linecap="round" opacity="0.75"/>
<path d="M65.1 181.2h.1M76.0 186.7h.1M77.7 184.8h.1M69.7 188.2h.1M83.0 184.6h.1M77.0 189.5h.1M74.0 187.2h.1M83.2 181.1h.1M76.2 180.6h.1M69.2 174.5h.1M74.4 193.5h.1M83.7 182.8h.1M82.9 182.7h.1M62.5 189.8h.1M74.9 183.9h.1M81.6 190.5h.1M75.5 186.6h.1M79.1 180.5h.1M82.0 182.0h.1M79.6 190.3h.1M83.5 174.4h.1M72.0 183.4h.1M71.5 184.3h.1M76.2 185.5h.1M92.3 186.5h.1M77.2 180.9h.1M75.2 183.9h.1M81.1 178.3h.1M75.4 179.3h.1M65.3 189.0h.1M75.6 187.0h.1M88.0 193.1h.1M76.3 187.0h.1M73.4 183.8h.1M66.3 189.2h.1M77.4 190.7h.1M89.1 180.4h.1M78.0 183.9h.1M85.2 183.8h.1M79.4 185.4h.1M67.6 186.3h.1M66.0 179.8h.1M85.1 190.6h.1M69.4 179.0h.1M86.8 194.0h.1M75.6 188.6h.1M66.4 189.6h.1M73.3 190.6h.1M72.7 182.5h.1M81.8 188.8h.1M74.3 176.9h.1M79.0 192.8h.1M82.1 177.7h.1M77.5 186.5h.1M87.3 184.2h.1M75.1 193.9h.1M68.4 181.3h.1M70.4 191.3h.1M71.8 188.6h.1M71.7 193.0h.1M80.3 181.5h.1M81.3 186.9h.1M76.9 179.8h.1M89.7 185.7h.1M74.4 185.8h.1M76.6 178.5h.1M84.1 176.5h.1M82.9 174.8h.1M67.5 191.7h.1M66.9 185.2h.1M78.6 192.5h.1M88.7 189.9h.1M80.5 191.4h.1M83.6 176.4h.1M81.1 180.4h.1M72.1 195.3h.1M70.6 188.2h.1M68.5 183.2h.1M78.4 177.8h.1M80.8 190.9h.1M87.7 191.0h.1M79.6 189.7h.1M71.5 182.3h.1M86.1 179.0h.1M73.2 190.1h.1M76.1 178.4h.1M72.7 181.2h.1M68.5 181.9h.1M81.8 182.0h.1M78.2 181.4h.1M75.5 188.9h.1M79.4 183.9h.1M74.9 191.0h.1M74.2 177.2h.1M81.6 188.8h.1M76.0 182.0h.1M85.8 192.1h.1M79.4 185.0h.1M81.6 194.7h.1M72.6 189.7h.1M62.9 182.1h.1M81.0 185.9h.1M68.8 189.6h.1M81.5 189.4h.1M74.5 184.2h.1M75.5 186.7h.1M77.6 184.6h.1M81.7 191.4h.1M77.8 192.1h.1M71.0 182.9h.1M80.0 190.7h.1M78.3 176.4h.1M74.4 178.6h.1M83.0 182.8h.1M78.6 179.0h.1M80.0 175.9h.1M74.9 190.4h.1M77.0 179.7h.1M71.8 190.5h.1M81.4 187.0h.1M81.8 184.7h.1M77.0 184.4h.1M73.8 191.2h.1M82.2 183.8h.1M86.6 194.4h.1M79.0 178.6h.1M77.6 185.3h.1M72.8 177.3h.1M70.8 186.0h.1M75.7 190.2h.1M68.6 188.7h.1M71.4 187.6h.1M78.3 193.0h.1M80.7 183.6h.1M78.0 177.1h.1M77.1 187.9h.1M78.7 182.3h.1M78.9 186.6h.1M79.3 180.1h.1M82.2 185.0h.1M69.1 184.3h.1M84.6 193.5h.1M74.9 180.9h.1M74.5 188.8h.1M85.9 186.0h.1M75.2 193.0h.1M79.8 180.9h.1M75.3 190.1h.1M74.6 185.3h.1M72.2 188.0h.1M86.5 191.7h.1M74.1 179.0h.1M86.4 188.9h.1M66.6 192.8h.1M73.7 181.8h.1M76.8 177.6h.1M69.4 192.8h.1M74.9 187.7h.1M85.7 187.0h.1M76.1 188.2h.1M87.8 187.8h.1M74.3 195.7h.1M86.5 178.7h.1M67.3 177.6h.1M81.6 182.4h.1M66.5 193.3h.1M75.9 187.4h.1M85.1 186.7h.1M83.5 185.4h.1M74.5 177.7h.1M81.6 178.1h.1M82.6 179.3h.1M70.0 189.0h.1M77.7 189.1h.1M69.5 184.3h.1M74.5 186.5h.1M82.7 184.4h.1M70.5 185.6h.1M65.7 181.7h.1M85.2 182.2h.1M82.7 183.0h.1M70.7 185.8h.1M80.2 184.4h.1M78.5 194.3h.1M76.9 187.0h.1M71.6 189.5h.1M72.0 186.1h.1M73.5 188.7h.1M80.3 190.8h.1M77.3 188.6h.1M89.4 180.1h.1M70.7 189.6h.1M77.8 185.6h.1M83.2 187.9h.1M77.0 184.2h.1M72.2 182.8h.1M77.0 174.8h.1M85.4 178.6h.1M85.1 189.2h.1M71.4 183.3h.1M79.0 190.9h.1M70.6 187.6h.1M81.4 183.8h.1M79.0 182.6h.1M74.0 179.5h.1M70.7 188.9h.1M79.9 187.9h.1M72.9 186.9h.1M82.5 178.0h.1M69.5 178.8h.1M77.2 185.7h.1M89.0 190.5h.1M73.7 189.8h.1M68.9 176.4h.1M69.7 187.8h.1M73.6 188.2h.1M88.9 178.4h.1M73.3 186.2h.1M81.9 180.5h.1M76.6 179.3h.1M86.5 189.4h.1M79.7 189.4h.1M81.5 185.1h.1M75.0 183.0h.1M78.5 186.3h.1M84.8 185.6h.1M78.4 194.1h.1M73.2 179.1h.1M72.6 193.9h.1M75.2 181.7h.1M77.1 183.6h.1M69.9 174.4h.1M70.6 178.1h.1M72.9 180.2h.1M81.7 188.4h.1M72.1 194.3h.1M69.6 195.1h.1M77.8 184.4h.1M73.8 184.3h.1M83.1 187.9h.1M75.5 181.7h.1M73.3 190.7h.1M73.4 184.2h.1M77.2 185.8h.1M81.1 193.5h.1M68.7 176.2h.1M77.5 183.1h.1M70.6 194.1h.1M68.6 176.4h.1M89.3 187.1h.1M67.3 190.9h.1M71.2 182.4h.1M75.2 184.8h.1M89.3 180.6h.1M70.9 178.6h.1M76.1 179.1h.1M77.1 193.0h.1M90.2 183.9h.1M77.9 181.8h.1M74.6 189.1h.1M63.4 180.3h.1M70.2 180.0h.1M72.9 186.5h.1M84.9 180.6h.1M74.8 181.4h.1M78.2 185.2h.1M81.2 185.4h.1M85.5 184.1h.1M77.2 187.4h.1M77.8 185.1h.1M80.7 188.7h.1M79.4 188.3h.1M74.2 183.0h.1M84.3 192.1h.1M74.9 192.6h.1M74.4 193.3h.1M82.0 185.3h.1M80.4 181.6h.1M73.7 182.1h.1M82.3 188.6h.1M75.0 185.4h.1M69.7 184.0h.1M69.5 192.2h.1M82.0 181.4h.1M72.8 193.9h.1M77.1 178.4h.1M72.0 181.7h.1M75.3 177.9h.1M80.3 181.4h.1M89.1 189.5h.1M66.3 179.9h.1M76.4 175.6h.1M68.1 193.4h.1M71.6 181.2h.1M78.2 187.1h.1M77.4 189.8h.1M72.1 191.7h.1M85.1 183.2h.1M76.2 184.3h.1M73.9 178.6h.1M77.8 180.0h.1M71.7 179.8h.1M78.1 179.2h.1M82.9 175.1h.1M68.9 183.8h.1M74.5 178.6h.1M66.4 185.1h.1M88.2 192.3h.1M75.6 184.1h.1M89.7 185.7h.1M78.5 177.5h.1M72.5 187.3h.1M62.1 186.2h.1M75.3 183.8h.1M77.5 187.2h.1M85.4 177.0h.1M83.1 182.4h.1M75.7 186.8h.1M76.5 190.0h.1M72.0 188.2h.1M74.9 174.2h.1M67.7 192.0h.1M75.3 189.2h.1M77.5 182.7h.1M69.9 186.0h.1M78.7 173.5h.1M68.3 192.2h.1M86.4 193.3h.1M71.0 187.8h.1M79.2 185.2h.1M74.1 186.7h.1M74.0 193.9h.1M68.6 181.1h.1M78.0 178.8h.1M78.6 182.2h.1M73.3 178.9h.1M78.3 188.8h.1M85.8 182.5h.1M68.7 185.1h.1M82.3 178.7h.1M83.6 177.2h.1M74.2 177.0h.1M75.8 181.8h.1M79.3 179.6h.1M89.7 189.2h.1M77.8 190.7h.1M83.5 188.7h.1M64.5 182.6h.1M90.2 181.7h.1M73.4 180.1h.1M81.2 183.5h.1M73.2 191.5h.1M70.8 190.3h.1M80.5 187.8h.1M83.8 185.8h.1M77.5 195.1h.1M76.5 188.6h.1M75.8 181.5h.1M81.1 179.3h.1M83.2 191.7h.1M82.5 184.9h.1M68.7 182.7h.1M82.8 187.0h.1M79.2 179.6h.1M68.0 184.6h.1M78.6 185.1h.1M82.1 181.7h.1M68.6 187.4h.1M76.8 173.4h.1M85.0 188.9h.1M85.2 185.2h.1M79.8 179.3h.1M67.7 192.9h.1M71.4 173.6h.1M71.1 183.8h.1M74.0 179.0h.1M80.3 185.0h.1M86.1 183.0h.1M87.7 186.9h.1M76.8 183.3h.1M80.9 184.8h.1M66.1 184.6h.1M70.5 185.4h.1M67.3 186.1h.1M90.0 181.7h.1M88.9 184.3h.1M70.4 185.7h.1M89.6 178.4h.1M72.9 194.2h.1M75.4 186.5h.1M62.5 187.0h.1M64.6 182.9h.1M83.3 176.8h.1M72.3 196.5h.1M83.6 188.3h.1M82.4 187.7h.1M86.0 178.4h.1M85.3 184.7h.1M72.7 184.6h.1M62.1 186.1h.1M69.6 194.1h.1M72.7 194.3h.1M78.7 186.5h.1M66.2 180.8h.1M75.0 179.6h.1M75.7 181.4h.1M74.1 189.0h.1M77.0 186.6h.1M78.6 191.7h.1M71.9 181.9h.1M72.1 181.8h.1M77.1 184.2h.1M78.7 173.3h.1M68.3 181.3h.1M80.4 184.7h.1M83.3 188.7h.1M75.3 178.3h.1M69.5 185.6h.1M63.3 187.8h.1M85.6 188.4h.1M87.6 190.8h.1M75.8 194.8h.1M72.7 192.1h.1M68.7 186.1h.1M71.6 185.0h.1M82.5 183.2h.1M79.4 188.1h.1M73.9 173.3h.1M79.0 196.3h.1M77.2 181.2h.1M82.6 188.2h.1M69.9 188.1h.1M75.8 181.1h.1M76.5 189.9h.1M80.6 190.0h.1M72.3 182.4h.1M83.9 191.7h.1M88.1 190.6h.1M73.1 182.4h.1M89.7 185.6h.1" stroke="#2f86cc" stroke-width="0.8" stroke-linecap="round" opacity="0.75"/>
<path d="M61.0 186.2h.1M47.6 184.0h.1M56.1 191.3h.1M53.8 190.5h.1M59.6 184.1h.1M55.7 187.8h.1M47.3 189.3h.1M55.3 181.6h.1M50.6 183.4h.1M50.3 185.5h.1M57.9 184.0h.1M51.6 190.3h.1M54.4 187.2h.1M46.5 187.8h.1M51.7 187.7h.1M52.6 190.4h.1M53.4 190.1h.1M52.8 185.2h.1M50.5 191.8h.1M55.7 191.6h.1M58.4 187.4h.1M48.6 187.9h.1M56.2 185.4h.1M46.2 190.3h.1M45.6 185.2h.1M61.6 189.0h.1M53.9 188.0h.1M49.6 184.6h.1M53.5 182.4h.1M54.5 189.5h.1M52.7 187.8h.1M54.9 188.2h.1M53.4 187.1h.1M57.1 180.7h.1M55.1 186.0h.1M51.4 189.5h.1M55.0 185.3h.1M51.7 178.7h.1M53.4 191.9h.1M55.3 184.0h.1M51.4 181.6h.1M54.3 183.1h.1M53.7 184.8h.1M58.4 186.2h.1M51.4 188.7h.1M49.7 187.6h.1M48.5 191.6h.1M59.0 193.1h.1M57.1 192.7h.1M48.8 187.6h.1M54.7 192.5h.1M55.3 192.0h.1M49.1 178.3h.1M61.6 184.8h.1M57.6 191.6h.1M60.2 189.6h.1M56.0 184.3h.1M61.5 187.1h.1M50.2 190.0h.1M45.9 184.4h.1M60.2 181.8h.1M47.5 191.6h.1M46.0 189.3h.1M50.4 188.3h.1M56.0 185.7h.1M58.2 183.4h.1M53.4 180.9h.1M53.2 180.6h.1M56.3 188.0h.1M52.4 183.6h.1M55.4 184.8h.1M46.1 182.2h.1M53.7 183.1h.1M59.2 189.1h.1M52.4 186.3h.1M58.4 189.4h.1M57.5 185.8h.1M57.0 184.2h.1M54.6 184.6h.1M54.4 186.5h.1M53.3 180.3h.1M54.9 178.2h.1M53.6 183.5h.1M52.9 185.6h.1M55.2 181.7h.1M45.3 187.2h.1M59.8 185.0h.1M47.5 190.5h.1M55.7 183.1h.1M63.4 184.4h.1M51.5 185.5h.1M56.2 183.6h.1M50.6 183.0h.1M56.3 182.2h.1M48.1 190.6h.1M55.6 186.7h.1M51.8 181.2h.1M57.7 182.6h.1M58.6 186.6h.1M54.1 192.3h.1M57.1 178.0h.1M58.2 188.5h.1M57.6 189.9h.1M53.4 182.7h.1M52.1 184.3h.1M57.3 186.3h.1M58.0 187.3h.1M49.8 177.3h.1M53.7 189.7h.1M52.6 182.1h.1M52.5 188.8h.1M56.0 182.1h.1M54.3 183.1h.1M52.7 188.3h.1M54.3 187.6h.1M47.8 189.7h.1M52.5 188.3h.1M54.3 189.8h.1M59.5 190.2h.1M52.9 185.8h.1M49.5 185.2h.1M55.3 188.4h.1M51.4 183.5h.1M57.7 186.0h.1M54.3 189.4h.1M50.7 186.3h.1M59.0 193.0h.1M60.5 183.3h.1M59.0 183.1h.1M53.7 181.1h.1M49.7 178.8h.1M52.0 178.6h.1M51.0 183.0h.1M56.9 177.4h.1M54.3 187.6h.1M57.2 185.4h.1M55.2 187.7h.1M55.9 188.2h.1M54.6 185.6h.1M57.7 183.5h.1M54.0 181.9h.1M55.2 185.4h.1M55.2 184.7h.1M50.9 186.3h.1M51.5 182.3h.1M55.1 182.8h.1M62.3 187.7h.1M53.0 182.4h.1M54.3 183.0h.1M47.1 184.2h.1M54.7 186.5h.1M55.5 183.2h.1M54.3 180.9h.1M56.9 192.6h.1M51.7 187.5h.1M59.8 189.7h.1M51.3 183.8h.1M51.0 187.4h.1M52.0 181.7h.1M48.3 187.8h.1M53.0 186.6h.1M45.5 185.6h.1M54.2 188.4h.1M56.2 184.1h.1M57.5 184.5h.1M55.7 191.3h.1M57.7 182.5h.1M53.7 187.3h.1M60.6 185.6h.1M53.8 181.9h.1M46.9 186.4h.1M51.9 179.7h.1M56.8 183.9h.1M59.9 184.4h.1M51.3 190.7h.1M52.5 189.1h.1M57.4 179.0h.1M47.7 181.2h.1M56.8 182.4h.1M58.3 186.9h.1" stroke="#d8343a" stroke-width="0.8" stroke-linecap="round" opacity="0.75"/>
<path d="M98.0 213.7h.1M96.1 212.8h.1M94.0 213.0h.1M93.9 211.3h.1M95.7 212.7h.1M94.7 213.8h.1M98.1 214.5h.1M94.8 213.7h.1M96.6 214.1h.1M96.3 212.6h.1M94.3 213.0h.1M97.9 213.3h.1" stroke="#e05060" stroke-width="0.8" stroke-linecap="round" opacity="0.75"/>
<path d="M70.1 209.0h.1M73.8 210.0h.1M73.7 209.3h.1M70.2 208.0h.1M73.2 208.7h.1M70.9 210.7h.1M71.7 209.8h.1M69.3 211.2h.1" stroke="#a8c4dc" stroke-width="0.8" stroke-linecap="round" opacity="0.75"/>
<text x="56.20" y="156.00" font-size="3.2" font-weight="bold" fill="#000">pre-B</text>
<text x="68.50" y="151.00" font-size="3.2" font-weight="bold" fill="#000">pre-B/D</text>
<text x="93.00" y="148.30" font-size="3.2" font-weight="bold" fill="#000">pre-DC</text>
<text x="77.70" y="173.40" font-size="3.2" font-weight="bold" fill="#000">lyM</text>
<text x="65.40" y="175.20" font-size="3.2" font-weight="bold" fill="#000">HSC2</text>
<text x="92.30" y="166.30" font-size="3.2" font-weight="bold" fill="#000">MPP 1</text>
<text x="109.00" y="168.30" font-size="3.2" font-weight="bold" fill="#000">GMP</text>
<text x="92.30" y="176.00" font-size="3.2" font-weight="bold" fill="#000">MPP 2</text>
<text x="69.20" y="187.50" font-size="3.2" font-weight="bold" fill="#000">HSC 1</text>
<text x="51.50" y="186.30" font-size="3.2" font-weight="bold" fill="#000">HSC0</text>
<text x="57.00" y="199.80" font-size="3.2" font-weight="bold" fill="#000">Mk</text>
<text x="90.80" y="195.50" font-size="3.2" font-weight="bold" fill="#000">GMP</text>
<text x="139.00" y="192.00" font-size="3.2" font-weight="bold" fill="#000">Gran</text>
<text x="70.00" y="211.40" font-size="3.2" font-weight="bold" fill="#000">Ery</text>
<text x="92.30" y="215.00" font-size="3.2" font-weight="bold" fill="#000">Mast</text>
</svg>
<rect x="38.10" y="138.10" width="121.70" height="85.30" fill="none" stroke="#2a2a2a" stroke-width="1.3"/>
<text x="98.95" y="134.40" font-size="8.6" text-anchor="middle" font-weight="normal" textLength="14.60" lengthAdjust="spacingAndGlyphs">HIFi</text>
<text x="98.95" y="234.80" font-size="8.6" text-anchor="middle" fill="#333" stroke="#333" stroke-width="0.155" textLength="21.60" lengthAdjust="spacingAndGlyphs">UMAP1</text>
<text x="33.90" y="180.75" font-size="8.6" text-anchor="middle" fill="#333" stroke="#333" stroke-width="0.155" textLength="22.30" lengthAdjust="spacingAndGlyphs" transform="rotate(-90 33.90 180.75)">UMAP2</text>
<svg x="177.3" y="138.1" width="121.80000000000001" height="85.30000000000001" viewBox="177.3 138.1 121.80000000000001 85.30000000000001" overflow="hidden">
<ellipse cx="283.0" cy="189.0" rx="10.3" ry="3.8" transform="rotate(10 283.0 189.0)" fill="#f6e0c4" opacity="0.48" filter="url(#bl)"/>
<ellipse cx="256.0" cy="170.0" rx="18.4" ry="8.6" transform="rotate(12 256.0 170.0)" fill="#eee4e2" opacity="0.36" filter="url(#bl)"/>
<ellipse cx="231.0" cy="168.5" rx="7.6" ry="5.4" transform="rotate(0 231.0 168.5)" fill="#e8dcb0" opacity="0.64" filter="url(#bl)"/>
<ellipse cx="246.0" cy="177.5" rx="11.9" ry="6.5" transform="rotate(0 246.0 177.5)" fill="#f0c4e6" opacity="0.60" filter="url(#bl)"/>
<ellipse cx="229.0" cy="195.5" rx="8.1" ry="17.8" transform="rotate(40 229.0 195.5)" fill="#f6bc80" opacity="0.76" filter="url(#bl)"/>
<ellipse cx="206.0" cy="172.0" rx="16.7" ry="8.1" transform="rotate(-12 206.0 172.0)" fill="#78c8a4" opacity="0.76" filter="url(#bl)"/>
<ellipse cx="201.0" cy="201.0" rx="15.1" ry="7.0" transform="rotate(5 201.0 201.0)" fill="#a888d8" opacity="0.76" filter="url(#bl)"/>
<ellipse cx="213.4" cy="186.4" rx="14.6" ry="11.9" transform="rotate(0 213.4 186.4)" fill="#78b4e0" opacity="0.76" filter="url(#bl)"/>
<ellipse cx="191.5" cy="186.7" rx="9.2" ry="8.3" transform="rotate(0 191.5 186.7)" fill="#ec7272" opacity="0.76" filter="url(#bl)"/>
<ellipse cx="209.0" cy="214.0" rx="5.9" ry="4.9" transform="rotate(0 209.0 214.0)" fill="#c0d8f0" opacity="0.64" filter="url(#bl)"/>
<ellipse cx="229.5" cy="214.0" rx="4.3" ry="2.2" transform="rotate(0 229.5 214.0)" fill="#f4d8dc" opacity="0.48" filter="url(#bl)"/>
<path d="M283.0 189.8h.1M280.7 189.2h.1M287.2 190.5h.1M290.6 188.8h.1M283.5 187.8h.1M279.4 188.0h.1M283.9 189.9h.1M284.7 193.3h.1M287.5 187.0h.1M284.1 188.1h.1M280.2 190.8h.1M282.6 185.5h.1M284.5 188.8h.1M277.8 186.4h.1M280.1 188.4h.1M281.0 188.8h.1M291.8 189.1h.1M279.3 187.9h.1M288.3 188.7h.1M290.1 187.9h.1M278.2 188.1h.1M279.1 187.2h.1M284.9 190.6h.1M283.6 188.6h.1M289.2 190.8h.1" stroke="#e8b888" stroke-width="0.8" stroke-linecap="round" opacity="0.75"/>
<path d="M252.8 161.1h.1M258.3 161.7h.1M261.5 164.3h.1M252.7 163.1h.1M253.7 160.6h.1M245.9 162.8h.1M274.8 172.7h.1M257.5 163.0h.1M241.2 160.7h.1M277.1 179.4h.1M240.1 167.0h.1M273.1 175.4h.1M270.8 167.0h.1M248.9 161.4h.1M260.6 161.7h.1M241.2 164.1h.1M275.2 175.0h.1M246.2 162.4h.1M250.9 161.2h.1M248.1 160.8h.1M241.1 163.4h.1M278.2 186.0h.1M272.5 175.8h.1M264.1 165.4h.1M241.0 163.9h.1M278.7 177.9h.1M241.6 164.5h.1M250.8 163.7h.1M249.9 162.8h.1M269.4 166.0h.1M276.5 178.0h.1M274.6 172.3h.1M252.6 159.1h.1M276.7 182.7h.1M274.8 173.1h.1M265.3 163.6h.1M256.5 159.8h.1M247.0 162.3h.1M274.9 170.4h.1M248.3 161.7h.1M243.9 164.7h.1M268.2 163.3h.1M253.9 161.2h.1M241.1 163.4h.1M277.0 172.8h.1M268.1 165.1h.1M271.0 172.1h.1M274.2 174.0h.1M243.0 164.0h.1M265.7 162.9h.1M245.5 163.6h.1M268.6 165.2h.1M278.2 177.1h.1M259.7 160.9h.1M248.4 161.5h.1M246.1 163.8h.1M276.6 179.0h.1M277.5 177.3h.1M278.3 179.9h.1M275.0 177.8h.1M249.0 160.9h.1M246.3 161.8h.1M268.7 164.4h.1M239.7 165.4h.1M264.1 162.8h.1M243.9 165.4h.1M258.6 158.0h.1M269.8 166.6h.1M257.2 160.8h.1M276.9 182.9h.1M274.9 173.4h.1M247.2 160.7h.1M272.3 169.8h.1M247.5 161.1h.1M276.7 181.2h.1M257.4 161.4h.1M261.3 161.9h.1M271.1 170.1h.1M244.3 164.1h.1M277.6 174.2h.1M278.3 184.0h.1M262.1 163.1h.1M276.1 172.9h.1M270.6 167.1h.1M270.8 166.9h.1M276.2 182.3h.1M277.6 178.6h.1M250.8 162.8h.1M278.1 184.0h.1M260.9 161.2h.1M261.8 162.5h.1M266.3 163.8h.1M260.3 161.3h.1M251.0 163.1h.1M278.7 183.5h.1M256.7 162.1h.1M253.7 159.9h.1M276.4 174.7h.1M255.9 161.3h.1M275.4 173.0h.1M277.2 184.5h.1M248.2 161.8h.1M256.4 161.9h.1M276.4 187.3h.1M273.3 168.9h.1M278.9 181.1h.1M267.2 164.0h.1M266.8 165.8h.1M276.7 177.1h.1M249.1 160.8h.1M258.9 159.6h.1M255.7 162.6h.1M241.6 163.4h.1M277.8 183.6h.1M277.7 176.5h.1M265.5 166.1h.1M251.3 157.3h.1M276.4 169.5h.1M260.8 159.9h.1M270.4 168.0h.1M277.1 182.2h.1M277.6 179.5h.1M270.7 170.9h.1M271.0 172.0h.1M269.2 170.2h.1M280.0 177.7h.1M271.3 167.6h.1M267.6 165.1h.1M243.7 161.3h.1M266.4 165.0h.1M252.1 162.0h.1M277.6 179.7h.1M277.9 182.5h.1M241.1 162.5h.1M272.5 168.3h.1M241.0 163.6h.1M260.0 160.5h.1M276.2 177.0h.1M271.0 167.7h.1M277.3 181.1h.1M254.3 159.4h.1M272.9 171.2h.1M243.2 161.8h.1M254.0 160.1h.1M271.2 167.3h.1M270.2 169.5h.1M241.4 164.6h.1M279.2 182.2h.1M245.1 162.6h.1M245.3 165.5h.1M273.4 168.7h.1M244.9 163.5h.1M277.6 185.3h.1M279.8 179.3h.1M253.3 160.7h.1M280.0 181.4h.1M248.9 161.0h.1M276.0 174.2h.1M241.2 164.5h.1M276.2 183.3h.1M277.5 185.3h.1M279.3 182.1h.1M279.8 184.9h.1M272.4 168.7h.1M245.4 163.1h.1M262.5 163.6h.1M258.4 159.4h.1M276.1 173.1h.1M251.2 162.8h.1M248.9 160.2h.1M257.7 158.8h.1M247.4 164.1h.1M251.5 161.2h.1M276.4 173.1h.1M266.0 164.8h.1M273.7 171.8h.1M258.0 162.2h.1M262.8 163.5h.1M275.8 172.8h.1M245.3 163.9h.1M274.4 180.0h.1M267.1 166.8h.1M267.8 166.1h.1M239.0 164.6h.1M247.7 162.1h.1M253.5 161.9h.1M271.4 169.5h.1M269.4 169.0h.1M277.5 182.9h.1M265.7 165.1h.1M278.0 179.4h.1M247.3 161.0h.1M278.4 186.0h.1M271.7 167.9h.1M280.5 180.0h.1M274.7 173.2h.1M254.7 161.9h.1M278.0 179.6h.1M253.1 158.4h.1M277.6 180.5h.1" stroke="#8a6460" stroke-width="0.6" stroke-linecap="round" opacity="0.8"/>
<path d="M255.8 165.6h.1M276.5 178.8h.1M257.6 167.9h.1M266.8 165.9h.1M275.9 180.2h.1M276.4 180.1h.1M257.7 167.4h.1M269.7 171.0h.1M272.2 173.2h.1M270.6 171.8h.1M268.9 170.7h.1M274.0 177.2h.1M264.4 168.0h.1M275.3 175.1h.1M262.1 165.8h.1M267.9 171.2h.1M273.0 175.9h.1M263.7 167.5h.1M268.6 169.9h.1M270.7 172.4h.1M275.8 179.2h.1M275.5 181.2h.1M265.2 169.5h.1M266.2 170.0h.1M264.1 169.7h.1M267.3 167.0h.1M266.6 168.1h.1M260.7 166.8h.1M258.2 166.0h.1M272.1 173.8h.1M265.3 167.8h.1M262.2 168.7h.1M267.1 169.5h.1M260.5 166.8h.1M275.1 182.6h.1M272.0 172.2h.1M266.7 168.9h.1M267.2 167.5h.1M270.8 170.7h.1M273.8 175.8h.1M267.6 169.7h.1M266.1 169.3h.1M274.4 173.2h.1M264.7 166.4h.1M268.2 169.3h.1M278.6 177.8h.1M274.9 176.7h.1M275.2 174.1h.1M273.1 173.0h.1M268.8 169.3h.1M272.0 172.8h.1M260.2 167.9h.1M265.8 169.5h.1M277.1 179.9h.1M257.7 164.2h.1M269.1 169.9h.1M260.9 167.9h.1M272.4 174.5h.1M277.1 179.3h.1M278.5 180.4h.1M264.7 168.8h.1M276.4 175.7h.1M273.1 176.0h.1M262.2 167.0h.1M260.8 165.5h.1M267.7 169.2h.1M275.9 178.3h.1M274.5 177.7h.1M260.6 167.0h.1M273.6 174.6h.1M276.4 177.8h.1M263.1 167.5h.1M274.9 177.3h.1M268.5 172.4h.1M270.6 170.1h.1M266.1 168.4h.1M266.2 169.4h.1M265.8 166.4h.1M267.7 170.3h.1M269.2 171.5h.1M273.9 176.5h.1M275.1 176.0h.1M271.9 175.9h.1M276.7 180.4h.1M259.9 168.1h.1M271.0 170.9h.1M271.1 174.2h.1M266.0 168.3h.1M271.8 171.8h.1M276.5 179.6h.1M277.5 175.4h.1M272.5 175.6h.1M272.2 173.5h.1M275.4 179.1h.1M266.8 169.2h.1M259.4 166.6h.1M275.3 177.1h.1M274.2 177.0h.1M277.3 179.9h.1M272.5 174.3h.1M274.8 180.8h.1M265.8 167.1h.1M262.2 166.3h.1M259.3 168.1h.1M268.5 170.7h.1M261.3 168.5h.1M274.1 178.0h.1M275.4 178.0h.1M274.1 177.4h.1M259.7 165.3h.1M277.2 178.9h.1M270.1 171.1h.1M265.7 168.8h.1M272.8 174.5h.1M261.8 168.0h.1M265.1 167.8h.1M260.4 167.7h.1M265.3 169.8h.1M275.4 175.1h.1M260.0 166.0h.1" stroke="#6a4440" stroke-width="0.65" stroke-linecap="round" opacity="0.85"/>
<path d="M273.1 177.4h.1M252.4 163.0h.1M250.5 168.8h.1M256.1 170.3h.1M253.7 167.0h.1M239.8 168.8h.1M267.9 169.8h.1M255.8 172.2h.1M246.0 166.3h.1M260.5 171.6h.1M242.3 163.8h.1M242.7 166.1h.1M268.5 174.7h.1M250.5 168.6h.1M273.1 180.6h.1M258.7 164.6h.1M266.5 168.3h.1M269.9 177.3h.1M266.8 169.1h.1M250.7 167.7h.1M251.1 167.6h.1M262.5 172.5h.1M244.9 167.1h.1M270.0 183.2h.1M243.5 170.2h.1M256.7 171.4h.1M249.9 165.1h.1M251.7 168.8h.1M262.2 173.2h.1M267.8 169.7h.1M251.3 164.2h.1M269.4 181.7h.1M267.6 176.8h.1M261.3 175.2h.1M255.7 171.1h.1M269.6 171.0h.1M254.5 169.8h.1M258.7 168.4h.1M274.2 175.4h.1M269.9 173.6h.1M272.5 182.0h.1M261.4 171.1h.1M265.5 173.5h.1M256.7 167.8h.1M259.6 170.0h.1M253.5 169.6h.1M260.1 169.5h.1M256.3 167.2h.1M245.4 165.5h.1M272.8 180.1h.1M250.3 164.1h.1M260.4 170.1h.1M253.2 167.1h.1M265.3 172.6h.1M246.3 166.9h.1M271.8 178.8h.1M269.6 174.4h.1M270.8 176.3h.1M260.2 172.2h.1M267.6 172.8h.1M252.0 169.0h.1M271.4 177.5h.1M248.1 167.4h.1M264.2 169.8h.1M264.6 176.2h.1M262.5 173.4h.1M263.8 169.2h.1M271.9 180.9h.1M245.7 167.8h.1M270.9 173.9h.1M266.6 173.2h.1M264.8 168.7h.1M271.9 176.7h.1M256.5 168.1h.1M257.6 168.3h.1M264.1 172.0h.1M254.3 165.5h.1M266.4 181.0h.1M248.2 168.3h.1M270.9 176.9h.1M251.1 164.5h.1M251.7 169.9h.1M266.1 171.9h.1M261.8 171.8h.1M251.1 170.2h.1M248.6 166.0h.1M252.2 165.2h.1M253.9 164.4h.1M274.3 171.8h.1M243.2 169.3h.1M254.4 165.5h.1M274.3 181.6h.1M265.4 169.4h.1M270.8 181.6h.1M250.3 169.8h.1M268.9 177.0h.1M261.0 168.5h.1M270.6 181.4h.1M244.9 170.7h.1M258.4 169.4h.1M253.8 165.9h.1M263.0 169.1h.1M272.1 168.7h.1M243.1 168.4h.1M244.3 168.1h.1M248.0 163.1h.1M272.6 180.2h.1M265.8 173.2h.1M267.5 179.8h.1M270.2 179.6h.1M270.9 177.6h.1M271.3 180.5h.1M256.4 166.8h.1M255.6 168.3h.1M266.3 172.3h.1M273.4 179.8h.1M260.8 177.3h.1M254.2 166.2h.1M268.6 172.3h.1M251.1 169.3h.1" stroke="#c8b0b0" stroke-width="0.6" stroke-linecap="round" opacity="0.6"/>
<path d="M233.1 165.3h.1M232.3 164.9h.1M231.3 167.2h.1M233.1 165.8h.1M230.1 169.7h.1M229.1 167.4h.1M228.2 170.9h.1M231.6 170.3h.1M233.9 169.6h.1M232.2 166.8h.1M230.8 169.8h.1M226.5 165.9h.1M233.5 172.8h.1M232.7 168.6h.1M236.1 170.9h.1M235.9 170.5h.1M231.8 170.5h.1M236.2 171.2h.1M225.4 172.7h.1M229.4 165.5h.1M226.6 169.3h.1M231.4 170.0h.1M236.3 168.5h.1M228.3 166.4h.1M233.5 168.6h.1M231.9 166.6h.1M227.8 166.7h.1M231.6 169.3h.1M236.1 170.1h.1M231.3 171.5h.1M225.8 166.5h.1M233.0 170.7h.1M231.2 164.8h.1M226.1 169.1h.1M232.6 163.5h.1M229.4 168.3h.1M234.6 171.2h.1M229.4 166.0h.1M230.2 166.8h.1M228.3 170.0h.1M230.7 169.6h.1M226.2 172.2h.1M232.2 168.5h.1M228.9 170.9h.1M234.6 166.5h.1M230.2 163.2h.1M228.5 164.5h.1M225.7 168.4h.1M235.3 166.3h.1M227.4 168.6h.1M227.9 164.6h.1M230.2 167.5h.1M227.9 169.2h.1M236.2 167.7h.1M228.2 170.7h.1M234.4 166.6h.1M230.1 166.2h.1M225.7 170.4h.1M232.7 172.1h.1M226.2 167.9h.1M237.2 168.3h.1M233.9 166.3h.1M235.4 172.0h.1M235.6 170.7h.1M229.4 172.9h.1M228.4 166.2h.1M228.1 168.8h.1M235.5 168.5h.1M232.7 168.2h.1M233.1 168.7h.1" stroke="#d0c088" stroke-width="0.8" stroke-linecap="round" opacity="0.75"/>
<path d="M250.6 180.1h.1M248.9 175.5h.1M245.0 179.5h.1M252.8 178.8h.1M242.4 176.7h.1M240.0 176.2h.1M244.6 175.4h.1M247.6 183.6h.1M242.4 172.8h.1M242.0 180.8h.1M240.0 180.6h.1M252.1 176.6h.1M237.8 178.8h.1M240.7 177.6h.1M256.1 178.3h.1M235.3 177.2h.1M239.7 182.7h.1M247.4 175.5h.1M246.3 176.6h.1M240.1 173.4h.1M245.2 175.1h.1M243.9 179.0h.1M251.9 175.1h.1M247.3 174.1h.1M254.3 175.6h.1M239.2 172.4h.1M243.9 179.9h.1M247.9 173.1h.1M246.8 172.8h.1M243.8 178.4h.1M247.6 171.5h.1M241.3 177.0h.1M248.0 175.9h.1M248.5 181.2h.1M236.8 178.2h.1M258.7 178.2h.1M244.8 181.0h.1M251.3 178.0h.1M247.0 179.0h.1M254.2 172.4h.1M239.4 177.6h.1M250.5 175.2h.1M240.4 178.5h.1M246.2 179.9h.1M244.6 178.3h.1M236.7 178.7h.1M248.0 176.4h.1M238.7 182.1h.1M250.6 176.8h.1M250.6 182.7h.1M243.7 181.7h.1M249.7 176.5h.1M244.0 181.2h.1M251.6 179.3h.1M240.8 176.0h.1M245.5 173.1h.1M237.2 174.8h.1M248.1 179.0h.1M245.3 179.3h.1M254.6 174.0h.1M250.3 175.7h.1M247.2 171.7h.1M245.7 177.1h.1M244.0 179.5h.1M239.0 176.8h.1M249.7 176.3h.1M249.1 177.2h.1M247.0 174.9h.1M239.0 175.9h.1M252.9 178.7h.1M243.7 175.5h.1M252.2 179.8h.1M245.8 179.4h.1M246.4 181.4h.1M240.7 178.1h.1M248.9 178.9h.1M241.8 175.5h.1M250.1 182.6h.1M241.2 176.7h.1M252.7 176.8h.1M249.6 180.3h.1M245.0 183.3h.1M246.4 176.3h.1M251.4 180.9h.1M241.2 177.4h.1M243.0 177.6h.1M239.0 178.3h.1M252.9 175.9h.1M244.6 177.1h.1M238.9 177.4h.1M243.6 175.3h.1M254.1 175.8h.1M248.8 177.1h.1M251.4 175.3h.1M245.1 177.1h.1M255.0 179.7h.1M252.5 176.3h.1M239.7 175.4h.1M236.3 176.2h.1M250.9 177.3h.1M241.3 179.0h.1M248.8 178.3h.1M249.8 182.0h.1M249.1 181.2h.1M251.6 177.0h.1M250.2 177.5h.1M244.1 178.8h.1M249.2 180.0h.1M247.2 173.2h.1M246.3 178.6h.1M250.4 178.7h.1M245.8 177.5h.1M252.4 180.2h.1M246.2 178.4h.1M246.8 176.4h.1M245.9 176.5h.1M250.0 174.9h.1M244.0 179.3h.1M248.4 174.7h.1M241.5 176.6h.1" stroke="#e0a0d8" stroke-width="0.8" stroke-linecap="round" opacity="0.75"/>
<path d="M225.9 201.3h.1M220.1 205.7h.1M239.4 187.6h.1M223.6 200.4h.1M234.0 195.6h.1M229.0 193.8h.1M235.2 189.2h.1M223.8 203.1h.1M225.1 201.8h.1M222.7 199.0h.1M225.3 198.0h.1M236.4 190.2h.1M220.9 199.2h.1M228.3 200.2h.1M222.2 199.5h.1M235.4 192.0h.1M221.8 197.4h.1M234.0 190.3h.1M232.4 189.1h.1M229.9 196.7h.1M230.1 199.8h.1M222.9 204.0h.1M234.5 188.4h.1M233.2 189.9h.1M221.8 208.1h.1M228.4 192.4h.1M216.7 202.5h.1M230.3 204.5h.1M226.3 207.7h.1M228.1 193.6h.1M223.3 201.4h.1M230.6 185.4h.1M233.2 192.7h.1M229.1 186.6h.1M221.9 207.8h.1M222.1 204.1h.1M225.4 192.6h.1M232.3 193.5h.1M233.0 182.1h.1M224.7 201.3h.1M229.3 186.4h.1M228.0 194.4h.1M221.3 195.3h.1M231.5 194.4h.1M216.8 200.1h.1M235.9 186.5h.1M225.3 203.3h.1M223.0 196.7h.1M227.7 194.6h.1M235.5 190.2h.1M223.7 204.9h.1M225.9 197.9h.1M229.0 194.5h.1M235.7 194.1h.1M229.0 194.6h.1M230.6 193.3h.1M221.6 203.1h.1M232.8 192.5h.1M228.5 193.5h.1M233.5 188.4h.1M230.0 193.0h.1M225.7 193.2h.1M231.0 201.4h.1M234.8 198.1h.1M230.8 195.9h.1M232.0 187.0h.1M221.2 194.8h.1M226.8 196.0h.1M233.0 183.2h.1M220.8 199.6h.1M229.6 195.8h.1M234.4 180.7h.1M228.0 194.3h.1M234.7 187.7h.1M226.9 196.9h.1M220.3 207.7h.1M224.3 194.0h.1M231.3 189.2h.1M237.8 185.6h.1M232.1 200.0h.1M231.3 199.6h.1M238.3 194.1h.1M215.2 207.5h.1M223.8 206.0h.1M230.6 193.8h.1M222.2 203.2h.1M230.8 196.9h.1M220.4 193.7h.1M222.7 208.2h.1M238.2 184.1h.1M220.8 200.9h.1M227.0 200.8h.1M231.9 193.0h.1M228.4 193.8h.1M237.6 188.2h.1M225.7 208.2h.1M232.8 186.1h.1M229.1 205.0h.1M233.1 188.8h.1M229.2 204.2h.1M220.7 207.2h.1M229.2 190.4h.1M225.4 195.3h.1M223.6 189.8h.1M228.4 190.9h.1M224.3 204.2h.1M236.1 192.7h.1M225.8 199.7h.1M234.6 186.7h.1M229.0 197.9h.1M221.4 201.9h.1M225.1 195.6h.1M222.0 204.0h.1M234.6 190.1h.1M222.6 194.3h.1M218.9 200.9h.1M231.2 197.4h.1M229.0 193.0h.1M231.0 200.9h.1M228.0 188.8h.1M234.3 192.2h.1M239.5 192.6h.1M232.7 195.9h.1M230.0 203.7h.1M227.6 197.8h.1M236.3 185.2h.1M230.6 192.3h.1M232.4 190.5h.1M224.6 192.0h.1M223.4 198.9h.1M237.8 189.3h.1M230.9 194.1h.1M232.7 191.7h.1M220.3 202.2h.1M237.3 187.6h.1M225.7 192.2h.1M229.6 191.5h.1M222.8 198.6h.1M227.9 201.7h.1M229.5 194.6h.1M215.0 204.9h.1M231.8 194.7h.1M240.8 192.4h.1M230.3 191.2h.1M226.8 194.9h.1M228.5 193.6h.1M225.9 196.7h.1M232.3 189.3h.1M240.2 188.5h.1M224.5 206.2h.1M233.0 190.3h.1M231.1 193.9h.1M219.8 202.7h.1M227.7 188.2h.1M222.5 200.3h.1M235.9 188.3h.1M228.9 206.8h.1M225.7 196.8h.1M227.6 196.5h.1M231.9 194.8h.1M220.6 202.6h.1M223.7 198.3h.1M237.1 194.3h.1M217.7 203.3h.1M240.3 183.5h.1M223.7 196.4h.1M235.0 193.6h.1M220.8 200.0h.1M233.9 187.3h.1M224.2 204.4h.1M227.1 196.9h.1M223.9 202.2h.1M229.6 197.3h.1M226.7 192.4h.1M229.8 199.3h.1M219.5 208.6h.1M239.1 194.1h.1M235.3 193.3h.1M222.3 204.9h.1M218.3 210.5h.1M222.9 204.3h.1M229.6 192.8h.1M234.6 188.0h.1M234.1 187.1h.1M231.8 192.7h.1M221.9 205.5h.1M228.5 201.1h.1M231.4 191.8h.1M220.6 198.1h.1M225.3 201.3h.1M224.4 189.6h.1M224.8 189.3h.1M227.3 194.8h.1M234.9 193.4h.1M226.4 203.6h.1M228.7 195.5h.1M225.9 198.2h.1M224.2 197.1h.1M230.4 195.6h.1M227.6 196.7h.1M223.7 197.9h.1M225.1 198.5h.1M217.6 204.8h.1M235.6 193.5h.1M228.9 191.7h.1M229.9 195.6h.1M225.7 192.3h.1M223.1 189.2h.1M229.3 192.7h.1M227.5 203.3h.1M231.3 198.5h.1M235.4 189.0h.1M232.4 198.0h.1M226.4 197.2h.1M224.5 195.1h.1M235.1 186.6h.1M235.6 192.2h.1M226.6 195.9h.1M233.6 189.9h.1M223.1 194.1h.1M228.2 192.9h.1M230.8 191.7h.1M232.8 197.6h.1M221.3 200.0h.1M233.0 191.2h.1M231.0 189.7h.1M226.8 196.5h.1M233.4 189.5h.1M228.0 189.9h.1M238.5 190.5h.1M232.4 193.3h.1M241.0 189.3h.1M225.9 201.0h.1M240.5 182.8h.1M230.0 203.6h.1M235.3 192.3h.1M225.3 200.5h.1M219.1 208.2h.1M233.2 190.7h.1M238.6 183.7h.1M217.2 208.5h.1M229.5 193.3h.1M224.0 197.2h.1M223.3 205.0h.1M223.3 195.1h.1M229.6 195.3h.1M216.0 206.1h.1M234.3 182.9h.1M229.8 204.0h.1M224.2 200.9h.1M221.7 199.8h.1M237.8 189.8h.1M231.9 190.6h.1M233.0 188.9h.1M237.3 189.6h.1M225.7 202.2h.1M233.5 185.9h.1M225.8 200.0h.1M231.2 192.7h.1M225.3 189.9h.1M228.0 197.0h.1M236.3 197.4h.1M236.5 184.4h.1M235.8 189.8h.1M236.0 184.6h.1M229.6 198.2h.1M227.2 188.0h.1M232.5 203.4h.1M230.5 195.1h.1M236.4 185.0h.1M221.4 202.4h.1M225.2 202.6h.1M234.6 193.7h.1M226.2 193.6h.1M233.4 187.5h.1M222.0 198.4h.1M233.0 181.2h.1M225.2 198.9h.1M225.1 200.4h.1M228.1 193.6h.1M225.0 202.9h.1M231.6 198.2h.1M233.5 193.9h.1M229.4 187.5h.1M227.4 193.6h.1M231.7 191.9h.1M227.4 195.7h.1M225.4 200.9h.1M231.0 183.4h.1M224.1 199.4h.1M230.5 198.5h.1M231.7 197.9h.1M234.7 187.3h.1M236.8 192.3h.1M223.5 201.4h.1M229.3 203.7h.1M232.1 185.8h.1M232.4 188.0h.1M226.2 193.2h.1M226.7 197.7h.1M229.8 188.4h.1M234.5 194.3h.1M230.3 196.3h.1M225.0 193.5h.1M229.7 184.5h.1M228.1 188.6h.1M226.2 206.8h.1M220.2 198.7h.1M231.7 193.2h.1M231.1 204.6h.1M225.7 188.8h.1M226.7 203.1h.1M228.7 193.4h.1M230.9 190.5h.1M229.9 191.9h.1M234.1 186.7h.1M236.3 186.2h.1M229.5 195.0h.1M228.4 201.1h.1M222.8 197.1h.1" stroke="#f09238" stroke-width="0.8" stroke-linecap="round" opacity="0.75"/>
<path d="M200.2 171.1h.1M205.1 175.2h.1M202.6 176.7h.1M210.1 169.8h.1M208.2 165.9h.1M197.4 176.2h.1M196.9 167.6h.1M215.6 171.7h.1M200.5 174.3h.1M209.9 169.0h.1M198.2 168.1h.1M207.8 169.8h.1M201.6 171.3h.1M206.2 171.4h.1M193.7 178.9h.1M212.1 171.4h.1M202.8 170.4h.1M212.1 170.0h.1M198.3 173.9h.1M202.9 171.7h.1M196.9 172.1h.1M210.2 173.0h.1M214.6 171.4h.1M207.6 176.3h.1M197.5 170.6h.1M207.9 176.6h.1M199.6 169.4h.1M206.8 171.9h.1M204.5 177.4h.1M205.4 178.4h.1M214.3 166.2h.1M215.4 172.6h.1M213.0 163.4h.1M215.5 171.9h.1M207.4 176.3h.1M194.2 179.0h.1M210.1 172.6h.1M202.1 166.0h.1M196.9 169.2h.1M218.1 171.0h.1M202.9 172.1h.1M209.6 173.8h.1M212.3 170.5h.1M200.5 171.8h.1M198.9 175.6h.1M208.5 171.6h.1M201.4 172.2h.1M204.7 172.7h.1M200.2 172.6h.1M197.3 168.8h.1M220.8 166.8h.1M197.1 170.3h.1M214.7 169.5h.1M199.0 173.7h.1M204.9 173.6h.1M205.6 166.9h.1M211.5 170.6h.1M206.7 174.9h.1M204.6 174.3h.1M201.1 170.0h.1M212.6 171.9h.1M203.5 172.1h.1M193.5 168.8h.1M194.6 171.1h.1M208.4 171.9h.1M205.5 165.4h.1M209.1 173.8h.1M207.1 177.4h.1M208.1 179.3h.1M205.8 168.8h.1M192.1 172.5h.1M206.5 174.5h.1M211.0 174.7h.1M210.9 171.2h.1M206.0 175.2h.1M215.4 173.2h.1M195.4 177.8h.1M203.9 176.6h.1M206.5 170.3h.1M207.9 178.8h.1M209.4 169.6h.1M206.2 175.2h.1M214.4 173.3h.1M204.2 173.7h.1M205.1 169.2h.1M200.9 176.0h.1M196.9 167.3h.1M212.8 169.2h.1M211.9 165.1h.1M199.2 171.1h.1M213.7 171.0h.1M212.0 170.4h.1M219.7 168.0h.1M208.3 163.2h.1M190.9 174.7h.1M194.2 171.3h.1M208.9 172.1h.1M205.2 170.2h.1M204.7 173.1h.1M218.1 165.9h.1M198.8 173.5h.1M205.1 176.4h.1M201.9 178.4h.1M207.9 180.4h.1M202.2 172.5h.1M204.6 174.5h.1M195.4 170.8h.1M200.4 179.2h.1M213.5 174.3h.1M212.3 171.7h.1M197.2 169.8h.1M193.8 176.4h.1M198.1 176.4h.1M215.6 173.9h.1M199.3 176.8h.1M200.7 173.4h.1M209.3 166.6h.1M204.3 172.6h.1M218.4 172.6h.1M200.9 174.1h.1M206.9 170.6h.1M202.7 174.5h.1M213.1 169.5h.1M204.7 170.7h.1M203.1 173.1h.1M193.0 171.7h.1M199.3 169.8h.1M205.9 166.9h.1M216.8 171.5h.1M205.3 166.8h.1M201.0 179.3h.1M197.5 173.2h.1M203.7 173.4h.1M201.2 168.5h.1M214.2 170.0h.1M205.4 173.7h.1M204.0 167.2h.1M206.5 174.2h.1M209.6 172.6h.1M209.5 169.7h.1M203.1 177.1h.1M216.8 170.4h.1M205.2 171.8h.1M213.5 173.4h.1M213.0 168.4h.1M208.3 173.1h.1M209.5 173.3h.1M218.1 171.2h.1M204.2 167.3h.1M215.8 172.9h.1M201.0 175.4h.1M201.4 169.7h.1M208.5 171.7h.1M222.0 167.2h.1M200.2 166.2h.1M201.6 170.1h.1M198.5 171.9h.1M208.9 173.0h.1M211.9 167.6h.1M202.8 170.1h.1M206.1 173.4h.1M189.5 177.4h.1M213.9 167.3h.1M209.7 167.4h.1M202.9 167.6h.1M201.6 173.0h.1M199.7 172.5h.1M210.2 164.7h.1M204.4 168.6h.1M206.6 172.5h.1M209.0 173.6h.1M205.8 172.1h.1M208.3 172.0h.1M195.1 175.0h.1M206.5 164.2h.1M214.9 170.9h.1M197.1 173.8h.1M210.1 172.5h.1M207.9 166.7h.1M206.4 176.4h.1M209.3 167.1h.1M209.5 174.8h.1M218.2 165.4h.1M198.2 170.6h.1M216.6 174.5h.1M208.2 178.1h.1M192.1 174.2h.1M201.3 176.0h.1M208.0 176.9h.1M197.1 172.0h.1M213.4 178.7h.1M207.4 174.9h.1M214.2 172.7h.1M218.4 172.0h.1M218.0 174.9h.1M198.5 171.2h.1M213.8 164.2h.1M209.2 175.1h.1M208.7 172.7h.1M215.7 165.6h.1M201.4 180.6h.1M195.8 172.2h.1M217.0 164.8h.1M218.0 169.6h.1M212.3 171.2h.1M215.8 175.8h.1M209.1 172.0h.1M206.6 168.3h.1M200.0 176.0h.1M210.5 168.7h.1M208.1 166.3h.1M191.9 176.4h.1M211.8 166.7h.1M217.4 176.7h.1M190.9 172.4h.1M198.1 168.8h.1M208.8 167.1h.1M193.5 178.0h.1M202.8 177.3h.1M207.8 171.6h.1M206.9 172.6h.1M205.0 171.6h.1M201.5 168.4h.1M201.9 172.6h.1M214.2 171.9h.1M214.5 172.1h.1M209.3 166.0h.1M221.4 173.4h.1M202.3 172.9h.1M219.9 168.9h.1M209.5 168.0h.1M208.0 170.9h.1M205.5 167.8h.1M210.2 166.1h.1M209.6 166.6h.1M212.5 177.2h.1M190.9 177.7h.1M196.8 174.9h.1M212.4 165.3h.1M206.7 167.2h.1" stroke="#3aa878" stroke-width="0.8" stroke-linecap="round" opacity="0.75"/>
<path d="M198.7 197.5h.1M205.9 200.6h.1M197.3 201.4h.1M201.8 202.0h.1M198.3 201.6h.1M198.8 201.0h.1M202.4 200.6h.1M201.1 202.2h.1M195.4 198.2h.1M202.2 200.2h.1M195.3 203.0h.1M193.8 200.0h.1M212.7 200.0h.1M202.6 200.1h.1M204.7 205.8h.1M209.5 204.9h.1M198.0 206.0h.1M197.7 204.2h.1M199.0 201.0h.1M191.7 202.6h.1M207.5 205.5h.1M198.1 197.7h.1M199.0 202.2h.1M204.5 205.3h.1M196.3 201.8h.1M201.0 200.3h.1M199.2 201.6h.1M201.9 201.7h.1M191.2 199.3h.1M193.2 204.3h.1M206.0 198.2h.1M195.4 205.8h.1M203.2 197.0h.1M200.5 201.9h.1M206.9 197.5h.1M196.2 198.1h.1M202.1 196.6h.1M193.9 197.9h.1M200.3 198.1h.1M213.4 203.3h.1M206.0 202.3h.1M214.4 198.8h.1M194.7 202.7h.1M202.7 202.5h.1M206.0 196.2h.1M208.6 197.5h.1M199.9 202.9h.1M189.0 201.0h.1M198.0 201.2h.1M214.4 199.9h.1M192.3 195.4h.1M202.9 203.3h.1M190.0 201.1h.1M202.0 204.7h.1M187.9 197.5h.1M204.1 203.4h.1M198.1 201.7h.1M201.8 199.1h.1M195.5 198.1h.1M200.6 203.2h.1M201.6 198.5h.1M206.2 200.0h.1M196.7 204.6h.1M210.7 202.8h.1M190.1 204.9h.1M213.6 203.2h.1M197.1 204.3h.1M202.7 201.6h.1M214.3 200.6h.1M200.6 200.9h.1M197.7 202.2h.1M216.4 200.8h.1M200.2 207.9h.1M199.4 198.8h.1M187.0 201.0h.1M207.3 203.3h.1M202.9 197.7h.1M197.5 203.2h.1M205.0 201.3h.1M194.6 195.8h.1M197.1 200.9h.1M198.8 201.7h.1M208.3 202.1h.1M203.8 200.3h.1M188.2 199.8h.1M198.3 199.8h.1M186.9 200.5h.1M194.7 200.6h.1M205.0 205.5h.1M214.3 198.5h.1M198.5 200.9h.1M193.1 204.1h.1M199.3 200.0h.1M187.6 201.2h.1M205.0 208.1h.1M204.7 196.2h.1M207.5 199.6h.1M206.4 206.8h.1M198.8 201.6h.1M202.3 199.7h.1M200.0 203.7h.1M209.3 200.4h.1M200.9 198.9h.1M197.1 198.9h.1M197.3 198.6h.1M199.5 204.1h.1M193.9 201.8h.1M188.2 201.5h.1M211.3 202.9h.1M198.5 202.5h.1M204.7 202.8h.1M206.4 195.5h.1M195.5 193.8h.1M198.1 197.1h.1M208.2 196.9h.1M215.3 202.9h.1M193.4 203.0h.1M196.7 196.2h.1M195.7 200.4h.1M208.8 203.0h.1M192.5 201.8h.1M192.5 202.6h.1M203.0 198.6h.1M201.4 203.9h.1M191.3 201.2h.1M202.5 200.4h.1M200.8 196.2h.1M195.6 201.2h.1M196.9 202.3h.1M201.0 198.7h.1M202.5 201.7h.1M211.4 196.5h.1M199.5 200.6h.1M199.2 202.1h.1M201.9 199.4h.1M197.4 206.1h.1M196.9 201.8h.1M192.8 202.7h.1M206.3 203.2h.1M210.0 203.9h.1M209.8 199.1h.1M200.4 200.4h.1M198.2 197.9h.1M192.7 203.8h.1M203.2 207.7h.1M205.3 205.8h.1M195.4 198.0h.1M198.6 201.5h.1M194.1 200.6h.1M201.5 201.6h.1M193.3 202.9h.1M193.0 205.8h.1M190.6 198.3h.1M196.8 198.0h.1M200.9 198.2h.1M201.9 203.9h.1M199.4 199.4h.1M208.7 205.6h.1M195.6 201.0h.1M211.5 196.9h.1M206.0 204.1h.1M203.9 195.5h.1M205.8 203.2h.1M199.1 200.8h.1M205.5 199.8h.1M197.5 202.8h.1M195.6 204.9h.1M203.7 197.4h.1M201.6 205.3h.1M207.3 198.6h.1M190.2 202.6h.1M202.3 199.9h.1M202.1 204.2h.1M206.0 200.9h.1M191.9 204.4h.1M199.7 200.1h.1M212.5 205.0h.1M202.5 202.4h.1M202.1 202.2h.1M201.1 199.5h.1M209.7 199.4h.1M204.1 198.9h.1M202.5 200.6h.1M199.1 200.5h.1M212.6 201.4h.1M190.0 197.3h.1M194.6 197.2h.1M199.1 202.6h.1M196.2 199.1h.1M204.2 203.0h.1M205.1 206.3h.1M205.6 199.0h.1M206.8 203.4h.1M211.4 202.3h.1M198.0 202.6h.1M194.0 203.6h.1M199.6 201.5h.1M204.3 203.2h.1M194.6 207.2h.1M195.9 196.5h.1M197.6 201.2h.1M192.6 199.6h.1M203.0 199.9h.1M202.5 196.6h.1M195.5 203.9h.1M200.6 195.1h.1M214.2 199.4h.1M195.8 199.9h.1M200.0 204.4h.1M200.9 198.4h.1M210.1 203.2h.1M201.6 198.9h.1M201.8 198.4h.1M204.9 204.8h.1M200.9 198.8h.1M196.0 206.4h.1M195.3 199.1h.1M207.5 198.8h.1M200.9 198.5h.1M199.8 204.1h.1" stroke="#7a4cc0" stroke-width="0.8" stroke-linecap="round" opacity="0.75"/>
<path d="M224.3 182.8h.1M218.7 196.3h.1M216.3 183.1h.1M211.5 189.5h.1M211.9 183.4h.1M217.7 183.1h.1M207.4 187.1h.1M205.6 194.2h.1M211.6 184.6h.1M213.6 191.9h.1M223.6 186.4h.1M215.2 191.2h.1M219.2 192.9h.1M203.8 188.8h.1M211.0 192.0h.1M214.4 180.7h.1M205.1 184.6h.1M218.1 191.2h.1M204.3 186.9h.1M207.4 188.1h.1M212.7 188.2h.1M206.9 185.0h.1M222.7 181.3h.1M215.7 183.7h.1M213.8 185.7h.1M211.8 186.5h.1M213.6 187.7h.1M209.1 174.2h.1M211.0 192.9h.1M219.7 187.6h.1M213.7 182.2h.1M216.3 187.4h.1M218.7 184.5h.1M213.2 190.6h.1M207.5 192.8h.1M216.9 186.8h.1M210.5 181.4h.1M213.4 179.0h.1M203.8 188.7h.1M213.7 184.2h.1M217.7 176.5h.1M211.1 181.7h.1M210.7 180.9h.1M215.7 191.1h.1M214.1 187.6h.1M219.5 188.4h.1M206.2 188.7h.1M218.9 191.9h.1M218.0 184.3h.1M214.9 192.3h.1M221.0 186.8h.1M224.9 179.9h.1M206.2 194.7h.1M224.5 186.0h.1M214.4 193.4h.1M211.6 187.9h.1M225.7 180.4h.1M220.1 190.2h.1M221.0 195.8h.1M217.3 192.3h.1M211.1 178.1h.1M225.6 184.7h.1M213.6 183.5h.1M213.4 191.2h.1M216.1 184.1h.1M214.0 183.1h.1M218.8 182.7h.1M205.5 183.9h.1M213.9 191.6h.1M218.1 191.6h.1M209.8 187.2h.1M223.4 193.6h.1M223.3 180.4h.1M207.9 185.1h.1M212.7 188.3h.1M206.5 181.7h.1M206.2 194.0h.1M214.4 178.0h.1M218.5 189.2h.1M218.4 180.5h.1M204.5 184.1h.1M207.1 176.6h.1M216.9 184.8h.1M205.2 191.5h.1M214.5 190.1h.1M219.5 185.8h.1M213.8 187.5h.1M212.8 186.8h.1M204.6 185.1h.1M206.9 180.8h.1M211.7 187.3h.1M205.9 187.3h.1M217.2 178.2h.1M212.8 188.9h.1M216.3 186.8h.1M210.8 188.7h.1M212.2 188.5h.1M215.1 187.3h.1M202.7 183.4h.1M223.2 186.0h.1M206.9 182.8h.1M224.2 181.5h.1M212.3 179.3h.1M208.2 187.5h.1M210.2 192.3h.1M221.4 186.3h.1M219.2 178.1h.1M210.5 180.0h.1M211.5 188.6h.1M216.6 188.8h.1M211.4 189.7h.1M225.6 190.0h.1M208.4 185.0h.1M217.5 194.6h.1M211.7 179.2h.1M223.5 195.1h.1M216.2 183.0h.1M217.4 177.8h.1M213.4 194.2h.1M209.8 179.7h.1M214.0 192.7h.1M208.7 181.1h.1M215.6 194.0h.1M208.8 192.0h.1M211.5 179.2h.1M209.9 177.7h.1M201.8 194.4h.1M215.6 186.3h.1M208.5 192.2h.1M201.5 179.0h.1M207.2 190.1h.1M219.7 186.3h.1M219.3 193.8h.1M219.1 188.7h.1M211.2 190.4h.1M210.1 190.0h.1M224.3 180.0h.1M214.6 189.6h.1M205.1 181.9h.1M202.0 186.3h.1M209.6 190.1h.1M209.3 188.2h.1M205.8 186.8h.1M200.7 187.4h.1M210.9 183.2h.1M212.1 177.9h.1M208.9 180.5h.1M211.6 184.7h.1M210.6 185.0h.1M202.9 189.8h.1M222.9 192.2h.1M209.0 191.2h.1M225.1 186.0h.1M212.2 189.3h.1M220.3 176.4h.1M220.5 185.8h.1M214.4 186.5h.1M203.1 181.8h.1M209.1 179.3h.1M201.8 187.2h.1M226.5 182.5h.1M207.4 184.3h.1M213.7 181.5h.1M220.9 181.5h.1M208.5 184.2h.1M206.0 180.2h.1M210.2 192.9h.1M227.5 182.6h.1M217.0 188.9h.1M208.0 181.6h.1M216.5 183.4h.1M207.2 188.5h.1M206.3 189.6h.1M205.1 194.9h.1M210.4 179.6h.1M209.0 188.8h.1M210.2 180.7h.1M211.8 187.2h.1M215.2 193.5h.1M204.4 185.5h.1M219.1 185.1h.1M214.2 186.0h.1M225.7 183.1h.1M217.4 184.6h.1M218.2 181.9h.1M206.5 182.6h.1M204.7 185.2h.1M205.8 181.7h.1M220.0 178.9h.1M210.8 190.0h.1M211.2 186.3h.1M209.8 188.1h.1M220.8 188.2h.1M222.0 195.1h.1M207.5 186.7h.1M212.0 183.5h.1M221.9 176.5h.1M211.1 188.1h.1M213.2 188.9h.1M207.7 190.5h.1M212.2 193.2h.1M212.7 184.8h.1M205.9 186.7h.1M216.7 177.5h.1M206.5 189.1h.1M203.5 185.7h.1M213.1 185.4h.1M214.5 187.1h.1M209.6 197.8h.1M219.7 188.6h.1M214.9 183.3h.1M211.4 192.4h.1M221.9 197.0h.1M211.2 188.1h.1M203.8 187.4h.1M214.0 191.5h.1M209.3 188.0h.1M212.7 192.1h.1M198.7 182.6h.1M211.7 181.5h.1M219.0 197.9h.1M209.8 190.2h.1M218.2 183.5h.1M201.9 186.2h.1M211.4 187.8h.1M219.4 187.6h.1M213.0 181.1h.1M221.8 182.7h.1M215.3 185.2h.1M203.0 178.5h.1M215.0 188.5h.1M228.2 184.0h.1M213.7 186.9h.1M202.2 194.5h.1M220.9 181.6h.1M215.6 184.1h.1M216.6 173.9h.1M220.1 187.2h.1M211.2 186.1h.1M207.7 180.4h.1M217.3 179.1h.1M203.7 187.3h.1M218.5 193.9h.1M223.2 194.6h.1M214.7 186.9h.1M210.5 183.3h.1M222.9 181.8h.1M209.0 192.1h.1M212.0 189.9h.1M211.5 189.7h.1M215.1 188.4h.1M216.6 179.3h.1M213.4 189.8h.1M200.1 191.3h.1M206.5 190.9h.1M218.7 189.2h.1M227.1 182.4h.1M216.0 188.5h.1M216.5 183.8h.1M209.7 190.6h.1M217.1 185.1h.1M219.8 179.1h.1M209.6 187.2h.1M204.9 178.5h.1M215.0 190.4h.1M218.5 189.1h.1M221.7 185.8h.1M202.5 191.6h.1M225.6 186.8h.1M213.5 183.8h.1M214.7 187.7h.1M219.6 194.1h.1M225.1 184.4h.1M203.5 182.6h.1M213.4 176.0h.1M212.9 192.0h.1M211.2 186.9h.1M217.1 191.1h.1M209.9 188.0h.1M208.4 182.1h.1M203.9 182.6h.1M215.1 198.0h.1M220.5 184.1h.1M208.0 187.2h.1M216.6 182.3h.1M211.5 188.7h.1M202.8 183.0h.1M219.1 188.7h.1M211.9 195.1h.1M212.4 183.5h.1M219.8 193.8h.1M211.2 188.6h.1M203.1 178.0h.1M206.3 175.4h.1M208.6 185.5h.1M208.9 191.1h.1M224.8 190.1h.1M213.2 183.1h.1M218.9 181.6h.1M213.2 191.9h.1M213.5 182.7h.1M211.7 187.5h.1M223.6 187.7h.1M203.8 193.1h.1M214.1 184.6h.1M214.1 180.3h.1M223.7 192.1h.1M219.9 192.5h.1M218.5 183.6h.1M212.6 193.2h.1M207.7 189.7h.1M216.6 192.1h.1M211.7 194.2h.1M202.8 193.5h.1M217.4 185.1h.1M215.1 192.3h.1M217.9 183.8h.1M207.9 190.6h.1M215.1 185.5h.1M208.5 187.0h.1M211.7 175.9h.1M218.5 188.4h.1M211.8 184.7h.1M209.6 182.6h.1M211.9 193.0h.1M208.8 198.6h.1M224.7 192.9h.1M216.5 192.7h.1M214.3 187.7h.1M221.0 193.1h.1M200.8 192.0h.1M208.8 184.3h.1M208.1 195.3h.1M212.1 184.9h.1M216.6 191.3h.1M214.0 179.1h.1M216.7 194.3h.1M204.9 196.4h.1M199.2 182.7h.1M213.5 178.0h.1M213.6 187.4h.1M218.7 181.9h.1M204.8 185.7h.1M220.2 192.6h.1M203.7 189.9h.1M206.1 184.7h.1M217.1 185.4h.1M218.6 192.0h.1M214.0 181.4h.1M218.3 181.9h.1M209.0 180.3h.1M205.1 184.5h.1M209.8 179.4h.1M210.5 187.2h.1M207.2 188.4h.1M207.9 184.6h.1M213.2 178.6h.1M203.7 186.2h.1M214.1 189.3h.1M221.8 176.1h.1M217.4 180.9h.1M210.7 182.3h.1M212.4 185.9h.1M215.9 182.9h.1M214.2 189.9h.1M206.5 188.9h.1M218.0 180.5h.1M204.6 195.0h.1M206.1 190.6h.1M211.8 192.5h.1M221.7 177.9h.1M217.1 183.3h.1M207.4 181.8h.1M215.7 197.2h.1M211.8 181.4h.1M212.2 188.5h.1M202.5 195.1h.1M218.7 187.7h.1M219.3 192.2h.1M220.5 196.6h.1M220.6 179.4h.1M209.6 178.9h.1M217.5 191.3h.1M215.4 181.7h.1M213.9 192.9h.1M222.9 182.1h.1M209.6 183.7h.1M213.5 177.0h.1M222.4 188.5h.1M221.1 184.1h.1M207.3 190.8h.1M215.3 190.4h.1M216.4 179.2h.1M221.7 190.0h.1M218.9 189.5h.1M213.8 196.2h.1M220.9 189.0h.1M213.4 186.5h.1M219.9 183.5h.1M224.2 185.6h.1M208.1 183.9h.1M224.6 184.6h.1M219.9 187.0h.1M213.9 184.7h.1M215.2 196.1h.1M210.7 183.4h.1M218.1 184.1h.1M213.9 180.3h.1M226.6 183.1h.1M206.3 192.2h.1M215.1 182.6h.1M215.5 193.8h.1M215.0 180.5h.1M199.3 184.9h.1M207.1 187.8h.1M223.4 191.9h.1M211.6 191.0h.1M218.9 183.7h.1M216.8 185.6h.1M209.1 189.3h.1M204.9 178.3h.1M222.6 191.3h.1M211.6 190.8h.1M222.0 192.0h.1M206.8 184.9h.1M219.0 188.5h.1M215.1 188.6h.1M213.9 186.2h.1M208.2 180.0h.1M213.0 187.5h.1M220.2 185.1h.1M212.5 185.2h.1M204.1 188.4h.1M217.3 190.3h.1M221.9 180.2h.1M216.0 180.7h.1M217.6 184.4h.1M211.3 186.2h.1M207.7 186.8h.1M223.0 188.8h.1" stroke="#2f86cc" stroke-width="0.8" stroke-linecap="round" opacity="0.75"/>
<path d="M192.2 193.5h.1M199.4 186.7h.1M191.8 187.1h.1M192.9 189.9h.1M194.0 189.7h.1M195.0 185.9h.1M191.1 185.6h.1M198.6 190.4h.1M196.2 185.8h.1M189.9 186.4h.1M189.0 191.7h.1M187.0 187.4h.1M190.7 183.7h.1M195.8 191.5h.1M190.9 180.3h.1M193.4 189.6h.1M191.1 182.2h.1M188.3 187.4h.1M193.6 188.6h.1M189.4 190.5h.1M196.5 182.4h.1M189.6 181.5h.1M188.4 182.5h.1M195.2 189.2h.1M191.6 190.5h.1M190.9 183.0h.1M186.9 185.3h.1M184.0 186.3h.1M187.7 191.2h.1M192.5 182.7h.1M193.8 181.3h.1M192.7 184.0h.1M190.7 192.0h.1M192.9 184.1h.1M197.1 189.7h.1M195.7 193.3h.1M189.1 187.9h.1M186.3 187.7h.1M195.9 189.6h.1M191.8 186.6h.1M185.4 187.9h.1M194.1 192.1h.1M189.0 184.0h.1M190.3 187.1h.1M192.9 183.7h.1M194.4 187.5h.1M189.6 191.1h.1M188.8 188.9h.1M193.6 186.0h.1M189.6 181.4h.1M196.8 183.3h.1M184.6 189.0h.1M196.7 183.8h.1M192.3 192.6h.1M185.7 187.8h.1M196.4 183.3h.1M183.1 186.7h.1M183.1 186.3h.1M195.5 186.9h.1M188.5 188.9h.1M194.4 189.1h.1M188.8 187.5h.1M192.7 189.2h.1M195.6 180.1h.1M191.0 183.6h.1M189.4 186.7h.1M195.8 185.9h.1M187.0 186.1h.1M196.2 187.3h.1M186.7 183.1h.1M188.6 192.3h.1M196.1 185.9h.1M195.0 188.0h.1M196.8 187.2h.1M192.0 187.1h.1M192.9 182.8h.1M191.8 188.3h.1M192.5 191.4h.1M198.6 181.5h.1M190.7 191.8h.1M196.1 191.2h.1M188.0 190.0h.1M186.8 190.1h.1M195.6 183.1h.1M198.3 187.4h.1M194.6 188.7h.1M197.5 191.9h.1M188.6 189.1h.1M188.6 187.5h.1M193.4 182.0h.1M188.7 186.2h.1M191.8 184.8h.1M187.6 179.9h.1M191.5 189.4h.1M192.4 180.5h.1M193.2 184.2h.1M189.7 189.3h.1M193.9 185.5h.1M184.9 185.1h.1M198.8 183.4h.1M194.5 184.7h.1M188.0 191.9h.1M192.3 189.6h.1M187.3 183.8h.1M190.5 185.0h.1M187.9 195.0h.1M190.7 189.8h.1M194.9 193.3h.1M186.5 179.9h.1M189.1 178.7h.1M189.0 192.2h.1M193.7 187.7h.1M191.7 181.9h.1M184.2 184.2h.1M194.3 182.7h.1M186.6 187.5h.1M192.1 185.3h.1M191.6 188.4h.1M186.3 181.0h.1M188.9 190.0h.1M185.0 190.0h.1M192.3 193.5h.1M190.2 191.1h.1M191.9 185.6h.1M183.6 191.4h.1M189.0 191.0h.1M191.1 188.9h.1M191.8 187.1h.1M195.1 188.6h.1M185.2 186.0h.1M193.7 193.8h.1M194.9 182.5h.1M190.7 183.8h.1M187.4 182.7h.1M187.8 193.2h.1M189.2 186.2h.1M188.1 190.2h.1M192.2 188.1h.1M192.6 184.8h.1M192.8 182.5h.1M198.5 186.2h.1M185.9 192.9h.1M191.0 188.1h.1M194.2 186.4h.1M196.3 179.4h.1M195.2 179.4h.1M189.6 190.8h.1M185.6 187.7h.1M195.7 190.3h.1M191.7 185.9h.1M188.0 186.7h.1M190.7 185.0h.1M191.4 182.2h.1M196.0 186.4h.1M194.6 191.5h.1M199.1 184.4h.1M190.8 191.0h.1M190.5 187.3h.1M186.9 193.0h.1M186.0 181.0h.1M196.4 186.9h.1M191.8 184.9h.1M187.7 186.9h.1M190.2 192.2h.1M187.3 189.5h.1M193.0 185.5h.1M186.3 187.4h.1M187.1 185.9h.1M190.8 189.5h.1M195.9 182.6h.1M197.1 182.3h.1M183.7 187.5h.1M198.4 187.6h.1M188.3 188.2h.1M188.9 184.2h.1M190.8 181.4h.1M190.0 182.4h.1M189.6 182.9h.1M196.9 193.8h.1M196.0 185.6h.1" stroke="#d8343a" stroke-width="0.8" stroke-linecap="round" opacity="0.75"/>
<path d="M204.7 215.0h.1M212.3 210.2h.1M212.5 213.7h.1M206.1 209.5h.1M210.5 214.5h.1M209.5 214.2h.1M211.6 212.8h.1M206.7 214.5h.1M208.8 217.0h.1M205.3 212.2h.1M206.6 213.3h.1M210.0 214.9h.1M210.6 213.9h.1M208.8 213.9h.1M211.4 213.7h.1M207.3 218.2h.1M210.8 209.8h.1M209.7 210.5h.1M211.1 211.6h.1M210.6 217.2h.1M208.5 218.8h.1M207.7 214.1h.1M210.1 216.4h.1M212.1 214.4h.1M206.6 215.1h.1" stroke="#90b8e0" stroke-width="0.8" stroke-linecap="round" opacity="0.75"/>
<path d="M232.6 214.7h.1M228.3 213.0h.1M233.6 213.4h.1M229.6 213.7h.1M227.9 215.1h.1M227.4 214.8h.1M230.1 215.9h.1M230.3 213.6h.1" stroke="#e8a0a8" stroke-width="0.8" stroke-linecap="round" opacity="0.75"/>
<text x="193.00" y="158.40" font-size="3.2" font-weight="bold" fill="#000">pre-B</text>
<text x="205.40" y="152.50" font-size="3.2" font-weight="bold" fill="#000">pre-B/D</text>
<text x="228.50" y="147.50" font-size="3.2" font-weight="bold" fill="#000">pre-DC</text>
<text x="213.00" y="173.80" font-size="3.2" font-weight="bold" fill="#000">lyM</text>
<text x="203.00" y="176.40" font-size="3.2" font-weight="bold" fill="#000">HSC2</text>
<text x="228.50" y="169.20" font-size="3.2" font-weight="bold" fill="#000">MPP 1</text>
<text x="259.00" y="170.00" font-size="3.2" font-weight="bold" fill="#000">GMP</text>
<text x="236.00" y="178.70" font-size="3.2" font-weight="bold" fill="#000">MPP 2</text>
<text x="204.60" y="188.00" font-size="3.2" font-weight="bold" fill="#000">HSC 1</text>
<text x="189.20" y="187.00" font-size="3.2" font-weight="bold" fill="#000">HSC0</text>
<text x="196.00" y="201.50" font-size="3.2" font-weight="bold" fill="#000">Mk</text>
<text x="227.00" y="194.80" font-size="3.2" font-weight="bold" fill="#000">GMP</text>
<text x="276.00" y="190.00" font-size="3.2" font-weight="bold" fill="#000">Gran</text>
<text x="205.40" y="214.80" font-size="3.2" font-weight="bold" fill="#000">Ery</text>
<text x="226.00" y="214.80" font-size="3.2" font-weight="bold" fill="#000">Mast</text>
</svg>
<rect x="177.30" y="138.10" width="121.80" height="85.30" fill="none" stroke="#2a2a2a" stroke-width="1.3"/>
<text x="238.20" y="134.40" font-size="8.6" text-anchor="middle" font-weight="normal" textLength="33.00" lengthAdjust="spacingAndGlyphs">TKI + HIFi</text>
<text x="238.20" y="234.80" font-size="8.6" text-anchor="middle" fill="#333" stroke="#333" stroke-width="0.155" textLength="21.60" lengthAdjust="spacingAndGlyphs">UMAP1</text>
<text x="174.00" y="180.75" font-size="8.6" text-anchor="middle" fill="#333" stroke="#333" stroke-width="0.155" textLength="22.30" lengthAdjust="spacingAndGlyphs" transform="rotate(-90 174.00 180.75)">UMAP2</text>
<text x="314.80" y="16.00" font-size="11" font-weight="bold" fill="#111" stroke="#111" stroke-width="0.35">B</text>
<line x1="354.00" y1="22.25" x2="354.00" y2="91.50" stroke="#222" stroke-width="1.15"/>
<line x1="351.50" y1="91.00" x2="354.00" y2="91.00" stroke="#222" stroke-width="0.8"/>
<text x="348.00" y="93.23" font-size="6.2" text-anchor="end" fill="#333" stroke="#333" stroke-width="0.112" textLength="3.40" lengthAdjust="spacingAndGlyphs">0</text>
<line x1="351.50" y1="77.55" x2="354.00" y2="77.55" stroke="#222" stroke-width="0.8"/>
<text x="348.00" y="79.78" font-size="6.2" text-anchor="end" fill="#333" stroke="#333" stroke-width="0.112" textLength="3.40" lengthAdjust="spacingAndGlyphs">5</text>
<line x1="351.50" y1="64.10" x2="354.00" y2="64.10" stroke="#222" stroke-width="0.8"/>
<text x="348.00" y="66.33" font-size="6.2" text-anchor="end" fill="#333" stroke="#333" stroke-width="0.112" textLength="6.80" lengthAdjust="spacingAndGlyphs">10</text>
<line x1="351.50" y1="50.65" x2="354.00" y2="50.65" stroke="#222" stroke-width="0.8"/>
<text x="348.00" y="52.88" font-size="6.2" text-anchor="end" fill="#333" stroke="#333" stroke-width="0.112" textLength="6.80" lengthAdjust="spacingAndGlyphs">15</text>
<line x1="351.50" y1="37.20" x2="354.00" y2="37.20" stroke="#222" stroke-width="0.8"/>
<text x="348.00" y="39.43" font-size="6.2" text-anchor="end" fill="#333" stroke="#333" stroke-width="0.112" textLength="6.80" lengthAdjust="spacingAndGlyphs">20</text>
<line x1="351.50" y1="23.75" x2="354.00" y2="23.75" stroke="#222" stroke-width="0.8"/>
<text x="348.00" y="25.98" font-size="6.2" text-anchor="end" fill="#333" stroke="#333" stroke-width="0.112" textLength="6.80" lengthAdjust="spacingAndGlyphs">25</text>
<line x1="354.00" y1="91.00" x2="464.00" y2="91.00" stroke="#222" stroke-width="0.9"/>
<line x1="362.10" y1="91.00" x2="362.10" y2="93.20" stroke="#222" stroke-width="0.8"/>
<rect x="354.55" y="68.54" width="2.90" height="22.46" fill="#8e98c8"/>
<circle cx="356.00" cy="68.54" r="1.4" fill="#1c2450"/>
<rect x="358.62" y="59.53" width="2.90" height="31.47" fill="#eda096"/>
<circle cx="360.07" cy="59.53" r="1.4" fill="#8c1020"/>
<rect x="362.69" y="69.75" width="2.90" height="21.25" fill="#b2dca2"/>
<circle cx="364.14" cy="69.75" r="1.4" fill="#2a7a30"/>
<rect x="366.76" y="75.29" width="2.90" height="15.71" fill="#ad92bc"/>
<circle cx="368.21" cy="75.29" r="1.4" fill="#2c1440"/>
<text x="366.00" y="101.40" font-size="6.5" text-anchor="end" fill="#333" stroke="#333" stroke-width="0.117" transform="rotate(-45 366.00 101.40)">qHSC</text>
<line x1="380.70" y1="91.00" x2="380.70" y2="93.20" stroke="#222" stroke-width="0.8"/>
<rect x="373.15" y="60.87" width="2.90" height="30.13" fill="#8e98c8"/>
<circle cx="374.60" cy="60.87" r="1.4" fill="#1c2450"/>
<rect x="377.22" y="58.99" width="2.90" height="32.01" fill="#eda096"/>
<circle cx="378.67" cy="58.99" r="1.4" fill="#8c1020"/>
<rect x="381.29" y="50.92" width="2.90" height="40.08" fill="#b2dca2"/>
<circle cx="382.74" cy="50.92" r="1.4" fill="#2a7a30"/>
<rect x="385.36" y="37.20" width="2.90" height="53.80" fill="#ad92bc"/>
<circle cx="386.81" cy="37.20" r="1.4" fill="#2c1440"/>
<text x="384.60" y="101.40" font-size="6.5" text-anchor="end" fill="#333" stroke="#333" stroke-width="0.117" transform="rotate(-45 384.60 101.40)">cHSC</text>
<line x1="399.30" y1="91.00" x2="399.30" y2="93.20" stroke="#222" stroke-width="0.8"/>
<rect x="391.75" y="37.20" width="2.90" height="53.80" fill="#8e98c8"/>
<circle cx="393.20" cy="37.20" r="1.4" fill="#1c2450"/>
<rect x="395.82" y="61.68" width="2.90" height="29.32" fill="#eda096"/>
<circle cx="397.27" cy="61.68" r="1.4" fill="#8c1020"/>
<rect x="399.89" y="50.92" width="2.90" height="40.08" fill="#b2dca2"/>
<circle cx="401.34" cy="50.92" r="1.4" fill="#2a7a30"/>
<rect x="403.96" y="64.64" width="2.90" height="26.36" fill="#ad92bc"/>
<circle cx="405.41" cy="64.64" r="1.4" fill="#2c1440"/>
<text x="403.20" y="101.40" font-size="6.5" text-anchor="end" fill="#333" stroke="#333" stroke-width="0.117" transform="rotate(-45 403.20 101.40)">MPP</text>
<line x1="417.90" y1="91.00" x2="417.90" y2="93.20" stroke="#222" stroke-width="0.8"/>
<rect x="410.35" y="50.92" width="2.90" height="40.08" fill="#8e98c8"/>
<circle cx="411.80" cy="50.92" r="1.4" fill="#1c2450"/>
<rect x="414.42" y="77.55" width="2.90" height="13.45" fill="#eda096"/>
<circle cx="415.87" cy="77.55" r="1.4" fill="#8c1020"/>
<rect x="418.49" y="69.48" width="2.90" height="21.52" fill="#b2dca2"/>
<circle cx="419.94" cy="69.48" r="1.4" fill="#2a7a30"/>
<rect x="422.56" y="77.55" width="2.90" height="13.45" fill="#ad92bc"/>
<circle cx="424.01" cy="77.55" r="1.4" fill="#2c1440"/>
<text x="421.80" y="101.40" font-size="6.5" text-anchor="end" fill="#333" stroke="#333" stroke-width="0.117" transform="rotate(-45 421.80 101.40)">GMP</text>
<line x1="436.50" y1="91.00" x2="436.50" y2="93.20" stroke="#222" stroke-width="0.8"/>
<rect x="428.95" y="71.36" width="2.90" height="19.64" fill="#8e98c8"/>
<circle cx="430.40" cy="71.36" r="1.4" fill="#1c2450"/>
<rect x="433.02" y="64.10" width="2.90" height="26.90" fill="#eda096"/>
<circle cx="434.47" cy="64.10" r="1.4" fill="#8c1020"/>
<rect x="437.09" y="64.10" width="2.90" height="26.90" fill="#b2dca2"/>
<circle cx="438.54" cy="64.10" r="1.4" fill="#2a7a30"/>
<rect x="441.16" y="61.41" width="2.90" height="29.59" fill="#ad92bc"/>
<circle cx="442.61" cy="61.41" r="1.4" fill="#2c1440"/>
<text x="440.40" y="101.40" font-size="6.5" text-anchor="end" fill="#333" stroke="#333" stroke-width="0.117" transform="rotate(-45 440.40 101.40)">Mk</text>
<line x1="455.10" y1="91.00" x2="455.10" y2="93.20" stroke="#222" stroke-width="0.8"/>
<rect x="447.55" y="87.50" width="2.90" height="3.50" fill="#8e98c8"/>
<circle cx="449.00" cy="87.50" r="1.4" fill="#1c2450"/>
<rect x="451.62" y="77.55" width="2.90" height="13.45" fill="#eda096"/>
<circle cx="453.07" cy="77.55" r="1.4" fill="#8c1020"/>
<rect x="455.69" y="85.62" width="2.90" height="5.38" fill="#b2dca2"/>
<circle cx="457.14" cy="85.62" r="1.4" fill="#2a7a30"/>
<rect x="459.76" y="88.31" width="2.90" height="2.69" fill="#ad92bc"/>
<circle cx="461.21" cy="88.31" r="1.4" fill="#2c1440"/>
<text x="459.00" y="101.40" font-size="6.5" text-anchor="end" fill="#333" stroke="#333" stroke-width="0.117" transform="rotate(-45 459.00 101.40)">Ery</text>
<text x="333.60" y="56.50" font-size="6.8" text-anchor="middle" fill="#333" stroke="#333" stroke-width="0.122" textLength="32.30" lengthAdjust="spacingAndGlyphs" transform="rotate(-90 333.60 56.50)">Percentage</text>
<circle cx="467.70" cy="23.80" r="1.15" fill="#1a2a48"/>
<text x="472.60" y="25.60" font-size="6.2" stroke="#2a2a2a" stroke-width="0.112" textLength="18.22" lengthAdjust="spacingAndGlyphs">Vehicle</text>
<circle cx="467.70" cy="32.60" r="1.15" fill="#8a1024"/>
<text x="472.60" y="34.40" font-size="6.2" stroke="#2a2a2a" stroke-width="0.112" textLength="8.79" lengthAdjust="spacingAndGlyphs">TKI</text>
<circle cx="467.70" cy="41.50" r="1.15" fill="#2a7a34"/>
<text x="472.60" y="43.30" font-size="6.2" stroke="#2a2a2a" stroke-width="0.112" textLength="10.36" lengthAdjust="spacingAndGlyphs">HIFi</text>
<circle cx="467.70" cy="50.30" r="1.15" fill="#220a30"/>
<text x="472.60" y="52.10" font-size="6.2" stroke="#2a2a2a" stroke-width="0.112" textLength="22.45" lengthAdjust="spacingAndGlyphs">TKI+HIFi</text>
<text x="314.60" y="135.20" font-size="11" font-weight="bold" fill="#111" stroke="#111" stroke-width="0.35">C</text>
<line x1="341.40" y1="160.10" x2="341.40" y2="224.10" stroke="#222" stroke-width="1.15"/>
<line x1="338.90" y1="223.60" x2="341.40" y2="223.60" stroke="#222" stroke-width="0.8"/>
<text x="335.60" y="226.23" font-size="7.3" text-anchor="end" fill="#333" stroke="#333" stroke-width="0.131" textLength="3.40" lengthAdjust="spacingAndGlyphs">0</text>
<line x1="338.90" y1="208.10" x2="341.40" y2="208.10" stroke="#222" stroke-width="0.8"/>
<text x="335.60" y="210.73" font-size="7.3" text-anchor="end" fill="#333" stroke="#333" stroke-width="0.131" textLength="3.40" lengthAdjust="spacingAndGlyphs">2</text>
<line x1="338.90" y1="192.60" x2="341.40" y2="192.60" stroke="#222" stroke-width="0.8"/>
<text x="335.60" y="195.23" font-size="7.3" text-anchor="end" fill="#333" stroke="#333" stroke-width="0.131" textLength="3.40" lengthAdjust="spacingAndGlyphs">4</text>
<line x1="338.90" y1="177.10" x2="341.40" y2="177.10" stroke="#222" stroke-width="0.8"/>
<text x="335.60" y="179.73" font-size="7.3" text-anchor="end" fill="#333" stroke="#333" stroke-width="0.131" textLength="3.40" lengthAdjust="spacingAndGlyphs">6</text>
<line x1="338.90" y1="161.60" x2="341.40" y2="161.60" stroke="#222" stroke-width="0.8"/>
<text x="335.60" y="164.23" font-size="7.3" text-anchor="end" fill="#333" stroke="#333" stroke-width="0.131" textLength="3.40" lengthAdjust="spacingAndGlyphs">8</text>
<rect x="346.50" y="194.92" width="8.10" height="28.68" fill="#8898c8"/>
<rect x="360.00" y="183.69" width="8.00" height="39.91" fill="#eb8b80"/>
<rect x="373.30" y="204.22" width="7.90" height="19.38" fill="#acd89c"/>
<rect x="386.70" y="203.45" width="7.90" height="20.15" fill="#a587bb"/>
<rect x="409.20" y="182.22" width="8.10" height="41.38" fill="#8898c8"/>
<rect x="422.40" y="187.95" width="8.10" height="35.65" fill="#eb8b80"/>
<rect x="435.80" y="166.25" width="8.00" height="57.35" fill="#acd89c"/>
<rect x="449.20" y="168.19" width="7.80" height="55.41" fill="#a587bb"/>
<line x1="350.55" y1="194.92" x2="350.55" y2="191.82" stroke="#1b3c7a" stroke-width="0.8"/>
<line x1="348.95" y1="191.82" x2="352.15" y2="191.82" stroke="#1b3c7a" stroke-width="0.9"/>
<circle cx="350.55" cy="189.11" r="1.15" fill="#1b3c7a"/>
<circle cx="347.47" cy="192.21" r="1.15" fill="#1b3c7a"/>
<circle cx="353.63" cy="192.21" r="1.15" fill="#1b3c7a"/>
<circle cx="350.55" cy="193.76" r="1.15" fill="#1b3c7a"/>
<circle cx="350.55" cy="206.55" r="1.15" fill="#1b3c7a"/>
<line x1="364.00" y1="183.69" x2="364.00" y2="180.97" stroke="#c4122e" stroke-width="0.8"/>
<line x1="362.40" y1="180.97" x2="365.60" y2="180.97" stroke="#c4122e" stroke-width="0.9"/>
<circle cx="361.60" cy="180.59" r="1.15" fill="#c4122e"/>
<circle cx="364.00" cy="180.59" r="1.15" fill="#c4122e"/>
<circle cx="366.40" cy="180.59" r="1.15" fill="#c4122e"/>
<circle cx="364.00" cy="184.07" r="1.15" fill="#c4122e"/>
<circle cx="364.00" cy="192.60" r="1.15" fill="#c4122e"/>
<line x1="377.25" y1="204.22" x2="377.25" y2="202.29" stroke="#3fae3f" stroke-width="0.8"/>
<line x1="375.65" y1="202.29" x2="378.85" y2="202.29" stroke="#3fae3f" stroke-width="0.9"/>
<circle cx="377.25" cy="199.96" r="1.15" fill="#3fae3f"/>
<circle cx="374.64" cy="203.45" r="1.15" fill="#3fae3f"/>
<circle cx="379.86" cy="203.45" r="1.15" fill="#3fae3f"/>
<circle cx="377.25" cy="205.39" r="1.15" fill="#3fae3f"/>
<circle cx="376.30" cy="204.61" r="1.15" fill="#3fae3f"/>
<line x1="390.65" y1="203.45" x2="390.65" y2="202.67" stroke="#3d1656" stroke-width="0.8"/>
<line x1="389.05" y1="202.67" x2="392.25" y2="202.67" stroke="#3d1656" stroke-width="0.9"/>
<circle cx="388.04" cy="202.67" r="1.15" fill="#3d1656"/>
<circle cx="389.70" cy="202.06" r="1.15" fill="#3d1656"/>
<circle cx="391.60" cy="202.06" r="1.15" fill="#3d1656"/>
<circle cx="393.26" cy="202.83" r="1.15" fill="#3d1656"/>
<circle cx="390.65" cy="203.84" r="1.15" fill="#3d1656"/>
<line x1="413.25" y1="182.22" x2="413.25" y2="177.10" stroke="#1b3c7a" stroke-width="0.8"/>
<line x1="411.65" y1="177.10" x2="414.85" y2="177.10" stroke="#1b3c7a" stroke-width="0.9"/>
<circle cx="413.25" cy="166.64" r="1.15" fill="#1b3c7a"/>
<circle cx="410.58" cy="182.91" r="1.15" fill="#1b3c7a"/>
<circle cx="415.92" cy="182.91" r="1.15" fill="#1b3c7a"/>
<circle cx="413.25" cy="184.46" r="1.15" fill="#1b3c7a"/>
<circle cx="412.03" cy="181.75" r="1.15" fill="#1b3c7a"/>
<circle cx="414.47" cy="181.36" r="1.15" fill="#1b3c7a"/>
<line x1="426.45" y1="187.95" x2="426.45" y2="184.85" stroke="#c4122e" stroke-width="0.8"/>
<line x1="424.85" y1="184.85" x2="428.05" y2="184.85" stroke="#c4122e" stroke-width="0.9"/>
<circle cx="426.45" cy="177.10" r="1.15" fill="#c4122e"/>
<circle cx="423.78" cy="187.56" r="1.15" fill="#c4122e"/>
<circle cx="429.12" cy="187.56" r="1.15" fill="#c4122e"/>
<circle cx="426.45" cy="189.11" r="1.15" fill="#c4122e"/>
<circle cx="426.45" cy="190.66" r="1.15" fill="#c4122e"/>
<line x1="439.80" y1="166.25" x2="439.80" y2="165.47" stroke="#3fae3f" stroke-width="0.8"/>
<line x1="438.20" y1="165.47" x2="441.40" y2="165.47" stroke="#3fae3f" stroke-width="0.9"/>
<circle cx="437.40" cy="165.47" r="1.15" fill="#3fae3f"/>
<circle cx="439.80" cy="165.09" r="1.15" fill="#3fae3f"/>
<circle cx="442.20" cy="165.47" r="1.15" fill="#3fae3f"/>
<circle cx="439.80" cy="167.80" r="1.15" fill="#3fae3f"/>
<circle cx="438.60" cy="166.64" r="1.15" fill="#3fae3f"/>
<line x1="453.10" y1="168.19" x2="453.10" y2="167.03" stroke="#3d1656" stroke-width="0.8"/>
<line x1="451.50" y1="167.03" x2="454.70" y2="167.03" stroke="#3d1656" stroke-width="0.9"/>
<circle cx="450.53" cy="167.41" r="1.15" fill="#3d1656"/>
<circle cx="452.32" cy="167.03" r="1.15" fill="#3d1656"/>
<circle cx="454.04" cy="167.03" r="1.15" fill="#3d1656"/>
<circle cx="455.67" cy="167.80" r="1.15" fill="#3d1656"/>
<circle cx="453.10" cy="168.96" r="1.15" fill="#3d1656"/>
<line x1="340.90" y1="223.60" x2="461.80" y2="223.60" stroke="#222" stroke-width="1.15"/>
<line x1="370.30" y1="223.60" x2="370.30" y2="225.80" stroke="#222" stroke-width="0.8"/>
<text x="370.30" y="234.50" font-size="6.2" text-anchor="middle" fill="#333" stroke="#333" stroke-width="0.112">LTHSC-dormant</text>
<line x1="432.80" y1="223.60" x2="432.80" y2="225.80" stroke="#222" stroke-width="0.8"/>
<text x="432.80" y="234.50" font-size="6.2" text-anchor="middle" fill="#333" stroke="#333" stroke-width="0.112">LTHSC-cycling</text>
<path d="M350.10 143.10V135.30H390.60V154.40" fill="none" stroke="#333" stroke-width="0.9"/>
<text x="368.25" y="135.00" font-size="7.6" text-anchor="middle" font-weight="bold" fill="#222">*</text>
<text x="372.45" y="135.00" font-size="7.6" text-anchor="middle" font-weight="bold" fill="#222">*</text>
<path d="M350.10 150.10V146.80H377.40V150.10" fill="none" stroke="#333" stroke-width="0.9"/>
<text x="361.65" y="146.50" font-size="7.6" text-anchor="middle" font-weight="bold" fill="#222">*</text>
<text x="365.85" y="146.50" font-size="7.6" text-anchor="middle" font-weight="bold" fill="#222">*</text>
<path d="M350.10 187.50V158.70H362.50V177.50" fill="none" stroke="#333" stroke-width="0.9"/>
<text x="352.10" y="158.40" font-size="7.6" text-anchor="middle" font-weight="bold" fill="#222">*</text>
<text x="356.30" y="158.40" font-size="7.6" text-anchor="middle" font-weight="bold" fill="#222">*</text>
<text x="360.50" y="158.40" font-size="7.6" text-anchor="middle" font-weight="bold" fill="#222">*</text>
<path d="M364.70 177.50V158.70H390.60V199.00" fill="none" stroke="#333" stroke-width="0.9"/>
<text x="371.35" y="158.40" font-size="7.6" text-anchor="middle" font-weight="bold" fill="#222">*</text>
<text x="375.55" y="158.40" font-size="7.6" text-anchor="middle" font-weight="bold" fill="#222">*</text>
<text x="379.75" y="158.40" font-size="7.6" text-anchor="middle" font-weight="bold" fill="#222">*</text>
<text x="383.95" y="158.40" font-size="7.6" text-anchor="middle" font-weight="bold" fill="#222">*</text>
<path d="M412.40 154.30V135.20H452.80V142.80" fill="none" stroke="#333" stroke-width="0.9"/>
<text x="426.30" y="134.90" font-size="7.6" text-anchor="middle" font-weight="bold" fill="#222">*</text>
<text x="430.50" y="134.90" font-size="7.6" text-anchor="middle" font-weight="bold" fill="#222">*</text>
<text x="434.70" y="134.90" font-size="7.6" text-anchor="middle" font-weight="bold" fill="#222">*</text>
<text x="438.90" y="134.90" font-size="7.6" text-anchor="middle" font-weight="bold" fill="#222">*</text>
<path d="M425.90 150.50V146.90H452.80V161.50" fill="none" stroke="#333" stroke-width="0.9"/>
<text x="433.05" y="146.60" font-size="7.6" text-anchor="middle" font-weight="bold" fill="#222">*</text>
<text x="437.25" y="146.60" font-size="7.6" text-anchor="middle" font-weight="bold" fill="#222">*</text>
<text x="441.45" y="146.60" font-size="7.6" text-anchor="middle" font-weight="bold" fill="#222">*</text>
<text x="445.65" y="146.60" font-size="7.6" text-anchor="middle" font-weight="bold" fill="#222">*</text>
<path d="M412.40 166.00V158.50H439.30V162.00" fill="none" stroke="#333" stroke-width="0.9"/>
<text x="419.55" y="158.20" font-size="7.6" text-anchor="middle" font-weight="bold" fill="#222">*</text>
<text x="423.75" y="158.20" font-size="7.6" text-anchor="middle" font-weight="bold" fill="#222">*</text>
<text x="427.95" y="158.20" font-size="7.6" text-anchor="middle" font-weight="bold" fill="#222">*</text>
<text x="432.15" y="158.20" font-size="7.6" text-anchor="middle" font-weight="bold" fill="#222">*</text>
<text x="326.70" y="191.20" font-size="6.9" text-anchor="middle" fill="#333" stroke="#333" stroke-width="0.124" textLength="40.00" lengthAdjust="spacingAndGlyphs" transform="rotate(-90 326.70 191.20)">% of LSK cells</text>
<circle cx="464.60" cy="167.30" r="1.15" fill="#1a2a48"/>
<text x="469.20" y="169.10" font-size="6.2" stroke="#2a2a2a" stroke-width="0.112" textLength="18.22" lengthAdjust="spacingAndGlyphs">Vehicle</text>
<circle cx="464.60" cy="176.10" r="1.15" fill="#8a1024"/>
<text x="469.20" y="177.90" font-size="6.2" stroke="#2a2a2a" stroke-width="0.112" textLength="8.79" lengthAdjust="spacingAndGlyphs">TKI</text>
<circle cx="464.60" cy="185.10" r="1.15" fill="#2a7a34"/>
<text x="469.20" y="186.90" font-size="6.2" stroke="#2a2a2a" stroke-width="0.112" textLength="10.36" lengthAdjust="spacingAndGlyphs">HIFi</text>
<circle cx="464.60" cy="193.80" r="1.15" fill="#220a30"/>
<text x="469.20" y="195.60" font-size="6.2" stroke="#2a2a2a" stroke-width="0.112" textLength="22.45" lengthAdjust="spacingAndGlyphs">TKI+HIFi</text>
<text x="24.80" y="261.20" font-size="11" font-weight="bold" fill="#111" stroke="#111" stroke-width="0.35">D</text>
<line x1="66.30" y1="303.80" x2="66.30" y2="366.10" stroke="#222" stroke-width="1.15"/>
<line x1="63.80" y1="365.60" x2="66.30" y2="365.60" stroke="#222" stroke-width="0.8"/>
<text x="60.60" y="368.08" font-size="6.9" text-anchor="end" fill="#333" stroke="#333" stroke-width="0.124" textLength="3.13" lengthAdjust="spacingAndGlyphs">0</text>
<line x1="63.80" y1="353.54" x2="66.30" y2="353.54" stroke="#222" stroke-width="0.8"/>
<text x="60.60" y="356.02" font-size="6.9" text-anchor="end" fill="#333" stroke="#333" stroke-width="0.124" textLength="6.26" lengthAdjust="spacingAndGlyphs">20</text>
<line x1="63.80" y1="341.48" x2="66.30" y2="341.48" stroke="#222" stroke-width="0.8"/>
<text x="60.60" y="343.96" font-size="6.9" text-anchor="end" fill="#333" stroke="#333" stroke-width="0.124" textLength="6.26" lengthAdjust="spacingAndGlyphs">40</text>
<line x1="63.80" y1="329.42" x2="66.30" y2="329.42" stroke="#222" stroke-width="0.8"/>
<text x="60.60" y="331.90" font-size="6.9" text-anchor="end" fill="#333" stroke="#333" stroke-width="0.124" textLength="6.26" lengthAdjust="spacingAndGlyphs">60</text>
<line x1="63.80" y1="317.36" x2="66.30" y2="317.36" stroke="#222" stroke-width="0.8"/>
<text x="60.60" y="319.84" font-size="6.9" text-anchor="end" fill="#333" stroke="#333" stroke-width="0.124" textLength="6.26" lengthAdjust="spacingAndGlyphs">80</text>
<line x1="63.80" y1="305.30" x2="66.30" y2="305.30" stroke="#222" stroke-width="0.8"/>
<text x="60.60" y="307.78" font-size="6.9" text-anchor="end" fill="#333" stroke="#333" stroke-width="0.124" textLength="9.39" lengthAdjust="spacingAndGlyphs">100</text>
<rect x="68.80" y="322.18" width="6.40" height="43.42" fill="#8898c8"/>
<rect x="78.00" y="317.36" width="6.20" height="48.24" fill="#eb8b80"/>
<rect x="87.00" y="349.32" width="6.50" height="16.28" fill="#acd89c"/>
<rect x="95.80" y="356.56" width="6.20" height="9.05" fill="#a587bb"/>
<rect x="110.80" y="356.56" width="5.90" height="9.05" fill="#8898c8"/>
<rect x="119.70" y="357.16" width="5.80" height="8.44" fill="#eb8b80"/>
<rect x="128.80" y="347.51" width="5.90" height="18.09" fill="#acd89c"/>
<rect x="137.70" y="348.72" width="5.90" height="16.88" fill="#a587bb"/>
<rect x="152.50" y="362.59" width="5.90" height="3.01" fill="#8898c8"/>
<rect x="161.30" y="362.59" width="5.70" height="3.01" fill="#eb8b80"/>
<rect x="170.00" y="339.67" width="6.00" height="25.93" fill="#acd89c"/>
<rect x="179.00" y="334.24" width="6.00" height="31.36" fill="#a587bb"/>
<line x1="72.00" y1="322.18" x2="72.00" y2="320.96" stroke="#1b3c7a" stroke-width="0.8"/>
<line x1="70.40" y1="320.96" x2="73.60" y2="320.96" stroke="#1b3c7a" stroke-width="0.9"/>
<circle cx="70.21" cy="323.22" r="0.95" fill="#1b3c7a"/>
<circle cx="73.79" cy="323.14" r="0.95" fill="#1b3c7a"/>
<circle cx="72.00" cy="318.76" r="0.95" fill="#1b3c7a"/>
<circle cx="71.10" cy="325.91" r="0.95" fill="#1b3c7a"/>
<circle cx="72.90" cy="320.72" r="0.95" fill="#1b3c7a"/>
<circle cx="73.92" cy="325.82" r="0.95" fill="#1b3c7a"/>
<circle cx="70.08" cy="317.72" r="0.95" fill="#1b3c7a"/>
<line x1="81.10" y1="317.36" x2="81.10" y2="316.57" stroke="#c4122e" stroke-width="0.8"/>
<line x1="79.50" y1="316.57" x2="82.70" y2="316.57" stroke="#c4122e" stroke-width="0.9"/>
<circle cx="79.36" cy="317.00" r="0.95" fill="#c4122e"/>
<circle cx="82.84" cy="313.52" r="0.95" fill="#c4122e"/>
<circle cx="81.10" cy="319.13" r="0.95" fill="#c4122e"/>
<circle cx="80.23" cy="316.41" r="0.95" fill="#c4122e"/>
<circle cx="81.97" cy="318.47" r="0.95" fill="#c4122e"/>
<circle cx="82.96" cy="319.83" r="0.95" fill="#c4122e"/>
<circle cx="79.24" cy="317.17" r="0.95" fill="#c4122e"/>
<line x1="90.25" y1="349.32" x2="90.25" y2="347.10" stroke="#3fae3f" stroke-width="0.8"/>
<line x1="88.65" y1="347.10" x2="91.85" y2="347.10" stroke="#3fae3f" stroke-width="0.9"/>
<circle cx="88.43" cy="356.90" r="0.95" fill="#3fae3f"/>
<circle cx="92.07" cy="352.00" r="0.95" fill="#3fae3f"/>
<circle cx="90.25" cy="346.30" r="0.95" fill="#3fae3f"/>
<circle cx="89.34" cy="349.77" r="0.95" fill="#3fae3f"/>
<circle cx="91.16" cy="352.31" r="0.95" fill="#3fae3f"/>
<circle cx="92.20" cy="338.20" r="0.95" fill="#3fae3f"/>
<circle cx="88.30" cy="349.76" r="0.95" fill="#3fae3f"/>
<line x1="98.90" y1="356.56" x2="98.90" y2="355.51" stroke="#3d1656" stroke-width="0.8"/>
<line x1="97.30" y1="355.51" x2="100.50" y2="355.51" stroke="#3d1656" stroke-width="0.9"/>
<circle cx="97.16" cy="358.48" r="0.95" fill="#3d1656"/>
<circle cx="100.64" cy="356.23" r="0.95" fill="#3d1656"/>
<circle cx="98.90" cy="358.29" r="0.95" fill="#3d1656"/>
<circle cx="98.03" cy="357.87" r="0.95" fill="#3d1656"/>
<circle cx="99.77" cy="357.77" r="0.95" fill="#3d1656"/>
<circle cx="100.76" cy="350.60" r="0.95" fill="#3d1656"/>
<circle cx="97.04" cy="356.64" r="0.95" fill="#3d1656"/>
<line x1="113.75" y1="356.56" x2="113.75" y2="354.31" stroke="#1b3c7a" stroke-width="0.8"/>
<line x1="112.15" y1="354.31" x2="115.35" y2="354.31" stroke="#1b3c7a" stroke-width="0.9"/>
<circle cx="112.10" cy="357.64" r="0.95" fill="#1b3c7a"/>
<circle cx="115.40" cy="355.54" r="0.95" fill="#1b3c7a"/>
<circle cx="113.75" cy="349.87" r="0.95" fill="#1b3c7a"/>
<circle cx="112.92" cy="359.33" r="0.95" fill="#1b3c7a"/>
<circle cx="114.58" cy="361.02" r="0.95" fill="#1b3c7a"/>
<circle cx="115.52" cy="347.94" r="0.95" fill="#1b3c7a"/>
<circle cx="111.98" cy="364.55" r="0.95" fill="#1b3c7a"/>
<line x1="122.60" y1="357.16" x2="122.60" y2="355.47" stroke="#c4122e" stroke-width="0.8"/>
<line x1="121.00" y1="355.47" x2="124.20" y2="355.47" stroke="#c4122e" stroke-width="0.9"/>
<circle cx="120.98" cy="357.98" r="0.95" fill="#c4122e"/>
<circle cx="124.22" cy="354.87" r="0.95" fill="#c4122e"/>
<circle cx="122.60" cy="349.99" r="0.95" fill="#c4122e"/>
<circle cx="121.79" cy="359.74" r="0.95" fill="#c4122e"/>
<circle cx="123.41" cy="364.20" r="0.95" fill="#c4122e"/>
<circle cx="124.34" cy="354.88" r="0.95" fill="#c4122e"/>
<circle cx="120.86" cy="358.45" r="0.95" fill="#c4122e"/>
<line x1="131.75" y1="347.51" x2="131.75" y2="345.63" stroke="#3fae3f" stroke-width="0.8"/>
<line x1="130.15" y1="345.63" x2="133.35" y2="345.63" stroke="#3fae3f" stroke-width="0.9"/>
<circle cx="130.10" cy="352.88" r="0.95" fill="#3fae3f"/>
<circle cx="133.40" cy="347.25" r="0.95" fill="#3fae3f"/>
<circle cx="131.75" cy="348.82" r="0.95" fill="#3fae3f"/>
<circle cx="130.92" cy="348.38" r="0.95" fill="#3fae3f"/>
<circle cx="132.58" cy="353.17" r="0.95" fill="#3fae3f"/>
<circle cx="133.52" cy="341.75" r="0.95" fill="#3fae3f"/>
<circle cx="129.98" cy="340.32" r="0.95" fill="#3fae3f"/>
<line x1="140.65" y1="348.72" x2="140.65" y2="347.01" stroke="#3d1656" stroke-width="0.8"/>
<line x1="139.05" y1="347.01" x2="142.25" y2="347.01" stroke="#3d1656" stroke-width="0.9"/>
<circle cx="139.00" cy="348.82" r="0.95" fill="#3d1656"/>
<circle cx="142.30" cy="351.73" r="0.95" fill="#3d1656"/>
<circle cx="140.65" cy="344.59" r="0.95" fill="#3d1656"/>
<circle cx="139.82" cy="346.13" r="0.95" fill="#3d1656"/>
<circle cx="141.48" cy="355.28" r="0.95" fill="#3d1656"/>
<circle cx="142.42" cy="351.78" r="0.95" fill="#3d1656"/>
<circle cx="138.88" cy="342.68" r="0.95" fill="#3d1656"/>
<line x1="155.45" y1="362.59" x2="155.45" y2="362.10" stroke="#1b3c7a" stroke-width="0.8"/>
<line x1="153.85" y1="362.10" x2="157.05" y2="362.10" stroke="#1b3c7a" stroke-width="0.9"/>
<circle cx="153.80" cy="362.63" r="0.95" fill="#1b3c7a"/>
<circle cx="157.10" cy="362.91" r="0.95" fill="#1b3c7a"/>
<circle cx="155.45" cy="362.25" r="0.95" fill="#1b3c7a"/>
<circle cx="154.62" cy="362.55" r="0.95" fill="#1b3c7a"/>
<circle cx="156.28" cy="362.51" r="0.95" fill="#1b3c7a"/>
<circle cx="157.22" cy="364.84" r="0.95" fill="#1b3c7a"/>
<circle cx="153.68" cy="360.40" r="0.95" fill="#1b3c7a"/>
<line x1="164.15" y1="362.59" x2="164.15" y2="361.57" stroke="#c4122e" stroke-width="0.8"/>
<line x1="162.55" y1="361.57" x2="165.75" y2="361.57" stroke="#c4122e" stroke-width="0.9"/>
<circle cx="162.55" cy="363.68" r="0.95" fill="#c4122e"/>
<circle cx="165.75" cy="365.60" r="0.95" fill="#c4122e"/>
<circle cx="164.15" cy="361.33" r="0.95" fill="#c4122e"/>
<circle cx="163.35" cy="363.35" r="0.95" fill="#c4122e"/>
<circle cx="164.95" cy="364.23" r="0.95" fill="#c4122e"/>
<circle cx="165.86" cy="361.12" r="0.95" fill="#c4122e"/>
<circle cx="162.44" cy="357.46" r="0.95" fill="#c4122e"/>
<line x1="173.00" y1="339.67" x2="173.00" y2="335.19" stroke="#3fae3f" stroke-width="0.8"/>
<line x1="171.40" y1="335.19" x2="174.60" y2="335.19" stroke="#3fae3f" stroke-width="0.9"/>
<circle cx="171.32" cy="337.19" r="0.95" fill="#3fae3f"/>
<circle cx="174.68" cy="328.48" r="0.95" fill="#3fae3f"/>
<circle cx="173.00" cy="323.65" r="0.95" fill="#3fae3f"/>
<circle cx="172.16" cy="350.48" r="0.95" fill="#3fae3f"/>
<circle cx="173.84" cy="346.28" r="0.95" fill="#3fae3f"/>
<circle cx="174.80" cy="335.31" r="0.95" fill="#3fae3f"/>
<circle cx="171.20" cy="356.29" r="0.95" fill="#3fae3f"/>
<line x1="182.00" y1="334.24" x2="182.00" y2="331.81" stroke="#3d1656" stroke-width="0.8"/>
<line x1="180.40" y1="331.81" x2="183.60" y2="331.81" stroke="#3d1656" stroke-width="0.9"/>
<circle cx="180.32" cy="338.05" r="0.95" fill="#3d1656"/>
<circle cx="183.68" cy="330.53" r="0.95" fill="#3d1656"/>
<circle cx="182.00" cy="331.73" r="0.95" fill="#3d1656"/>
<circle cx="181.16" cy="333.97" r="0.95" fill="#3d1656"/>
<circle cx="182.84" cy="345.91" r="0.95" fill="#3d1656"/>
<circle cx="183.80" cy="325.42" r="0.95" fill="#3d1656"/>
<circle cx="180.20" cy="334.11" r="0.95" fill="#3d1656"/>
<line x1="65.80" y1="365.60" x2="186.00" y2="365.60" stroke="#222" stroke-width="1.15"/>
<line x1="85.40" y1="365.60" x2="85.40" y2="367.80" stroke="#222" stroke-width="0.8"/>
<text x="85.40" y="377.60" font-size="7.3" text-anchor="middle" fill="#333" stroke="#333" stroke-width="0.131" textLength="8.00" lengthAdjust="spacingAndGlyphs">G0</text>
<line x1="127.20" y1="365.60" x2="127.20" y2="367.80" stroke="#222" stroke-width="0.8"/>
<text x="127.20" y="377.60" font-size="7.3" text-anchor="middle" fill="#333" stroke="#333" stroke-width="0.131" textLength="8.00" lengthAdjust="spacingAndGlyphs">G1</text>
<line x1="168.80" y1="365.60" x2="168.80" y2="367.80" stroke="#222" stroke-width="0.8"/>
<text x="168.80" y="377.60" font-size="7.3" text-anchor="middle" fill="#333" stroke="#333" stroke-width="0.131" textLength="17.00" lengthAdjust="spacingAndGlyphs">SG2M</text>
<path d="M71.60 302.20V283.40H98.60V290.90" fill="none" stroke="#333" stroke-width="0.9"/>
<text x="80.90" y="283.10" font-size="7.6" text-anchor="middle" font-weight="bold" fill="#222">*</text>
<text x="85.10" y="283.10" font-size="7.6" text-anchor="middle" font-weight="bold" fill="#222">*</text>
<text x="89.30" y="283.10" font-size="7.6" text-anchor="middle" font-weight="bold" fill="#222">*</text>
<path d="M80.60 298.00V295.00H98.60V348.00" fill="none" stroke="#333" stroke-width="0.9"/>
<text x="85.40" y="294.70" font-size="7.6" text-anchor="middle" font-weight="bold" fill="#222">*</text>
<text x="89.60" y="294.70" font-size="7.6" text-anchor="middle" font-weight="bold" fill="#222">*</text>
<text x="93.80" y="294.70" font-size="7.6" text-anchor="middle" font-weight="bold" fill="#222">*</text>
<path d="M71.60 314.00V305.80H89.80V336.50" fill="none" stroke="#333" stroke-width="0.9"/>
<text x="78.60" y="305.50" font-size="7.6" text-anchor="middle" font-weight="bold" fill="#222">*</text>
<text x="82.80" y="305.50" font-size="7.6" text-anchor="middle" font-weight="bold" fill="#222">*</text>
<path d="M154.60 303.40V283.30H181.70V291.50" fill="none" stroke="#333" stroke-width="0.9"/>
<text x="163.95" y="283.00" font-size="7.6" text-anchor="middle" font-weight="bold" fill="#222">*</text>
<text x="168.15" y="283.00" font-size="7.6" text-anchor="middle" font-weight="bold" fill="#222">*</text>
<text x="172.35" y="283.00" font-size="7.6" text-anchor="middle" font-weight="bold" fill="#222">*</text>
<path d="M163.40 297.40V294.50H181.70V323.80" fill="none" stroke="#333" stroke-width="0.9"/>
<text x="170.45" y="294.20" font-size="7.6" text-anchor="middle" font-weight="bold" fill="#222">*</text>
<text x="174.65" y="294.20" font-size="7.6" text-anchor="middle" font-weight="bold" fill="#222">*</text>
<path d="M154.60 356.80V305.60H172.40V317.20" fill="none" stroke="#333" stroke-width="0.9"/>
<text x="161.40" y="305.30" font-size="7.6" text-anchor="middle" font-weight="bold" fill="#222">*</text>
<text x="165.60" y="305.30" font-size="7.6" text-anchor="middle" font-weight="bold" fill="#222">*</text>
<text x="44.40" y="333.70" font-size="7.2" text-anchor="middle" fill="#333" stroke="#333" stroke-width="0.130" textLength="21.50" lengthAdjust="spacingAndGlyphs" transform="rotate(-90 44.40 333.70)">% Cells</text>
<circle cx="192.90" cy="308.90" r="1.15" fill="#1a2a48"/>
<text x="197.00" y="310.70" font-size="6.2" stroke="#2a2a2a" stroke-width="0.112" textLength="18.22" lengthAdjust="spacingAndGlyphs">Vehicle</text>
<circle cx="192.90" cy="317.50" r="1.15" fill="#8a1024"/>
<text x="197.00" y="319.30" font-size="6.2" stroke="#2a2a2a" stroke-width="0.112" textLength="8.79" lengthAdjust="spacingAndGlyphs">TKI</text>
<circle cx="192.90" cy="326.20" r="1.15" fill="#2a7a34"/>
<text x="197.00" y="328.00" font-size="6.2" stroke="#2a2a2a" stroke-width="0.112" textLength="10.36" lengthAdjust="spacingAndGlyphs">HIFi</text>
<circle cx="192.90" cy="335.20" r="1.15" fill="#220a30"/>
<text x="197.00" y="337.00" font-size="6.2" stroke="#2a2a2a" stroke-width="0.112" textLength="22.45" lengthAdjust="spacingAndGlyphs">TKI+HIFi</text>
<text x="251.80" y="261.50" font-size="11" font-weight="bold" fill="#111" stroke="#111" stroke-width="0.35">E</text>
<rect x="401.80" y="252.60" width="22.33" height="10.14" fill="#2a2c9c"/>
<rect x="423.83" y="252.60" width="22.33" height="10.14" fill="#c23c14"/>
<rect x="445.86" y="252.60" width="22.33" height="10.14" fill="#d98a3c"/>
<rect x="401.80" y="262.44" width="22.33" height="10.14" fill="#2a2c9c"/>
<rect x="423.83" y="262.44" width="22.33" height="10.14" fill="#d77c34"/>
<rect x="445.86" y="262.44" width="22.33" height="10.14" fill="#d98a3c"/>
<rect x="401.80" y="272.28" width="22.33" height="10.14" fill="#8c8c96"/>
<rect x="423.83" y="272.28" width="22.33" height="10.14" fill="#c9521e"/>
<rect x="445.86" y="272.28" width="22.33" height="10.14" fill="#d98a3c"/>
<rect x="401.80" y="282.12" width="22.33" height="10.14" fill="#7e7e9a"/>
<rect x="423.83" y="282.12" width="22.33" height="10.14" fill="#a9a892"/>
<rect x="445.86" y="282.12" width="22.33" height="10.14" fill="#d98a3c"/>
<rect x="401.80" y="291.96" width="22.33" height="10.14" fill="#8a8a96"/>
<rect x="423.83" y="291.96" width="22.33" height="10.14" fill="#c8c08c"/>
<rect x="445.86" y="291.96" width="22.33" height="10.14" fill="#d98a3c"/>
<rect x="401.80" y="301.80" width="22.33" height="10.14" fill="#8c8c94"/>
<rect x="423.83" y="301.80" width="22.33" height="10.14" fill="#e2b44a"/>
<rect x="445.86" y="301.80" width="22.33" height="10.14" fill="#d98a3c"/>
<rect x="401.80" y="311.64" width="22.33" height="10.14" fill="#c4bc8c"/>
<rect x="423.83" y="311.64" width="22.33" height="10.14" fill="#bcb890"/>
<rect x="445.86" y="311.64" width="22.33" height="10.14" fill="#dc9840"/>
<rect x="401.80" y="321.48" width="22.33" height="10.14" fill="#8a8a98"/>
<rect x="423.83" y="321.48" width="22.33" height="10.14" fill="#dc8434"/>
<rect x="445.86" y="321.48" width="22.33" height="10.14" fill="#dc9840"/>
<rect x="401.80" y="331.32" width="22.33" height="10.14" fill="#929292"/>
<rect x="423.83" y="331.32" width="22.33" height="10.14" fill="#c4bc90"/>
<rect x="445.86" y="331.32" width="22.33" height="10.14" fill="#dc9840"/>
<rect x="401.80" y="341.16" width="22.33" height="10.14" fill="#84849e"/>
<rect x="423.83" y="341.16" width="22.33" height="10.14" fill="#e0a244"/>
<rect x="445.86" y="341.16" width="22.33" height="10.14" fill="#e8c156"/>
<rect x="401.80" y="351.00" width="22.33" height="10.14" fill="#e8a840"/>
<rect x="423.83" y="351.00" width="22.33" height="10.14" fill="#bcb890"/>
<rect x="445.86" y="351.00" width="22.33" height="10.14" fill="#e8c156"/>
<rect x="401.80" y="360.84" width="22.33" height="10.14" fill="#d8843e"/>
<rect x="423.83" y="360.84" width="22.33" height="10.14" fill="#5456a2"/>
<rect x="445.86" y="360.84" width="22.33" height="10.14" fill="#949496"/>
<rect x="401.80" y="370.68" width="22.33" height="10.14" fill="#b0140e"/>
<rect x="423.83" y="370.68" width="22.33" height="10.14" fill="#2a2c94"/>
<rect x="445.86" y="370.68" width="22.33" height="10.14" fill="#2f329c"/>
<rect x="401.80" y="252.60" width="66.09" height="127.92" fill="none" stroke="#222" stroke-width="0.9"/>
<line x1="399.30" y1="257.52" x2="401.80" y2="257.52" stroke="#222" stroke-width="0.8"/>
<text x="395.40" y="259.92" font-size="6.6" text-anchor="end" stroke="#2a2a2a" stroke-width="0.119" textLength="97.50" lengthAdjust="spacingAndGlyphs">OXIDATIVE_PHOSPHORYLATION</text>
<line x1="399.30" y1="267.36" x2="401.80" y2="267.36" stroke="#222" stroke-width="0.8"/>
<text x="395.40" y="269.76" font-size="6.6" text-anchor="end" stroke="#2a2a2a" stroke-width="0.119" textLength="57.08" lengthAdjust="spacingAndGlyphs">MYC_TARGETS_V1</text>
<line x1="399.30" y1="277.20" x2="401.80" y2="277.20" stroke="#222" stroke-width="0.8"/>
<text x="395.40" y="279.60" font-size="6.6" text-anchor="end" stroke="#2a2a2a" stroke-width="0.119" textLength="43.64" lengthAdjust="spacingAndGlyphs">E2F_TARGETS</text>
<line x1="399.30" y1="287.04" x2="401.80" y2="287.04" stroke="#222" stroke-width="0.8"/>
<text x="395.40" y="289.44" font-size="6.6" text-anchor="end" stroke="#2a2a2a" stroke-width="0.119" textLength="55.35" lengthAdjust="spacingAndGlyphs">MITOTIC_SPINDLE</text>
<line x1="399.30" y1="296.88" x2="401.80" y2="296.88" stroke="#222" stroke-width="0.8"/>
<text x="395.40" y="299.28" font-size="6.6" text-anchor="end" stroke="#2a2a2a" stroke-width="0.119" textLength="39.16" lengthAdjust="spacingAndGlyphs">DNA_REPAIR</text>
<line x1="399.30" y1="306.72" x2="401.80" y2="306.72" stroke="#222" stroke-width="0.8"/>
<text x="395.40" y="309.12" font-size="6.6" text-anchor="end" stroke="#2a2a2a" stroke-width="0.119" textLength="121.39" lengthAdjust="spacingAndGlyphs">REACTIVE_OXIGEN_SPECIES_PATHWAY</text>
<line x1="399.30" y1="316.56" x2="401.80" y2="316.56" stroke="#222" stroke-width="0.8"/>
<text x="395.40" y="318.96" font-size="6.6" text-anchor="end" stroke="#2a2a2a" stroke-width="0.119" textLength="59.25" lengthAdjust="spacingAndGlyphs">NOTCH_SIGNALING</text>
<line x1="399.30" y1="326.40" x2="401.80" y2="326.40" stroke="#222" stroke-width="0.8"/>
<text x="395.40" y="328.80" font-size="6.6" text-anchor="end" stroke="#2a2a2a" stroke-width="0.119" textLength="49.49" lengthAdjust="spacingAndGlyphs">PROLIFERATION</text>
<line x1="399.30" y1="336.24" x2="401.80" y2="336.24" stroke="#222" stroke-width="0.8"/>
<text x="395.40" y="338.64" font-size="6.6" text-anchor="end" stroke="#2a2a2a" stroke-width="0.119" textLength="46.86" lengthAdjust="spacingAndGlyphs">ADIPOGENESIS</text>
<line x1="399.30" y1="346.08" x2="401.80" y2="346.08" stroke="#222" stroke-width="0.8"/>
<text x="395.40" y="348.48" font-size="6.6" text-anchor="end" stroke="#2a2a2a" stroke-width="0.119" textLength="57.08" lengthAdjust="spacingAndGlyphs">MYC_TARGETS_V2</text>
<line x1="399.30" y1="355.92" x2="401.80" y2="355.92" stroke="#222" stroke-width="0.8"/>
<text x="395.40" y="358.32" font-size="6.6" text-anchor="end" stroke="#2a2a2a" stroke-width="0.119" textLength="13.09" lengthAdjust="spacingAndGlyphs">HSC</text>
<line x1="399.30" y1="365.76" x2="401.80" y2="365.76" stroke="#222" stroke-width="0.8"/>
<text x="395.40" y="368.16" font-size="6.6" text-anchor="end" stroke="#2a2a2a" stroke-width="0.119" textLength="27.56" lengthAdjust="spacingAndGlyphs">HYPOXIA</text>
<line x1="399.30" y1="375.60" x2="401.80" y2="375.60" stroke="#222" stroke-width="0.8"/>
<text x="395.40" y="378.00" font-size="6.6" text-anchor="end" stroke="#2a2a2a" stroke-width="0.119" textLength="86.48" lengthAdjust="spacingAndGlyphs">TNFA_SIGNALING_VIA_NFKB</text>
<line x1="412.81" y1="380.52" x2="412.81" y2="383.02" stroke="#222" stroke-width="0.8"/>
<text x="416.01" y="393.12" font-size="6.5" text-anchor="end" stroke="#2a2a2a" stroke-width="0.117" textLength="39.68" lengthAdjust="spacingAndGlyphs" transform="rotate(-45 416.01 393.12)">TKI vs. Vehicle</text>
<line x1="434.85" y1="380.52" x2="434.85" y2="383.02" stroke="#222" stroke-width="0.8"/>
<text x="438.05" y="393.12" font-size="6.5" text-anchor="end" stroke="#2a2a2a" stroke-width="0.117" textLength="41.35" lengthAdjust="spacingAndGlyphs" transform="rotate(-45 438.05 393.12)">HIFi vs. Vehicle</text>
<line x1="456.88" y1="380.52" x2="456.88" y2="383.02" stroke="#222" stroke-width="0.8"/>
<text x="460.07" y="393.12" font-size="6.5" text-anchor="end" stroke="#2a2a2a" stroke-width="0.117" textLength="47.40" lengthAdjust="spacingAndGlyphs" transform="rotate(-45 460.07 393.12)">TKI + HIFi vs. TKI</text>
<defs><linearGradient id="cbE" x1="0" y1="0" x2="0" y2="1"><stop offset="0" stop-color="#9b1a1a"/><stop offset="0.17" stop-color="#c85428"/><stop offset="0.35" stop-color="#e8a040"/><stop offset="0.52" stop-color="#f4ea52"/><stop offset="0.7" stop-color="#a8a282"/><stop offset="0.87" stop-color="#4a4a92"/><stop offset="1" stop-color="#20208a"/></linearGradient></defs>
<rect x="476.80" y="263.80" width="9.00" height="109.90" fill="url(#cbE)"/>
<line x1="476.80" y1="282.20" x2="478.30" y2="282.20" stroke="#222" stroke-width="0.6"/>
<line x1="484.30" y1="282.20" x2="485.80" y2="282.20" stroke="#222" stroke-width="0.6"/>
<text x="487.80" y="284.70" font-size="7.0" fill="#333" stroke="#333" stroke-width="0.126" textLength="3.56" lengthAdjust="spacingAndGlyphs">2</text>
<line x1="476.80" y1="320.80" x2="478.30" y2="320.80" stroke="#222" stroke-width="0.6"/>
<line x1="484.30" y1="320.80" x2="485.80" y2="320.80" stroke="#222" stroke-width="0.6"/>
<text x="487.80" y="323.30" font-size="7.0" fill="#333" stroke="#333" stroke-width="0.126" textLength="3.56" lengthAdjust="spacingAndGlyphs">0</text>
<line x1="476.80" y1="359.40" x2="478.30" y2="359.40" stroke="#222" stroke-width="0.6"/>
<line x1="484.30" y1="359.40" x2="485.80" y2="359.40" stroke="#222" stroke-width="0.6"/>
<text x="486.00" y="361.90" font-size="7.0" fill="#333" stroke="#333" stroke-width="0.126" textLength="7.30" lengthAdjust="spacingAndGlyphs">−2</text>
<text x="9.50" y="452.30" font-size="11" font-weight="bold" fill="#111" stroke="#111" stroke-width="0.35">F</text>
<line x1="47.70" y1="474.60" x2="47.70" y2="538.10" stroke="#222" stroke-width="1.15"/>
<line x1="45.20" y1="537.60" x2="47.70" y2="537.60" stroke="#222" stroke-width="0.8"/>
<text x="42.20" y="540.08" font-size="6.9" text-anchor="end" fill="#333" stroke="#333" stroke-width="0.124" textLength="3.13" lengthAdjust="spacingAndGlyphs">0</text>
<line x1="45.20" y1="526.20" x2="47.70" y2="526.20" stroke="#222" stroke-width="0.8"/>
<text x="42.20" y="528.68" font-size="6.9" text-anchor="end" fill="#333" stroke="#333" stroke-width="0.124" textLength="6.26" lengthAdjust="spacingAndGlyphs">20</text>
<line x1="45.20" y1="514.80" x2="47.70" y2="514.80" stroke="#222" stroke-width="0.8"/>
<text x="42.20" y="517.28" font-size="6.9" text-anchor="end" fill="#333" stroke="#333" stroke-width="0.124" textLength="6.26" lengthAdjust="spacingAndGlyphs">40</text>
<line x1="45.20" y1="503.40" x2="47.70" y2="503.40" stroke="#222" stroke-width="0.8"/>
<text x="42.20" y="505.88" font-size="6.9" text-anchor="end" fill="#333" stroke="#333" stroke-width="0.124" textLength="6.26" lengthAdjust="spacingAndGlyphs">60</text>
<line x1="45.20" y1="492.00" x2="47.70" y2="492.00" stroke="#222" stroke-width="0.8"/>
<text x="42.20" y="494.48" font-size="6.9" text-anchor="end" fill="#333" stroke="#333" stroke-width="0.124" textLength="6.26" lengthAdjust="spacingAndGlyphs">80</text>
<line x1="45.20" y1="480.60" x2="47.70" y2="480.60" stroke="#222" stroke-width="0.8"/>
<text x="42.20" y="483.08" font-size="6.9" text-anchor="end" fill="#333" stroke="#333" stroke-width="0.124" textLength="9.39" lengthAdjust="spacingAndGlyphs">100</text>
<rect x="53.40" y="501.69" width="7.60" height="35.91" fill="#8898c8"/>
<rect x="65.50" y="498.84" width="7.70" height="38.76" fill="#eb8b80"/>
<rect x="77.70" y="488.01" width="7.90" height="49.59" fill="#acd89c"/>
<rect x="90.00" y="481.74" width="7.70" height="55.86" fill="#a587bb"/>
<rect x="110.80" y="489.15" width="7.80" height="48.45" fill="#8898c8"/>
<rect x="123.10" y="487.44" width="7.90" height="50.16" fill="#eb8b80"/>
<rect x="135.30" y="486.30" width="7.70" height="51.30" fill="#acd89c"/>
<rect x="147.40" y="485.16" width="7.80" height="52.44" fill="#a587bb"/>
<line x1="57.20" y1="501.69" x2="57.20" y2="498.51" stroke="#1b3c7a" stroke-width="0.8"/>
<line x1="55.60" y1="498.51" x2="58.80" y2="498.51" stroke="#1b3c7a" stroke-width="0.9"/>
<circle cx="55.07" cy="509.65" r="1.15" fill="#1b3c7a"/>
<circle cx="59.33" cy="495.95" r="1.15" fill="#1b3c7a"/>
<circle cx="57.20" cy="490.68" r="1.15" fill="#1b3c7a"/>
<circle cx="56.14" cy="503.57" r="1.15" fill="#1b3c7a"/>
<circle cx="58.26" cy="510.55" r="1.15" fill="#1b3c7a"/>
<circle cx="59.48" cy="499.74" r="1.15" fill="#1b3c7a"/>
<line x1="69.35" y1="498.84" x2="69.35" y2="495.49" stroke="#c4122e" stroke-width="0.8"/>
<line x1="67.75" y1="495.49" x2="70.95" y2="495.49" stroke="#c4122e" stroke-width="0.9"/>
<circle cx="67.19" cy="495.35" r="1.15" fill="#c4122e"/>
<circle cx="71.51" cy="490.41" r="1.15" fill="#c4122e"/>
<circle cx="69.35" cy="508.87" r="1.15" fill="#c4122e"/>
<circle cx="68.27" cy="509.49" r="1.15" fill="#c4122e"/>
<circle cx="70.43" cy="493.54" r="1.15" fill="#c4122e"/>
<circle cx="71.66" cy="495.39" r="1.15" fill="#c4122e"/>
<line x1="81.65" y1="488.01" x2="81.65" y2="486.11" stroke="#3fae3f" stroke-width="0.8"/>
<line x1="80.05" y1="486.11" x2="83.25" y2="486.11" stroke="#3fae3f" stroke-width="0.9"/>
<circle cx="79.44" cy="484.83" r="1.15" fill="#3fae3f"/>
<circle cx="83.86" cy="487.03" r="1.15" fill="#3fae3f"/>
<circle cx="81.65" cy="491.36" r="1.15" fill="#3fae3f"/>
<circle cx="80.54" cy="492.04" r="1.15" fill="#3fae3f"/>
<circle cx="82.76" cy="480.69" r="1.15" fill="#3fae3f"/>
<circle cx="84.02" cy="492.10" r="1.15" fill="#3fae3f"/>
<line x1="93.85" y1="481.74" x2="93.85" y2="481.50" stroke="#3d1656" stroke-width="0.8"/>
<line x1="92.25" y1="481.50" x2="95.45" y2="481.50" stroke="#3d1656" stroke-width="0.9"/>
<circle cx="91.69" cy="482.24" r="1.15" fill="#3d1656"/>
<circle cx="96.01" cy="482.64" r="1.15" fill="#3d1656"/>
<circle cx="93.85" cy="481.23" r="1.15" fill="#3d1656"/>
<circle cx="92.77" cy="481.18" r="1.15" fill="#3d1656"/>
<circle cx="94.93" cy="481.74" r="1.15" fill="#3d1656"/>
<circle cx="96.16" cy="481.41" r="1.15" fill="#3d1656"/>
<line x1="114.70" y1="489.15" x2="114.70" y2="486.76" stroke="#1b3c7a" stroke-width="0.8"/>
<line x1="113.10" y1="486.76" x2="116.30" y2="486.76" stroke="#1b3c7a" stroke-width="0.9"/>
<circle cx="112.52" cy="488.72" r="1.15" fill="#1b3c7a"/>
<circle cx="116.88" cy="486.33" r="1.15" fill="#1b3c7a"/>
<circle cx="114.70" cy="484.02" r="1.15" fill="#1b3c7a"/>
<circle cx="113.61" cy="489.08" r="1.15" fill="#1b3c7a"/>
<circle cx="115.79" cy="500.48" r="1.15" fill="#1b3c7a"/>
<circle cx="117.04" cy="486.28" r="1.15" fill="#1b3c7a"/>
<line x1="127.05" y1="487.44" x2="127.05" y2="485.57" stroke="#c4122e" stroke-width="0.8"/>
<line x1="125.45" y1="485.57" x2="128.65" y2="485.57" stroke="#c4122e" stroke-width="0.9"/>
<circle cx="124.84" cy="492.55" r="1.15" fill="#c4122e"/>
<circle cx="129.26" cy="484.72" r="1.15" fill="#c4122e"/>
<circle cx="127.05" cy="492.89" r="1.15" fill="#c4122e"/>
<circle cx="125.94" cy="483.64" r="1.15" fill="#c4122e"/>
<circle cx="128.16" cy="488.53" r="1.15" fill="#c4122e"/>
<circle cx="129.42" cy="482.31" r="1.15" fill="#c4122e"/>
<line x1="139.15" y1="486.30" x2="139.15" y2="484.12" stroke="#3fae3f" stroke-width="0.8"/>
<line x1="137.55" y1="484.12" x2="140.75" y2="484.12" stroke="#3fae3f" stroke-width="0.9"/>
<circle cx="136.99" cy="476.81" r="1.15" fill="#3fae3f"/>
<circle cx="141.31" cy="488.26" r="1.15" fill="#3fae3f"/>
<circle cx="139.15" cy="485.21" r="1.15" fill="#3fae3f"/>
<circle cx="138.07" cy="492.62" r="1.15" fill="#3fae3f"/>
<circle cx="140.23" cy="489.08" r="1.15" fill="#3fae3f"/>
<circle cx="141.46" cy="485.83" r="1.15" fill="#3fae3f"/>
<line x1="151.30" y1="485.16" x2="151.30" y2="484.72" stroke="#3d1656" stroke-width="0.8"/>
<line x1="149.70" y1="484.72" x2="152.90" y2="484.72" stroke="#3d1656" stroke-width="0.9"/>
<circle cx="149.12" cy="485.07" r="1.15" fill="#3d1656"/>
<circle cx="153.48" cy="484.28" r="1.15" fill="#3d1656"/>
<circle cx="151.30" cy="484.73" r="1.15" fill="#3d1656"/>
<circle cx="150.21" cy="486.63" r="1.15" fill="#3d1656"/>
<circle cx="152.39" cy="483.95" r="1.15" fill="#3d1656"/>
<circle cx="153.64" cy="486.30" r="1.15" fill="#3d1656"/>
<line x1="47.20" y1="537.60" x2="159.20" y2="537.60" stroke="#222" stroke-width="1.15"/>
<line x1="75.60" y1="537.60" x2="75.60" y2="539.80" stroke="#222" stroke-width="0.8"/>
<text x="75.60" y="549.60" font-size="6.8" text-anchor="middle" fill="#333" stroke="#333" stroke-width="0.122" textLength="45.39" lengthAdjust="spacingAndGlyphs">LTHSC-dormant</text>
<line x1="133.00" y1="537.60" x2="133.00" y2="539.80" stroke="#222" stroke-width="0.8"/>
<text x="133.00" y="549.60" font-size="6.8" text-anchor="middle" fill="#333" stroke="#333" stroke-width="0.122" textLength="41.54" lengthAdjust="spacingAndGlyphs">LTHSC-cycling</text>
<path d="M56.50 471.30V451.70H93.90V459.70" fill="none" stroke="#333" stroke-width="0.9"/>
<text x="68.90" y="451.40" font-size="7.6" text-anchor="middle" font-weight="bold" fill="#222">*</text>
<text x="73.10" y="451.40" font-size="7.6" text-anchor="middle" font-weight="bold" fill="#222">*</text>
<text x="77.30" y="451.40" font-size="7.6" text-anchor="middle" font-weight="bold" fill="#222">*</text>
<text x="81.50" y="451.40" font-size="7.6" text-anchor="middle" font-weight="bold" fill="#222">*</text>
<path d="M69.20 466.40V463.10H93.90V477.50" fill="none" stroke="#333" stroke-width="0.9"/>
<text x="77.35" y="462.80" font-size="7.6" text-anchor="middle" font-weight="bold" fill="#222">*</text>
<text x="81.55" y="462.80" font-size="7.6" text-anchor="middle" font-weight="bold" fill="#222">*</text>
<text x="85.75" y="462.80" font-size="7.6" text-anchor="middle" font-weight="bold" fill="#222">*</text>
<path d="M56.50 490.00V474.10H81.50V478.00" fill="none" stroke="#333" stroke-width="0.9"/>
<text x="66.90" y="473.80" font-size="7.6" text-anchor="middle" font-weight="bold" fill="#222">*</text>
<text x="71.10" y="473.80" font-size="7.6" text-anchor="middle" font-weight="bold" fill="#222">*</text>
<text x="16.20" y="506.20" font-size="7.6" text-anchor="middle" fill="#333" stroke="#333" stroke-width="0.137" textLength="41.30" lengthAdjust="spacingAndGlyphs" transform="rotate(-90 16.20 506.20)">Mitochondrial</text>
<text x="24.70" y="506.00" font-size="7.3" text-anchor="middle" fill="#333" stroke="#333" stroke-width="0.131" textLength="47.00" lengthAdjust="spacingAndGlyphs" transform="rotate(-90 24.70 506.00)">dependence (%)</text>
<text x="174.80" y="451.60" font-size="11" font-weight="bold" fill="#111" stroke="#111" stroke-width="0.35">G</text>
<line x1="204.60" y1="475.20" x2="204.60" y2="538.30" stroke="#222" stroke-width="1.15"/>
<line x1="202.10" y1="537.80" x2="204.60" y2="537.80" stroke="#222" stroke-width="0.8"/>
<text x="199.50" y="540.28" font-size="6.9" text-anchor="end" fill="#333" stroke="#333" stroke-width="0.124" textLength="3.13" lengthAdjust="spacingAndGlyphs">0</text>
<line x1="202.10" y1="526.00" x2="204.60" y2="526.00" stroke="#222" stroke-width="0.8"/>
<text x="199.50" y="528.48" font-size="6.9" text-anchor="end" fill="#333" stroke="#333" stroke-width="0.124" textLength="6.26" lengthAdjust="spacingAndGlyphs">20</text>
<line x1="202.10" y1="514.20" x2="204.60" y2="514.20" stroke="#222" stroke-width="0.8"/>
<text x="199.50" y="516.68" font-size="6.9" text-anchor="end" fill="#333" stroke="#333" stroke-width="0.124" textLength="6.26" lengthAdjust="spacingAndGlyphs">40</text>
<line x1="202.10" y1="502.40" x2="204.60" y2="502.40" stroke="#222" stroke-width="0.8"/>
<text x="199.50" y="504.88" font-size="6.9" text-anchor="end" fill="#333" stroke="#333" stroke-width="0.124" textLength="6.26" lengthAdjust="spacingAndGlyphs">60</text>
<line x1="202.10" y1="490.60" x2="204.60" y2="490.60" stroke="#222" stroke-width="0.8"/>
<text x="199.50" y="493.08" font-size="6.9" text-anchor="end" fill="#333" stroke="#333" stroke-width="0.124" textLength="6.26" lengthAdjust="spacingAndGlyphs">80</text>
<line x1="202.10" y1="478.80" x2="204.60" y2="478.80" stroke="#222" stroke-width="0.8"/>
<text x="199.50" y="481.28" font-size="6.9" text-anchor="end" fill="#333" stroke="#333" stroke-width="0.124" textLength="9.39" lengthAdjust="spacingAndGlyphs">100</text>
<rect x="208.60" y="519.51" width="8.50" height="18.29" fill="#8898c8"/>
<rect x="221.40" y="519.51" width="8.60" height="18.29" fill="#eb8b80"/>
<rect x="234.30" y="534.85" width="8.50" height="2.95" fill="#acd89c"/>
<rect x="246.80" y="536.91" width="8.60" height="0.88" fill="#a587bb"/>
<rect x="268.30" y="530.13" width="8.90" height="7.67" fill="#8898c8"/>
<rect x="281.30" y="531.90" width="8.60" height="5.90" fill="#eb8b80"/>
<rect x="294.00" y="531.90" width="8.80" height="5.90" fill="#acd89c"/>
<rect x="306.40" y="534.26" width="9.00" height="3.54" fill="#a587bb"/>
<line x1="212.85" y1="519.51" x2="212.85" y2="517.29" stroke="#1b3c7a" stroke-width="0.8"/>
<line x1="211.25" y1="517.29" x2="214.45" y2="517.29" stroke="#1b3c7a" stroke-width="0.9"/>
<circle cx="210.47" cy="519.77" r="1.15" fill="#1b3c7a"/>
<circle cx="215.23" cy="512.20" r="1.15" fill="#1b3c7a"/>
<circle cx="212.85" cy="523.06" r="1.15" fill="#1b3c7a"/>
<circle cx="211.66" cy="527.77" r="1.15" fill="#1b3c7a"/>
<circle cx="214.04" cy="518.02" r="1.15" fill="#1b3c7a"/>
<circle cx="215.40" cy="516.22" r="1.15" fill="#1b3c7a"/>
<line x1="225.70" y1="519.51" x2="225.70" y2="517.83" stroke="#c4122e" stroke-width="0.8"/>
<line x1="224.10" y1="517.83" x2="227.30" y2="517.83" stroke="#c4122e" stroke-width="0.9"/>
<circle cx="223.29" cy="515.41" r="1.15" fill="#c4122e"/>
<circle cx="228.11" cy="514.26" r="1.15" fill="#c4122e"/>
<circle cx="225.70" cy="519.40" r="1.15" fill="#c4122e"/>
<circle cx="224.50" cy="523.31" r="1.15" fill="#c4122e"/>
<circle cx="226.90" cy="524.59" r="1.15" fill="#c4122e"/>
<circle cx="228.28" cy="520.09" r="1.15" fill="#c4122e"/>
<line x1="238.55" y1="534.85" x2="238.55" y2="534.25" stroke="#3fae3f" stroke-width="0.8"/>
<line x1="236.95" y1="534.25" x2="240.15" y2="534.25" stroke="#3fae3f" stroke-width="0.9"/>
<circle cx="236.17" cy="535.71" r="1.15" fill="#3fae3f"/>
<circle cx="240.93" cy="533.38" r="1.15" fill="#3fae3f"/>
<circle cx="238.55" cy="533.92" r="1.15" fill="#3fae3f"/>
<circle cx="237.36" cy="537.25" r="1.15" fill="#3fae3f"/>
<circle cx="239.74" cy="533.77" r="1.15" fill="#3fae3f"/>
<circle cx="241.10" cy="535.06" r="1.15" fill="#3fae3f"/>
<line x1="251.10" y1="536.91" x2="251.10" y2="536.61" stroke="#3d1656" stroke-width="0.8"/>
<line x1="249.50" y1="536.61" x2="252.70" y2="536.61" stroke="#3d1656" stroke-width="0.9"/>
<circle cx="248.69" cy="536.30" r="1.15" fill="#3d1656"/>
<circle cx="253.51" cy="536.07" r="1.15" fill="#3d1656"/>
<circle cx="251.10" cy="536.63" r="1.15" fill="#3d1656"/>
<circle cx="249.90" cy="537.80" r="1.15" fill="#3d1656"/>
<circle cx="252.30" cy="536.57" r="1.15" fill="#3d1656"/>
<circle cx="253.68" cy="537.80" r="1.15" fill="#3d1656"/>
<line x1="272.75" y1="530.13" x2="272.75" y2="527.64" stroke="#1b3c7a" stroke-width="0.8"/>
<line x1="271.15" y1="527.64" x2="274.35" y2="527.64" stroke="#1b3c7a" stroke-width="0.9"/>
<circle cx="270.26" cy="523.32" r="1.15" fill="#1b3c7a"/>
<circle cx="275.24" cy="533.91" r="1.15" fill="#1b3c7a"/>
<circle cx="272.75" cy="531.67" r="1.15" fill="#1b3c7a"/>
<circle cx="271.50" cy="522.10" r="1.15" fill="#1b3c7a"/>
<circle cx="274.00" cy="537.80" r="1.15" fill="#1b3c7a"/>
<circle cx="275.42" cy="530.62" r="1.15" fill="#1b3c7a"/>
<line x1="285.60" y1="531.90" x2="285.60" y2="530.26" stroke="#c4122e" stroke-width="0.8"/>
<line x1="284.00" y1="530.26" x2="287.20" y2="530.26" stroke="#c4122e" stroke-width="0.9"/>
<circle cx="283.19" cy="536.64" r="1.15" fill="#c4122e"/>
<circle cx="288.01" cy="533.35" r="1.15" fill="#c4122e"/>
<circle cx="285.60" cy="535.01" r="1.15" fill="#c4122e"/>
<circle cx="284.40" cy="526.18" r="1.15" fill="#c4122e"/>
<circle cx="286.80" cy="532.04" r="1.15" fill="#c4122e"/>
<circle cx="288.18" cy="528.18" r="1.15" fill="#c4122e"/>
<line x1="298.40" y1="531.90" x2="298.40" y2="530.09" stroke="#3fae3f" stroke-width="0.8"/>
<line x1="296.80" y1="530.09" x2="300.00" y2="530.09" stroke="#3fae3f" stroke-width="0.9"/>
<circle cx="295.94" cy="528.27" r="1.15" fill="#3fae3f"/>
<circle cx="300.86" cy="536.70" r="1.15" fill="#3fae3f"/>
<circle cx="298.40" cy="525.56" r="1.15" fill="#3fae3f"/>
<circle cx="297.17" cy="531.45" r="1.15" fill="#3fae3f"/>
<circle cx="299.63" cy="536.50" r="1.15" fill="#3fae3f"/>
<circle cx="301.04" cy="532.92" r="1.15" fill="#3fae3f"/>
<line x1="310.90" y1="534.26" x2="310.90" y2="533.77" stroke="#3d1656" stroke-width="0.8"/>
<line x1="309.30" y1="533.77" x2="312.50" y2="533.77" stroke="#3d1656" stroke-width="0.9"/>
<circle cx="308.38" cy="533.46" r="1.15" fill="#3d1656"/>
<circle cx="313.42" cy="533.23" r="1.15" fill="#3d1656"/>
<circle cx="310.90" cy="536.26" r="1.15" fill="#3d1656"/>
<circle cx="309.64" cy="534.84" r="1.15" fill="#3d1656"/>
<circle cx="312.16" cy="534.59" r="1.15" fill="#3d1656"/>
<circle cx="313.60" cy="533.17" r="1.15" fill="#3d1656"/>
<line x1="204.10" y1="537.80" x2="319.90" y2="537.80" stroke="#222" stroke-width="1.15"/>
<line x1="231.50" y1="537.80" x2="231.50" y2="540.00" stroke="#222" stroke-width="0.8"/>
<text x="231.50" y="549.60" font-size="6.8" text-anchor="middle" fill="#333" stroke="#333" stroke-width="0.122" textLength="45.39" lengthAdjust="spacingAndGlyphs">LTHSC-dormant</text>
<line x1="291.60" y1="537.80" x2="291.60" y2="540.00" stroke="#222" stroke-width="0.8"/>
<text x="291.60" y="549.60" font-size="6.8" text-anchor="middle" fill="#333" stroke="#333" stroke-width="0.122" textLength="41.54" lengthAdjust="spacingAndGlyphs">LTHSC-cycling</text>
<path d="M212.50 482.60V475.20H251.20V494.70" fill="none" stroke="#333" stroke-width="0.9"/>
<text x="225.55" y="474.90" font-size="7.6" text-anchor="middle" font-weight="bold" fill="#222">*</text>
<text x="229.75" y="474.90" font-size="7.6" text-anchor="middle" font-weight="bold" fill="#222">*</text>
<text x="233.95" y="474.90" font-size="7.6" text-anchor="middle" font-weight="bold" fill="#222">*</text>
<text x="238.15" y="474.90" font-size="7.6" text-anchor="middle" font-weight="bold" fill="#222">*</text>
<path d="M212.50 508.50V486.70H238.60V489.80" fill="none" stroke="#333" stroke-width="0.9"/>
<text x="221.35" y="486.40" font-size="7.6" text-anchor="middle" font-weight="bold" fill="#222">*</text>
<text x="225.55" y="486.40" font-size="7.6" text-anchor="middle" font-weight="bold" fill="#222">*</text>
<text x="229.75" y="486.40" font-size="7.6" text-anchor="middle" font-weight="bold" fill="#222">*</text>
<path d="M225.40 501.30V498.00H251.20V532.10" fill="none" stroke="#333" stroke-width="0.9"/>
<text x="232.00" y="497.70" font-size="7.6" text-anchor="middle" font-weight="bold" fill="#222">*</text>
<text x="236.20" y="497.70" font-size="7.6" text-anchor="middle" font-weight="bold" fill="#222">*</text>
<text x="240.40" y="497.70" font-size="7.6" text-anchor="middle" font-weight="bold" fill="#222">*</text>
<text x="244.60" y="497.70" font-size="7.6" text-anchor="middle" font-weight="bold" fill="#222">*</text>
<text x="181.70" y="506.40" font-size="7.0" text-anchor="middle" fill="#333" stroke="#333" stroke-width="0.126" textLength="65.00" lengthAdjust="spacingAndGlyphs" transform="rotate(-90 181.70 506.40)">Glycolytic capacity (%)</text>
<text x="335.00" y="451.90" font-size="11" font-weight="bold" fill="#111" stroke="#111" stroke-width="0.35">H</text>
<line x1="368.10" y1="475.80" x2="368.10" y2="538.00" stroke="#222" stroke-width="1.15"/>
<line x1="364.80" y1="537.50" x2="368.10" y2="537.50" stroke="#222" stroke-width="0.8"/>
<text x="361.90" y="540.02" font-size="7.0" text-anchor="end" fill="#333" stroke="#333" stroke-width="0.126" textLength="3.50" lengthAdjust="spacingAndGlyphs">0</text>
<line x1="364.80" y1="525.46" x2="368.10" y2="525.46" stroke="#222" stroke-width="0.8"/>
<text x="361.90" y="527.98" font-size="7.0" text-anchor="end" fill="#333" stroke="#333" stroke-width="0.126" textLength="14.00" lengthAdjust="spacingAndGlyphs">1000</text>
<line x1="364.80" y1="513.42" x2="368.10" y2="513.42" stroke="#222" stroke-width="0.8"/>
<text x="361.90" y="515.94" font-size="7.0" text-anchor="end" fill="#333" stroke="#333" stroke-width="0.126" textLength="14.00" lengthAdjust="spacingAndGlyphs">2000</text>
<line x1="364.80" y1="501.38" x2="368.10" y2="501.38" stroke="#222" stroke-width="0.8"/>
<text x="361.90" y="503.90" font-size="7.0" text-anchor="end" fill="#333" stroke="#333" stroke-width="0.126" textLength="14.00" lengthAdjust="spacingAndGlyphs">3000</text>
<line x1="364.80" y1="489.34" x2="368.10" y2="489.34" stroke="#222" stroke-width="0.8"/>
<text x="361.90" y="491.86" font-size="7.0" text-anchor="end" fill="#333" stroke="#333" stroke-width="0.126" textLength="14.00" lengthAdjust="spacingAndGlyphs">4000</text>
<line x1="364.80" y1="477.30" x2="368.10" y2="477.30" stroke="#222" stroke-width="0.8"/>
<text x="361.90" y="479.82" font-size="7.0" text-anchor="end" fill="#333" stroke="#333" stroke-width="0.126" textLength="14.00" lengthAdjust="spacingAndGlyphs">5000</text>
<rect x="372.10" y="517.03" width="8.70" height="20.47" fill="#8898c8"/>
<rect x="384.80" y="511.49" width="8.70" height="26.01" fill="#eb8b80"/>
<rect x="397.50" y="513.42" width="8.40" height="24.08" fill="#acd89c"/>
<rect x="409.80" y="511.01" width="8.50" height="26.49" fill="#a587bb"/>
<rect x="431.20" y="512.82" width="8.00" height="24.68" fill="#8898c8"/>
<rect x="444.00" y="515.23" width="7.70" height="22.27" fill="#eb8b80"/>
<rect x="456.50" y="504.99" width="8.10" height="32.51" fill="#acd89c"/>
<rect x="469.00" y="496.56" width="8.10" height="40.94" fill="#a587bb"/>
<line x1="376.45" y1="517.03" x2="376.45" y2="515.30" stroke="#1b3c7a" stroke-width="0.8"/>
<line x1="374.85" y1="515.30" x2="378.05" y2="515.30" stroke="#1b3c7a" stroke-width="0.9"/>
<circle cx="374.01" cy="522.60" r="1.15" fill="#1b3c7a"/>
<circle cx="378.89" cy="516.09" r="1.15" fill="#1b3c7a"/>
<circle cx="376.45" cy="511.66" r="1.15" fill="#1b3c7a"/>
<circle cx="375.23" cy="515.89" r="1.15" fill="#1b3c7a"/>
<circle cx="377.67" cy="514.37" r="1.15" fill="#1b3c7a"/>
<circle cx="379.06" cy="521.58" r="1.15" fill="#1b3c7a"/>
<line x1="389.15" y1="511.49" x2="389.15" y2="510.38" stroke="#c4122e" stroke-width="0.8"/>
<line x1="387.55" y1="510.38" x2="390.75" y2="510.38" stroke="#c4122e" stroke-width="0.9"/>
<circle cx="386.71" cy="512.43" r="1.15" fill="#c4122e"/>
<circle cx="391.59" cy="513.13" r="1.15" fill="#c4122e"/>
<circle cx="389.15" cy="506.82" r="1.15" fill="#c4122e"/>
<circle cx="387.93" cy="510.50" r="1.15" fill="#c4122e"/>
<circle cx="390.37" cy="511.34" r="1.15" fill="#c4122e"/>
<circle cx="391.76" cy="514.75" r="1.15" fill="#c4122e"/>
<line x1="401.70" y1="513.42" x2="401.70" y2="510.77" stroke="#3fae3f" stroke-width="0.8"/>
<line x1="400.10" y1="510.77" x2="403.30" y2="510.77" stroke="#3fae3f" stroke-width="0.9"/>
<circle cx="399.35" cy="515.05" r="1.15" fill="#3fae3f"/>
<circle cx="404.05" cy="512.14" r="1.15" fill="#3fae3f"/>
<circle cx="401.70" cy="507.48" r="1.15" fill="#3fae3f"/>
<circle cx="400.52" cy="518.79" r="1.15" fill="#3fae3f"/>
<circle cx="402.88" cy="521.99" r="1.15" fill="#3fae3f"/>
<circle cx="404.22" cy="505.08" r="1.15" fill="#3fae3f"/>
<line x1="414.05" y1="511.01" x2="414.05" y2="509.36" stroke="#3d1656" stroke-width="0.8"/>
<line x1="412.45" y1="509.36" x2="415.65" y2="509.36" stroke="#3d1656" stroke-width="0.9"/>
<circle cx="411.67" cy="504.82" r="1.15" fill="#3d1656"/>
<circle cx="416.43" cy="508.78" r="1.15" fill="#3d1656"/>
<circle cx="414.05" cy="509.94" r="1.15" fill="#3d1656"/>
<circle cx="412.86" cy="513.15" r="1.15" fill="#3d1656"/>
<circle cx="415.24" cy="512.95" r="1.15" fill="#3d1656"/>
<circle cx="416.60" cy="516.43" r="1.15" fill="#3d1656"/>
<line x1="435.20" y1="512.82" x2="435.20" y2="511.76" stroke="#1b3c7a" stroke-width="0.8"/>
<line x1="433.60" y1="511.76" x2="436.80" y2="511.76" stroke="#1b3c7a" stroke-width="0.9"/>
<circle cx="432.96" cy="509.20" r="1.15" fill="#1b3c7a"/>
<circle cx="437.44" cy="511.76" r="1.15" fill="#1b3c7a"/>
<circle cx="435.20" cy="517.21" r="1.15" fill="#1b3c7a"/>
<circle cx="434.08" cy="512.73" r="1.15" fill="#1b3c7a"/>
<circle cx="436.32" cy="512.85" r="1.15" fill="#1b3c7a"/>
<circle cx="437.60" cy="513.16" r="1.15" fill="#1b3c7a"/>
<line x1="447.85" y1="515.23" x2="447.85" y2="513.33" stroke="#c4122e" stroke-width="0.8"/>
<line x1="446.25" y1="513.33" x2="449.45" y2="513.33" stroke="#c4122e" stroke-width="0.9"/>
<circle cx="445.69" cy="511.48" r="1.15" fill="#c4122e"/>
<circle cx="450.01" cy="513.64" r="1.15" fill="#c4122e"/>
<circle cx="447.85" cy="524.40" r="1.15" fill="#c4122e"/>
<circle cx="446.77" cy="515.14" r="1.15" fill="#c4122e"/>
<circle cx="448.93" cy="513.67" r="1.15" fill="#c4122e"/>
<circle cx="450.16" cy="513.02" r="1.15" fill="#c4122e"/>
<line x1="460.55" y1="504.99" x2="460.55" y2="502.80" stroke="#3fae3f" stroke-width="0.8"/>
<line x1="458.95" y1="502.80" x2="462.15" y2="502.80" stroke="#3fae3f" stroke-width="0.9"/>
<circle cx="458.28" cy="502.71" r="1.15" fill="#3fae3f"/>
<circle cx="462.82" cy="515.11" r="1.15" fill="#3fae3f"/>
<circle cx="460.55" cy="502.34" r="1.15" fill="#3fae3f"/>
<circle cx="459.42" cy="505.93" r="1.15" fill="#3fae3f"/>
<circle cx="461.68" cy="499.71" r="1.15" fill="#3fae3f"/>
<circle cx="462.98" cy="504.14" r="1.15" fill="#3fae3f"/>
<line x1="473.05" y1="496.56" x2="473.05" y2="495.73" stroke="#3d1656" stroke-width="0.8"/>
<line x1="471.45" y1="495.73" x2="474.65" y2="495.73" stroke="#3d1656" stroke-width="0.9"/>
<circle cx="470.78" cy="498.90" r="1.15" fill="#3d1656"/>
<circle cx="475.32" cy="493.77" r="1.15" fill="#3d1656"/>
<circle cx="473.05" cy="498.42" r="1.15" fill="#3d1656"/>
<circle cx="471.92" cy="494.90" r="1.15" fill="#3d1656"/>
<circle cx="474.18" cy="495.94" r="1.15" fill="#3d1656"/>
<circle cx="475.48" cy="497.45" r="1.15" fill="#3d1656"/>
<line x1="367.60" y1="537.50" x2="481.20" y2="537.50" stroke="#222" stroke-width="1.15"/>
<line x1="394.90" y1="537.50" x2="394.90" y2="539.70" stroke="#222" stroke-width="0.8"/>
<text x="394.90" y="549.60" font-size="6.8" text-anchor="middle" fill="#333" stroke="#333" stroke-width="0.122" textLength="45.39" lengthAdjust="spacingAndGlyphs">LTHSC-dormant</text>
<line x1="454.20" y1="537.50" x2="454.20" y2="539.70" stroke="#222" stroke-width="0.8"/>
<text x="454.20" y="549.60" font-size="6.8" text-anchor="middle" fill="#333" stroke="#333" stroke-width="0.122" textLength="41.54" lengthAdjust="spacingAndGlyphs">LTHSC-cycling</text>
<path d="M435.00 491.00V472.00H473.30V479.50" fill="none" stroke="#333" stroke-width="0.9"/>
<text x="447.85" y="471.70" font-size="7.6" text-anchor="middle" font-weight="bold" fill="#222">*</text>
<text x="452.05" y="471.70" font-size="7.6" text-anchor="middle" font-weight="bold" fill="#222">*</text>
<text x="456.25" y="471.70" font-size="7.6" text-anchor="middle" font-weight="bold" fill="#222">*</text>
<text x="460.45" y="471.70" font-size="7.6" text-anchor="middle" font-weight="bold" fill="#222">*</text>
<path d="M447.50 486.50V483.30H473.30V491.00" fill="none" stroke="#333" stroke-width="0.9"/>
<text x="454.10" y="483.00" font-size="7.6" text-anchor="middle" font-weight="bold" fill="#222">*</text>
<text x="458.30" y="483.00" font-size="7.6" text-anchor="middle" font-weight="bold" fill="#222">*</text>
<text x="462.50" y="483.00" font-size="7.6" text-anchor="middle" font-weight="bold" fill="#222">*</text>
<text x="466.70" y="483.00" font-size="7.6" text-anchor="middle" font-weight="bold" fill="#222">*</text>
<path d="M435.00 506.00V494.50H460.50V496.50" fill="none" stroke="#333" stroke-width="0.9"/>
<text x="445.65" y="494.20" font-size="7.6" text-anchor="middle" font-weight="bold" fill="#222">*</text>
<text x="449.85" y="494.20" font-size="7.6" text-anchor="middle" font-weight="bold" fill="#222">*</text>
<text x="341.60" y="506.20" font-size="7.0" text-anchor="middle" fill="#333" stroke="#333" stroke-width="0.126" textLength="50.00" lengthAdjust="spacingAndGlyphs" transform="rotate(-90 341.60 506.20)">Translation (MFI)</text>
<circle cx="485.80" cy="478.30" r="1.15" fill="#1a2a48"/>
<text x="489.60" y="480.10" font-size="6.2" stroke="#2a2a2a" stroke-width="0.112" textLength="18.22" lengthAdjust="spacingAndGlyphs">Vehicle</text>
<circle cx="485.80" cy="486.90" r="1.15" fill="#8a1024"/>
<text x="489.60" y="488.70" font-size="6.2" stroke="#2a2a2a" stroke-width="0.112" textLength="8.79" lengthAdjust="spacingAndGlyphs">TKI</text>
<circle cx="485.80" cy="495.60" r="1.15" fill="#2a7a34"/>
<text x="489.60" y="497.40" font-size="6.2" stroke="#2a2a2a" stroke-width="0.112" textLength="10.36" lengthAdjust="spacingAndGlyphs">HIFi</text>
<circle cx="485.80" cy="504.20" r="1.15" fill="#220a30"/>
<text x="489.60" y="506.00" font-size="6.2" stroke="#2a2a2a" stroke-width="0.112" textLength="22.45" lengthAdjust="spacingAndGlyphs">TKI+HIFi</text>
<text x="7.00" y="577.00" font-size="11" font-weight="bold" fill="#111" stroke="#111" stroke-width="0.35">I</text>
<path d="M44.9 614.3h.1M38.3 620.6h.1M44.3 616.6h.1M43.8 625.7h.1M46.9 623.2h.1M41.9 610.8h.1M38.8 612.3h.1M43.7 614.8h.1M46.8 611.4h.1M44.1 619.9h.1M36.4 627.1h.1M43.7 618.7h.1M38.7 609.5h.1M50.3 610.2h.1M41.3 617.7h.1M49.2 596.0h.1M49.4 616.2h.1M46.9 606.5h.1M44.4 626.2h.1M42.7 609.4h.1M41.2 610.2h.1M46.5 615.6h.1M41.0 620.1h.1M38.4 603.4h.1M53.6 609.4h.1M50.1 613.5h.1M42.1 618.1h.1M39.4 607.8h.1M42.2 611.2h.1M46.2 628.8h.1M38.0 607.6h.1M46.3 618.0h.1M47.9 608.6h.1M45.6 613.8h.1M36.1 617.5h.1M36.4 618.2h.1M41.1 612.7h.1M52.3 625.6h.1M44.9 617.1h.1M39.8 623.5h.1M45.8 607.7h.1M36.0 614.1h.1M42.3 620.7h.1M38.7 607.5h.1M44.9 614.8h.1M47.2 622.6h.1M39.2 596.4h.1M43.3 608.7h.1M44.1 593.8h.1M42.7 614.9h.1M40.7 618.0h.1M43.5 615.9h.1M48.7 623.9h.1M48.2 617.0h.1M43.7 618.4h.1M44.4 608.7h.1M44.8 621.1h.1M41.3 606.0h.1M45.6 608.5h.1M36.7 612.3h.1M36.8 616.7h.1M40.9 614.8h.1M48.0 622.6h.1M42.7 597.3h.1M41.1 605.4h.1M46.9 625.9h.1M46.1 619.0h.1M45.5 619.3h.1M41.5 620.9h.1M41.8 605.5h.1M43.3 626.1h.1M42.3 600.9h.1M48.4 616.0h.1M45.5 610.7h.1M45.2 626.3h.1M40.3 619.4h.1M44.6 607.7h.1M43.9 618.6h.1M39.5 622.9h.1M38.4 622.9h.1M45.8 616.1h.1M39.8 608.3h.1M33.6 614.0h.1M42.6 618.4h.1M47.5 615.7h.1M41.7 621.6h.1M43.1 614.0h.1M38.1 622.1h.1M40.2 628.7h.1M39.4 610.6h.1M43.5 609.0h.1M36.9 605.7h.1M39.6 612.4h.1M47.3 619.2h.1M44.5 620.3h.1M33.8 609.6h.1M40.8 606.5h.1M45.2 609.3h.1M38.4 620.8h.1M40.3 612.3h.1M36.7 620.9h.1M43.3 624.9h.1M52.5 619.2h.1M41.6 608.3h.1M50.1 612.7h.1M45.8 616.0h.1M43.8 615.7h.1M42.5 616.0h.1M38.8 618.7h.1M40.9 615.4h.1M50.1 615.8h.1M38.7 616.9h.1M37.0 615.5h.1M49.1 606.3h.1M42.5 607.7h.1M43.8 616.6h.1M43.9 612.1h.1M35.0 607.5h.1M41.3 620.2h.1M34.6 622.3h.1M39.9 601.8h.1M49.3 616.7h.1M39.1 616.2h.1M45.7 603.6h.1M48.5 607.9h.1M46.6 610.0h.1M36.4 609.8h.1M40.9 615.1h.1M36.0 606.8h.1M44.4 611.4h.1M40.9 617.4h.1M37.5 628.9h.1M40.0 616.9h.1M42.4 621.5h.1M41.2 608.4h.1M44.1 618.6h.1M42.5 629.2h.1M46.2 624.3h.1M48.5 621.7h.1M42.3 626.1h.1M41.5 615.2h.1M48.9 621.0h.1M38.5 611.9h.1M39.3 622.6h.1M41.6 614.3h.1M40.2 610.4h.1M45.9 606.7h.1M43.3 610.5h.1M41.5 604.7h.1M47.9 602.3h.1M37.9 611.0h.1M43.3 608.6h.1M36.2 610.6h.1M38.9 609.1h.1M49.7 599.0h.1M42.9 616.8h.1M41.3 611.4h.1M47.5 612.5h.1M35.8 611.3h.1M44.5 611.2h.1M40.6 615.3h.1M40.9 614.9h.1M45.7 609.4h.1M36.4 623.6h.1M44.6 608.3h.1M37.1 614.0h.1M43.8 617.5h.1M44.5 610.8h.1M41.3 602.9h.1M39.9 610.5h.1M47.4 604.4h.1M50.7 620.5h.1M40.8 609.6h.1M43.9 616.8h.1M45.9 601.4h.1M41.5 617.6h.1M46.7 617.2h.1M42.6 616.2h.1M40.8 626.4h.1M46.7 616.8h.1M40.6 613.6h.1M44.5 614.6h.1M49.7 628.9h.1M47.0 605.7h.1M45.9 610.3h.1M43.0 628.1h.1M35.9 604.2h.1M40.4 619.6h.1M41.3 599.8h.1M44.6 618.7h.1M48.1 614.8h.1M47.6 609.8h.1M46.6 622.6h.1M41.9 611.3h.1M48.0 608.7h.1M39.3 614.4h.1M45.4 620.7h.1M41.1 617.8h.1M39.4 605.8h.1M53.1 608.8h.1M36.8 616.4h.1M40.0 619.3h.1M47.3 616.0h.1M39.3 624.8h.1M47.3 611.6h.1M47.7 618.5h.1M37.8 608.5h.1M43.7 606.3h.1M36.5 610.4h.1M45.9 614.9h.1M38.8 596.2h.1M46.0 612.0h.1M46.2 613.0h.1M40.8 615.2h.1M39.8 609.8h.1M39.0 597.9h.1M47.1 621.4h.1M40.4 610.7h.1M52.2 617.6h.1M41.1 604.8h.1M49.9 623.0h.1M39.4 618.6h.1M38.9 611.4h.1M47.3 611.7h.1M40.0 603.2h.1M45.2 612.2h.1M37.8 628.5h.1" stroke="#eae21a" stroke-width="0.75" stroke-linecap="round"/>
<path d="M49.1 603.7h.1M53.4 605.1h.1M52.0 609.1h.1M49.9 601.4h.1M50.6 612.6h.1M51.9 615.6h.1M52.2 601.6h.1M52.8 605.8h.1M50.0 605.7h.1M55.6 611.7h.1M53.3 608.1h.1M54.5 611.0h.1M53.5 603.0h.1M56.7 613.5h.1M57.2 590.3h.1M54.2 608.0h.1M41.3 613.9h.1M44.4 604.2h.1M52.7 613.1h.1M50.9 603.4h.1M45.0 605.6h.1M54.4 599.2h.1M58.0 590.9h.1M49.7 604.4h.1M52.2 608.8h.1M56.3 603.5h.1M45.8 600.3h.1M50.6 601.9h.1M50.6 605.8h.1M51.9 612.0h.1M53.5 599.2h.1M49.0 603.7h.1M49.8 611.3h.1M55.4 608.6h.1M57.9 601.5h.1M52.0 613.5h.1M51.9 603.3h.1M48.9 612.7h.1M55.2 618.1h.1M59.8 608.3h.1M50.1 602.2h.1M50.2 617.8h.1M51.4 603.3h.1M51.3 609.2h.1M49.2 602.8h.1M49.6 614.8h.1M51.9 610.0h.1M54.3 596.0h.1M53.7 600.4h.1M50.4 596.3h.1M55.1 608.1h.1M48.2 614.0h.1M48.7 615.0h.1M51.6 620.3h.1M47.3 609.9h.1M47.1 599.6h.1M49.6 605.5h.1M47.4 609.6h.1M58.4 611.5h.1M49.0 618.6h.1M45.5 616.7h.1M51.3 601.6h.1M52.0 606.9h.1M56.3 610.7h.1M50.6 612.3h.1M50.8 601.0h.1M47.2 601.1h.1M52.9 604.8h.1M55.0 599.0h.1M52.2 609.3h.1M52.6 609.2h.1M40.8 599.3h.1M49.0 607.4h.1M56.9 620.0h.1M49.3 605.8h.1M55.4 604.0h.1M56.5 606.4h.1M51.9 610.5h.1M58.9 608.0h.1M49.1 614.8h.1M54.1 602.3h.1M45.9 606.4h.1M49.7 602.9h.1M53.0 611.3h.1M57.4 608.0h.1M47.8 599.7h.1M46.3 610.3h.1M45.1 603.1h.1M46.6 604.4h.1M49.9 604.8h.1M58.2 611.7h.1M50.4 600.9h.1M54.1 605.2h.1M51.5 600.5h.1M53.6 608.8h.1M54.4 607.6h.1M52.7 600.8h.1M56.2 608.9h.1M58.6 605.4h.1M50.6 613.0h.1M50.2 610.0h.1M51.6 606.0h.1M43.4 609.1h.1M52.2 599.0h.1M56.6 595.2h.1M50.8 620.2h.1M55.5 603.0h.1M55.1 612.1h.1M39.3 607.4h.1M52.2 615.8h.1M52.3 599.6h.1M50.2 618.7h.1M51.8 617.9h.1M55.6 602.6h.1M54.9 608.4h.1M54.2 608.4h.1M48.9 612.7h.1M52.4 605.4h.1M51.9 604.3h.1M51.9 606.2h.1M46.6 616.9h.1M52.9 605.7h.1M45.6 614.9h.1M53.9 612.5h.1M51.8 611.6h.1M49.9 607.2h.1M57.9 619.3h.1M52.4 599.6h.1M53.3 609.2h.1M48.2 601.8h.1M61.8 607.9h.1M49.9 610.1h.1M46.4 597.8h.1M49.3 612.3h.1M56.1 608.9h.1M59.2 599.1h.1M47.6 615.8h.1M55.2 606.8h.1M53.9 603.5h.1M60.0 604.4h.1M55.8 606.0h.1M49.7 599.1h.1M50.9 606.1h.1M48.6 598.4h.1M46.9 597.7h.1M57.3 605.2h.1M49.2 612.1h.1M53.1 610.6h.1M56.1 606.2h.1M44.2 609.3h.1M52.3 605.4h.1M48.0 610.6h.1M52.5 616.3h.1M46.6 599.7h.1M53.6 609.7h.1M50.4 613.2h.1M51.9 613.6h.1M51.2 608.6h.1M54.2 600.9h.1M55.7 603.1h.1M55.3 601.2h.1M43.0 607.4h.1M45.3 618.6h.1M44.1 599.9h.1M55.9 610.8h.1M49.2 616.3h.1M58.4 601.2h.1M50.9 608.4h.1M54.6 606.4h.1M54.3 600.5h.1" stroke="#eae21a" stroke-width="0.75" stroke-linecap="round"/>
<path d="M58.3 589.7h.1M56.1 598.3h.1M52.5 597.2h.1M56.6 584.6h.1M54.7 593.4h.1M58.3 598.2h.1M54.5 590.9h.1M58.7 596.1h.1M55.3 589.5h.1M58.7 594.9h.1M57.9 591.3h.1M54.4 591.0h.1M52.9 596.3h.1M57.6 595.1h.1M47.6 586.8h.1M59.2 593.8h.1M60.9 588.3h.1M53.2 596.1h.1M50.4 604.9h.1M57.0 600.3h.1M64.8 597.2h.1M59.8 592.8h.1M63.0 594.4h.1M54.0 595.7h.1M54.9 597.1h.1M54.9 592.6h.1M57.1 595.0h.1M55.4 592.0h.1M66.4 598.2h.1M57.9 589.4h.1M52.6 597.3h.1M55.0 601.1h.1M55.6 593.3h.1M56.5 598.4h.1M53.2 598.2h.1M56.2 594.9h.1M54.4 597.7h.1M63.6 596.9h.1M53.6 587.4h.1M57.5 597.2h.1M57.5 597.5h.1M54.9 598.8h.1M59.7 593.7h.1M54.4 597.8h.1M60.6 594.9h.1M59.5 595.6h.1M53.8 592.1h.1M58.2 588.5h.1M57.8 597.0h.1M59.6 599.9h.1M53.7 594.0h.1M61.5 598.1h.1M57.5 595.1h.1M60.3 595.9h.1M57.3 595.7h.1M57.5 588.8h.1M50.9 596.8h.1M62.6 597.2h.1M57.3 597.1h.1M54.8 597.1h.1M60.5 593.7h.1M51.4 595.9h.1M54.4 595.4h.1M53.6 597.8h.1M63.9 592.9h.1M59.5 596.4h.1M57.3 591.0h.1M59.2 587.1h.1M60.7 598.0h.1M55.5 599.9h.1M57.0 596.9h.1M60.8 591.9h.1M56.1 591.6h.1M56.5 596.2h.1M62.4 594.9h.1M57.5 593.7h.1M60.1 596.4h.1M59.2 598.8h.1M53.3 599.7h.1M57.5 598.9h.1M54.8 595.6h.1M55.4 596.5h.1M54.8 598.0h.1M52.7 596.9h.1M60.4 593.2h.1M56.7 599.1h.1M58.3 601.3h.1M59.2 596.1h.1M61.0 594.3h.1M56.3 595.6h.1M57.3 601.5h.1M60.0 598.8h.1M57.8 600.6h.1M57.7 596.5h.1M56.5 603.5h.1M60.0 596.6h.1M61.5 593.6h.1M61.0 597.0h.1M55.5 596.9h.1M57.5 596.5h.1" stroke="#eae21a" stroke-width="0.75" stroke-linecap="round"/>
<path d="M42.3 598.4h.1M50.5 597.9h.1M40.9 602.1h.1M50.3 605.0h.1M50.7 599.7h.1M46.9 596.5h.1M45.5 596.4h.1M45.3 596.5h.1M45.1 600.2h.1M45.7 601.9h.1M46.4 598.8h.1M45.8 597.4h.1M49.8 598.8h.1M47.0 598.6h.1M50.6 603.8h.1M48.0 598.3h.1M42.5 602.0h.1M50.9 601.9h.1M44.5 594.2h.1M52.2 599.9h.1M51.1 603.1h.1M48.3 601.7h.1M48.4 597.3h.1M41.5 602.4h.1M48.5 598.3h.1M51.8 593.4h.1M46.1 598.4h.1M43.2 599.3h.1M45.9 604.0h.1M48.3 601.0h.1M49.6 599.3h.1M50.1 603.5h.1M48.0 597.4h.1M46.6 600.0h.1M53.5 600.5h.1M51.5 598.8h.1M45.8 597.7h.1M45.4 603.8h.1M47.3 599.0h.1M47.8 600.6h.1M46.0 597.2h.1M50.2 601.3h.1M51.7 598.4h.1M46.5 596.5h.1M48.2 603.0h.1M40.3 602.0h.1M47.7 600.1h.1M48.2 600.2h.1M45.3 603.3h.1M47.1 595.5h.1" stroke="#eee636" stroke-width="0.75" stroke-linecap="round"/>
<path d="M44.7 630.0h.1M39.7 626.1h.1M41.7 630.4h.1M41.2 629.5h.1M46.8 627.9h.1M43.0 627.6h.1M45.3 631.8h.1M45.0 627.4h.1M40.8 631.7h.1M44.0 628.1h.1M43.0 629.8h.1M46.3 627.0h.1M43.5 624.3h.1M39.2 627.2h.1M36.8 629.6h.1M41.3 625.9h.1M41.6 633.8h.1M38.3 627.7h.1M44.4 628.9h.1M36.0 631.2h.1M43.3 627.7h.1M40.3 629.1h.1M38.5 630.8h.1M41.7 622.7h.1M39.1 624.3h.1M42.8 630.4h.1M40.8 628.1h.1M38.9 631.8h.1M47.7 620.3h.1M40.5 627.0h.1M37.9 625.4h.1M43.1 635.4h.1M43.5 633.4h.1M47.5 625.5h.1M42.1 624.7h.1M36.5 632.3h.1M40.0 628.2h.1M41.4 629.3h.1M44.8 627.0h.1M40.9 628.2h.1M40.8 626.4h.1M43.5 634.6h.1M38.2 628.5h.1M41.8 629.6h.1M40.5 631.4h.1M45.7 624.1h.1M38.3 629.3h.1M40.6 621.6h.1M42.1 624.7h.1M40.1 630.0h.1M38.0 633.2h.1M41.1 628.4h.1M41.8 624.4h.1M40.4 619.4h.1M45.2 625.1h.1M48.5 628.9h.1M45.5 629.5h.1M43.1 628.3h.1M44.9 623.3h.1M40.6 626.3h.1M42.1 631.4h.1M42.8 625.3h.1M36.9 624.0h.1M44.5 630.3h.1M42.0 633.3h.1M38.4 637.0h.1M39.1 635.0h.1M39.1 630.7h.1M41.9 621.5h.1M40.8 625.6h.1M40.9 628.5h.1M42.6 632.4h.1M46.6 622.9h.1M41.5 634.3h.1M46.6 627.4h.1M44.2 624.7h.1M43.4 622.8h.1M38.8 626.8h.1M38.9 625.5h.1M41.2 627.6h.1M41.6 625.5h.1M46.9 633.5h.1M44.6 621.7h.1M40.5 629.0h.1M40.9 629.5h.1M39.8 629.0h.1M36.2 631.6h.1M43.6 627.2h.1M37.1 623.4h.1M45.7 627.4h.1M42.0 626.0h.1M40.5 634.2h.1M43.2 626.5h.1M45.7 622.0h.1M45.6 631.0h.1M40.4 635.1h.1M37.2 633.7h.1M41.5 625.0h.1M38.1 628.3h.1M37.1 631.9h.1" stroke="#eae21a" stroke-width="0.75" stroke-linecap="round"/>
<path d="M55.9 635.6h.1M53.7 629.9h.1M48.9 627.2h.1M52.8 630.0h.1M54.6 627.1h.1M51.0 627.5h.1M50.4 630.9h.1M54.7 634.2h.1M55.8 627.9h.1M53.0 633.0h.1M47.4 629.6h.1M53.6 627.1h.1M56.5 627.2h.1M51.7 625.7h.1M53.3 630.4h.1M44.2 634.0h.1M49.4 633.4h.1M55.4 633.4h.1M52.5 629.6h.1M51.1 632.7h.1M52.2 629.2h.1M57.4 626.2h.1M46.2 625.2h.1M53.9 628.5h.1M49.4 630.2h.1M57.4 626.8h.1M52.9 632.2h.1M55.5 633.6h.1M51.0 631.1h.1M53.6 630.8h.1M45.7 629.5h.1M51.4 630.8h.1M53.5 632.8h.1M45.9 627.6h.1M56.7 626.8h.1M50.1 628.9h.1M54.8 627.9h.1M48.8 629.5h.1M50.0 638.2h.1M47.0 630.2h.1M51.1 633.3h.1M54.3 635.0h.1M48.5 629.3h.1M49.5 634.7h.1M47.5 635.9h.1M54.5 630.5h.1M52.0 628.1h.1M54.0 631.0h.1M50.4 626.8h.1M53.0 630.7h.1M50.9 634.7h.1M53.2 626.9h.1M51.7 634.6h.1M53.6 625.1h.1M47.6 628.9h.1M50.4 634.8h.1M47.4 635.1h.1M56.1 627.8h.1M56.0 635.8h.1M57.8 632.1h.1M50.9 632.7h.1M52.8 633.7h.1M50.0 629.9h.1M54.0 631.7h.1M48.5 629.9h.1M51.7 632.5h.1M55.0 638.1h.1M50.0 630.4h.1M52.4 628.3h.1M48.1 628.4h.1M53.9 633.7h.1M46.4 636.5h.1M49.0 632.4h.1M50.0 632.2h.1M55.5 632.0h.1M55.8 628.8h.1M50.3 631.9h.1M53.2 635.9h.1M48.7 627.7h.1M48.6 629.2h.1" stroke="#eee636" stroke-width="0.75" stroke-linecap="round"/>
<path d="M56.8 620.5h.1M56.5 623.7h.1M59.2 618.6h.1M55.1 619.5h.1M60.3 616.5h.1M57.4 620.6h.1M59.5 618.9h.1M55.2 615.5h.1M61.8 619.1h.1M55.2 619.3h.1M57.0 619.0h.1M59.0 619.4h.1M63.7 616.4h.1M59.2 621.6h.1M58.3 619.3h.1M59.3 617.0h.1M59.4 616.3h.1M58.2 617.8h.1M56.8 618.4h.1M57.3 619.6h.1M61.6 616.5h.1M57.9 620.5h.1M57.6 618.5h.1M57.9 617.8h.1M58.7 612.8h.1M62.0 619.1h.1M55.2 621.8h.1M59.4 621.9h.1M55.8 619.7h.1M59.9 618.9h.1M56.9 613.7h.1M58.9 614.2h.1M59.4 615.8h.1M58.7 620.0h.1M59.4 623.5h.1M61.2 618.7h.1M55.8 624.4h.1M60.9 620.0h.1M58.3 622.6h.1M56.1 621.3h.1M60.8 625.3h.1M56.2 621.3h.1M53.8 616.1h.1M55.5 619.1h.1M60.1 619.3h.1M56.9 621.8h.1M59.6 621.5h.1M58.0 616.2h.1M59.1 619.0h.1M60.6 623.2h.1" stroke="#eae21a" stroke-width="0.75" stroke-linecap="round"/>
<path d="M76.7 635.9h.1M74.1 627.8h.1M65.6 630.5h.1M72.1 626.6h.1M68.6 632.3h.1M80.6 626.5h.1M64.4 626.9h.1M75.2 631.0h.1M77.2 629.1h.1M66.6 625.0h.1M71.5 626.8h.1M73.3 637.3h.1M67.6 629.7h.1M78.3 625.0h.1M75.4 626.8h.1M68.2 625.6h.1M64.9 627.8h.1M74.9 626.7h.1M72.9 629.9h.1M80.7 634.6h.1M73.7 631.0h.1M71.4 627.2h.1M81.4 627.3h.1M74.3 629.9h.1M77.0 630.7h.1M67.6 626.2h.1M77.6 626.6h.1M73.3 624.5h.1M70.1 632.1h.1M63.5 626.6h.1M70.4 630.6h.1M67.9 625.8h.1M65.4 632.1h.1M74.2 630.7h.1M73.4 628.3h.1M83.5 621.2h.1M77.4 634.4h.1M79.2 627.0h.1M77.9 633.2h.1M79.8 626.6h.1M75.4 620.4h.1M62.1 632.0h.1M73.2 624.2h.1M71.9 625.6h.1M80.3 624.3h.1M75.3 625.1h.1M81.6 630.1h.1M72.8 629.8h.1M72.7 625.8h.1M73.1 624.8h.1M77.7 636.3h.1M62.9 632.2h.1M72.3 623.7h.1M71.1 629.7h.1M73.0 626.3h.1M75.3 624.8h.1M71.4 634.0h.1M78.2 623.4h.1M76.7 628.2h.1M66.0 628.4h.1M73.1 626.3h.1M82.3 627.6h.1M67.4 625.2h.1M69.0 627.0h.1M71.1 631.1h.1M76.1 625.3h.1M69.2 631.1h.1M68.7 630.3h.1M69.3 623.9h.1M70.0 626.3h.1M67.5 630.7h.1M66.0 624.6h.1M70.6 630.9h.1M73.0 629.3h.1M66.4 632.7h.1M70.1 619.7h.1M71.5 622.1h.1M70.6 627.7h.1M77.8 624.8h.1M71.3 624.6h.1M63.2 621.8h.1M72.4 631.1h.1M68.6 622.6h.1M82.4 630.8h.1M70.7 624.1h.1M72.2 629.1h.1M73.6 635.0h.1M71.3 633.6h.1M71.3 632.4h.1M72.7 627.9h.1M66.5 625.5h.1M72.6 628.6h.1M65.7 628.0h.1M77.3 627.9h.1M77.0 630.5h.1M82.9 630.3h.1M76.3 621.4h.1M74.4 631.6h.1M80.6 624.8h.1M70.7 627.5h.1M74.5 627.1h.1M76.8 629.1h.1M70.4 630.2h.1M83.0 630.9h.1M72.5 622.3h.1M74.1 625.3h.1M67.8 624.5h.1M71.4 627.0h.1M69.6 625.7h.1M75.4 624.5h.1M87.5 632.7h.1M71.3 622.1h.1M79.1 630.1h.1M69.3 634.6h.1M70.9 627.9h.1M69.0 624.9h.1M67.8 625.9h.1M57.5 628.2h.1M66.2 627.5h.1M75.5 627.5h.1M71.6 630.6h.1M71.4 624.4h.1M65.1 627.9h.1M70.1 628.7h.1M70.6 626.7h.1M77.5 628.2h.1M66.4 624.7h.1M67.9 626.8h.1M81.0 628.2h.1M71.9 627.3h.1M75.2 630.0h.1M70.2 629.3h.1M64.7 628.0h.1M71.3 630.4h.1M67.7 634.6h.1M67.2 623.8h.1M70.7 631.0h.1M70.5 627.2h.1M78.2 629.0h.1M76.7 630.6h.1M76.2 629.9h.1M73.4 635.8h.1M76.9 630.9h.1M75.8 626.0h.1M63.4 627.7h.1M65.9 634.1h.1M65.8 629.6h.1M75.9 629.1h.1M79.7 631.6h.1M67.1 628.7h.1M64.5 626.9h.1M74.9 632.1h.1M74.6 628.8h.1M65.9 631.5h.1M72.6 623.1h.1M72.6 631.1h.1M65.4 630.1h.1M73.0 630.0h.1M63.0 627.2h.1M74.8 631.3h.1M76.5 624.3h.1M75.9 623.6h.1M69.1 623.7h.1M65.2 621.8h.1M66.8 626.2h.1M66.1 625.2h.1M66.3 629.0h.1M80.3 619.1h.1M72.1 629.6h.1M73.4 625.6h.1M60.0 630.4h.1M73.7 621.6h.1M82.5 624.3h.1M64.3 628.4h.1M71.5 631.1h.1M77.2 625.3h.1M71.4 633.4h.1M71.3 632.4h.1M73.6 626.4h.1M80.5 622.5h.1M62.4 627.8h.1M71.9 627.3h.1M75.6 631.5h.1M63.4 629.9h.1M77.9 627.9h.1M68.3 626.4h.1M72.2 629.3h.1M69.9 626.4h.1M67.2 633.7h.1" stroke="#eae21a" stroke-width="0.75" stroke-linecap="round"/>
<path d="M79.3 635.2h.1M78.1 631.9h.1M83.1 630.4h.1M79.6 629.3h.1M79.5 636.3h.1M86.1 632.0h.1M82.4 628.9h.1M82.3 626.2h.1M82.7 630.8h.1M84.8 633.5h.1M77.4 627.0h.1M77.2 627.1h.1M80.7 631.3h.1M91.4 631.0h.1M84.2 634.4h.1M83.2 627.1h.1M80.5 633.5h.1M87.8 629.3h.1M77.8 632.8h.1M83.3 630.3h.1M81.0 628.3h.1M82.2 629.9h.1M78.3 631.9h.1M83.0 630.7h.1M78.7 631.5h.1M81.7 630.2h.1M83.7 628.8h.1M77.4 630.8h.1M78.9 625.3h.1M82.1 632.2h.1M85.8 625.7h.1M83.1 632.9h.1M78.6 631.0h.1M82.8 625.7h.1M88.0 630.4h.1M76.5 632.8h.1M88.0 626.6h.1M83.8 627.2h.1M76.2 631.0h.1M82.8 631.2h.1M80.7 632.0h.1M77.1 636.8h.1M81.7 632.3h.1M78.4 631.0h.1M73.1 632.5h.1M81.7 633.3h.1M81.7 633.2h.1M85.7 632.5h.1M88.5 626.7h.1M79.5 632.8h.1M89.8 634.1h.1M79.4 629.3h.1M71.9 635.8h.1M74.4 631.5h.1M80.9 631.0h.1M78.3 633.9h.1M79.4 631.7h.1M77.7 634.9h.1M86.5 629.3h.1M75.9 627.6h.1M80.1 632.6h.1M76.6 632.0h.1M80.9 625.4h.1M86.3 628.2h.1M80.6 628.2h.1M85.2 629.3h.1M84.7 630.0h.1M82.1 632.0h.1M81.1 631.5h.1M81.6 628.4h.1M82.2 627.2h.1M79.1 627.3h.1M81.6 627.6h.1M83.2 630.0h.1M76.4 631.9h.1M86.8 633.5h.1M80.5 635.4h.1M83.9 626.7h.1" stroke="#eae21a" stroke-width="0.75" stroke-linecap="round"/>
<path d="M68.2 621.1h.1M65.1 625.0h.1M64.7 620.4h.1M64.8 616.6h.1M63.1 618.6h.1M66.2 625.4h.1M69.6 623.0h.1M70.5 624.9h.1M66.1 624.5h.1M67.5 624.4h.1M67.2 621.0h.1M69.3 619.1h.1M68.1 616.0h.1M69.5 619.5h.1M72.5 625.3h.1M65.0 618.5h.1M68.5 623.2h.1M70.9 618.6h.1M67.8 620.7h.1M67.6 618.8h.1M73.4 621.1h.1M63.8 616.8h.1M68.2 622.3h.1M66.6 626.6h.1M71.9 621.6h.1M68.2 619.6h.1M61.0 618.0h.1M70.5 619.9h.1M66.9 624.6h.1M70.5 617.7h.1M67.6 620.6h.1M65.9 622.6h.1M66.7 615.6h.1M66.7 621.0h.1M66.9 623.8h.1M65.5 618.7h.1M67.8 623.8h.1M68.4 617.5h.1M66.1 627.5h.1M69.1 622.9h.1M70.5 617.4h.1M65.3 624.0h.1M65.0 622.6h.1M67.5 621.3h.1M65.0 622.7h.1M67.4 620.2h.1M65.8 624.1h.1M66.5 620.7h.1M65.1 619.9h.1M69.1 622.7h.1" stroke="#c0d628" stroke-width="0.75" stroke-linecap="round"/>
<path d="M85.3 621.6h.1M83.9 622.9h.1M87.3 622.6h.1M84.9 619.6h.1M87.1 621.5h.1M86.3 630.2h.1M86.9 623.1h.1M88.0 617.8h.1M86.5 625.5h.1M88.1 620.8h.1M87.6 620.8h.1M83.1 621.8h.1M88.3 624.2h.1M84.5 625.2h.1M84.8 622.7h.1M85.2 622.6h.1M86.6 620.2h.1M85.7 614.7h.1M87.0 626.3h.1M88.4 619.4h.1M85.7 618.9h.1M86.5 622.5h.1M84.5 627.8h.1M88.5 619.7h.1M85.5 617.9h.1M85.0 624.3h.1M91.4 623.1h.1M85.0 618.2h.1M84.8 619.2h.1M82.3 621.2h.1" stroke="#c0d628" stroke-width="0.75" stroke-linecap="round"/>
<path d="M86.7 605.5h.1M73.1 592.8h.1M84.0 604.5h.1M85.5 611.0h.1M85.0 599.4h.1M84.6 599.7h.1M78.9 591.3h.1M78.5 592.2h.1M77.7 592.6h.1M82.5 606.9h.1M84.0 597.7h.1M84.9 610.9h.1M85.6 603.5h.1M86.2 599.9h.1M79.8 592.1h.1M83.6 607.0h.1M85.0 602.8h.1M74.4 593.0h.1M76.6 592.5h.1M84.5 595.5h.1M85.0 604.8h.1M78.1 594.0h.1M84.6 602.2h.1M80.2 600.0h.1M83.5 609.4h.1M86.3 607.2h.1M83.5 611.3h.1M75.4 594.6h.1M84.0 593.5h.1M79.4 595.2h.1M83.2 606.5h.1M85.8 599.5h.1M84.3 606.1h.1M76.7 593.7h.1M86.1 605.1h.1M84.9 597.7h.1M83.6 600.9h.1M80.9 594.7h.1M81.7 592.6h.1M87.3 606.2h.1M83.3 595.8h.1M84.1 603.8h.1M76.0 589.6h.1M84.0 598.9h.1M83.5 594.4h.1M83.4 597.7h.1M85.2 600.9h.1M85.1 602.9h.1M78.0 592.9h.1M76.2 594.0h.1M78.4 596.5h.1M86.4 608.6h.1M75.6 591.2h.1M84.0 603.7h.1M85.1 610.4h.1M81.1 596.2h.1M75.6 590.4h.1M74.4 594.0h.1M85.0 601.5h.1M84.4 597.6h.1M81.6 592.6h.1M83.2 598.4h.1M86.3 607.6h.1M86.8 607.8h.1M85.7 602.2h.1M86.0 597.8h.1M85.5 610.1h.1M84.7 608.0h.1M84.3 607.3h.1M85.0 599.6h.1M79.5 595.3h.1M74.3 591.0h.1M86.3 611.7h.1M83.9 607.0h.1M82.3 598.2h.1M76.9 591.1h.1M80.0 592.5h.1M85.1 605.3h.1M84.2 598.6h.1M84.0 599.7h.1M80.4 595.7h.1M86.7 610.2h.1M82.4 596.8h.1M85.1 608.6h.1M84.5 610.1h.1M80.1 592.0h.1M84.5 609.4h.1M86.7 601.7h.1M87.3 608.0h.1M84.3 600.1h.1M81.7 596.2h.1M84.6 608.2h.1M83.7 599.4h.1M85.8 606.1h.1M85.0 603.9h.1M75.9 592.8h.1M86.1 602.4h.1M80.6 595.9h.1M76.6 592.8h.1M84.3 604.9h.1M85.1 610.9h.1M83.0 604.8h.1M84.1 601.1h.1M80.5 598.1h.1M74.5 591.7h.1M83.0 597.2h.1M79.1 593.5h.1M86.4 607.5h.1M74.3 594.3h.1M74.0 590.2h.1M83.1 608.5h.1M87.5 605.4h.1M80.3 595.2h.1M86.0 604.7h.1M79.3 595.6h.1M84.5 597.1h.1M83.4 599.5h.1M87.1 609.0h.1M74.3 589.9h.1M81.9 594.6h.1" stroke="#64a82a" stroke-width="0.75" stroke-linecap="round"/>
<path d="M70.6 608.3h.1M69.8 599.8h.1M73.5 612.3h.1M69.8 606.5h.1M68.8 605.6h.1M70.7 606.5h.1M72.7 600.3h.1M69.6 601.8h.1M66.2 605.3h.1M62.4 607.2h.1M65.0 607.5h.1M74.1 608.0h.1M68.3 601.9h.1M72.9 610.4h.1M65.9 603.4h.1M70.2 605.3h.1M71.4 605.6h.1M62.5 605.0h.1M67.9 606.3h.1M73.1 604.3h.1M69.8 606.5h.1M66.9 606.3h.1M67.0 609.7h.1M68.6 603.8h.1M68.3 602.4h.1M74.9 604.2h.1M71.2 606.2h.1M69.9 607.4h.1M63.2 608.8h.1M72.6 599.9h.1M71.9 603.3h.1M65.6 605.8h.1M66.6 616.4h.1M66.1 607.3h.1M72.1 609.1h.1M67.1 605.6h.1M65.8 608.5h.1M73.5 601.6h.1M70.0 598.5h.1M69.6 598.3h.1M69.2 597.6h.1M69.7 602.1h.1M74.7 602.5h.1M70.6 604.2h.1M75.5 600.9h.1M74.0 603.1h.1M72.1 601.3h.1M68.8 609.1h.1M68.0 610.2h.1M68.5 601.3h.1M68.0 599.8h.1M70.0 604.6h.1M74.3 601.3h.1M66.9 611.2h.1M68.2 601.3h.1M66.4 605.8h.1M65.9 602.0h.1M71.0 601.7h.1M69.8 603.7h.1M69.2 602.8h.1M69.5 605.0h.1M69.6 600.7h.1M69.9 595.6h.1M73.3 600.7h.1M68.8 607.9h.1M75.3 607.2h.1M66.0 603.6h.1M72.5 606.6h.1M68.7 599.7h.1M69.2 600.0h.1M70.5 609.2h.1M68.6 612.6h.1M74.7 606.8h.1M70.6 612.6h.1M69.9 610.1h.1M74.3 603.9h.1M75.8 609.0h.1M71.4 602.0h.1M75.7 602.6h.1M67.6 604.6h.1M63.6 611.0h.1M72.0 604.9h.1M67.1 605.0h.1M67.8 591.6h.1M64.0 608.5h.1M66.4 611.9h.1M71.2 601.5h.1M71.9 604.3h.1M71.4 611.9h.1M70.8 607.9h.1M74.9 602.3h.1M64.8 600.8h.1M70.8 611.6h.1M70.9 606.9h.1M69.6 605.1h.1M67.4 612.1h.1M73.6 598.8h.1M71.1 608.4h.1M70.8 605.5h.1M68.6 610.8h.1M74.5 603.3h.1M71.8 611.5h.1M69.1 609.4h.1M64.7 598.9h.1M76.0 614.7h.1M69.1 605.9h.1M73.2 611.4h.1M71.3 606.1h.1M72.7 598.1h.1M71.5 604.7h.1" stroke="#7cb42c" stroke-width="0.75" stroke-linecap="round"/>
<path d="M74.8 611.1h.1M76.0 608.2h.1M77.2 617.2h.1M69.6 611.4h.1M74.5 609.7h.1M74.5 611.6h.1M69.9 612.2h.1M76.9 609.9h.1M79.2 613.3h.1M78.0 610.3h.1M74.4 612.5h.1M76.9 611.8h.1M76.5 617.8h.1M76.1 611.9h.1M78.2 608.1h.1M74.3 611.8h.1M78.8 612.9h.1M71.0 612.4h.1M76.6 616.6h.1M77.8 611.7h.1M85.4 617.5h.1M77.1 610.8h.1M78.9 615.4h.1M75.4 609.6h.1M81.0 611.0h.1M73.6 609.2h.1M75.2 613.1h.1M74.8 616.2h.1M72.5 615.5h.1M77.0 609.1h.1M76.9 610.8h.1M77.5 610.5h.1M69.7 613.0h.1M70.3 613.4h.1M84.0 610.1h.1M77.0 610.3h.1M73.9 613.1h.1M75.3 609.2h.1M75.0 612.0h.1M72.4 613.2h.1M76.0 613.4h.1M71.3 610.6h.1M74.1 615.6h.1M81.3 612.9h.1M70.6 611.7h.1M78.7 610.7h.1M72.0 614.6h.1M72.7 611.2h.1M79.9 606.3h.1M71.9 616.6h.1M77.1 612.1h.1M73.7 612.4h.1M81.5 612.6h.1M75.3 614.1h.1M74.2 610.0h.1M76.6 609.3h.1M75.9 611.2h.1M74.1 604.7h.1M77.6 607.4h.1M74.0 614.0h.1M75.3 611.5h.1M78.2 609.2h.1M75.2 610.6h.1M73.4 616.1h.1M75.3 610.3h.1M72.0 610.3h.1M78.3 614.2h.1M71.4 611.6h.1M70.8 614.7h.1M79.6 615.6h.1M72.5 612.5h.1M77.8 612.1h.1M77.6 611.4h.1M72.2 612.0h.1M78.5 608.3h.1M73.2 610.5h.1M76.9 608.7h.1M78.0 613.4h.1M80.1 609.2h.1M73.0 612.5h.1" stroke="#88ba2c" stroke-width="0.75" stroke-linecap="round"/>
<path d="M76.7 604.3h.1M83.8 609.7h.1M77.8 606.0h.1M80.3 602.3h.1M74.4 605.4h.1M80.9 607.1h.1M74.2 596.0h.1M78.1 604.5h.1M80.2 603.7h.1M75.4 604.0h.1M78.6 603.0h.1M82.4 599.9h.1M77.5 600.1h.1M79.4 602.9h.1M79.5 607.4h.1M74.4 603.2h.1M78.3 605.7h.1M79.0 601.9h.1M83.2 603.1h.1M75.0 602.3h.1M79.0 603.3h.1M78.6 603.8h.1M79.1 605.3h.1M80.3 601.9h.1M80.4 602.4h.1M75.9 602.6h.1M80.6 601.7h.1M79.5 605.0h.1M78.9 600.4h.1M83.1 597.0h.1M76.6 600.9h.1M78.7 599.0h.1M78.4 601.8h.1M76.5 602.2h.1M81.7 601.5h.1M77.5 601.4h.1M79.7 603.1h.1M77.9 603.3h.1M79.1 599.1h.1M78.4 601.8h.1" stroke="#a0c630" stroke-width="0.75" stroke-linecap="round"/>
<rect x="32.30" y="582.70" width="62.30" height="57.10" fill="none" stroke="#1a1a1a" stroke-width="1.0"/>
<text x="63.45" y="577.70" font-size="8.4" text-anchor="middle" font-weight="normal" textLength="27.00" lengthAdjust="spacingAndGlyphs">Vehicle</text>
<line x1="30.10" y1="639.20" x2="32.30" y2="639.20" stroke="#222" stroke-width="0.8"/>
<text x="29.10" y="641.60" font-size="6.8" text-anchor="end" fill="#333" stroke="#333" stroke-width="0.122" textLength="3.20" lengthAdjust="spacingAndGlyphs">0</text>
<line x1="30.10" y1="628.30" x2="32.30" y2="628.30" stroke="#222" stroke-width="0.8"/>
<text x="29.10" y="630.70" font-size="6.8" text-anchor="end" fill="#333" stroke="#333" stroke-width="0.122" textLength="6.40" lengthAdjust="spacingAndGlyphs">10</text>
<line x1="30.10" y1="616.70" x2="32.30" y2="616.70" stroke="#222" stroke-width="0.8"/>
<text x="29.10" y="619.10" font-size="6.8" text-anchor="end" fill="#333" stroke="#333" stroke-width="0.122" textLength="6.40" lengthAdjust="spacingAndGlyphs">20</text>
<line x1="30.10" y1="605.60" x2="32.30" y2="605.60" stroke="#222" stroke-width="0.8"/>
<text x="29.10" y="608.00" font-size="6.8" text-anchor="end" fill="#333" stroke="#333" stroke-width="0.122" textLength="6.40" lengthAdjust="spacingAndGlyphs">30</text>
<line x1="30.10" y1="593.70" x2="32.30" y2="593.70" stroke="#222" stroke-width="0.8"/>
<text x="29.10" y="596.10" font-size="6.8" text-anchor="end" fill="#333" stroke="#333" stroke-width="0.122" textLength="6.40" lengthAdjust="spacingAndGlyphs">40</text>
<line x1="32.70" y1="639.80" x2="32.70" y2="642.00" stroke="#222" stroke-width="0.8"/>
<text x="32.70" y="650.40" font-size="7.0" text-anchor="middle" fill="#333" stroke="#333" stroke-width="0.126" textLength="3.30" lengthAdjust="spacingAndGlyphs">0</text>
<line x1="43.60" y1="639.80" x2="43.60" y2="642.00" stroke="#222" stroke-width="0.8"/>
<text x="43.60" y="650.40" font-size="7.0" text-anchor="middle" fill="#333" stroke="#333" stroke-width="0.126" textLength="6.60" lengthAdjust="spacingAndGlyphs">10</text>
<line x1="54.40" y1="639.80" x2="54.40" y2="642.00" stroke="#222" stroke-width="0.8"/>
<text x="54.40" y="650.40" font-size="7.0" text-anchor="middle" fill="#333" stroke="#333" stroke-width="0.126" textLength="6.60" lengthAdjust="spacingAndGlyphs">20</text>
<line x1="65.30" y1="639.80" x2="65.30" y2="642.00" stroke="#222" stroke-width="0.8"/>
<text x="65.30" y="650.40" font-size="7.0" text-anchor="middle" fill="#333" stroke="#333" stroke-width="0.126" textLength="6.60" lengthAdjust="spacingAndGlyphs">30</text>
<line x1="76.10" y1="639.80" x2="76.10" y2="642.00" stroke="#222" stroke-width="0.8"/>
<text x="76.10" y="650.40" font-size="7.0" text-anchor="middle" fill="#333" stroke="#333" stroke-width="0.126" textLength="6.60" lengthAdjust="spacingAndGlyphs">40</text>
<line x1="87.00" y1="639.80" x2="87.00" y2="642.00" stroke="#222" stroke-width="0.8"/>
<text x="87.00" y="650.40" font-size="7.0" text-anchor="middle" fill="#333" stroke="#333" stroke-width="0.126" textLength="6.60" lengthAdjust="spacingAndGlyphs">50</text>
<line x1="31.10" y1="639.20" x2="32.30" y2="639.20" stroke="#222" stroke-width="0.6"/>
<line x1="31.10" y1="637.02" x2="32.30" y2="637.02" stroke="#222" stroke-width="0.6"/>
<line x1="31.10" y1="634.84" x2="32.30" y2="634.84" stroke="#222" stroke-width="0.6"/>
<line x1="31.10" y1="632.66" x2="32.30" y2="632.66" stroke="#222" stroke-width="0.6"/>
<line x1="31.10" y1="630.48" x2="32.30" y2="630.48" stroke="#222" stroke-width="0.6"/>
<line x1="31.10" y1="628.30" x2="32.30" y2="628.30" stroke="#222" stroke-width="0.6"/>
<line x1="31.10" y1="626.12" x2="32.30" y2="626.12" stroke="#222" stroke-width="0.6"/>
<line x1="31.10" y1="623.94" x2="32.30" y2="623.94" stroke="#222" stroke-width="0.6"/>
<line x1="31.10" y1="621.76" x2="32.30" y2="621.76" stroke="#222" stroke-width="0.6"/>
<line x1="31.10" y1="619.58" x2="32.30" y2="619.58" stroke="#222" stroke-width="0.6"/>
<line x1="31.10" y1="617.40" x2="32.30" y2="617.40" stroke="#222" stroke-width="0.6"/>
<line x1="31.10" y1="615.22" x2="32.30" y2="615.22" stroke="#222" stroke-width="0.6"/>
<line x1="31.10" y1="613.04" x2="32.30" y2="613.04" stroke="#222" stroke-width="0.6"/>
<line x1="31.10" y1="610.86" x2="32.30" y2="610.86" stroke="#222" stroke-width="0.6"/>
<line x1="31.10" y1="608.68" x2="32.30" y2="608.68" stroke="#222" stroke-width="0.6"/>
<line x1="31.10" y1="606.50" x2="32.30" y2="606.50" stroke="#222" stroke-width="0.6"/>
<line x1="31.10" y1="604.32" x2="32.30" y2="604.32" stroke="#222" stroke-width="0.6"/>
<line x1="31.10" y1="602.14" x2="32.30" y2="602.14" stroke="#222" stroke-width="0.6"/>
<line x1="31.10" y1="599.96" x2="32.30" y2="599.96" stroke="#222" stroke-width="0.6"/>
<line x1="31.10" y1="597.78" x2="32.30" y2="597.78" stroke="#222" stroke-width="0.6"/>
<line x1="31.10" y1="595.60" x2="32.30" y2="595.60" stroke="#222" stroke-width="0.6"/>
<line x1="31.10" y1="593.42" x2="32.30" y2="593.42" stroke="#222" stroke-width="0.6"/>
<line x1="31.10" y1="591.24" x2="32.30" y2="591.24" stroke="#222" stroke-width="0.6"/>
<line x1="31.10" y1="589.06" x2="32.30" y2="589.06" stroke="#222" stroke-width="0.6"/>
<line x1="31.10" y1="586.88" x2="32.30" y2="586.88" stroke="#222" stroke-width="0.6"/>
<line x1="31.10" y1="584.70" x2="32.30" y2="584.70" stroke="#222" stroke-width="0.6"/>
<line x1="32.70" y1="639.80" x2="32.70" y2="641.00" stroke="#222" stroke-width="0.6"/>
<line x1="34.88" y1="639.80" x2="34.88" y2="641.00" stroke="#222" stroke-width="0.6"/>
<line x1="37.06" y1="639.80" x2="37.06" y2="641.00" stroke="#222" stroke-width="0.6"/>
<line x1="39.24" y1="639.80" x2="39.24" y2="641.00" stroke="#222" stroke-width="0.6"/>
<line x1="41.42" y1="639.80" x2="41.42" y2="641.00" stroke="#222" stroke-width="0.6"/>
<line x1="43.60" y1="639.80" x2="43.60" y2="641.00" stroke="#222" stroke-width="0.6"/>
<line x1="45.78" y1="639.80" x2="45.78" y2="641.00" stroke="#222" stroke-width="0.6"/>
<line x1="47.96" y1="639.80" x2="47.96" y2="641.00" stroke="#222" stroke-width="0.6"/>
<line x1="50.14" y1="639.80" x2="50.14" y2="641.00" stroke="#222" stroke-width="0.6"/>
<line x1="52.32" y1="639.80" x2="52.32" y2="641.00" stroke="#222" stroke-width="0.6"/>
<line x1="54.50" y1="639.80" x2="54.50" y2="641.00" stroke="#222" stroke-width="0.6"/>
<line x1="56.68" y1="639.80" x2="56.68" y2="641.00" stroke="#222" stroke-width="0.6"/>
<line x1="58.86" y1="639.80" x2="58.86" y2="641.00" stroke="#222" stroke-width="0.6"/>
<line x1="61.04" y1="639.80" x2="61.04" y2="641.00" stroke="#222" stroke-width="0.6"/>
<line x1="63.22" y1="639.80" x2="63.22" y2="641.00" stroke="#222" stroke-width="0.6"/>
<line x1="65.40" y1="639.80" x2="65.40" y2="641.00" stroke="#222" stroke-width="0.6"/>
<line x1="67.58" y1="639.80" x2="67.58" y2="641.00" stroke="#222" stroke-width="0.6"/>
<line x1="69.76" y1="639.80" x2="69.76" y2="641.00" stroke="#222" stroke-width="0.6"/>
<line x1="71.94" y1="639.80" x2="71.94" y2="641.00" stroke="#222" stroke-width="0.6"/>
<line x1="74.12" y1="639.80" x2="74.12" y2="641.00" stroke="#222" stroke-width="0.6"/>
<line x1="76.30" y1="639.80" x2="76.30" y2="641.00" stroke="#222" stroke-width="0.6"/>
<line x1="78.48" y1="639.80" x2="78.48" y2="641.00" stroke="#222" stroke-width="0.6"/>
<line x1="80.66" y1="639.80" x2="80.66" y2="641.00" stroke="#222" stroke-width="0.6"/>
<line x1="82.84" y1="639.80" x2="82.84" y2="641.00" stroke="#222" stroke-width="0.6"/>
<line x1="85.02" y1="639.80" x2="85.02" y2="641.00" stroke="#222" stroke-width="0.6"/>
<line x1="87.20" y1="639.80" x2="87.20" y2="641.00" stroke="#222" stroke-width="0.6"/>
<line x1="89.38" y1="639.80" x2="89.38" y2="641.00" stroke="#222" stroke-width="0.6"/>
<line x1="91.56" y1="639.80" x2="91.56" y2="641.00" stroke="#222" stroke-width="0.6"/>
<line x1="93.74" y1="639.80" x2="93.74" y2="641.00" stroke="#222" stroke-width="0.6"/>
<path d="M122.1 603.3h.1M113.9 608.5h.1M113.2 598.7h.1M123.0 605.5h.1M124.4 597.7h.1M129.3 601.0h.1M119.8 601.1h.1M120.9 598.8h.1M126.7 603.9h.1M126.9 595.9h.1M123.0 601.2h.1M121.5 602.7h.1M122.1 601.5h.1M120.2 601.9h.1M121.0 601.8h.1M117.7 602.5h.1M113.1 608.7h.1M121.4 609.1h.1M121.6 595.4h.1M114.8 595.3h.1M118.0 598.5h.1M117.5 603.2h.1M118.3 601.2h.1M113.0 601.0h.1M121.0 602.3h.1M119.7 599.6h.1M117.2 604.5h.1M120.0 602.2h.1M130.2 605.2h.1M119.6 589.9h.1M125.4 597.9h.1M115.3 598.4h.1M119.2 605.3h.1M120.5 598.1h.1M124.5 598.0h.1M115.5 594.0h.1M119.3 598.7h.1M119.9 601.2h.1M129.6 606.5h.1M112.9 591.5h.1M122.0 597.6h.1M130.1 602.4h.1M118.1 600.9h.1M118.1 602.9h.1M118.4 601.9h.1M121.5 588.5h.1M119.2 608.8h.1M116.7 597.0h.1M124.3 600.0h.1M120.9 600.2h.1M122.8 601.4h.1M128.7 604.4h.1M121.1 594.4h.1M121.9 597.1h.1M121.9 604.5h.1M132.7 601.7h.1M118.9 605.7h.1M127.8 604.2h.1M117.9 606.3h.1M120.8 602.7h.1M124.9 599.0h.1M128.9 602.5h.1M120.6 599.3h.1M118.4 600.4h.1M120.8 614.4h.1M123.3 601.7h.1M115.0 606.1h.1M117.3 599.9h.1M126.1 602.6h.1M119.2 601.5h.1M113.1 598.0h.1M120.2 602.9h.1M121.9 591.1h.1M115.4 603.1h.1M118.1 595.9h.1M121.5 604.3h.1M119.8 604.0h.1M122.8 604.5h.1M118.6 609.6h.1M122.4 598.4h.1M121.5 606.7h.1M114.5 600.0h.1M122.4 606.0h.1M121.9 596.5h.1M116.2 610.4h.1M120.0 600.7h.1M117.4 601.0h.1M122.6 597.1h.1M127.0 609.6h.1M123.8 596.1h.1M118.7 599.8h.1M123.7 601.9h.1M115.4 598.5h.1M119.2 600.8h.1M125.0 599.3h.1M126.2 597.4h.1M124.1 600.0h.1M122.2 604.5h.1M115.6 594.4h.1M121.6 594.9h.1M116.3 595.5h.1M119.5 600.4h.1M117.1 598.8h.1M124.3 605.5h.1M122.9 598.8h.1M119.0 594.8h.1M119.3 591.9h.1M120.0 599.2h.1M118.1 597.3h.1M113.4 602.2h.1M120.8 607.3h.1M121.8 600.9h.1M125.9 597.1h.1M112.6 602.9h.1M121.8 603.0h.1M125.9 603.1h.1M120.4 603.3h.1M114.3 600.9h.1M122.8 601.8h.1M118.2 596.5h.1M123.9 608.6h.1M120.8 597.5h.1M123.4 607.7h.1M123.5 598.8h.1M122.0 606.4h.1M119.4 596.8h.1M118.0 601.4h.1M121.0 604.0h.1M120.9 598.9h.1M119.9 606.0h.1M119.7 604.3h.1M120.9 597.8h.1M118.6 599.7h.1M113.8 597.9h.1M117.1 600.9h.1M123.1 602.9h.1M118.0 601.5h.1M114.7 601.6h.1M124.9 605.5h.1M127.0 601.5h.1" stroke="#f2c41e" stroke-width="0.75" stroke-linecap="round"/>
<path d="M140.7 609.8h.1M137.5 609.8h.1M137.4 609.5h.1M128.4 610.2h.1M123.3 607.0h.1M128.4 611.9h.1M130.9 609.9h.1M127.2 615.2h.1M132.0 610.5h.1M119.2 610.8h.1M129.9 610.1h.1M133.4 611.3h.1M136.2 611.5h.1M132.2 610.7h.1M132.5 611.3h.1M131.8 610.8h.1M130.2 611.6h.1M128.2 605.7h.1M130.0 609.6h.1M137.3 606.2h.1M136.9 609.6h.1M126.1 609.0h.1M130.3 612.9h.1M119.9 609.7h.1M130.3 614.6h.1M131.0 603.9h.1M129.3 608.0h.1M131.9 613.3h.1M123.2 600.8h.1M131.5 607.0h.1M132.7 615.1h.1M139.1 612.9h.1M134.1 613.1h.1M131.4 608.2h.1M133.8 613.5h.1M130.1 608.5h.1M122.2 607.5h.1M131.9 606.0h.1M135.8 611.4h.1M126.0 606.6h.1M126.3 604.8h.1M124.5 607.6h.1M124.0 604.4h.1M130.5 608.4h.1M131.5 606.8h.1M127.0 609.1h.1M127.3 611.5h.1M127.9 608.7h.1M127.4 612.0h.1M125.1 610.2h.1M134.3 612.6h.1M136.8 608.1h.1M123.6 604.3h.1M127.6 609.7h.1M128.2 606.5h.1M126.9 614.2h.1M127.4 607.9h.1M129.5 614.8h.1M126.8 601.4h.1M130.7 606.2h.1M129.8 601.6h.1M138.7 606.6h.1M131.2 611.7h.1M131.7 615.7h.1M129.5 604.4h.1M130.3 612.7h.1M129.9 608.1h.1M136.3 607.6h.1M139.9 607.0h.1M126.5 607.4h.1M125.5 610.3h.1M127.9 606.4h.1M127.4 612.4h.1M130.2 608.4h.1M136.0 608.1h.1M124.6 607.0h.1M133.1 606.6h.1M128.7 610.0h.1M128.9 609.7h.1M128.1 613.6h.1M122.1 612.5h.1M121.7 607.3h.1M129.9 618.9h.1M137.6 605.3h.1M133.1 605.9h.1M132.7 615.9h.1M134.9 609.7h.1M132.2 604.6h.1M133.8 602.3h.1M129.2 607.0h.1M124.5 608.8h.1M129.2 614.5h.1M128.7 609.9h.1M124.1 611.6h.1M128.3 605.9h.1M123.5 609.4h.1M131.6 608.2h.1M130.3 612.7h.1M129.8 611.2h.1M128.6 610.4h.1M134.1 611.4h.1M124.0 608.8h.1M140.3 609.0h.1M126.5 608.2h.1M127.5 605.4h.1M123.3 601.9h.1M134.2 599.6h.1M134.6 604.8h.1M137.0 611.3h.1M131.7 604.1h.1" stroke="#f4cc36" stroke-width="0.75" stroke-linecap="round"/>
<path d="M127.6 612.3h.1M120.8 615.6h.1M125.9 617.9h.1M121.2 612.6h.1M121.9 608.8h.1M122.0 611.3h.1M123.5 612.9h.1M123.5 613.4h.1M123.0 612.3h.1M124.6 618.2h.1M123.4 611.0h.1M131.4 614.4h.1M123.1 613.4h.1M118.5 612.2h.1M121.9 611.6h.1M121.1 612.7h.1M129.0 611.2h.1M125.1 617.0h.1M124.7 611.1h.1M126.4 616.0h.1M122.0 610.6h.1M120.1 612.0h.1M123.6 611.7h.1M123.1 614.4h.1M125.2 619.5h.1M119.9 609.1h.1M122.3 614.2h.1M128.5 615.6h.1M127.1 609.3h.1M124.9 618.0h.1M126.0 611.4h.1M115.4 613.2h.1M125.3 617.2h.1M124.6 609.2h.1M127.1 611.2h.1M125.5 615.4h.1M122.6 616.3h.1M120.0 617.0h.1M120.2 609.2h.1M123.1 612.3h.1" stroke="#f2c41e" stroke-width="0.75" stroke-linecap="round"/>
<path d="M122.3 633.2h.1M126.2 624.0h.1M134.8 618.2h.1M114.3 632.8h.1M136.8 619.3h.1M124.1 625.8h.1M132.0 618.4h.1M139.6 622.4h.1M114.9 630.6h.1M118.3 635.0h.1M126.3 627.1h.1M130.6 624.5h.1M121.2 629.3h.1M123.2 629.8h.1M129.7 621.9h.1M138.8 617.7h.1M131.9 622.7h.1M129.3 622.9h.1M122.2 626.3h.1M118.7 631.8h.1M124.1 626.1h.1M115.3 630.7h.1M121.0 632.4h.1M140.8 618.3h.1M131.8 622.5h.1M129.4 623.0h.1M135.3 616.2h.1M117.0 636.1h.1M130.6 624.3h.1M135.5 617.3h.1M135.3 622.3h.1M135.6 617.2h.1M126.9 625.1h.1M119.4 632.1h.1M123.6 628.1h.1M116.0 631.7h.1M113.5 634.6h.1M124.9 632.0h.1M131.5 620.1h.1M129.7 621.7h.1M124.8 629.4h.1M118.3 631.0h.1M117.5 637.1h.1M129.7 624.5h.1M122.6 626.2h.1M119.4 628.0h.1M129.8 624.4h.1M122.7 633.9h.1M136.4 622.5h.1M124.4 626.5h.1M128.1 621.6h.1M134.6 618.4h.1M124.0 630.1h.1M124.0 626.7h.1M132.3 620.9h.1M124.3 626.3h.1M129.1 626.2h.1M120.3 630.9h.1M116.0 634.7h.1M117.2 633.3h.1M123.0 633.5h.1M139.0 618.6h.1M135.1 621.7h.1M135.5 619.1h.1M122.1 627.8h.1M130.1 622.4h.1M128.4 622.3h.1M138.1 617.3h.1M122.9 627.2h.1M133.3 618.6h.1M133.0 620.2h.1M143.9 617.2h.1M133.4 620.9h.1M135.5 621.2h.1M131.2 619.3h.1M133.8 620.3h.1M136.9 616.1h.1M121.3 628.5h.1M142.9 615.3h.1M135.5 618.6h.1M139.8 618.1h.1M127.3 626.3h.1M131.6 617.9h.1M134.0 620.7h.1M121.5 629.7h.1M116.6 634.9h.1M133.8 619.5h.1M123.2 629.4h.1M128.6 627.3h.1M125.0 626.0h.1M134.2 617.6h.1M125.0 628.7h.1M122.8 628.0h.1M119.5 630.6h.1M117.4 633.3h.1M131.4 625.6h.1M118.7 634.8h.1M118.6 632.7h.1M133.4 618.2h.1M127.0 632.0h.1M125.6 629.4h.1M117.7 632.7h.1M125.1 623.0h.1M136.7 620.4h.1M123.0 631.4h.1M125.8 625.2h.1M117.9 634.1h.1M127.6 626.8h.1M132.5 623.5h.1M128.4 629.0h.1M131.4 623.0h.1M122.3 631.2h.1M135.3 618.5h.1M115.9 630.6h.1M130.6 626.3h.1M115.2 631.4h.1M135.3 617.4h.1M123.1 630.7h.1M132.0 622.9h.1M130.5 622.8h.1M127.9 625.8h.1M132.4 620.6h.1M121.3 635.8h.1M117.9 630.6h.1M131.1 622.6h.1M140.6 619.0h.1M138.5 614.9h.1M129.8 622.1h.1M130.7 626.1h.1M130.8 623.4h.1M123.2 629.2h.1M124.4 626.2h.1M133.6 618.1h.1M113.0 636.4h.1M136.1 620.0h.1M127.8 629.1h.1M127.5 627.7h.1M121.8 627.8h.1M114.6 632.6h.1M127.4 627.4h.1M119.1 632.3h.1M116.5 635.4h.1M122.6 624.5h.1M123.9 628.9h.1M126.1 626.9h.1M133.0 622.5h.1M121.3 627.3h.1M137.2 620.2h.1M129.7 625.2h.1M117.5 629.6h.1M127.6 623.6h.1M122.6 631.0h.1M131.8 627.8h.1M122.7 630.5h.1M138.6 617.3h.1M116.3 634.4h.1M128.5 626.3h.1M137.0 622.6h.1M122.7 630.5h.1M134.4 622.2h.1M134.3 620.4h.1M119.5 632.1h.1M126.9 625.5h.1M120.7 632.6h.1M121.1 632.6h.1M130.6 624.3h.1M123.4 630.2h.1M117.3 630.0h.1M130.8 620.8h.1M133.0 620.2h.1" stroke="#f2c41e" stroke-width="0.75" stroke-linecap="round"/>
<path d="M149.5 589.8h.1M167.0 606.8h.1M155.1 611.0h.1M152.5 607.7h.1M160.0 614.0h.1M151.1 607.9h.1M151.6 602.5h.1M146.6 592.6h.1M151.5 594.3h.1M149.0 589.9h.1M153.7 611.0h.1M146.0 593.4h.1M147.4 594.9h.1M162.8 611.5h.1M143.7 601.8h.1M149.8 607.2h.1M169.3 606.4h.1M146.2 596.4h.1M147.6 595.4h.1M167.0 613.7h.1M147.1 593.4h.1M150.4 606.1h.1M155.9 588.6h.1M163.8 615.0h.1M143.8 596.9h.1M147.5 594.0h.1M166.9 610.0h.1M151.4 587.6h.1M167.4 608.1h.1M158.3 610.4h.1M161.1 613.8h.1M160.4 609.3h.1M147.3 591.0h.1M149.4 590.4h.1M144.6 596.2h.1M165.6 611.9h.1M158.3 614.0h.1M161.5 612.3h.1M163.5 612.0h.1M157.4 612.6h.1M151.3 608.6h.1M156.4 610.6h.1M168.3 609.7h.1M156.6 613.2h.1M154.3 609.4h.1M165.6 609.5h.1M144.8 597.3h.1M156.7 611.9h.1M164.1 611.3h.1M153.3 610.9h.1M162.4 610.7h.1M150.5 605.0h.1M147.4 597.2h.1M148.6 606.8h.1M163.5 610.4h.1M159.7 610.1h.1M149.3 591.2h.1M165.9 613.2h.1M163.7 612.5h.1M155.5 610.4h.1M153.8 609.3h.1M144.8 590.2h.1M148.4 609.2h.1M160.8 609.8h.1M147.1 596.0h.1M150.1 608.4h.1M159.3 609.3h.1M153.7 611.2h.1M155.7 610.1h.1M151.0 590.6h.1M148.7 603.5h.1M151.9 589.0h.1M166.2 607.6h.1M154.0 588.6h.1M165.0 609.2h.1M166.5 608.8h.1M148.7 601.8h.1M146.1 603.2h.1M147.8 596.9h.1M165.6 612.7h.1M150.2 607.9h.1M148.1 599.5h.1M149.4 591.0h.1M146.7 600.8h.1M165.3 606.1h.1M166.8 610.5h.1M158.0 612.9h.1M154.9 589.8h.1M156.7 587.4h.1M150.5 590.8h.1M150.6 610.3h.1M145.9 596.9h.1M151.9 608.0h.1M149.5 589.8h.1M155.1 608.3h.1M167.6 612.6h.1M160.5 610.6h.1M146.5 592.1h.1M166.6 609.5h.1M160.9 610.9h.1M148.5 595.2h.1M152.7 589.5h.1M151.4 608.9h.1M152.9 610.2h.1M149.8 608.1h.1M146.5 599.3h.1M157.4 611.7h.1M150.7 588.8h.1M158.2 614.1h.1M152.7 589.5h.1M162.0 611.4h.1M157.3 610.4h.1M151.8 604.7h.1M144.5 595.1h.1M157.6 610.7h.1M145.4 599.4h.1M145.8 595.9h.1M150.6 600.5h.1M151.9 607.8h.1M167.8 605.2h.1M157.0 612.4h.1M165.2 612.9h.1M162.3 610.9h.1M145.6 597.3h.1M146.7 598.9h.1M158.9 607.3h.1M163.0 612.7h.1M149.5 605.6h.1M144.8 594.3h.1M161.3 614.8h.1M163.9 611.3h.1M157.9 609.9h.1M167.0 609.5h.1M147.9 605.7h.1M165.0 605.5h.1M147.5 602.0h.1M148.6 599.3h.1M159.6 614.0h.1M151.8 587.9h.1M163.8 613.5h.1M155.6 609.7h.1M152.5 607.8h.1M154.6 587.5h.1M164.7 612.4h.1M145.0 600.2h.1M150.7 601.0h.1M146.3 595.8h.1M153.7 609.0h.1M148.2 592.0h.1M147.1 597.1h.1M151.6 591.6h.1M153.6 587.9h.1M153.3 610.2h.1M167.1 604.8h.1M160.8 609.4h.1M161.2 611.6h.1M162.6 612.7h.1M160.1 612.6h.1M153.4 590.2h.1M163.9 610.7h.1M161.5 613.5h.1M163.8 606.8h.1M161.8 612.5h.1M155.0 587.1h.1M147.2 604.8h.1M162.4 609.7h.1M147.9 595.0h.1M157.5 609.6h.1M162.9 613.1h.1M153.8 590.4h.1M152.6 608.5h.1M160.0 610.1h.1M166.7 608.7h.1M165.6 610.6h.1M153.1 590.6h.1M152.4 608.6h.1M147.3 593.7h.1M146.4 600.7h.1M153.0 587.5h.1M145.3 600.9h.1M147.5 601.2h.1M149.0 591.3h.1M145.3 593.7h.1M154.0 606.3h.1M149.5 594.2h.1M152.3 588.1h.1M152.5 591.8h.1M165.3 611.4h.1M159.9 612.1h.1M165.2 608.5h.1M143.9 598.8h.1M166.3 606.6h.1M151.2 610.9h.1M149.0 606.4h.1M157.8 607.7h.1M164.1 612.6h.1M164.4 609.6h.1M144.7 604.1h.1M160.3 609.5h.1M149.6 591.5h.1M146.1 596.5h.1M146.3 596.2h.1M157.3 612.9h.1M164.1 611.4h.1M150.8 591.6h.1M155.2 586.0h.1M161.6 612.1h.1M155.0 588.7h.1M161.1 612.3h.1M152.0 607.4h.1M167.6 607.0h.1M165.1 611.5h.1M149.0 591.2h.1M152.2 606.3h.1M160.4 612.8h.1M144.5 591.1h.1M165.5 611.7h.1M158.5 613.4h.1M159.9 609.3h.1M156.3 611.6h.1" stroke="#52a42c" stroke-width="0.75" stroke-linecap="round"/>
<rect x="110.80" y="582.70" width="62.70" height="57.10" fill="none" stroke="#1a1a1a" stroke-width="1.0"/>
<text x="142.15" y="577.70" font-size="8.4" text-anchor="middle" font-weight="normal" textLength="10.60" lengthAdjust="spacingAndGlyphs">TKI</text>
<line x1="108.60" y1="639.40" x2="110.80" y2="639.40" stroke="#222" stroke-width="0.8"/>
<text x="107.60" y="641.80" font-size="6.8" text-anchor="end" fill="#333" stroke="#333" stroke-width="0.122" textLength="3.20" lengthAdjust="spacingAndGlyphs">0</text>
<line x1="108.60" y1="626.30" x2="110.80" y2="626.30" stroke="#222" stroke-width="0.8"/>
<text x="107.60" y="628.70" font-size="6.8" text-anchor="end" fill="#333" stroke="#333" stroke-width="0.122" textLength="6.40" lengthAdjust="spacingAndGlyphs">10</text>
<line x1="108.60" y1="612.90" x2="110.80" y2="612.90" stroke="#222" stroke-width="0.8"/>
<text x="107.60" y="615.30" font-size="6.8" text-anchor="end" fill="#333" stroke="#333" stroke-width="0.122" textLength="6.40" lengthAdjust="spacingAndGlyphs">20</text>
<line x1="108.60" y1="599.40" x2="110.80" y2="599.40" stroke="#222" stroke-width="0.8"/>
<text x="107.60" y="601.80" font-size="6.8" text-anchor="end" fill="#333" stroke="#333" stroke-width="0.122" textLength="6.40" lengthAdjust="spacingAndGlyphs">30</text>
<line x1="108.60" y1="585.60" x2="110.80" y2="585.60" stroke="#222" stroke-width="0.8"/>
<text x="107.60" y="588.00" font-size="6.8" text-anchor="end" fill="#333" stroke="#333" stroke-width="0.122" textLength="6.40" lengthAdjust="spacingAndGlyphs">40</text>
<line x1="111.30" y1="639.80" x2="111.30" y2="642.00" stroke="#222" stroke-width="0.8"/>
<text x="111.30" y="650.40" font-size="7.0" text-anchor="middle" fill="#333" stroke="#333" stroke-width="0.126" textLength="3.30" lengthAdjust="spacingAndGlyphs">0</text>
<line x1="123.40" y1="639.80" x2="123.40" y2="642.00" stroke="#222" stroke-width="0.8"/>
<text x="123.40" y="650.40" font-size="7.0" text-anchor="middle" fill="#333" stroke="#333" stroke-width="0.126" textLength="6.60" lengthAdjust="spacingAndGlyphs">10</text>
<line x1="135.50" y1="639.80" x2="135.50" y2="642.00" stroke="#222" stroke-width="0.8"/>
<text x="135.50" y="650.40" font-size="7.0" text-anchor="middle" fill="#333" stroke="#333" stroke-width="0.126" textLength="6.60" lengthAdjust="spacingAndGlyphs">20</text>
<line x1="147.60" y1="639.80" x2="147.60" y2="642.00" stroke="#222" stroke-width="0.8"/>
<text x="147.60" y="650.40" font-size="7.0" text-anchor="middle" fill="#333" stroke="#333" stroke-width="0.126" textLength="6.60" lengthAdjust="spacingAndGlyphs">30</text>
<line x1="159.70" y1="639.80" x2="159.70" y2="642.00" stroke="#222" stroke-width="0.8"/>
<text x="159.70" y="650.40" font-size="7.0" text-anchor="middle" fill="#333" stroke="#333" stroke-width="0.126" textLength="6.60" lengthAdjust="spacingAndGlyphs">40</text>
<line x1="171.80" y1="639.80" x2="171.80" y2="642.00" stroke="#222" stroke-width="0.8"/>
<text x="171.80" y="650.40" font-size="7.0" text-anchor="middle" fill="#333" stroke="#333" stroke-width="0.126" textLength="6.60" lengthAdjust="spacingAndGlyphs">50</text>
<line x1="109.60" y1="639.40" x2="110.80" y2="639.40" stroke="#222" stroke-width="0.6"/>
<line x1="109.60" y1="636.78" x2="110.80" y2="636.78" stroke="#222" stroke-width="0.6"/>
<line x1="109.60" y1="634.16" x2="110.80" y2="634.16" stroke="#222" stroke-width="0.6"/>
<line x1="109.60" y1="631.54" x2="110.80" y2="631.54" stroke="#222" stroke-width="0.6"/>
<line x1="109.60" y1="628.92" x2="110.80" y2="628.92" stroke="#222" stroke-width="0.6"/>
<line x1="109.60" y1="626.30" x2="110.80" y2="626.30" stroke="#222" stroke-width="0.6"/>
<line x1="109.60" y1="623.68" x2="110.80" y2="623.68" stroke="#222" stroke-width="0.6"/>
<line x1="109.60" y1="621.06" x2="110.80" y2="621.06" stroke="#222" stroke-width="0.6"/>
<line x1="109.60" y1="618.44" x2="110.80" y2="618.44" stroke="#222" stroke-width="0.6"/>
<line x1="109.60" y1="615.82" x2="110.80" y2="615.82" stroke="#222" stroke-width="0.6"/>
<line x1="109.60" y1="613.20" x2="110.80" y2="613.20" stroke="#222" stroke-width="0.6"/>
<line x1="109.60" y1="610.58" x2="110.80" y2="610.58" stroke="#222" stroke-width="0.6"/>
<line x1="109.60" y1="607.96" x2="110.80" y2="607.96" stroke="#222" stroke-width="0.6"/>
<line x1="109.60" y1="605.34" x2="110.80" y2="605.34" stroke="#222" stroke-width="0.6"/>
<line x1="109.60" y1="602.72" x2="110.80" y2="602.72" stroke="#222" stroke-width="0.6"/>
<line x1="109.60" y1="600.10" x2="110.80" y2="600.10" stroke="#222" stroke-width="0.6"/>
<line x1="109.60" y1="597.48" x2="110.80" y2="597.48" stroke="#222" stroke-width="0.6"/>
<line x1="109.60" y1="594.86" x2="110.80" y2="594.86" stroke="#222" stroke-width="0.6"/>
<line x1="109.60" y1="592.24" x2="110.80" y2="592.24" stroke="#222" stroke-width="0.6"/>
<line x1="109.60" y1="589.62" x2="110.80" y2="589.62" stroke="#222" stroke-width="0.6"/>
<line x1="109.60" y1="587.00" x2="110.80" y2="587.00" stroke="#222" stroke-width="0.6"/>
<line x1="109.60" y1="584.38" x2="110.80" y2="584.38" stroke="#222" stroke-width="0.6"/>
<line x1="111.30" y1="639.80" x2="111.30" y2="641.00" stroke="#222" stroke-width="0.6"/>
<line x1="113.72" y1="639.80" x2="113.72" y2="641.00" stroke="#222" stroke-width="0.6"/>
<line x1="116.14" y1="639.80" x2="116.14" y2="641.00" stroke="#222" stroke-width="0.6"/>
<line x1="118.56" y1="639.80" x2="118.56" y2="641.00" stroke="#222" stroke-width="0.6"/>
<line x1="120.98" y1="639.80" x2="120.98" y2="641.00" stroke="#222" stroke-width="0.6"/>
<line x1="123.40" y1="639.80" x2="123.40" y2="641.00" stroke="#222" stroke-width="0.6"/>
<line x1="125.82" y1="639.80" x2="125.82" y2="641.00" stroke="#222" stroke-width="0.6"/>
<line x1="128.24" y1="639.80" x2="128.24" y2="641.00" stroke="#222" stroke-width="0.6"/>
<line x1="130.66" y1="639.80" x2="130.66" y2="641.00" stroke="#222" stroke-width="0.6"/>
<line x1="133.08" y1="639.80" x2="133.08" y2="641.00" stroke="#222" stroke-width="0.6"/>
<line x1="135.50" y1="639.80" x2="135.50" y2="641.00" stroke="#222" stroke-width="0.6"/>
<line x1="137.92" y1="639.80" x2="137.92" y2="641.00" stroke="#222" stroke-width="0.6"/>
<line x1="140.34" y1="639.80" x2="140.34" y2="641.00" stroke="#222" stroke-width="0.6"/>
<line x1="142.76" y1="639.80" x2="142.76" y2="641.00" stroke="#222" stroke-width="0.6"/>
<line x1="145.18" y1="639.80" x2="145.18" y2="641.00" stroke="#222" stroke-width="0.6"/>
<line x1="147.60" y1="639.80" x2="147.60" y2="641.00" stroke="#222" stroke-width="0.6"/>
<line x1="150.02" y1="639.80" x2="150.02" y2="641.00" stroke="#222" stroke-width="0.6"/>
<line x1="152.44" y1="639.80" x2="152.44" y2="641.00" stroke="#222" stroke-width="0.6"/>
<line x1="154.86" y1="639.80" x2="154.86" y2="641.00" stroke="#222" stroke-width="0.6"/>
<line x1="157.28" y1="639.80" x2="157.28" y2="641.00" stroke="#222" stroke-width="0.6"/>
<line x1="159.70" y1="639.80" x2="159.70" y2="641.00" stroke="#222" stroke-width="0.6"/>
<line x1="162.12" y1="639.80" x2="162.12" y2="641.00" stroke="#222" stroke-width="0.6"/>
<line x1="164.54" y1="639.80" x2="164.54" y2="641.00" stroke="#222" stroke-width="0.6"/>
<line x1="166.96" y1="639.80" x2="166.96" y2="641.00" stroke="#222" stroke-width="0.6"/>
<line x1="169.38" y1="639.80" x2="169.38" y2="641.00" stroke="#222" stroke-width="0.6"/>
<line x1="171.80" y1="639.80" x2="171.80" y2="641.00" stroke="#222" stroke-width="0.6"/>
<path d="M213.3 595.2h.1M201.4 609.5h.1M241.6 598.2h.1M208.6 599.3h.1M206.3 608.1h.1M221.2 602.7h.1M222.5 608.0h.1M219.2 598.7h.1M233.0 589.0h.1M214.6 632.1h.1M210.2 628.0h.1M231.9 596.9h.1M206.1 620.6h.1M215.7 609.0h.1M205.1 624.2h.1M236.2 584.9h.1M203.2 628.9h.1M212.7 617.2h.1M207.3 629.2h.1M209.6 608.5h.1M219.0 599.4h.1M194.8 630.6h.1M238.2 599.2h.1M214.9 610.9h.1M196.3 624.9h.1M204.1 635.6h.1M222.4 595.9h.1M215.9 615.4h.1M241.4 591.9h.1M213.4 607.0h.1M204.1 635.2h.1M220.3 606.1h.1M238.5 591.5h.1M217.5 598.4h.1M236.0 584.6h.1M220.9 599.3h.1M227.4 597.1h.1M201.6 615.2h.1M209.2 634.0h.1M207.4 626.1h.1M227.2 601.6h.1M202.0 631.7h.1M240.3 589.0h.1M207.1 632.9h.1M231.4 594.7h.1M213.3 605.1h.1M244.1 589.6h.1M234.3 591.1h.1M232.3 588.2h.1M199.6 630.6h.1M212.8 606.8h.1M200.9 631.8h.1M198.6 629.6h.1M226.2 590.4h.1M222.8 599.5h.1M197.5 633.5h.1M203.3 628.4h.1M207.1 614.3h.1M219.9 623.0h.1M227.3 596.9h.1M235.7 592.5h.1M222.5 591.3h.1M213.0 610.4h.1M223.2 602.3h.1M228.7 595.2h.1M206.4 606.9h.1M222.8 606.5h.1M243.3 586.6h.1M219.0 616.0h.1M203.3 626.2h.1M199.0 628.4h.1M196.2 627.8h.1M204.7 633.0h.1M244.1 588.2h.1M211.5 617.6h.1M233.3 590.5h.1M224.3 585.6h.1M211.6 605.7h.1M214.2 602.4h.1M217.5 605.8h.1M203.3 628.8h.1M213.8 606.4h.1M237.6 588.2h.1M215.6 604.7h.1M229.0 591.9h.1M211.2 614.7h.1M205.1 614.6h.1M228.8 585.4h.1M229.7 597.4h.1M209.6 616.2h.1M231.9 591.6h.1M231.6 597.1h.1M213.3 612.8h.1M214.4 608.0h.1M207.0 620.4h.1M218.0 595.6h.1M208.9 619.0h.1M211.7 611.9h.1M241.8 589.2h.1M205.5 619.4h.1M207.1 620.9h.1M217.8 607.2h.1M216.8 607.1h.1M221.0 599.1h.1M221.3 602.1h.1M219.9 610.7h.1M236.3 594.0h.1M200.1 629.9h.1M239.3 599.5h.1M213.0 612.9h.1M229.4 600.3h.1M235.6 589.7h.1M212.8 607.2h.1M217.0 592.9h.1M234.9 591.4h.1M236.2 586.4h.1M225.5 598.9h.1M245.5 584.7h.1M221.3 596.1h.1M226.4 595.5h.1M205.5 611.0h.1M206.4 624.1h.1M220.5 599.6h.1M234.3 593.3h.1M218.7 597.3h.1M222.1 600.0h.1M220.5 604.5h.1M208.4 611.1h.1M213.5 619.6h.1M214.1 602.6h.1M226.1 588.8h.1M196.2 630.6h.1M199.8 627.1h.1M208.9 624.2h.1M214.4 625.9h.1M224.5 604.1h.1M236.5 597.1h.1M220.3 608.3h.1M238.5 597.2h.1M241.6 586.6h.1M233.7 595.4h.1M224.9 602.4h.1M211.9 615.7h.1M222.7 599.4h.1M234.8 590.8h.1M228.0 598.1h.1M199.2 619.6h.1M228.3 584.0h.1M233.3 589.5h.1M209.0 617.4h.1M231.7 595.4h.1M214.3 615.7h.1M239.8 591.2h.1M237.7 589.7h.1M205.7 616.9h.1M210.0 615.4h.1M221.4 601.0h.1M236.5 597.7h.1M247.1 595.8h.1M227.9 609.0h.1M240.7 603.9h.1M235.8 591.5h.1M223.6 588.4h.1M229.5 598.6h.1M199.5 611.7h.1M247.4 591.7h.1M206.3 621.5h.1M247.8 585.1h.1M211.4 627.7h.1M215.6 602.0h.1M212.2 605.4h.1M210.1 610.2h.1M228.9 593.6h.1M240.9 587.1h.1M214.4 607.9h.1M201.7 629.7h.1M201.3 635.7h.1M209.5 614.8h.1M238.5 596.1h.1M208.4 630.7h.1M211.5 616.0h.1M206.5 622.3h.1M231.0 589.2h.1M244.8 597.6h.1M229.1 593.8h.1M223.4 587.4h.1M228.9 592.2h.1M245.5 590.4h.1M235.7 590.5h.1M202.7 609.5h.1M208.6 598.5h.1M213.4 611.0h.1M223.1 596.4h.1M206.9 622.4h.1M208.5 613.5h.1M221.3 604.5h.1M218.0 605.2h.1M205.0 617.1h.1M204.9 626.5h.1M223.1 608.1h.1M204.8 606.3h.1M224.5 599.6h.1M212.3 600.1h.1M200.0 630.2h.1M235.7 599.2h.1M221.1 605.7h.1M243.0 597.4h.1M220.9 614.6h.1M205.4 619.8h.1M208.2 609.9h.1M230.5 601.7h.1M207.1 624.0h.1M231.5 593.4h.1M246.1 598.0h.1M194.4 623.3h.1M228.7 586.5h.1M245.9 602.8h.1M233.9 596.9h.1M219.2 616.8h.1M235.1 589.8h.1M234.7 591.1h.1M247.9 589.7h.1M225.5 602.3h.1M208.4 620.5h.1M211.5 616.9h.1M207.7 619.1h.1M229.9 590.4h.1M227.4 594.4h.1M217.0 600.2h.1M240.3 585.6h.1M218.8 602.2h.1M232.3 590.6h.1M204.6 618.5h.1M224.2 596.8h.1M242.4 589.4h.1M198.2 611.3h.1M216.2 606.1h.1M209.9 604.4h.1M239.8 590.2h.1M220.4 600.0h.1M214.8 617.9h.1M204.9 621.3h.1M205.1 611.8h.1M217.6 594.2h.1M213.2 615.9h.1M199.6 629.8h.1M206.3 601.5h.1M201.8 630.0h.1" stroke="#f6d27a" stroke-width="0.75" stroke-linecap="round"/>
<path d="M199.6 629.0h.1M198.5 623.2h.1M203.8 633.2h.1M202.5 626.7h.1M203.6 631.2h.1M201.0 636.4h.1M203.5 627.3h.1M199.5 631.7h.1M200.3 629.8h.1M201.2 632.0h.1M199.4 634.4h.1M197.9 631.1h.1M196.8 631.7h.1M203.2 636.9h.1M198.4 627.2h.1M197.6 630.5h.1M203.3 628.2h.1M200.4 638.0h.1M201.9 634.2h.1M202.5 629.1h.1M204.7 637.2h.1M200.5 631.7h.1M199.5 634.3h.1M200.1 636.7h.1M201.2 633.2h.1M203.5 629.0h.1M194.8 632.9h.1M198.6 626.7h.1M199.7 634.2h.1M199.3 634.9h.1M199.2 631.1h.1M194.5 629.1h.1M201.0 631.7h.1M196.8 632.6h.1M209.7 635.1h.1M201.9 628.3h.1M196.8 631.5h.1M197.9 634.4h.1M198.2 631.9h.1M200.0 632.2h.1" stroke="#f4c860" stroke-width="0.75" stroke-linecap="round"/>
<path d="M237.7 590.1h.1M239.8 592.1h.1M240.0 588.8h.1M235.8 589.8h.1M236.8 590.0h.1M239.6 594.4h.1M239.6 589.9h.1M242.3 592.4h.1M241.0 589.3h.1M240.6 593.1h.1M234.4 591.0h.1M238.3 592.8h.1M246.7 590.7h.1M240.9 593.3h.1M246.5 595.6h.1M239.4 595.5h.1M240.6 592.4h.1M238.0 592.5h.1M237.8 592.7h.1M238.4 591.5h.1M235.7 588.8h.1M240.4 592.1h.1M242.5 591.3h.1M234.4 590.7h.1M246.9 589.6h.1M241.7 592.3h.1M240.5 591.7h.1M244.9 591.4h.1M243.0 591.2h.1M235.3 594.2h.1M243.5 592.3h.1M244.9 588.5h.1M242.1 593.2h.1M239.1 590.1h.1M243.9 588.7h.1M237.6 592.3h.1M247.3 593.3h.1M241.9 593.5h.1M238.3 588.4h.1" stroke="#f4c860" stroke-width="0.75" stroke-linecap="round"/>
<path d="M216.9 602.9h.1M215.1 605.3h.1M212.2 602.4h.1M212.8 612.1h.1M217.3 605.8h.1M220.3 607.5h.1M210.9 602.8h.1M224.9 612.0h.1M221.9 607.9h.1M218.1 602.4h.1M218.1 604.7h.1M220.9 613.3h.1M215.8 605.6h.1M213.5 610.2h.1M227.8 600.0h.1M227.6 599.8h.1M212.6 603.4h.1M217.4 609.3h.1M208.8 614.3h.1M223.3 605.0h.1M205.7 607.8h.1M209.4 601.0h.1M214.1 603.9h.1M218.7 604.8h.1M217.6 605.5h.1M219.5 605.6h.1M212.9 613.2h.1M216.1 600.6h.1M217.4 609.7h.1M215.4 609.5h.1M212.2 610.2h.1M228.6 603.7h.1M227.1 606.1h.1M218.4 605.7h.1M220.8 602.5h.1M215.7 613.6h.1M224.3 604.2h.1M218.8 600.9h.1M220.4 604.4h.1M218.6 603.1h.1M213.0 603.0h.1M215.2 600.9h.1M210.2 610.4h.1M215.7 604.2h.1M224.1 604.0h.1M211.2 608.2h.1M222.4 617.1h.1M213.2 606.9h.1M220.6 606.7h.1M221.0 611.3h.1M214.5 613.9h.1M219.4 613.9h.1M222.9 600.5h.1M216.9 602.8h.1M215.0 609.8h.1M213.7 617.8h.1M218.8 617.0h.1M215.6 603.9h.1M215.4 610.4h.1M210.6 615.4h.1" stroke="#f8dc90" stroke-width="0.75" stroke-linecap="round"/>
<rect x="192.70" y="582.70" width="56.50" height="57.10" fill="none" stroke="#1a1a1a" stroke-width="1.0"/>
<text x="220.95" y="577.70" font-size="8.4" text-anchor="middle" font-weight="normal" textLength="14.60" lengthAdjust="spacingAndGlyphs">HIFi</text>
<line x1="190.50" y1="639.40" x2="192.70" y2="639.40" stroke="#222" stroke-width="0.8"/>
<text x="189.50" y="641.80" font-size="6.8" text-anchor="end" fill="#333" stroke="#333" stroke-width="0.122" textLength="3.20" lengthAdjust="spacingAndGlyphs">0</text>
<line x1="190.50" y1="625.00" x2="192.70" y2="625.00" stroke="#222" stroke-width="0.8"/>
<text x="189.50" y="627.40" font-size="6.8" text-anchor="end" fill="#333" stroke="#333" stroke-width="0.122" textLength="8.00" lengthAdjust="spacingAndGlyphs">5.0</text>
<line x1="190.50" y1="610.60" x2="192.70" y2="610.60" stroke="#222" stroke-width="0.8"/>
<text x="189.50" y="613.00" font-size="6.8" text-anchor="end" fill="#333" stroke="#333" stroke-width="0.122" textLength="6.40" lengthAdjust="spacingAndGlyphs">10</text>
<line x1="190.50" y1="596.20" x2="192.70" y2="596.20" stroke="#222" stroke-width="0.8"/>
<text x="189.50" y="598.60" font-size="6.8" text-anchor="end" fill="#333" stroke="#333" stroke-width="0.122" textLength="6.40" lengthAdjust="spacingAndGlyphs">15</text>
<line x1="193.10" y1="639.80" x2="193.10" y2="642.00" stroke="#222" stroke-width="0.8"/>
<text x="193.10" y="650.40" font-size="7.0" text-anchor="middle" fill="#333" stroke="#333" stroke-width="0.126" textLength="3.30" lengthAdjust="spacingAndGlyphs">0</text>
<line x1="208.20" y1="639.80" x2="208.20" y2="642.00" stroke="#222" stroke-width="0.8"/>
<text x="208.20" y="650.40" font-size="7.0" text-anchor="middle" fill="#333" stroke="#333" stroke-width="0.126" textLength="6.60" lengthAdjust="spacingAndGlyphs">10</text>
<line x1="223.30" y1="639.80" x2="223.30" y2="642.00" stroke="#222" stroke-width="0.8"/>
<text x="223.30" y="650.40" font-size="7.0" text-anchor="middle" fill="#333" stroke="#333" stroke-width="0.126" textLength="6.60" lengthAdjust="spacingAndGlyphs">20</text>
<line x1="238.40" y1="639.80" x2="238.40" y2="642.00" stroke="#222" stroke-width="0.8"/>
<text x="238.40" y="650.40" font-size="7.0" text-anchor="middle" fill="#333" stroke="#333" stroke-width="0.126" textLength="6.60" lengthAdjust="spacingAndGlyphs">30</text>
<line x1="191.50" y1="639.40" x2="192.70" y2="639.40" stroke="#222" stroke-width="0.6"/>
<line x1="191.50" y1="636.52" x2="192.70" y2="636.52" stroke="#222" stroke-width="0.6"/>
<line x1="191.50" y1="633.64" x2="192.70" y2="633.64" stroke="#222" stroke-width="0.6"/>
<line x1="191.50" y1="630.76" x2="192.70" y2="630.76" stroke="#222" stroke-width="0.6"/>
<line x1="191.50" y1="627.88" x2="192.70" y2="627.88" stroke="#222" stroke-width="0.6"/>
<line x1="191.50" y1="625.00" x2="192.70" y2="625.00" stroke="#222" stroke-width="0.6"/>
<line x1="191.50" y1="622.12" x2="192.70" y2="622.12" stroke="#222" stroke-width="0.6"/>
<line x1="191.50" y1="619.24" x2="192.70" y2="619.24" stroke="#222" stroke-width="0.6"/>
<line x1="191.50" y1="616.36" x2="192.70" y2="616.36" stroke="#222" stroke-width="0.6"/>
<line x1="191.50" y1="613.48" x2="192.70" y2="613.48" stroke="#222" stroke-width="0.6"/>
<line x1="191.50" y1="610.60" x2="192.70" y2="610.60" stroke="#222" stroke-width="0.6"/>
<line x1="191.50" y1="607.72" x2="192.70" y2="607.72" stroke="#222" stroke-width="0.6"/>
<line x1="191.50" y1="604.84" x2="192.70" y2="604.84" stroke="#222" stroke-width="0.6"/>
<line x1="191.50" y1="601.96" x2="192.70" y2="601.96" stroke="#222" stroke-width="0.6"/>
<line x1="191.50" y1="599.08" x2="192.70" y2="599.08" stroke="#222" stroke-width="0.6"/>
<line x1="191.50" y1="596.20" x2="192.70" y2="596.20" stroke="#222" stroke-width="0.6"/>
<line x1="191.50" y1="593.32" x2="192.70" y2="593.32" stroke="#222" stroke-width="0.6"/>
<line x1="191.50" y1="590.44" x2="192.70" y2="590.44" stroke="#222" stroke-width="0.6"/>
<line x1="191.50" y1="587.56" x2="192.70" y2="587.56" stroke="#222" stroke-width="0.6"/>
<line x1="191.50" y1="584.68" x2="192.70" y2="584.68" stroke="#222" stroke-width="0.6"/>
<line x1="193.10" y1="639.80" x2="193.10" y2="641.00" stroke="#222" stroke-width="0.6"/>
<line x1="196.12" y1="639.80" x2="196.12" y2="641.00" stroke="#222" stroke-width="0.6"/>
<line x1="199.14" y1="639.80" x2="199.14" y2="641.00" stroke="#222" stroke-width="0.6"/>
<line x1="202.16" y1="639.80" x2="202.16" y2="641.00" stroke="#222" stroke-width="0.6"/>
<line x1="205.18" y1="639.80" x2="205.18" y2="641.00" stroke="#222" stroke-width="0.6"/>
<line x1="208.20" y1="639.80" x2="208.20" y2="641.00" stroke="#222" stroke-width="0.6"/>
<line x1="211.22" y1="639.80" x2="211.22" y2="641.00" stroke="#222" stroke-width="0.6"/>
<line x1="214.24" y1="639.80" x2="214.24" y2="641.00" stroke="#222" stroke-width="0.6"/>
<line x1="217.26" y1="639.80" x2="217.26" y2="641.00" stroke="#222" stroke-width="0.6"/>
<line x1="220.28" y1="639.80" x2="220.28" y2="641.00" stroke="#222" stroke-width="0.6"/>
<line x1="223.30" y1="639.80" x2="223.30" y2="641.00" stroke="#222" stroke-width="0.6"/>
<line x1="226.32" y1="639.80" x2="226.32" y2="641.00" stroke="#222" stroke-width="0.6"/>
<line x1="229.34" y1="639.80" x2="229.34" y2="641.00" stroke="#222" stroke-width="0.6"/>
<line x1="232.36" y1="639.80" x2="232.36" y2="641.00" stroke="#222" stroke-width="0.6"/>
<line x1="235.38" y1="639.80" x2="235.38" y2="641.00" stroke="#222" stroke-width="0.6"/>
<line x1="238.40" y1="639.80" x2="238.40" y2="641.00" stroke="#222" stroke-width="0.6"/>
<line x1="241.42" y1="639.80" x2="241.42" y2="641.00" stroke="#222" stroke-width="0.6"/>
<line x1="244.44" y1="639.80" x2="244.44" y2="641.00" stroke="#222" stroke-width="0.6"/>
<line x1="247.46" y1="639.80" x2="247.46" y2="641.00" stroke="#222" stroke-width="0.6"/>
<path d="M271.3 633.8h.1M283.2 622.9h.1M282.1 628.1h.1M284.2 628.7h.1M278.7 633.9h.1M275.7 633.0h.1M279.7 637.5h.1M278.3 625.2h.1M281.0 632.1h.1M280.5 636.8h.1M282.3 624.3h.1M285.1 627.5h.1M275.1 630.7h.1M278.4 634.9h.1M271.1 633.6h.1M273.4 632.2h.1M275.7 634.7h.1M280.3 626.4h.1M276.4 625.2h.1M279.1 634.0h.1M279.1 627.8h.1M278.6 628.3h.1M280.2 630.2h.1M274.3 621.8h.1M274.2 636.0h.1M282.9 633.1h.1M280.6 635.0h.1M283.8 631.7h.1M285.5 632.8h.1M276.2 634.7h.1M283.1 629.2h.1M276.2 622.0h.1M268.4 630.4h.1M288.3 631.4h.1M277.5 635.8h.1M277.9 625.4h.1M277.2 636.1h.1M275.0 631.3h.1M277.0 632.4h.1M279.8 636.7h.1M289.5 626.7h.1M269.2 633.5h.1M281.0 637.8h.1M282.2 630.8h.1M292.3 622.1h.1M282.1 630.7h.1M272.0 635.8h.1M279.2 628.7h.1M277.0 626.1h.1M283.0 625.1h.1M282.5 626.3h.1M272.5 633.1h.1M274.6 636.2h.1M273.4 634.2h.1M283.6 633.7h.1M283.1 629.3h.1M289.3 627.4h.1M275.5 634.1h.1M286.8 621.8h.1M277.8 638.3h.1M277.3 626.7h.1M282.7 632.8h.1M275.7 627.3h.1M275.9 630.1h.1M284.5 625.0h.1M268.2 636.7h.1M278.4 637.2h.1M283.3 629.0h.1M278.8 628.6h.1M285.9 623.5h.1M278.0 631.3h.1M278.6 634.6h.1M277.4 632.5h.1M281.6 631.8h.1M282.7 626.3h.1M285.6 622.0h.1M268.0 632.6h.1M272.7 636.6h.1M283.3 634.4h.1M285.0 632.5h.1M295.0 623.1h.1M278.6 630.9h.1M285.8 629.2h.1M275.1 629.5h.1M278.6 628.5h.1M284.8 632.9h.1M281.4 633.9h.1M283.8 636.5h.1M276.5 630.2h.1M278.2 631.4h.1M282.5 629.7h.1M273.5 633.7h.1M281.5 627.4h.1M286.9 636.5h.1M274.6 631.9h.1M273.4 625.2h.1M276.2 625.5h.1M277.3 635.1h.1M291.3 630.6h.1M280.9 635.4h.1M279.3 629.9h.1M284.8 627.5h.1M286.1 636.2h.1M277.6 631.2h.1M270.3 635.7h.1M279.5 635.6h.1M280.3 629.7h.1M279.7 633.9h.1M273.0 634.5h.1M279.2 633.8h.1M287.3 634.0h.1M268.9 631.9h.1M291.8 634.2h.1M274.6 628.4h.1M279.6 630.3h.1M274.5 631.3h.1M288.7 629.8h.1M288.4 629.8h.1M285.6 631.4h.1M285.7 628.9h.1M272.9 630.7h.1M273.5 631.7h.1M279.7 635.3h.1M280.6 628.2h.1M271.7 625.1h.1M287.7 625.3h.1M284.4 626.4h.1M276.3 632.5h.1M283.8 631.9h.1M272.7 634.8h.1M286.6 629.7h.1M276.7 636.2h.1M288.6 632.4h.1M279.9 625.0h.1M280.1 632.2h.1M286.0 627.8h.1M284.0 628.7h.1M279.2 629.9h.1M287.5 632.0h.1M275.4 629.8h.1M270.9 633.7h.1M279.2 632.3h.1M274.9 634.2h.1M282.3 630.1h.1M274.9 632.9h.1M276.1 634.4h.1M282.7 637.6h.1M276.8 626.6h.1M293.1 626.6h.1M272.6 627.7h.1M277.3 630.6h.1M284.4 630.1h.1" stroke="#f2cc4c" stroke-width="0.75" stroke-linecap="round"/>
<path d="M288.9 622.8h.1M287.6 629.3h.1M292.3 624.8h.1M288.5 626.6h.1M290.3 623.4h.1M297.7 614.6h.1M290.7 620.6h.1M292.7 624.7h.1M284.8 619.8h.1M290.6 630.0h.1M300.0 619.7h.1M284.5 626.1h.1M290.6 627.8h.1M295.7 628.2h.1M293.8 629.4h.1M290.8 622.2h.1M298.7 624.2h.1M289.5 628.5h.1M294.1 621.3h.1M296.8 625.6h.1M288.9 621.3h.1M297.3 622.6h.1M283.1 622.1h.1M292.2 626.8h.1M288.2 629.2h.1M291.7 629.5h.1M285.4 625.1h.1M300.9 624.6h.1M287.1 626.4h.1M285.2 631.2h.1M298.8 619.3h.1M296.2 622.0h.1M299.6 620.7h.1M291.2 617.7h.1M292.7 624.5h.1M301.1 626.6h.1M291.7 624.1h.1M285.8 621.5h.1M293.8 627.1h.1M293.2 627.4h.1M291.7 626.9h.1M285.5 622.6h.1M295.6 622.7h.1M296.2 622.0h.1M288.1 626.9h.1M291.0 627.8h.1M294.6 616.8h.1M296.4 621.8h.1M291.4 626.1h.1M287.9 624.0h.1M295.9 623.7h.1M292.5 619.1h.1M288.4 623.5h.1M293.9 620.3h.1M291.2 626.6h.1M288.9 627.2h.1M290.5 627.6h.1M288.1 626.3h.1M293.9 625.7h.1M280.1 632.2h.1M304.5 620.0h.1M291.2 624.3h.1M288.9 626.2h.1M300.7 621.0h.1M285.0 618.2h.1M286.4 632.2h.1M297.4 620.3h.1M288.5 624.4h.1M289.4 621.2h.1M290.4 622.4h.1M294.9 623.0h.1M295.7 626.7h.1M287.7 628.0h.1M295.1 621.7h.1M284.4 626.9h.1M301.4 623.0h.1M287.0 624.1h.1M297.5 619.9h.1M286.5 619.4h.1M290.2 625.3h.1M286.9 621.6h.1M294.0 624.5h.1M292.0 623.3h.1M297.8 626.0h.1M299.0 620.0h.1M284.5 622.5h.1M290.6 626.0h.1M293.2 621.1h.1M287.7 622.7h.1M288.6 625.0h.1" stroke="#f4cc50" stroke-width="0.75" stroke-linecap="round"/>
<path d="M293.3 600.2h.1M285.1 600.8h.1M301.2 593.4h.1M291.8 599.2h.1M313.8 591.9h.1M315.1 607.3h.1M311.5 589.3h.1M299.7 596.9h.1M316.2 585.7h.1M295.0 596.8h.1M314.9 609.9h.1M315.9 607.6h.1M315.7 592.1h.1M308.7 611.4h.1M291.9 597.8h.1M310.7 590.8h.1M302.8 592.2h.1M316.6 606.9h.1M309.2 609.4h.1M320.9 605.3h.1M312.8 606.6h.1M295.3 591.1h.1M318.4 596.6h.1M315.5 584.5h.1M319.6 594.9h.1M302.3 591.1h.1M313.2 608.4h.1M289.2 603.1h.1M318.9 598.2h.1M314.5 590.0h.1M288.1 602.9h.1M319.7 586.6h.1M307.1 589.3h.1M318.0 612.9h.1M315.6 609.6h.1M319.1 595.5h.1M312.1 584.9h.1M318.1 612.0h.1M311.1 588.2h.1M312.9 611.9h.1M300.5 596.6h.1M301.7 595.0h.1M309.9 589.7h.1M304.0 598.0h.1M315.7 605.1h.1M292.7 596.5h.1M293.9 595.9h.1M319.8 600.9h.1M312.6 590.6h.1M317.4 607.3h.1M312.4 605.9h.1M312.8 614.8h.1M287.5 597.7h.1M300.3 591.3h.1M313.7 598.5h.1M287.6 599.1h.1M312.6 602.1h.1M296.4 599.6h.1M298.5 596.9h.1M311.3 589.9h.1M314.8 608.9h.1M305.1 592.7h.1M316.8 608.8h.1M291.9 596.3h.1M313.5 606.3h.1M320.2 610.6h.1M312.2 587.6h.1M313.4 596.5h.1M296.9 596.9h.1M309.4 590.7h.1M292.0 604.0h.1M315.7 602.5h.1M297.2 594.1h.1M303.7 589.0h.1M313.6 601.7h.1M304.0 591.9h.1M288.1 599.3h.1M292.8 603.2h.1M296.8 596.8h.1M288.1 601.9h.1M318.0 605.8h.1M307.1 594.6h.1M294.2 598.5h.1M317.0 590.9h.1M302.8 593.1h.1M319.2 602.2h.1M316.5 594.1h.1M322.2 601.5h.1M298.1 600.4h.1M311.7 593.1h.1M316.7 598.2h.1M287.8 599.9h.1M315.9 610.5h.1M304.9 590.7h.1M311.5 595.6h.1M313.6 589.9h.1M314.4 591.4h.1M317.0 605.6h.1M310.5 595.9h.1M317.2 599.7h.1M308.3 592.5h.1M317.5 601.5h.1M317.1 588.4h.1M312.1 586.9h.1M315.4 603.8h.1M310.8 610.3h.1M303.2 601.3h.1M319.4 596.8h.1M312.1 586.4h.1M295.7 599.2h.1M308.4 591.0h.1M312.4 607.8h.1M322.2 597.1h.1M315.4 589.5h.1M290.8 603.9h.1M312.5 586.4h.1M315.0 590.4h.1M301.4 599.6h.1M315.4 596.1h.1M289.0 603.1h.1M313.3 584.5h.1M313.3 589.9h.1M315.1 593.5h.1M298.2 595.8h.1M315.2 599.9h.1M319.4 594.6h.1M296.5 598.6h.1M319.0 605.5h.1M314.2 607.5h.1M316.1 586.2h.1M315.2 592.7h.1M316.2 592.9h.1M306.9 598.3h.1M312.2 591.0h.1M317.9 597.7h.1M309.4 591.1h.1M302.3 595.8h.1M310.7 587.4h.1M310.6 589.7h.1M309.9 605.2h.1M318.1 592.2h.1M318.3 599.3h.1M301.1 594.0h.1M310.5 588.9h.1M303.7 593.5h.1M284.5 608.8h.1M302.9 589.6h.1M294.9 598.5h.1M306.8 590.5h.1M316.1 595.7h.1M316.5 609.2h.1M304.2 595.4h.1M322.5 604.6h.1M289.5 598.2h.1M289.6 592.7h.1M320.0 610.4h.1M292.6 599.0h.1M291.1 592.4h.1M317.0 589.6h.1M310.5 594.5h.1M306.0 595.7h.1M320.3 600.4h.1M317.8 599.3h.1M313.4 609.1h.1M308.2 592.6h.1M314.1 586.8h.1M295.2 596.0h.1M294.4 598.4h.1M312.6 605.5h.1M321.3 607.4h.1M320.5 611.7h.1M314.5 606.7h.1M321.5 608.9h.1M316.8 589.9h.1M314.2 595.1h.1M319.0 611.0h.1M316.2 612.2h.1M321.2 608.1h.1M292.3 595.9h.1M320.5 606.0h.1M306.3 590.8h.1M290.1 601.2h.1M319.4 597.3h.1M307.0 607.6h.1M317.1 608.2h.1M316.7 606.7h.1M317.7 600.3h.1M310.5 594.6h.1M311.1 609.7h.1M314.2 600.8h.1M291.6 602.1h.1M288.1 601.2h.1M300.7 598.8h.1M297.1 598.6h.1M310.5 592.3h.1M313.1 601.8h.1M304.1 594.4h.1M316.9 602.3h.1M292.5 598.3h.1M314.1 610.2h.1M310.8 589.0h.1M311.3 590.6h.1M307.7 588.1h.1M294.7 600.1h.1M307.9 593.9h.1M285.9 604.4h.1M304.3 593.2h.1M318.4 592.8h.1M314.9 609.0h.1M311.3 591.7h.1M321.0 595.4h.1M314.1 601.8h.1M315.5 598.8h.1M306.5 592.2h.1M314.9 599.8h.1M294.6 594.5h.1M311.2 589.5h.1M299.5 596.7h.1M313.9 617.3h.1" stroke="#f2d050" stroke-width="0.75" stroke-linecap="round"/>
<path d="M292.8 602.0h.1M291.4 612.9h.1M304.2 604.9h.1M303.3 606.9h.1M307.8 597.3h.1M299.1 618.1h.1M299.7 612.2h.1M288.3 605.2h.1M295.1 612.7h.1M299.4 604.3h.1M303.9 604.7h.1M312.2 601.4h.1M298.4 605.3h.1M302.6 604.9h.1M296.1 612.7h.1M301.9 603.1h.1M295.7 614.2h.1M305.9 603.9h.1M297.5 605.0h.1M290.4 611.0h.1M304.4 605.3h.1M302.2 604.1h.1M293.4 613.4h.1M301.7 604.0h.1M296.3 600.9h.1M311.4 605.0h.1M294.9 606.6h.1M316.5 603.9h.1M296.8 612.1h.1M295.2 608.9h.1M302.9 605.7h.1M311.7 600.7h.1M296.0 607.4h.1M305.6 605.5h.1M294.0 604.4h.1M302.9 604.6h.1M306.5 606.0h.1M312.7 598.0h.1M294.6 605.0h.1M308.1 605.2h.1M314.5 606.4h.1M302.4 603.7h.1M298.2 598.8h.1M301.9 607.6h.1M288.8 611.9h.1M290.2 614.2h.1M303.9 606.9h.1M307.3 606.8h.1M295.5 604.8h.1M303.0 609.1h.1M297.2 604.4h.1M302.5 607.4h.1M310.4 607.3h.1M303.6 603.9h.1M288.2 607.2h.1M303.4 604.7h.1M304.3 600.7h.1M288.5 611.0h.1M303.4 607.1h.1M298.9 610.9h.1M302.2 612.9h.1M313.9 610.0h.1M292.3 613.8h.1M303.9 607.1h.1M306.0 604.0h.1M304.3 610.3h.1M307.3 599.4h.1M312.9 603.8h.1M302.6 607.6h.1M305.5 607.4h.1" stroke="#f4d468" stroke-width="0.75" stroke-linecap="round"/>
<path d="M269.7 620.8h.1M270.2 620.8h.1M269.5 609.1h.1M269.6 621.4h.1M267.8 621.9h.1M270.7 621.9h.1M269.7 614.8h.1M271.0 613.0h.1M272.7 613.6h.1M269.5 613.9h.1M271.3 610.7h.1M270.8 614.1h.1M270.9 618.1h.1M267.8 616.8h.1M272.9 612.4h.1M271.5 614.3h.1M271.8 614.3h.1M277.7 617.0h.1M271.6 612.5h.1M268.4 613.6h.1M267.7 620.7h.1M269.0 613.2h.1M268.5 617.1h.1M269.6 613.4h.1M269.8 613.1h.1M269.8 615.6h.1M271.4 618.1h.1M269.2 611.0h.1M269.7 617.2h.1" stroke="#f2d060" stroke-width="0.75" stroke-linecap="round"/>
<path d="M284.8 599.4h.1M281.8 601.6h.1M284.2 599.3h.1M286.2 598.8h.1M286.8 601.6h.1M284.0 598.6h.1M283.5 602.7h.1M280.8 598.2h.1M283.5 600.2h.1M283.7 598.2h.1M283.5 598.8h.1M284.1 600.7h.1M285.3 600.0h.1M283.0 599.7h.1M287.4 603.3h.1" stroke="#dce870" stroke-width="0.75" stroke-linecap="round"/>
<rect x="266.00" y="582.70" width="58.20" height="57.10" fill="none" stroke="#1a1a1a" stroke-width="1.0"/>
<text x="295.10" y="577.70" font-size="8.4" text-anchor="middle" font-weight="normal" textLength="33.50" lengthAdjust="spacingAndGlyphs">TKI + HIFi</text>
<line x1="263.80" y1="639.20" x2="266.00" y2="639.20" stroke="#222" stroke-width="0.8"/>
<text x="262.80" y="641.60" font-size="6.8" text-anchor="end" fill="#333" stroke="#333" stroke-width="0.122" textLength="3.20" lengthAdjust="spacingAndGlyphs">0</text>
<line x1="263.80" y1="626.90" x2="266.00" y2="626.90" stroke="#222" stroke-width="0.8"/>
<text x="262.80" y="629.30" font-size="6.8" text-anchor="end" fill="#333" stroke="#333" stroke-width="0.122" textLength="6.40" lengthAdjust="spacingAndGlyphs">10</text>
<line x1="263.80" y1="614.20" x2="266.00" y2="614.20" stroke="#222" stroke-width="0.8"/>
<text x="262.80" y="616.60" font-size="6.8" text-anchor="end" fill="#333" stroke="#333" stroke-width="0.122" textLength="6.40" lengthAdjust="spacingAndGlyphs">20</text>
<line x1="263.80" y1="601.70" x2="266.00" y2="601.70" stroke="#222" stroke-width="0.8"/>
<text x="262.80" y="604.10" font-size="6.8" text-anchor="end" fill="#333" stroke="#333" stroke-width="0.122" textLength="6.40" lengthAdjust="spacingAndGlyphs">30</text>
<line x1="263.80" y1="588.80" x2="266.00" y2="588.80" stroke="#222" stroke-width="0.8"/>
<text x="262.80" y="591.20" font-size="6.8" text-anchor="end" fill="#333" stroke="#333" stroke-width="0.122" textLength="6.40" lengthAdjust="spacingAndGlyphs">40</text>
<line x1="266.50" y1="639.80" x2="266.50" y2="642.00" stroke="#222" stroke-width="0.8"/>
<text x="266.50" y="650.40" font-size="7.0" text-anchor="middle" fill="#333" stroke="#333" stroke-width="0.126" textLength="3.30" lengthAdjust="spacingAndGlyphs">0</text>
<line x1="280.50" y1="639.80" x2="280.50" y2="642.00" stroke="#222" stroke-width="0.8"/>
<text x="280.50" y="650.40" font-size="7.0" text-anchor="middle" fill="#333" stroke="#333" stroke-width="0.126" textLength="8.25" lengthAdjust="spacingAndGlyphs">5.0</text>
<line x1="294.60" y1="639.80" x2="294.60" y2="642.00" stroke="#222" stroke-width="0.8"/>
<text x="294.60" y="650.40" font-size="7.0" text-anchor="middle" fill="#333" stroke="#333" stroke-width="0.126" textLength="6.60" lengthAdjust="spacingAndGlyphs">10</text>
<line x1="308.60" y1="639.80" x2="308.60" y2="642.00" stroke="#222" stroke-width="0.8"/>
<text x="308.60" y="650.40" font-size="7.0" text-anchor="middle" fill="#333" stroke="#333" stroke-width="0.126" textLength="6.60" lengthAdjust="spacingAndGlyphs">15</text>
<line x1="322.70" y1="639.80" x2="322.70" y2="642.00" stroke="#222" stroke-width="0.8"/>
<text x="322.70" y="650.40" font-size="7.0" text-anchor="middle" fill="#333" stroke="#333" stroke-width="0.126" textLength="6.60" lengthAdjust="spacingAndGlyphs">20</text>
<line x1="264.80" y1="639.20" x2="266.00" y2="639.20" stroke="#222" stroke-width="0.6"/>
<line x1="264.80" y1="636.74" x2="266.00" y2="636.74" stroke="#222" stroke-width="0.6"/>
<line x1="264.80" y1="634.28" x2="266.00" y2="634.28" stroke="#222" stroke-width="0.6"/>
<line x1="264.80" y1="631.82" x2="266.00" y2="631.82" stroke="#222" stroke-width="0.6"/>
<line x1="264.80" y1="629.36" x2="266.00" y2="629.36" stroke="#222" stroke-width="0.6"/>
<line x1="264.80" y1="626.90" x2="266.00" y2="626.90" stroke="#222" stroke-width="0.6"/>
<line x1="264.80" y1="624.44" x2="266.00" y2="624.44" stroke="#222" stroke-width="0.6"/>
<line x1="264.80" y1="621.98" x2="266.00" y2="621.98" stroke="#222" stroke-width="0.6"/>
<line x1="264.80" y1="619.52" x2="266.00" y2="619.52" stroke="#222" stroke-width="0.6"/>
<line x1="264.80" y1="617.06" x2="266.00" y2="617.06" stroke="#222" stroke-width="0.6"/>
<line x1="264.80" y1="614.60" x2="266.00" y2="614.60" stroke="#222" stroke-width="0.6"/>
<line x1="264.80" y1="612.14" x2="266.00" y2="612.14" stroke="#222" stroke-width="0.6"/>
<line x1="264.80" y1="609.68" x2="266.00" y2="609.68" stroke="#222" stroke-width="0.6"/>
<line x1="264.80" y1="607.22" x2="266.00" y2="607.22" stroke="#222" stroke-width="0.6"/>
<line x1="264.80" y1="604.76" x2="266.00" y2="604.76" stroke="#222" stroke-width="0.6"/>
<line x1="264.80" y1="602.30" x2="266.00" y2="602.30" stroke="#222" stroke-width="0.6"/>
<line x1="264.80" y1="599.84" x2="266.00" y2="599.84" stroke="#222" stroke-width="0.6"/>
<line x1="264.80" y1="597.38" x2="266.00" y2="597.38" stroke="#222" stroke-width="0.6"/>
<line x1="264.80" y1="594.92" x2="266.00" y2="594.92" stroke="#222" stroke-width="0.6"/>
<line x1="264.80" y1="592.46" x2="266.00" y2="592.46" stroke="#222" stroke-width="0.6"/>
<line x1="264.80" y1="590.00" x2="266.00" y2="590.00" stroke="#222" stroke-width="0.6"/>
<line x1="264.80" y1="587.54" x2="266.00" y2="587.54" stroke="#222" stroke-width="0.6"/>
<line x1="264.80" y1="585.08" x2="266.00" y2="585.08" stroke="#222" stroke-width="0.6"/>
<line x1="266.50" y1="639.80" x2="266.50" y2="641.00" stroke="#222" stroke-width="0.6"/>
<line x1="269.30" y1="639.80" x2="269.30" y2="641.00" stroke="#222" stroke-width="0.6"/>
<line x1="272.10" y1="639.80" x2="272.10" y2="641.00" stroke="#222" stroke-width="0.6"/>
<line x1="274.90" y1="639.80" x2="274.90" y2="641.00" stroke="#222" stroke-width="0.6"/>
<line x1="277.70" y1="639.80" x2="277.70" y2="641.00" stroke="#222" stroke-width="0.6"/>
<line x1="280.50" y1="639.80" x2="280.50" y2="641.00" stroke="#222" stroke-width="0.6"/>
<line x1="283.30" y1="639.80" x2="283.30" y2="641.00" stroke="#222" stroke-width="0.6"/>
<line x1="286.10" y1="639.80" x2="286.10" y2="641.00" stroke="#222" stroke-width="0.6"/>
<line x1="288.90" y1="639.80" x2="288.90" y2="641.00" stroke="#222" stroke-width="0.6"/>
<line x1="291.70" y1="639.80" x2="291.70" y2="641.00" stroke="#222" stroke-width="0.6"/>
<line x1="294.50" y1="639.80" x2="294.50" y2="641.00" stroke="#222" stroke-width="0.6"/>
<line x1="297.30" y1="639.80" x2="297.30" y2="641.00" stroke="#222" stroke-width="0.6"/>
<line x1="300.10" y1="639.80" x2="300.10" y2="641.00" stroke="#222" stroke-width="0.6"/>
<line x1="302.90" y1="639.80" x2="302.90" y2="641.00" stroke="#222" stroke-width="0.6"/>
<line x1="305.70" y1="639.80" x2="305.70" y2="641.00" stroke="#222" stroke-width="0.6"/>
<line x1="308.50" y1="639.80" x2="308.50" y2="641.00" stroke="#222" stroke-width="0.6"/>
<line x1="311.30" y1="639.80" x2="311.30" y2="641.00" stroke="#222" stroke-width="0.6"/>
<line x1="314.10" y1="639.80" x2="314.10" y2="641.00" stroke="#222" stroke-width="0.6"/>
<line x1="316.90" y1="639.80" x2="316.90" y2="641.00" stroke="#222" stroke-width="0.6"/>
<line x1="319.70" y1="639.80" x2="319.70" y2="641.00" stroke="#222" stroke-width="0.6"/>
<line x1="322.50" y1="639.80" x2="322.50" y2="641.00" stroke="#222" stroke-width="0.6"/>
<defs><linearGradient id="cbI" x1="0" y1="0" x2="1" y2="0"><stop offset="0" stop-color="#1a237e"/><stop offset="0.15" stop-color="#1f60c0"/><stop offset="0.35" stop-color="#20a8a0"/><stop offset="0.55" stop-color="#8cc83c"/><stop offset="0.72" stop-color="#f0e030"/><stop offset="0.86" stop-color="#f08a20"/><stop offset="1" stop-color="#d8201a"/></linearGradient></defs>
<rect x="163.90" y="659.30" width="29.20" height="5.20" fill="url(#cbI)"/>
<text x="161.30" y="663.80" font-size="6.1" text-anchor="end" fill="#333" stroke="#333" stroke-width="0.110" textLength="34.60" lengthAdjust="spacingAndGlyphs">−1622.4269</text>
<text x="195.70" y="663.80" font-size="6.1" fill="#333" stroke="#333" stroke-width="0.110" textLength="34.00" lengthAdjust="spacingAndGlyphs">262856.655</text>
<text x="126.70" y="672.50" font-size="6.1" fill="#333" stroke="#333" stroke-width="0.110" textLength="41.00" lengthAdjust="spacingAndGlyphs">FJComp-PE-A</text>
<text x="341.50" y="577.00" font-size="11" font-weight="bold" fill="#111" stroke="#111" stroke-width="0.35">J</text>
<line x1="366.80" y1="598.26" x2="366.80" y2="661.70" stroke="#222" stroke-width="1.15"/>
<line x1="364.30" y1="661.20" x2="366.80" y2="661.20" stroke="#222" stroke-width="0.8"/>
<text x="361.50" y="663.68" font-size="6.9" text-anchor="end" fill="#333" stroke="#333" stroke-width="0.124" textLength="3.13" lengthAdjust="spacingAndGlyphs">0</text>
<line x1="364.30" y1="645.84" x2="366.80" y2="645.84" stroke="#222" stroke-width="0.8"/>
<text x="361.50" y="648.32" font-size="6.9" text-anchor="end" fill="#333" stroke="#333" stroke-width="0.124" textLength="6.26" lengthAdjust="spacingAndGlyphs">20</text>
<line x1="364.30" y1="630.48" x2="366.80" y2="630.48" stroke="#222" stroke-width="0.8"/>
<text x="361.50" y="632.96" font-size="6.9" text-anchor="end" fill="#333" stroke="#333" stroke-width="0.124" textLength="6.26" lengthAdjust="spacingAndGlyphs">40</text>
<line x1="364.30" y1="615.12" x2="366.80" y2="615.12" stroke="#222" stroke-width="0.8"/>
<text x="361.50" y="617.60" font-size="6.9" text-anchor="end" fill="#333" stroke="#333" stroke-width="0.124" textLength="6.26" lengthAdjust="spacingAndGlyphs">60</text>
<line x1="364.30" y1="599.76" x2="366.80" y2="599.76" stroke="#222" stroke-width="0.8"/>
<text x="361.50" y="602.24" font-size="6.9" text-anchor="end" fill="#333" stroke="#333" stroke-width="0.124" textLength="6.26" lengthAdjust="spacingAndGlyphs">80</text>
<rect x="372.40" y="632.78" width="7.80" height="28.42" fill="#8898c8"/>
<rect x="384.70" y="636.62" width="7.70" height="24.58" fill="#eb8b80"/>
<rect x="397.10" y="616.66" width="7.80" height="44.54" fill="#acd89c"/>
<rect x="409.60" y="612.05" width="7.80" height="49.15" fill="#a587bb"/>
<rect x="430.00" y="631.25" width="8.30" height="29.95" fill="#8898c8"/>
<rect x="442.70" y="635.40" width="8.10" height="25.80" fill="#eb8b80"/>
<rect x="455.20" y="615.43" width="8.10" height="45.77" fill="#acd89c"/>
<rect x="467.70" y="612.05" width="8.10" height="49.15" fill="#a587bb"/>
<line x1="376.30" y1="632.78" x2="376.30" y2="625.35" stroke="#1b3c7a" stroke-width="0.8"/>
<line x1="374.70" y1="625.35" x2="377.90" y2="625.35" stroke="#1b3c7a" stroke-width="0.9"/>
<line x1="376.30" y1="632.78" x2="376.30" y2="640.21" stroke="#1b3c7a" stroke-width="0.8"/>
<line x1="374.70" y1="640.21" x2="377.90" y2="640.21" stroke="#1b3c7a" stroke-width="0.9"/>
<circle cx="374.12" cy="633.09" r="1.15" fill="#1b3c7a"/>
<circle cx="378.48" cy="636.77" r="1.15" fill="#1b3c7a"/>
<circle cx="376.30" cy="634.99" r="1.15" fill="#1b3c7a"/>
<circle cx="375.21" cy="630.23" r="1.15" fill="#1b3c7a"/>
<circle cx="377.39" cy="641.78" r="1.15" fill="#1b3c7a"/>
<circle cx="378.64" cy="619.83" r="1.15" fill="#1b3c7a"/>
<line x1="388.55" y1="636.62" x2="388.55" y2="635.69" stroke="#c4122e" stroke-width="0.8"/>
<line x1="386.95" y1="635.69" x2="390.15" y2="635.69" stroke="#c4122e" stroke-width="0.9"/>
<line x1="388.55" y1="636.62" x2="388.55" y2="637.56" stroke="#c4122e" stroke-width="0.8"/>
<line x1="386.95" y1="637.56" x2="390.15" y2="637.56" stroke="#c4122e" stroke-width="0.9"/>
<circle cx="386.39" cy="637.36" r="1.15" fill="#c4122e"/>
<circle cx="390.71" cy="636.04" r="1.15" fill="#c4122e"/>
<circle cx="388.55" cy="637.20" r="1.15" fill="#c4122e"/>
<circle cx="387.47" cy="635.60" r="1.15" fill="#c4122e"/>
<circle cx="389.63" cy="637.80" r="1.15" fill="#c4122e"/>
<circle cx="390.86" cy="635.75" r="1.15" fill="#c4122e"/>
<line x1="401.00" y1="616.66" x2="401.00" y2="614.47" stroke="#3fae3f" stroke-width="0.8"/>
<line x1="399.40" y1="614.47" x2="402.60" y2="614.47" stroke="#3fae3f" stroke-width="0.9"/>
<line x1="401.00" y1="616.66" x2="401.00" y2="618.84" stroke="#3fae3f" stroke-width="0.8"/>
<line x1="399.40" y1="618.84" x2="402.60" y2="618.84" stroke="#3fae3f" stroke-width="0.9"/>
<circle cx="398.82" cy="615.56" r="1.15" fill="#3fae3f"/>
<circle cx="403.18" cy="616.09" r="1.15" fill="#3fae3f"/>
<circle cx="401.00" cy="620.09" r="1.15" fill="#3fae3f"/>
<circle cx="399.91" cy="613.60" r="1.15" fill="#3fae3f"/>
<circle cx="402.09" cy="617.78" r="1.15" fill="#3fae3f"/>
<circle cx="403.34" cy="616.82" r="1.15" fill="#3fae3f"/>
<line x1="413.50" y1="612.05" x2="413.50" y2="605.01" stroke="#3d1656" stroke-width="0.8"/>
<line x1="411.90" y1="605.01" x2="415.10" y2="605.01" stroke="#3d1656" stroke-width="0.9"/>
<line x1="413.50" y1="612.05" x2="413.50" y2="619.09" stroke="#3d1656" stroke-width="0.8"/>
<line x1="411.90" y1="619.09" x2="415.10" y2="619.09" stroke="#3d1656" stroke-width="0.9"/>
<circle cx="411.32" cy="610.35" r="1.15" fill="#3d1656"/>
<circle cx="415.68" cy="604.62" r="1.15" fill="#3d1656"/>
<circle cx="413.50" cy="621.48" r="1.15" fill="#3d1656"/>
<circle cx="412.41" cy="605.64" r="1.15" fill="#3d1656"/>
<circle cx="414.59" cy="610.55" r="1.15" fill="#3d1656"/>
<circle cx="415.84" cy="619.64" r="1.15" fill="#3d1656"/>
<line x1="434.15" y1="631.25" x2="434.15" y2="626.96" stroke="#1b3c7a" stroke-width="0.8"/>
<line x1="432.55" y1="626.96" x2="435.75" y2="626.96" stroke="#1b3c7a" stroke-width="0.9"/>
<line x1="434.15" y1="631.25" x2="434.15" y2="635.53" stroke="#1b3c7a" stroke-width="0.8"/>
<line x1="432.55" y1="635.53" x2="435.75" y2="635.53" stroke="#1b3c7a" stroke-width="0.9"/>
<circle cx="431.83" cy="625.31" r="1.15" fill="#1b3c7a"/>
<circle cx="436.47" cy="626.99" r="1.15" fill="#1b3c7a"/>
<circle cx="434.15" cy="631.17" r="1.15" fill="#1b3c7a"/>
<circle cx="432.99" cy="635.96" r="1.15" fill="#1b3c7a"/>
<circle cx="435.31" cy="633.46" r="1.15" fill="#1b3c7a"/>
<circle cx="436.64" cy="634.60" r="1.15" fill="#1b3c7a"/>
<line x1="446.75" y1="635.40" x2="446.75" y2="632.51" stroke="#c4122e" stroke-width="0.8"/>
<line x1="445.15" y1="632.51" x2="448.35" y2="632.51" stroke="#c4122e" stroke-width="0.9"/>
<line x1="446.75" y1="635.40" x2="446.75" y2="638.28" stroke="#c4122e" stroke-width="0.8"/>
<line x1="445.15" y1="638.28" x2="448.35" y2="638.28" stroke="#c4122e" stroke-width="0.9"/>
<circle cx="444.48" cy="632.36" r="1.15" fill="#c4122e"/>
<circle cx="449.02" cy="637.34" r="1.15" fill="#c4122e"/>
<circle cx="446.75" cy="634.25" r="1.15" fill="#c4122e"/>
<circle cx="445.62" cy="640.09" r="1.15" fill="#c4122e"/>
<circle cx="447.88" cy="635.23" r="1.15" fill="#c4122e"/>
<circle cx="449.18" cy="633.09" r="1.15" fill="#c4122e"/>
<line x1="459.25" y1="615.43" x2="459.25" y2="612.71" stroke="#3fae3f" stroke-width="0.8"/>
<line x1="457.65" y1="612.71" x2="460.85" y2="612.71" stroke="#3fae3f" stroke-width="0.9"/>
<line x1="459.25" y1="615.43" x2="459.25" y2="618.15" stroke="#3fae3f" stroke-width="0.8"/>
<line x1="457.65" y1="618.15" x2="460.85" y2="618.15" stroke="#3fae3f" stroke-width="0.9"/>
<circle cx="456.98" cy="614.48" r="1.15" fill="#3fae3f"/>
<circle cx="461.52" cy="620.53" r="1.15" fill="#3fae3f"/>
<circle cx="459.25" cy="615.30" r="1.15" fill="#3fae3f"/>
<circle cx="458.12" cy="612.34" r="1.15" fill="#3fae3f"/>
<circle cx="460.38" cy="614.94" r="1.15" fill="#3fae3f"/>
<circle cx="461.68" cy="614.96" r="1.15" fill="#3fae3f"/>
<line x1="471.75" y1="612.05" x2="471.75" y2="607.11" stroke="#3d1656" stroke-width="0.8"/>
<line x1="470.15" y1="607.11" x2="473.35" y2="607.11" stroke="#3d1656" stroke-width="0.9"/>
<line x1="471.75" y1="612.05" x2="471.75" y2="616.98" stroke="#3d1656" stroke-width="0.8"/>
<line x1="470.15" y1="616.98" x2="473.35" y2="616.98" stroke="#3d1656" stroke-width="0.9"/>
<circle cx="469.48" cy="613.08" r="1.15" fill="#3d1656"/>
<circle cx="474.02" cy="613.63" r="1.15" fill="#3d1656"/>
<circle cx="471.75" cy="620.43" r="1.15" fill="#3d1656"/>
<circle cx="470.62" cy="610.62" r="1.15" fill="#3d1656"/>
<circle cx="472.88" cy="607.08" r="1.15" fill="#3d1656"/>
<circle cx="474.18" cy="607.44" r="1.15" fill="#3d1656"/>
<line x1="366.30" y1="661.20" x2="481.20" y2="661.20" stroke="#222" stroke-width="1.15"/>
<line x1="394.90" y1="661.20" x2="394.90" y2="663.40" stroke="#222" stroke-width="0.8"/>
<text x="394.90" y="673.70" font-size="6.9" text-anchor="middle" fill="#333" stroke="#333" stroke-width="0.124" textLength="46.47" lengthAdjust="spacingAndGlyphs">LTHSC-dormant</text>
<line x1="452.90" y1="661.20" x2="452.90" y2="663.40" stroke="#222" stroke-width="0.8"/>
<text x="452.90" y="673.70" font-size="6.9" text-anchor="middle" fill="#333" stroke="#333" stroke-width="0.124" textLength="42.53" lengthAdjust="spacingAndGlyphs">LTHSC-cycling</text>
<path d="M376.00 592.90V573.10H413.50V582.00" fill="none" stroke="#333" stroke-width="0.9"/>
<text x="388.45" y="572.80" font-size="7.6" text-anchor="middle" font-weight="bold" fill="#222">*</text>
<text x="392.65" y="572.80" font-size="7.6" text-anchor="middle" font-weight="bold" fill="#222">*</text>
<text x="396.85" y="572.80" font-size="7.6" text-anchor="middle" font-weight="bold" fill="#222">*</text>
<text x="401.05" y="572.80" font-size="7.6" text-anchor="middle" font-weight="bold" fill="#222">*</text>
<path d="M388.30 588.10V584.70H413.50V599.80" fill="none" stroke="#333" stroke-width="0.9"/>
<text x="394.60" y="584.40" font-size="7.6" text-anchor="middle" font-weight="bold" fill="#222">*</text>
<text x="398.80" y="584.40" font-size="7.6" text-anchor="middle" font-weight="bold" fill="#222">*</text>
<text x="403.00" y="584.40" font-size="7.6" text-anchor="middle" font-weight="bold" fill="#222">*</text>
<text x="407.20" y="584.40" font-size="7.6" text-anchor="middle" font-weight="bold" fill="#222">*</text>
<path d="M376.00 622.60V596.10H400.90V606.60" fill="none" stroke="#333" stroke-width="0.9"/>
<text x="382.15" y="595.80" font-size="7.6" text-anchor="middle" font-weight="bold" fill="#222">*</text>
<text x="386.35" y="595.80" font-size="7.6" text-anchor="middle" font-weight="bold" fill="#222">*</text>
<text x="390.55" y="595.80" font-size="7.6" text-anchor="middle" font-weight="bold" fill="#222">*</text>
<text x="394.75" y="595.80" font-size="7.6" text-anchor="middle" font-weight="bold" fill="#222">*</text>
<path d="M434.00 580.30V573.10H471.50V592.70" fill="none" stroke="#333" stroke-width="0.9"/>
<text x="446.45" y="572.80" font-size="7.6" text-anchor="middle" font-weight="bold" fill="#222">*</text>
<text x="450.65" y="572.80" font-size="7.6" text-anchor="middle" font-weight="bold" fill="#222">*</text>
<text x="454.85" y="572.80" font-size="7.6" text-anchor="middle" font-weight="bold" fill="#222">*</text>
<text x="459.05" y="572.80" font-size="7.6" text-anchor="middle" font-weight="bold" fill="#222">*</text>
<path d="M434.00 622.60V584.90H459.10V587.70" fill="none" stroke="#333" stroke-width="0.9"/>
<text x="440.25" y="584.60" font-size="7.6" text-anchor="middle" font-weight="bold" fill="#222">*</text>
<text x="444.45" y="584.60" font-size="7.6" text-anchor="middle" font-weight="bold" fill="#222">*</text>
<text x="448.65" y="584.60" font-size="7.6" text-anchor="middle" font-weight="bold" fill="#222">*</text>
<text x="452.85" y="584.60" font-size="7.6" text-anchor="middle" font-weight="bold" fill="#222">*</text>
<path d="M446.50 630.60V596.10H471.50V599.80" fill="none" stroke="#333" stroke-width="0.9"/>
<text x="452.70" y="595.80" font-size="7.6" text-anchor="middle" font-weight="bold" fill="#222">*</text>
<text x="456.90" y="595.80" font-size="7.6" text-anchor="middle" font-weight="bold" fill="#222">*</text>
<text x="461.10" y="595.80" font-size="7.6" text-anchor="middle" font-weight="bold" fill="#222">*</text>
<text x="465.30" y="595.80" font-size="7.6" text-anchor="middle" font-weight="bold" fill="#222">*</text>
<text x="349.40" y="629.70" font-size="7.2" text-anchor="middle" fill="#333" stroke="#333" stroke-width="0.130" textLength="31.30" lengthAdjust="spacingAndGlyphs" transform="rotate(-90 349.40 629.70)">% Mitosox</text>
<circle cx="485.80" cy="601.30" r="1.15" fill="#1a2a48"/>
<text x="490.20" y="603.10" font-size="6.2" stroke="#2a2a2a" stroke-width="0.112" textLength="18.22" lengthAdjust="spacingAndGlyphs">Vehicle</text>
<circle cx="485.80" cy="610.00" r="1.15" fill="#8a1024"/>
<text x="490.20" y="611.80" font-size="6.2" stroke="#2a2a2a" stroke-width="0.112" textLength="8.79" lengthAdjust="spacingAndGlyphs">TKI</text>
<circle cx="485.80" cy="618.80" r="1.15" fill="#2a7a34"/>
<text x="490.20" y="620.60" font-size="6.2" stroke="#2a2a2a" stroke-width="0.112" textLength="10.36" lengthAdjust="spacingAndGlyphs">HIFi</text>
<circle cx="485.80" cy="627.70" r="1.15" fill="#220a30"/>
<text x="490.20" y="629.50" font-size="6.2" stroke="#2a2a2a" stroke-width="0.112" textLength="22.45" lengthAdjust="spacingAndGlyphs">TKI+HIFi</text>
<rect x="0.5" y="0.5" width="519" height="681" fill="none" stroke="#4a4a4a" stroke-width="1"/>
</svg></body></html>
